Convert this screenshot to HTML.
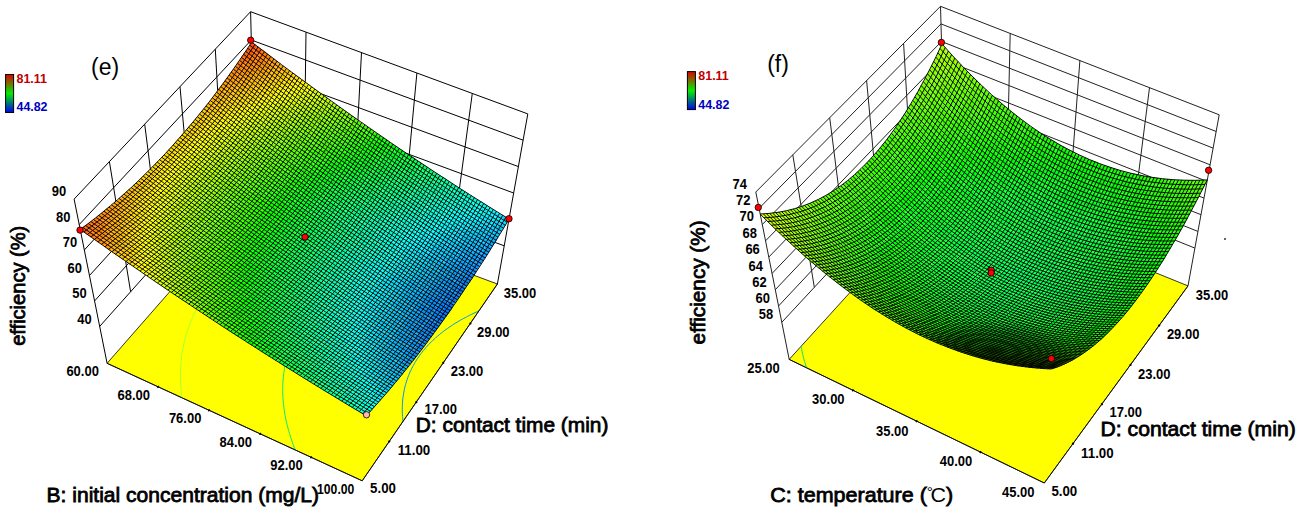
<!DOCTYPE html>
<html><head><meta charset="utf-8"><style>
html,body{margin:0;padding:0;background:#fff;}
body{width:1302px;height:518px;overflow:hidden;position:relative;font-family:"Liberation Sans",sans-serif;}
svg{position:absolute;left:0;top:0;}
</style></head><body>
<svg width="1302" height="518" viewBox="0 0 1302 518">
<defs><radialGradient id="dk"><stop offset="0" stop-color="#000" stop-opacity="0.45"/><stop offset="0.6" stop-color="#000" stop-opacity="0.315"/><stop offset="1" stop-color="#000" stop-opacity="0"/></radialGradient><linearGradient id="lg" x1="0" y1="0" x2="0" y2="1"><stop offset="0" stop-color="#e00000"/><stop offset="0.5" stop-color="#00f000"/><stop offset="1" stop-color="#0000f0"/></linearGradient></defs>
<path d="M99.7 326.4L254.1 153.2M254.1 153.2L504.2 245.8M94.6 300.9L253.4 124.9M253.4 124.9L508.9 219.4M89.5 275.5L252.7 96.6M252.7 96.6L513.6 193M84.3 250L252 68.3M252 68.3L518.4 166.6M79.2 224.6L251.3 40M251.3 40L523.1 140.2M74.1 199.1L250.6 11.7M250.6 11.7L527.8 113.9M130.6 291.7L109.4 161.6M161.5 257.1L144.7 124.2M192.3 222.4L180 86.7M223.2 187.8L215.3 49.2M304.1 171.7L306 32.1M354.2 190.2L361.5 52.6M404.2 208.7L416.9 73M454.2 227.3L472.3 93.4M107.1 363.3L74.1 199.1M497.4 284L527.8 113.9M254.1 153.2L250.6 11.7" fill="none" stroke="#000" stroke-width="1"/>
<polygon points="107.1,363.3 362.2,480.8 497.4,284 255.1,194.2" fill="#ffff00" stroke="#000" stroke-width="0.8"/>
<path d="M181.8 395.9L181.7 395.5M182 397.9L181.8 395.9M181.7 395.5L181.4 393.1M181.4 392.8L181.2 390.7M181.4 393.1L181.4 392.8M181.1 389.7L181 388.3M181.2 390.7L181.1 389.7M180.8 386.5L180.8 386M181 388.3L180.8 386.5M180.8 386L180.7 383.7M180.6 383.2L180.6 381.4M180.7 383.7L180.6 383.2M180.5 379.9L180.5 379.1M180.6 381.4L180.5 379.9M180.5 379.1L180.5 376.8M180.5 376.5L180.5 374.6M180.5 376.8L180.5 376.5M180.5 373L180.5 372.4M180.5 374.6L180.5 373M180.5 372.4L180.5 370.2M180.6 369.4L180.6 368M180.5 370.2L180.6 369.4M180.6 368L180.8 365.8M180.8 365.7L180.9 363.7M180.8 365.8L180.8 365.7M181.1 361.9L181.1 361.6M180.9 363.7L181.1 361.9M181.1 361.6L181.3 359.5M181.5 358L181.5 357.4M181.3 359.5L181.5 358M181.5 357.4L181.8 355.3M182 354L182.1 353.2M181.8 355.3L182 354M182.1 353.2L182.4 351.2M182.7 349.7L182.8 349.2M182.4 351.2L182.7 349.7M182.8 349.2L183.2 347.2M183.5 345.3L183.6 345.2M183.2 347.2L183.5 345.3M183.6 345.2L184 343.2M184 343.2L184.5 341.3M184.6 340.6L184.9 339.3M184.5 341.3L184.6 340.6M184.9 339.3L185.5 337.4M186 335.6L186 335.5M185.5 337.4L186 335.6M186 335.5L186.6 333.6M186.6 333.6L187.1 331.7M187.6 330.3L187.8 329.8M187.1 331.7L187.6 330.3M187.8 329.8L188.4 328M188.4 328L189.1 326.2M189.7 324.4L189.7 324.3M189.1 326.2L189.7 324.4M189.7 324.3L190.5 322.5M190.5 322.5L191.2 320.7M191.2 320.7L191.9 319M192.5 317.7L192.7 317.2M191.9 319L192.5 317.7M192.7 317.2L193.5 315.5M193.5 315.5L194.4 313.7M194.4 313.7L195.2 312M195.2 312L196.1 310.3M196.4 309.8L197 308.6M196.1 310.3L196.4 309.8M197 308.6L197.9 306.9M197.9 306.9L198.8 305.3M198.8 305.3L199.8 303.6M199.8 303.6L200.8 302M200.8 302L201.8 300.3M201.8 300.3L202.8 298.7M202.8 298.7L203.9 297.1M202.8 298.7L202.8 298.7M203.9 297.1L204.9 295.5M204.9 295.5L206 293.9M206 293.9L207.1 292.4M207.1 292.4L208.3 290.8M208.3 290.8L209.4 289.3M209.4 289.3L210.6 287.8M210.6 287.8L211.8 286.2M211.8 286.2L213 284.7M213 284.7L214.3 283.2M214.3 283.2L215.5 281.8M215.5 281.8L216.8 280.3M216.8 280.3L218.1 278.8M218.1 278.8L219.4 277.4M219.4 277.4L220.8 276M220.8 276L222.1 274.5M222.1 274.5L223.5 273.1M223.5 273.1L224.9 271.7M224.9 271.7L226.3 270.3M226.3 270.3L226.6 270.1M227.8 269L226.6 270.1M227.8 269L229.2 267.6M229.2 267.6L230.7 266.2M230.7 266.2L232.2 264.9M232.2 264.9L233.7 263.6M233.7 263.6L235.3 262.3M235.3 262.3L236.8 260.9M236.8 260.9L236.9 260.9M238.4 259.6L236.9 260.9M238.4 259.6L240 258.4M240 258.4L241.6 257.1M241.6 257.1L243.2 255.8M243.2 255.8L244.6 254.8M244.9 254.6L244.6 254.8M244.9 254.6L246.6 253.3M246.6 253.3L248.3 252.1M248.3 252.1L250 250.9M250 250.9L251.2 250M251.7 249.6L251.2 250M251.7 249.6L253.5 248.4M253.5 248.4L255.2 247.2M255.2 247.2L257 246.1M257 246.1L257.1 246M258.8 244.9L257.1 246M258.8 244.9L260.7 243.7M260.7 243.7L262.5 242.6M262.5 242.6L262.6 242.5M264.4 241.4L262.6 242.5M264.4 241.4L266.3 240.3M266.3 240.3L267.8 239.4M268.2 239.2L267.8 239.4M268.2 239.2L270.1 238.1M270.1 238.1L272 237M272 237L272.7 236.6M274 235.9L272.7 236.6M274 235.9L276 234.8M276 234.8L277.5 234M278 233.8L277.5 234M278 233.8L280 232.7M280 232.7L282 231.7M282.1 231.7L282 231.7M282.1 231.7L284.1 230.6M284.1 230.6L286.2 229.6M286.2 229.6L286.4 229.5M288.3 228.6L286.4 229.5M288.3 228.6L290.4 227.6M290.4 227.6L290.7 227.4M292.6 226.6L290.7 227.4M292.6 226.6L294.7 225.6M294.7 225.6L294.9 225.5M296.9 224.6L294.9 225.5M296.9 224.6L298.9 223.7M299.1 223.6L298.9 223.7M299.1 223.6L301.4 222.7M301.4 222.7L302.9 222M303.6 221.7L302.9 222M303.6 221.7L305.9 220.8M305.9 220.8L306.8 220.4M308.1 219.9L306.8 220.4M308.1 219.9L310.4 219M310.4 219L310.7 218.9M312.8 218.1L310.7 218.9M312.8 218.1L314.4 217.4M315.1 217.2L314.4 217.4M315.1 217.2L317.5 216.3M317.5 216.3L318.2 216M319.9 215.4L318.2 216M319.9 215.4L321.8 214.7M322.3 214.5L321.8 214.7M322.3 214.5L324.7 213.7" fill="none" stroke="#a8ff30" stroke-width="1"/>
<path d="M294.4 447.9L294.2 447.2M295.3 450.1L294.4 447.9M293.4 445.2L293.1 444.4M294.2 447.2L293.4 445.2M292.5 442.6L292.1 441.6M293.1 444.4L292.5 442.6M291.6 439.9L291.2 438.9M292.1 441.6L291.6 439.9M290.7 437.2L290.3 436.1M291.2 438.9L290.7 437.2M289.8 434.4L289.5 433.5M290.3 436.1L289.8 434.4M289 431.6L288.7 430.8M289.5 433.5L289 431.6M288.2 428.8L288 428.2M288.7 430.8L288.2 428.8M287.4 425.9L287.3 425.6M288 428.2L287.4 425.9M287.3 425.6L286.7 423M286.7 422.9L286.1 420.5M286.7 423L286.7 422.9M286 420L285.6 417.9M286.1 420.5L286 420M285.4 416.9L285.1 415.4M285.6 417.9L285.4 416.9M284.9 413.8L284.7 413M285.1 415.4L284.9 413.8M284.3 410.7L284.3 410.5M284.7 413L284.3 410.7M284.3 410.5L284 408.1M283.9 407.5L283.7 405.7M284 408.1L283.9 407.5M283.5 404.2L283.4 403.4M283.7 405.7L283.5 404.2M283.4 403.4L283.2 401M283.2 400.8L283 398.7M283.2 401L283.2 400.8M282.9 397.4L282.9 396.4M283 398.7L282.9 397.4M282.9 396.4L282.8 394.1M282.8 393.8L282.7 391.9M282.8 394.1L282.8 393.8M282.7 390.1L282.7 389.7M282.7 391.9L282.7 390.1M282.7 389.7L282.7 387.5M282.8 386.3L282.8 385.3M282.7 387.5L282.8 386.3M282.8 385.3L282.9 383.1M282.9 382.4L283 381M282.9 383.1L282.9 382.4M283 381L283.2 378.8M283.2 378.3L283.4 376.7M283.2 378.8L283.2 378.3M283.4 376.7L283.6 374.7M283.7 373.9L283.9 372.6M283.6 374.7L283.7 373.9M283.9 372.6L284.2 370.5M284.4 369.4L284.5 368.5M284.2 370.5L284.4 369.4M284.5 368.5L284.9 366.5M284.9 366.5L285.3 364.5M285.3 364.5L285.7 362.6M285.3 364.5L285.3 364.5M285.7 362.6L286.2 360.6M286.5 359.2L286.7 358.7M286.2 360.6L286.5 359.2M286.7 358.7L287.2 356.8M287.2 356.8L287.8 354.9M288.2 353.3L288.4 353M287.8 354.9L288.2 353.3M288.4 353L289 351.1M289 351.1L289.6 349.3M289.6 349.3L290.3 347.5M290.6 346.6L291 345.6M290.3 347.5L290.6 346.6M291 345.6L291.7 343.8M291.7 343.8L292.5 342.1M292.5 342.1L293.3 340.3M293.3 340.3L294.1 338.6M294.3 338.2L295 336.8M294.1 338.6L294.3 338.2M295 336.8L295.9 335.1M295.9 335.1L296.8 333.4M296.8 333.4L297.7 331.7M297.7 331.7L298.7 330.1M298.7 330.1L299.6 328.4M299.6 328.4L300.7 326.8M300.7 326.8L301.7 325.1M302.3 324.3L302.8 323.5M301.7 325.1L302.3 324.3M302.8 323.5L303.9 321.9M303.9 321.9L305 320.4M305 320.4L306.1 318.8M306.1 318.8L307.3 317.2M307.3 317.2L308.5 315.7M308.5 315.7L309.7 314.2M309.7 314.2L311 312.7M311 312.7L312.3 311.2M312.3 311.2L313.1 310.2M313.6 309.7L313.1 310.2M313.6 309.7L314.9 308.2M314.9 308.2L316.2 306.8M316.2 306.8L317.6 305.3M317.6 305.3L319 303.9M319 303.9L320.4 302.5M320.4 302.5L321.9 301.1M321.9 301.1L323.4 299.7M323.4 299.7L324.9 298.3M324.9 298.3L325.2 298.1M326.4 297L325.2 298.1M326.4 297L327.9 295.6M327.9 295.6L329.5 294.3M329.5 294.3L331.1 293M331.1 293L332.7 291.7M332.7 291.7L332.9 291.6M334.4 290.4L332.9 291.6M334.4 290.4L336 289.1M336 289.1L337.7 287.8M337.7 287.8L339.3 286.7M339.5 286.6L339.3 286.7M339.5 286.6L341.2 285.3M341.2 285.3L343 284.1M343 284.1L344.8 282.9M344.8 282.9L345 282.7M346.6 281.7L345 282.7M346.6 281.7L348.4 280.5M348.4 280.5L350.3 279.3M350.3 279.3L350.3 279.3M352.2 278.1L350.3 279.3M352.2 278.1L354.1 277M354.1 277L355.3 276.3M356.1 275.9L355.3 276.3M356.1 275.9L358 274.7M358 274.7L360 273.6M360 273.6L360 273.6M362 272.5L360 273.6M362 272.5L364.1 271.4M364.1 271.4L364.6 271.2M366.1 270.3L364.6 271.2M366.1 270.3L368.2 269.3M368.2 269.3L368.9 268.9M370.3 268.2L368.9 268.9M370.3 268.2L372.5 267.2M372.5 267.2L373.2 266.8M374.6 266.1L373.2 266.8M374.6 266.1L376.8 265.1M376.8 265.1L377.3 264.9M379 264.1L377.3 264.9M379 264.1L381.3 263.1M381.3 263.1L381.3 263.1M383.6 262.1L381.3 263.1M383.6 262.1L385.2 261.4M385.8 261.2L385.2 261.4M385.8 261.2L388.2 260.2M388.2 260.2L389.1 259.9M390.5 259.3L389.1 259.9M390.5 259.3L392.9 258.4M392.9 258.4L392.9 258.4M392.9 258.4L395.3 257.4M395.3 257.4L396.6 257M397.7 256.5L396.6 257M397.7 256.5L400.1 255.6M400.1 255.6L400.2 255.6M402.6 254.8L400.2 255.6M402.6 254.8L403.8 254.4M405.1 253.9L403.8 254.4M405.1 253.9L407.4 253.1M407.7 253L407.4 253.1M407.7 253L410.2 252.2M410.2 252.2L410.9 252M412.8 251.4L410.9 252M412.8 251.4L414.3 250.9M415.4 250.6L414.3 250.9" fill="none" stroke="#00e878" stroke-width="1"/>
<path d="M403 421.3L403 421.1M403 421.1L402.7 418.8M402.6 417.7L402.5 416.5M402.7 418.8L402.6 417.7M402.5 416.5L402.4 414.2M402.4 413.8L402.3 411.9M402.4 414.2L402.4 413.8M402.3 409.8L402.3 409.7M402.3 411.9L402.3 409.8M402.3 409.7L402.3 407.5M402.4 405.6L402.4 405.4M402.3 407.5L402.4 405.6M402.4 405.4L402.5 403.2M402.6 401.1L402.6 401.1M402.5 403.2L402.6 401.1M402.6 401.1L402.8 399M402.8 399L403.1 396.9M403.2 396.2L403.4 394.9M403.1 396.9L403.2 396.2M403.4 394.9L403.7 392.9M404.1 390.9L404.1 390.9M403.7 392.9L404.1 390.9M404.1 390.9L404.5 388.9M404.5 388.9L404.9 386.9M404.9 386.9L405.4 385M405.5 384.7L406 383.1M405.4 385L405.5 384.7M406 383.1L406.6 381.2M406.6 381.2L407.2 379.3M407.2 379.3L407.8 377.5M407.9 377.2L408.5 375.6M407.8 377.5L407.9 377.2M408.5 375.6L409.3 373.8M409.3 373.8L410 372M410 372L410.9 370.3M410.9 370.3L411.7 368.5M411.7 368.5L412.6 366.8M413.1 365.8L413.5 365.1M412.6 366.8L413.1 365.8M413.5 365.1L414.5 363.4M414.5 363.4L415.5 361.7M415.5 361.7L416.5 360M416.5 360L417.6 358.4M417.6 358.4L418.7 356.8M418.7 356.8L419.8 355.2M419.8 355.2L421 353.6M421 353.6L422.2 352.1M422.2 352.1L423.4 350.5M423.4 350.5L424.7 349M424.7 349L425.8 347.7M426 347.5L425.8 347.7M426 347.5L427.3 346M427.3 346L428.7 344.5M428.7 344.5L430.1 343.1M430.1 343.1L431.6 341.6M431.6 341.6L433 340.2M433 340.2L434.6 338.8M434.6 338.8L435.3 338.2M436.1 337.4L435.3 338.2M436.1 337.4L437.7 336M437.7 336L439.3 334.7M439.3 334.7L440.9 333.3M440.9 333.3L441.9 332.6M442.6 332L441.9 332.6M442.6 332L444.3 330.7M444.3 330.7L446.1 329.4M446.1 329.4L447.7 328.3M447.9 328.2L447.7 328.3M447.9 328.2L449.7 326.9M449.7 326.9L451.5 325.7M451.5 325.7L452.8 324.8M453.4 324.4L452.8 324.8M453.4 324.4L455.3 323.2M455.3 323.2L457.2 322.1M457.2 322.1L457.7 321.8M459.2 320.9L457.7 321.8M459.2 320.9L461.2 319.7M461.2 319.7L462.2 319.2M463.3 318.6L462.2 319.2M463.3 318.6L465.4 317.5M465.4 317.5L466.6 316.8M467.5 316.4L466.6 316.8M467.5 316.4L469.6 315.3M469.6 315.3L470.8 314.7M471.8 314.2L470.8 314.7M471.8 314.2L474 313.1M474 313.1L474.9 312.7M476.3 312.1L474.9 312.7M476.3 312.1L478.6 311.1M478.6 311.1L478.8 311" fill="none" stroke="#0096e6" stroke-width="1"/>
<path d="M107.1 363.3L362.2 480.8L497.4 284" fill="none" stroke="#000" stroke-width="0.8"/>
<path d="M158.8 386.1l-1.5 1.5M209.8 409.6l-1.5 1.5M260.9 433.1l-1.5 1.5M311.9 456.6l-1.5 1.5M388.5 440.7l1.5 1.5M415.6 401.4l1.5 1.5M442.6 362l1.5 1.5M469.7 322.7l1.5 1.5" fill="none" stroke="#000" stroke-width="1.6"/>
<path d="M80 229 86 234 90 231 84 226" fill="#ff5c00"/>
<path d="M86 234 92 238 96 235 90 231M251 56 256 60 259 55 254 51" fill="#ff6d00"/>
<path d="M92 238 98 242 102 239 96 235" fill="#ff7e00"/>
<path d="M98 242 104 246 108 243 102 239" fill="#ff8f00"/>
<path d="M104 246 110 251 114 247 108 243" fill="#ffa000"/>
<path d="M110 251 116 255 120 252 114 247M115 211 121 216 124 212 119 208M228 88 234 92 237 88 231 84M264 73 269 77 272 72 267 68" fill="#ffb000"/>
<path d="M116 255 122 259 126 256 120 252M121 216 126 220 130 216 124 212" fill="#ffc100"/>
<path d="M122 259 128 263 132 260 126 256M134 194 140 199 144 195 138 191M143 176 149 180 153 177 147 173M212 110 217 114 221 110 215 105M227 101 233 105 236 101 230 97" fill="#ffd100"/>
<path d="M128 263 134 267 138 264 132 260M128 245 134 249 138 246 132 242M134 213 140 217 144 214 138 210" fill="#ffe100"/>
<path d="M134 267 140 271 144 268 138 264M134 249 140 253 144 250 138 246M151 188 157 192 160 189 155 184M207 126 213 131 216 126 211 122M253 100 259 104 262 99 257 95" fill="#fff100"/>
<path d="M140 271 146 275 150 272 144 268M176 162 182 166 185 162 180 158M180 158 185 162 189 159 183 155M183 155 189 159 192 155 187 151M247 109 252 113 256 108 250 104" fill="#feff00"/>
<path d="M146 275 152 279 156 276 150 272M153 214 159 219 163 215 157 211M175 174 180 178 184 174 178 170M196 151 201 155 205 151 199 147M299 92 305 96 308 91 303 87" fill="#eeff00"/>
<path d="M152 279 158 283 162 280 156 276M177 182 183 186 186 182 180 178M246 121 251 125 255 121 249 117" fill="#dfff00"/>
<path d="M158 283 164 288 168 284 162 280M278 111 284 115 287 111 281 107M290 106 295 110 299 105 293 101" fill="#cfff00"/>
<path d="M164 288 170 292 174 288 168 284M165 241 171 245 175 242 169 238" fill="#c0ff00"/>
<path d="M170 292 176 296 180 292 174 288M170 256 175 260 179 256 173 252M178 220 184 224 188 220 182 216M187 201 193 205 196 202 190 198M232 151 237 155 240 151 235 147M265 129 271 133 274 129 269 125" fill="#b1ff00"/>
<path d="M176 296 182 300 186 296 180 292M179 238 184 242 188 239 182 235" fill="#a2ff00"/>
<path d="M182 300 188 303 192 300 186 296" fill="#94ff00"/>
<path d="M188 303 194 307 198 304 192 300M192 235 198 239 201 236 195 232M216 190 221 194 225 191 219 187M219 187 225 191 228 187 223 183M223 183 228 187 232 183 226 179M226 179 232 183 235 179 229 175M255 154 260 158 263 154 258 150" fill="#85ff00"/>
<path d="M194 307 200 311 204 308 198 304M191 282 197 286 201 283 195 279M214 202 220 206 223 202 218 198M238 175 244 179 247 175 242 171M279 145 284 149 287 145 282 141" fill="#77ff00"/>
<path d="M200 311 206 315 210 312 204 308M217 210 222 214 226 210 220 206M311 135 316 138 319 134 314 130" fill="#69ff00"/>
<path d="M206 315 212 319 215 316 210 312M204 262 210 265 213 262 208 258M210 236 216 240 220 236 214 232" fill="#5bff00"/>
<path d="M212 319 218 323 221 320 215 316M208 276 214 280 218 277 212 273M211 255 217 258 220 255 215 251M345 131 350 135 353 130 348 127" fill="#4dff00"/>
<path d="M218 323 224 327 227 324 221 320M227 229 232 233 236 229 230 225M273 174 279 178 282 174 277 170" fill="#3fff00"/>
<path d="M224 327 229 331 233 327 227 324M224 251 230 255 233 252 228 248M282 174 288 178 291 173 285 170M312 156 318 159 321 155 315 151" fill="#32ff00"/>
<path d="M229 331 235 335 239 331 233 327M224 299 230 303 234 299 228 295M246 218 252 222 255 218 249 214M266 194 271 198 275 194 269 190" fill="#25ff00"/>
<path d="M235 335 241 338 245 335 239 331M230 303 236 306 240 303 234 299M275 194 280 198 284 194 278 190M296 177 302 181 305 177 300 173" fill="#17ff00"/>
<path d="M241 338 247 342 251 339 245 335M235 288 241 292 244 289 239 285M236 277 242 281 246 278 240 274M242 252 248 256 252 252 246 248M332 162 337 166 340 162 335 158" fill="#0aff00"/>
<path d="M247 342 253 346 257 343 251 339M245 335 251 339 254 336 249 332M253 241 258 245 262 241 256 237" fill="#00ff02"/>
<path d="M253 346 259 350 263 347 257 343M251 339 257 343 260 339 254 336M250 263 256 267 259 263 254 260M319 180 324 184 328 179 322 176" fill="#00ff0f"/>
<path d="M259 350 265 354 269 350 263 347M251 311 257 314 261 311 255 307M261 252 266 256 270 252 264 248M310 193 315 196 318 192 313 188M339 174 345 178 348 174 342 170" fill="#00ff1c"/>
<path d="M265 354 271 357 275 354 269 350M263 347 269 350 272 347 266 343M256 296 262 300 265 297 259 293M257 285 263 289 266 286 261 282M277 233 283 237 286 233 281 229M294 213 299 217 302 213 297 209M318 192 324 196 327 192 321 188M333 183 338 187 342 182 336 179M399 155 404 159 407 154 402 150" fill="#00ff28"/>
<path d="M271 357 277 361 280 358 275 354M269 350 275 354 278 351 272 347M266 343 272 347 276 343 270 340M276 245 282 248 285 245 280 241M306 209 311 213 314 209 309 205M353 177 359 181 362 176 356 173M365 172 370 176 373 171 368 167" fill="#00ff34"/>
<path d="M277 361 283 365 286 361 280 358M272 347 278 351 282 347 276 343M279 252 284 256 287 252 282 248M347 186 352 190 355 185 350 182" fill="#00ff40"/>
<path d="M283 365 289 369 292 365 286 361M278 351 284 354 287 351 282 347" fill="#00ff4c"/>
<path d="M289 369 295 372 298 369 292 365M282 347 287 351 291 347 285 344M277 304 282 308 286 304 280 300M278 293 283 297 287 293 281 289M331 208 337 211 340 207 335 203M361 189 366 193 369 188 364 185M384 178 389 182 392 177 387 174" fill="#00ff58"/>
<path d="M295 372 301 376 304 373 298 369M287 351 293 355 297 351 291 347M284 286 290 290 294 286 288 282M289 271 294 275 298 271 292 267M303 244 308 248 312 244 306 240M313 232 318 236 321 232 316 228M316 228 321 232 324 228 319 224M355 198 360 201 363 197 358 193" fill="#00ff64"/>
<path d="M301 376 307 380 310 376 304 373M291 347 297 351 300 348 294 344M287 322 293 326 296 322 291 319M302 256 308 259 311 256 305 252M328 224 333 227 336 223 331 220M426 173 431 176 434 172 429 168" fill="#00ff6f"/>
<path d="M307 380 313 383 316 380 310 376M297 351 303 355 306 351 300 348M297 282 302 286 306 282 300 278M304 263 310 267 313 263 308 259M336 223 342 227 345 223 339 219M369 201 374 204 377 200 372 196" fill="#00ff7b"/>
<path d="M313 383 319 387 322 384 316 380M297 312 303 315 306 312 301 308M298 301 304 304 307 301 302 297M307 271 312 274 316 271 310 267" fill="#00ff86"/>
<path d="M319 387 324 391 328 387 322 384M306 351 312 355 315 351 309 348M302 326 308 330 311 326 305 323M305 293 311 297 314 293 308 289M309 278 315 282 318 278 312 274M383 203 388 207 391 203 386 199M425 186 430 189 433 185 428 181" fill="#00ff91"/>
<path d="M324 391 330 394 334 391 328 387M325 259 331 263 334 259 328 255M338 243 343 247 346 242 341 239M362 222 367 225 370 221 365 217M376 212 382 216 385 211 380 208" fill="#00ff9c"/>
<path d="M330 394 336 398 340 394 334 391M313 304 319 308 322 304 316 301M370 221 376 224 379 220 373 217M396 206 402 210 405 205 399 202M408 201 413 204 416 200 411 196M447 187 452 190 455 185 450 182" fill="#00ffa6"/>
<path d="M336 398 342 401 346 398 340 394M317 330 323 333 326 330 320 326M361 234 367 237 370 233 364 229M424 199 430 202 433 197 427 194" fill="#00ffb1"/>
<path d="M342 401 348 405 352 402 346 398M370 233 375 237 378 232 373 229M410 209 416 212 419 208 413 204" fill="#00ffbb"/>
<path d="M348 405 354 409 358 405 352 402M328 348 333 352 337 348 331 344M326 330 332 333 335 330 329 326M328 308 333 311 336 308 331 304M332 293 337 296 340 293 335 289M345 266 351 269 354 265 348 262M354 254 360 257 363 253 357 250M378 232 384 236 387 232 381 228M393 223 398 226 401 222 396 219" fill="#00ffc5"/>
<path d="M354 409 360 412 364 409 358 405M387 232 392 235 395 231 390 227M413 217 418 220 421 216 416 212M444 204 449 208 452 203 447 200" fill="#00ffcf"/>
<path d="M360 412 366 416 370 412 364 409M337 348 343 352 346 348 340 344M344 289 349 292 352 288 347 285M378 244 383 248 386 244 381 240M468 200 474 204 477 199 471 196" fill="#00ffd9"/>
<path d="M84 226 90 231 95 227 89 223" fill="#ff6700"/>
<path d="M90 231 96 235 101 232 95 227M248 61 253 65 256 60 251 56" fill="#ff7800"/>
<path d="M96 235 102 239 107 236 101 232" fill="#ff8900"/>
<path d="M102 239 108 243 113 240 107 236" fill="#ff9a00"/>
<path d="M108 243 114 247 118 244 113 240" fill="#ffab00"/>
<path d="M114 247 120 252 124 248 118 244M249 83 254 87 257 82 252 78" fill="#ffbb00"/>
<path d="M120 252 126 256 130 253 124 248M196 118 202 122 205 118 200 114M266 81 272 85 275 81 269 77" fill="#ffcc00"/>
<path d="M126 256 132 260 136 257 130 253M161 158 167 162 171 158 165 154M165 154 171 158 174 154 168 150M168 150 174 154 178 150 172 146M172 146 178 150 181 147 175 142M236 101 241 105 245 100 239 96" fill="#ffdc00"/>
<path d="M132 260 138 264 142 261 136 257M134 231 140 235 144 232 138 228M147 192 153 196 157 192 151 188M163 166 169 170 173 166 167 162M185 143 190 147 194 143 188 139" fill="#ffec00"/>
<path d="M138 264 144 268 148 265 142 261M142 225 148 229 152 225 146 221M166 173 171 178 175 174 169 170M235 113 240 117 244 113 238 109" fill="#fffc00"/>
<path d="M144 268 150 272 154 269 148 265M168 181 173 185 177 182 171 178M203 143 208 147 212 143 206 139M225 126 230 130 234 126 228 122M267 103 273 107 276 103 271 99M279 98 285 102 288 97 282 93" fill="#f2ff00"/>
<path d="M150 272 156 276 160 273 154 269M150 254 156 258 160 255 154 251M155 222 161 226 165 223 159 219M161 207 167 212 170 208 165 204M296 97 302 101 305 96 299 92" fill="#e3ff00"/>
<path d="M156 276 162 280 166 277 160 273M156 258 162 262 166 259 160 255M161 226 167 230 171 227 165 223M175 193 181 197 185 194 179 189M239 130 245 134 248 130 243 126M255 121 260 125 263 121 258 117" fill="#d3ff00"/>
<path d="M162 280 168 284 172 281 166 277" fill="#c4ff00"/>
<path d="M168 284 174 288 178 285 172 281M280 120 286 124 289 119 284 115M292 114 298 118 301 114 295 110" fill="#b5ff00"/>
<path d="M174 288 180 292 184 289 178 285M180 227 186 231 190 228 184 224M274 129 280 132 283 128 277 124M309 113 315 117 318 112 312 108" fill="#a6ff00"/>
<path d="M180 292 186 296 190 293 184 289M191 217 197 221 200 217 195 213M207 190 212 194 216 190 210 186M224 171 229 175 233 171 227 167" fill="#97ff00"/>
<path d="M186 296 192 300 196 297 190 293M209 198 214 202 218 198 212 194M273 141 279 145 282 141 276 137M332 115 337 119 340 114 335 110" fill="#88ff00"/>
<path d="M192 300 198 304 201 301 196 297M191 264 197 268 200 265 194 261M192 254 198 258 202 254 196 250M305 131 311 135 314 130 308 126" fill="#7aff00"/>
<path d="M198 304 204 308 207 305 201 301M197 268 202 272 206 269 200 265M205 232 210 236 214 232 208 228" fill="#6bff00"/>
<path d="M204 308 210 312 213 309 207 305M339 127 345 131 348 127 342 123" fill="#5dff00"/>
<path d="M210 312 215 316 219 313 213 309M221 225 227 229 230 225 224 221M268 170 273 174 277 170 271 166" fill="#4fff00"/>
<path d="M215 316 221 320 225 316 219 313M213 291 218 295 222 291 216 287M218 247 224 251 228 248 222 244M330 141 335 145 338 141 333 137" fill="#41ff00"/>
<path d="M221 320 227 324 231 320 225 316M244 210 249 214 253 210 247 206M257 194 263 198 266 194 260 190" fill="#34ff00"/>
<path d="M227 324 233 327 237 324 231 320M291 173 296 177 300 173 294 169M306 164 311 168 314 164 309 160" fill="#26ff00"/>
<path d="M233 327 239 331 243 328 237 324M229 284 235 288 239 285 233 281M237 248 242 252 246 248 240 244M278 190 284 194 287 190 281 186M326 159 332 162 335 158 329 154M338 153 343 157 346 153 341 149" fill="#19ff00"/>
<path d="M239 331 245 335 249 332 243 328M238 267 243 270 247 267 241 263M250 233 256 237 259 233 254 229M305 177 310 180 314 176 308 172M355 152 360 155 363 151 358 147" fill="#0bff00"/>
<path d="M257 343 263 347 266 343 260 339M278 222 284 225 287 221 282 218M282 218 287 221 290 217 285 214" fill="#00ff1b"/>
<path d="M275 354 280 358 284 354 278 351M314 209 320 212 323 208 317 204M332 195 338 199 341 195 335 191M381 170 387 174 390 169 384 165M401 163 407 167 410 162 404 159" fill="#00ff41"/>
<path d="M280 358 286 361 290 358 284 354M272 318 278 322 281 319 276 315M276 275 282 278 286 275 280 271M323 208 328 212 331 208 326 204" fill="#00ff4d"/>
<path d="M286 361 292 365 296 362 290 358M284 354 290 358 293 355 287 351M287 263 292 267 295 263 290 260M372 184 378 187 381 183 375 179M404 172 409 175 412 170 407 167" fill="#00ff59"/>
<path d="M292 365 298 369 302 365 296 362M290 358 296 362 299 358 293 355M282 308 288 311 292 308 286 304M306 240 312 244 315 240 309 236M309 236 315 240 318 236 313 232" fill="#00ff65"/>
<path d="M298 369 304 373 308 369 302 365M296 362 302 365 305 362 299 358M293 355 299 358 303 355 297 351" fill="#00ff70"/>
<path d="M304 373 310 376 313 373 308 369M302 365 308 369 311 366 305 362M299 358 305 362 308 359 303 355M293 326 299 330 302 326 296 322M354 210 360 214 363 209 357 206M380 195 386 199 389 195 383 191M392 190 397 194 400 189 395 185" fill="#00ff7c"/>
<path d="M310 376 316 380 319 376 313 373M305 362 311 366 314 362 308 359M303 355 308 359 312 355 306 351M345 223 350 226 353 222 348 219M428 181 433 185 436 180 431 176" fill="#00ff87"/>
<path d="M316 380 322 384 325 380 319 376M308 359 314 362 318 359 312 355M353 222 359 226 362 222 356 218M394 198 399 202 402 197 397 194" fill="#00ff92"/>
<path d="M322 384 328 387 331 384 325 380M312 355 318 359 321 355 315 351M308 330 314 333 317 330 311 326M328 255 334 259 337 255 331 251M331 251 337 255 340 251 335 247M335 247 340 251 343 247 338 243" fill="#00ff9d"/>
<path d="M328 387 334 391 337 387 331 384M318 359 324 362 327 359 321 355M317 289 323 293 326 289 320 286M328 267 333 270 336 266 331 263M427 194 433 197 436 193 430 189" fill="#00ffa8"/>
<path d="M334 391 340 394 343 391 337 387M318 319 324 323 327 319 321 315M319 308 324 312 328 308 322 304M358 238 364 241 367 237 361 234M390 215 396 219 399 214 393 211M413 204 419 208 422 203 416 200M452 190 458 194 461 189 455 185" fill="#00ffb3"/>
<path d="M340 394 346 398 349 394 343 391M325 300 331 304 334 300 328 297M384 224 390 227 393 223 387 219M449 195 455 198 458 194 452 190" fill="#00ffbd"/>
<path d="M346 398 352 402 355 398 349 394M404 218 410 221 413 217 407 213M416 212 421 216 424 211 419 208" fill="#00ffc8"/>
<path d="M352 402 358 405 361 402 355 398M333 322 338 326 341 322 336 319M333 311 339 315 342 311 336 308M337 296 343 300 346 296 340 293M347 273 353 277 356 273 351 269M363 253 368 257 372 253 366 249" fill="#00ffd2"/>
<path d="M358 405 364 409 367 405 361 402M339 355 345 359 348 355 343 352M392 235 398 239 401 234 395 231M418 220 423 224 426 219 421 216M449 208 454 211 457 207 452 203" fill="#00ffdc"/>
<path d="M364 409 370 412 373 409 367 405M383 248 389 251 392 247 386 244M474 204 479 207 482 202 477 199" fill="#00ffe6"/>
<path d="M89 223 95 227 99 224 93 220" fill="#ff7200"/>
<path d="M95 227 101 232 105 229 99 224M233 70 238 74 241 70 236 66" fill="#ff8300"/>
<path d="M101 232 107 236 111 233 105 229" fill="#ff9400"/>
<path d="M107 236 113 240 117 237 111 233M219 88 225 92 228 88 223 84M267 68 272 72 276 67 270 63" fill="#ffa500"/>
<path d="M113 240 118 244 122 241 117 237" fill="#ffb600"/>
<path d="M118 244 124 248 128 245 122 241" fill="#ffc600"/>
<path d="M124 248 130 253 134 249 128 245M132 205 138 210 142 206 136 202M151 169 156 173 160 169 154 165M224 105 229 109 233 105 227 101" fill="#ffd700"/>
<path d="M130 253 136 257 140 253 134 249M245 100 250 104 253 100 248 96" fill="#ffe700"/>
<path d="M136 257 142 261 146 258 140 253M158 181 164 185 168 181 162 177" fill="#fff700"/>
<path d="M142 261 148 265 152 262 146 258M209 135 215 139 218 135 213 131M228 122 234 126 237 122 232 118M244 113 249 117 252 113 247 109" fill="#f7ff00"/>
<path d="M148 265 154 269 158 266 152 262M166 193 172 197 175 193 170 189" fill="#e7ff00"/>
<path d="M154 269 160 273 164 270 158 266M156 240 162 244 165 241 160 237M270 112 275 116 278 111 273 107" fill="#d8ff00"/>
<path d="M160 273 166 277 170 274 164 270M162 244 167 248 171 245 165 241M299 105 304 109 307 104 302 101" fill="#c8ff00"/>
<path d="M166 277 172 281 176 278 170 274M169 238 175 242 179 238 173 234M195 182 201 186 204 182 199 178M213 163 218 167 222 163 216 159" fill="#b9ff00"/>
<path d="M172 281 178 285 182 282 176 278M172 263 177 267 181 264 175 260M222 163 227 167 230 163 225 159M262 133 268 137 271 133 265 129" fill="#aaff00"/>
<path d="M178 285 184 289 188 286 182 282M177 267 183 271 187 268 181 264M188 220 193 224 197 221 191 217M200 198 205 202 209 198 203 194M294 123 300 127 303 122 298 118" fill="#9bff00"/>
<path d="M184 289 190 293 193 290 188 286M183 271 189 275 193 272 187 268M188 239 194 243 198 239 192 235M202 206 207 210 211 206 205 202M239 163 245 167 248 163 243 159" fill="#8cff00"/>
<path d="M190 293 196 297 199 294 193 290M267 150 272 154 275 149 270 146M282 141 287 145 290 140 285 136" fill="#7dff00"/>
<path d="M196 297 201 301 205 298 199 294M210 217 215 221 219 217 213 214" fill="#6fff00"/>
<path d="M201 301 207 305 211 301 205 298M207 240 213 244 216 240 210 236M262 166 268 170 271 166 266 162" fill="#60ff00"/>
<path d="M207 305 213 309 217 305 211 301M217 229 223 233 227 229 221 225M301 148 307 152 310 147 304 143M356 126 361 129 364 125 359 121" fill="#52ff00"/>
<path d="M213 309 219 313 223 309 217 305M238 206 244 210 247 206 242 202M252 191 257 194 260 190 255 187" fill="#44ff00"/>
<path d="M219 313 225 316 229 313 223 309M218 277 223 281 227 277 221 273M219 266 225 270 228 266 223 262M300 161 306 164 309 160 304 156" fill="#36ff00"/>
<path d="M225 316 231 320 235 317 229 313M231 244 237 248 240 244 234 240M332 150 338 153 341 149 335 145M364 138 369 141 372 137 367 133" fill="#28ff00"/>
<path d="M231 320 237 324 240 321 235 317M300 173 305 177 308 172 303 169" fill="#1bff00"/>
<path d="M237 324 243 328 246 325 240 321M247 237 253 241 256 237 250 233" fill="#0dff00"/>
<path d="M243 328 249 332 252 328 246 325M240 303 245 307 249 303 243 299M245 259 250 263 254 260 248 256" fill="#00ff00"/>
<path d="M249 332 254 336 258 332 252 328M255 248 261 252 264 248 258 245M304 189 310 193 313 188 307 185M334 171 339 174 342 170 337 166M357 160 362 164 365 159 360 155" fill="#00ff0d"/>
<path d="M254 336 260 339 264 336 258 332M250 292 256 296 259 293 254 289M251 282 257 285 261 282 255 278M275 225 281 229 284 225 278 222M285 214 290 217 294 213 288 210M374 158 379 162 382 157 377 153" fill="#00ff1a"/>
<path d="M260 339 266 343 270 340 264 336M263 260 269 263 272 260 266 256M274 237 280 241 283 237 277 233M297 209 302 213 306 209 300 205" fill="#00ff27"/>
<path d="M308 369 313 373 317 369 311 366M299 330 305 333 308 330 302 326M408 188 414 192 417 187 411 183" fill="#00ff88"/>
<path d="M313 373 319 376 323 373 317 369M311 366 317 369 320 366 314 362M303 315 309 319 312 315 306 312M304 304 310 308 313 304 307 301M368 213 373 217 376 212 371 209" fill="#00ff93"/>
<path d="M319 376 325 380 329 377 323 373M317 369 323 373 326 369 320 366M314 362 320 366 324 362 318 359M311 297 316 301 319 297 314 293M315 282 320 286 324 282 318 278M411 196 416 200 419 195 414 192" fill="#00ff9e"/>
<path d="M325 380 331 384 335 380 329 377M320 366 326 369 329 366 324 362M314 333 319 337 323 333 317 330M346 242 352 246 355 242 350 238" fill="#00ffa9"/>
<path d="M331 384 337 387 340 384 335 380M324 362 329 366 333 362 327 359M330 274 336 278 339 274 333 270M376 224 381 228 384 224 379 220M402 210 407 213 410 209 405 205" fill="#00ffb4"/>
<path d="M337 387 343 391 346 387 340 384M329 366 335 370 339 366 333 362M332 282 338 285 341 281 336 278" fill="#00ffbf"/>
<path d="M343 391 349 394 352 391 346 387M335 370 341 373 344 370 339 366M328 337 334 341 337 337 332 333M331 304 336 308 340 304 334 300M390 227 395 231 398 226 393 223M455 198 460 202 463 197 458 194" fill="#00ffca"/>
<path d="M349 394 355 398 358 395 352 391" fill="#00ffd4"/>
<path d="M355 398 361 402 364 398 358 395M342 362 348 366 351 362 345 359M339 315 345 319 348 315 342 311" fill="#00ffde"/>
<path d="M361 402 367 405 370 402 364 398M352 288 358 292 361 288 355 285M380 252 386 256 389 251 383 248M412 229 418 233 420 228 415 225M435 218 440 222 443 217 438 214" fill="#00ffe8"/>
<path d="M367 405 373 409 376 405 370 402M351 362 357 366 360 362 354 359M355 296 360 299 364 296 358 292M406 238 412 241 415 237 409 233M451 216 457 219 460 215 454 211M479 207 485 211 488 206 482 202" fill="#00fff2"/>
<path d="M93 220 99 224 103 221 97 217" fill="#ff7c00"/>
<path d="M99 224 105 229 109 225 103 221" fill="#ff8d00"/>
<path d="M105 229 111 233 115 230 109 225" fill="#ff9e00"/>
<path d="M111 233 117 237 121 234 115 230" fill="#ffaf00"/>
<path d="M117 237 122 241 126 238 121 234" fill="#ffc000"/>
<path d="M122 241 128 245 132 242 126 238M128 209 134 213 138 210 132 205M193 122 198 126 202 122 196 118M286 75 292 79 295 75 290 71" fill="#ffd000"/>
<path d="M140 253 146 258 150 254 144 250" fill="#fdff00"/>
<path d="M146 258 152 262 156 258 150 254M178 170 184 174 188 170 182 166M192 155 198 159 201 155 196 151M222 130 227 134 230 130 225 126" fill="#edff00"/>
<path d="M152 262 158 266 162 262 156 258M159 219 165 223 169 219 163 215M180 178 186 182 190 178 184 174" fill="#ddff00"/>
<path d="M158 266 164 270 168 266 162 262M170 208 176 212 180 208 174 204M183 186 188 190 192 186 186 182M251 125 257 129 260 125 255 121" fill="#cdff00"/>
<path d="M164 270 170 274 174 271 168 266M295 110 301 114 304 109 299 105" fill="#beff00"/>
<path d="M170 274 176 278 180 274 174 271M190 198 196 202 200 198 194 194M228 155 234 159 237 155 232 151" fill="#aeff00"/>
<path d="M176 278 182 282 185 278 180 274M256 142 261 146 264 142 259 138M271 133 276 137 280 132 274 129M318 112 323 116 326 111 321 108" fill="#9fff00"/>
<path d="M182 282 188 286 191 282 185 278M190 228 195 232 199 228 193 224" fill="#90ff00"/>
<path d="M188 286 193 290 197 286 191 282M189 257 194 261 198 258 192 254M251 159 257 162 260 158 255 154" fill="#81ff00"/>
<path d="M193 290 199 294 203 290 197 286M194 261 200 265 204 262 198 258M206 221 212 225 215 221 210 217M275 149 281 153 284 149 279 145M302 135 308 139 311 135 305 131M314 130 319 134 322 129 317 125M345 118 351 122 354 117 348 113" fill="#72ff00"/>
<path d="M199 294 205 298 209 294 203 290M199 276 205 280 208 276 202 272M227 198 233 202 236 198 230 195M230 195 236 198 239 195 234 191M234 191 239 195 243 191 237 187M237 187 243 191 246 187 240 183" fill="#64ff00"/>
<path d="M205 298 211 301 215 298 209 294M205 280 210 284 214 280 208 276M229 206 235 210 238 206 233 202" fill="#55ff00"/>
<path d="M211 301 217 305 221 302 215 298M210 284 216 287 220 284 214 280M215 251 220 255 224 251 218 247M220 236 225 240 229 237 223 233M231 214 237 218 240 214 235 210M258 183 264 186 267 182 261 178M280 166 285 170 289 165 283 161M353 130 358 134 361 129 356 126" fill="#47ff00"/>
<path d="M217 305 223 309 226 306 221 302M234 222 239 225 243 222 237 218M267 182 272 186 276 182 270 178M315 151 321 155 324 150 318 147" fill="#39ff00"/>
<path d="M223 309 229 313 232 310 226 306M294 169 300 173 303 169 297 165" fill="#2bff00"/>
<path d="M229 313 235 317 238 314 232 310M241 233 247 237 250 233 245 229" fill="#1dff00"/>
<path d="M235 317 240 321 244 317 238 314M308 172 314 176 317 172 311 168" fill="#10ff00"/>
<path d="M240 321 246 325 250 321 244 317M249 244 255 248 258 245 253 241M352 156 357 160 360 155 355 152" fill="#02ff00"/>
<path d="M246 325 252 328 256 325 250 321M269 222 275 225 278 222 273 218M276 214 282 218 285 214 279 210M279 210 285 214 288 210 283 206M368 154 374 158 377 153 371 150M388 148 394 151 397 147 391 143" fill="#00ff0b"/>
<path d="M252 328 258 332 262 329 256 325M253 271 258 274 262 271 256 267M257 256 263 260 266 256 261 252M268 233 274 237 277 233 272 229M291 206 297 209 300 205 295 201M313 188 318 192 321 188 316 184" fill="#00ff18"/>
<path d="M258 332 264 336 267 333 262 329M255 307 261 311 264 307 258 304M271 241 276 245 280 241 274 237M300 205 306 209 309 205 303 201M348 174 353 177 356 173 351 169M359 168 365 172 368 167 362 164" fill="#00ff25"/>
<path d="M264 336 270 340 273 336 267 333M261 311 266 315 270 311 264 307M309 205 314 209 317 204 312 201M327 192 332 195 335 191 330 187M342 182 347 186 350 182 345 178M376 166 381 170 384 165 379 162" fill="#00ff32"/>
<path d="M270 340 276 343 279 340 273 336M266 315 272 318 276 315 270 311M271 271 276 275 280 271 274 267" fill="#00ff3f"/>
<path d="M276 343 282 347 285 344 279 340M281 260 287 263 290 260 284 256M341 195 346 198 349 194 344 190M398 168 404 172 407 167 401 163" fill="#00ff4b"/>
<path d="M323 373 329 377 332 373 326 369M331 263 336 266 339 262 334 259M343 247 349 250 352 246 346 242M367 225 373 229 376 224 370 221M382 216 387 219 390 215 385 211" fill="#00ffaa"/>
<path d="M329 377 335 380 338 377 332 373M326 369 332 373 335 370 329 366M323 293 328 297 332 293 326 289M355 242 361 246 364 241 358 238M433 197 438 201 441 196 436 193" fill="#00ffb5"/>
<path d="M335 380 340 384 344 380 338 377M332 373 338 377 341 373 335 370M324 323 329 326 333 322 327 319M324 312 330 315 333 311 328 308M396 219 401 222 404 218 399 214M458 194 463 197 466 192 461 189" fill="#00ffc0"/>
<path d="M340 384 346 387 350 384 344 380M338 377 344 380 347 377 341 373M435 205 441 209 444 204 438 201" fill="#00ffcb"/>
<path d="M346 387 352 391 356 387 350 384M341 373 347 377 350 373 344 370M339 366 344 370 348 366 342 362M334 341 340 344 343 341 337 337M410 221 415 225 418 220 413 217M421 216 426 219 429 215 424 211" fill="#00ffd5"/>
<path d="M352 391 358 395 361 391 356 387M350 384 356 387 359 384 353 380M347 377 353 380 356 377 350 373M344 370 350 373 353 369 348 366M356 273 362 277 365 273 359 269M359 269 365 273 368 269 362 265M362 265 368 269 371 264 365 261M365 261 371 264 374 260 368 257M389 239 395 243 398 239 392 235M404 230 409 233 412 229 407 226M438 214 443 217 446 212 441 209M457 207 463 210 466 205 460 202" fill="#00ffe0"/>
<path d="M358 395 364 398 367 394 361 391M345 319 350 322 353 318 348 315M355 285 361 288 364 284 359 281M377 256 383 260 386 256 380 252" fill="#00ffea"/>
<path d="M364 398 370 402 373 398 367 394M353 369 359 373 363 369 357 366M349 344 355 348 358 344 352 341M351 311 357 315 360 311 354 307M358 292 364 296 367 292 361 288" fill="#00fff4"/>
<path d="M370 402 376 405 379 402 373 398M360 299 366 303 369 299 364 296M457 219 462 223 465 218 460 215M485 211 490 214 493 209 488 206" fill="#00fffe"/>
<path d="M97 217 103 221 107 218 101 214" fill="#ff8500"/>
<path d="M103 221 109 225 113 222 107 218M238 74 243 79 247 74 241 70" fill="#ff9600"/>
<path d="M109 225 115 230 119 226 113 222M111 215 117 219 121 216 115 211M231 84 237 88 240 83 235 79M255 73 261 77 264 73 258 69" fill="#ffa800"/>
<path d="M115 230 121 234 124 230 119 226M117 219 123 223 126 220 121 216M210 101 215 105 218 101 213 97" fill="#ffb900"/>
<path d="M121 234 126 238 130 235 124 230M124 212 130 216 134 213 128 209M136 183 142 187 145 184 139 180M278 76 283 80 286 75 281 71" fill="#ffc900"/>
<path d="M126 238 132 242 136 239 130 235M130 216 136 221 140 217 134 213M158 161 163 166 167 162 161 158M179 138 185 143 188 139 182 134" fill="#ffda00"/>
<path d="M132 242 138 246 142 243 136 239M136 221 142 225 146 221 140 217M160 169 166 173 169 170 163 166M188 139 194 143 197 139 191 135" fill="#ffeb00"/>
<path d="M138 246 144 250 148 247 142 243" fill="#fffb00"/>
<path d="M144 250 150 254 154 251 148 247M256 108 261 112 264 108 259 104" fill="#f3ff00"/>
<path d="M162 262 168 266 172 263 166 259" fill="#c3ff00"/>
<path d="M168 266 174 271 177 267 172 263M183 205 189 209 193 205 187 201M235 147 240 151 244 146 238 142M324 103 329 107 332 102 327 98" fill="#b4ff00"/>
<path d="M174 271 180 274 183 271 177 267M259 138 264 142 268 137 262 133M286 124 291 127 294 123 289 119M298 118 303 122 306 118 301 114M329 107 335 110 338 106 332 102" fill="#a4ff00"/>
<path d="M180 274 185 278 189 275 183 271M280 132 285 136 288 132 283 128M315 117 320 121 323 116 318 112" fill="#95ff00"/>
<path d="M185 278 191 282 195 279 189 275M212 194 218 198 221 194 216 190M229 175 235 179 238 175 233 171" fill="#86ff00"/>
<path d="M197 286 203 290 207 287 201 283M247 175 253 179 256 175 250 171M269 158 274 162 278 158 272 154" fill="#68ff00"/>
<path d="M203 290 209 294 213 291 207 287M256 175 261 178 265 174 259 170M328 133 333 137 336 132 331 128" fill="#5aff00"/>
<path d="M209 294 215 298 218 295 213 291M283 161 289 165 292 161 286 157" fill="#4bff00"/>
<path d="M215 298 221 302 224 299 218 295M216 269 221 273 225 270 219 266M350 135 355 139 358 134 353 130" fill="#3dff00"/>
<path d="M221 302 226 306 230 303 224 299M220 284 226 288 229 284 223 281M223 262 228 266 232 263 226 259M232 233 238 237 241 233 236 229M279 178 284 182 288 178 282 174" fill="#2fff00"/>
<path d="M226 306 232 310 236 306 230 303M226 288 231 292 235 288 229 284M329 154 335 158 338 153 332 150M341 149 346 153 349 148 344 144" fill="#21ff00"/>
<path d="M232 310 238 314 242 310 236 306M231 292 237 296 241 292 235 288M262 210 267 214 270 210 265 206" fill="#13ff00"/>
<path d="M238 314 244 317 248 314 242 310M237 296 243 299 247 296 241 292M241 263 247 267 250 263 245 259M246 248 252 252 255 248 249 244M261 222 266 226 269 222 264 218M274 206 279 210 283 206 277 202" fill="#05ff00"/>
<path d="M244 317 250 321 253 318 248 314M286 202 291 206 295 201 289 198" fill="#00ff08"/>
<path d="M250 321 256 325 259 322 253 318M265 237 271 241 274 237 268 233M295 201 300 205 303 201 298 197M354 165 359 168 362 164 357 160" fill="#00ff16"/>
<path d="M256 325 262 329 265 325 259 322M267 245 273 248 276 245 271 241M303 201 309 205 312 201 306 197M321 188 327 192 330 187 324 184M371 163 376 166 379 162 374 158" fill="#00ff23"/>
<path d="M262 329 267 333 271 329 265 325" fill="#00ff30"/>
<path d="M267 333 273 336 277 333 271 329M265 297 271 300 274 297 269 293M266 286 272 289 275 286 270 282M275 256 281 260 284 256 279 252M335 191 341 195 344 190 338 187M393 164 398 168 401 163 396 160" fill="#00ff3d"/>
<path d="M273 336 279 340 283 337 277 333M326 204 331 208 335 203 329 200M355 185 361 189 364 185 359 181M378 175 384 178 387 174 381 170" fill="#00ff49"/>
<path d="M279 340 285 344 288 340 283 337M279 282 284 286 288 282 282 278M283 267 289 271 292 267 287 263M297 240 303 244 306 240 301 237M301 237 306 240 309 236 304 233M304 233 309 236 313 232 307 229M307 229 313 232 316 228 310 225" fill="#00ff56"/>
<path d="M285 344 291 347 294 344 288 340M281 319 287 322 291 319 285 315M319 224 324 228 328 224 322 220M420 169 426 173 429 168 423 164" fill="#00ff62"/>
<path d="M344 380 350 384 353 380 347 377M336 308 342 311 345 307 340 304M340 293 346 296 349 292 344 289M381 240 386 244 389 239 384 236" fill="#00ffd6"/>
<path d="M356 387 361 391 365 387 359 384M353 380 359 384 362 380 356 377M350 373 356 377 359 373 353 369M344 330 350 333 353 330 347 326M348 304 354 307 357 303 352 300M359 281 364 284 367 280 362 277" fill="#00ffeb"/>
<path d="M361 391 367 394 370 391 365 387M356 377 362 380 365 377 359 373M386 256 391 259 394 255 389 251M418 233 423 236 426 232 420 228M440 222 446 225 448 220 443 217" fill="#00fff5"/>
<path d="M367 394 373 398 376 394 370 391M359 373 365 377 368 373 363 369M412 241 417 245 420 240 415 237" fill="#00ffff"/>
<path d="M373 398 379 402 382 398 376 394" fill="#00f5ff"/>
<path d="M101 214 107 218 111 215 105 210" fill="#ff8e00"/>
<path d="M107 218 113 222 117 219 111 215M109 207 115 211 119 208 113 204M235 79 240 83 243 79 238 74M247 74 252 78 255 73 250 69" fill="#ff9f00"/>
<path d="M113 222 119 226 123 223 117 219" fill="#ffb100"/>
<path d="M119 226 124 230 128 227 123 223M234 92 239 96 242 92 237 88M269 77 275 81 278 76 272 72" fill="#ffc200"/>
<path d="M124 230 130 235 134 231 128 227M189 126 195 131 198 126 193 122" fill="#ffd300"/>
<path d="M130 235 136 239 140 235 134 231M132 224 138 228 142 225 136 221M140 199 146 203 149 199 144 195M149 180 155 184 158 181 153 177M217 114 223 118 226 114 221 110M233 105 238 109 241 105 236 101" fill="#ffe300"/>
<path d="M136 239 142 243 146 240 140 235M138 228 144 232 148 229 142 225M146 203 151 207 155 203 149 199M155 184 160 189 164 185 158 181" fill="#fff400"/>
<path d="M142 243 148 247 152 244 146 240" fill="#faff00"/>
<path d="M148 247 154 251 158 248 152 244M152 225 158 229 161 226 155 222M237 122 243 126 246 121 240 117M288 97 293 101 296 97 291 93" fill="#eaff00"/>
<path d="M154 251 160 255 164 252 158 248M158 229 163 234 167 230 161 226M168 200 174 204 178 201 172 197M191 167 197 171 200 167 195 163M195 163 200 167 204 163 198 159M258 117 263 121 266 116 261 112" fill="#daff00"/>
<path d="M160 255 166 259 170 256 164 252M190 178 195 182 199 178 193 174M204 163 209 167 213 163 207 159M233 138 238 142 242 138 236 134" fill="#caff00"/>
<path d="M166 259 172 263 175 260 170 256M192 186 197 190 201 186 195 182M316 104 321 108 324 103 319 99" fill="#baff00"/>
<path d="M189 275 195 279 199 276 193 272M194 243 200 247 203 243 198 239M207 210 213 214 217 210 211 206" fill="#7cff00"/>
<path d="M195 279 201 283 205 280 199 276M254 167 259 170 262 166 257 162M287 145 293 148 296 144 290 140M334 124 339 127 342 123 337 119" fill="#6dff00"/>
<path d="M201 283 207 287 210 284 205 280M215 221 221 225 224 221 219 217" fill="#5fff00"/>
<path d="M207 287 213 291 216 287 210 284" fill="#50ff00"/>
<path d="M218 295 224 299 228 295 222 291M229 237 234 240 238 237 232 233M247 206 253 210 256 206 250 202M250 202 256 206 259 202 254 198M254 198 259 202 263 198 257 194M347 140 352 143 355 139 350 135M367 133 372 137 375 132 370 128" fill="#33ff00"/>
<path d="M236 306 242 310 245 307 240 303M284 194 289 198 292 194 287 190M343 157 348 161 352 156 346 153M374 145 380 149 383 144 377 140" fill="#09ff00"/>
<path d="M242 310 248 314 251 311 245 307M242 281 248 285 251 282 246 278M248 256 254 260 257 256 252 252M256 237 262 241 265 237 259 233M360 155 365 159 368 154 363 151" fill="#00ff05"/>
<path d="M248 314 253 318 257 314 251 311M247 296 252 300 256 296 250 292M249 274 255 278 258 274 253 271" fill="#00ff12"/>
<path d="M253 318 259 322 263 318 257 314M252 300 258 304 262 300 256 296M255 278 261 282 264 278 258 274M264 248 270 252 273 248 267 245M306 197 312 201 315 196 310 193" fill="#00ff20"/>
<path d="M259 322 265 325 269 322 263 318M258 304 264 307 267 304 262 300" fill="#00ff2d"/>
<path d="M265 325 271 329 274 326 269 322M267 275 273 278 276 275 271 271M321 200 326 204 329 200 324 196M350 182 355 185 359 181 353 177M373 171 378 175 381 170 376 166" fill="#00ff3a"/>
<path d="M271 329 277 333 280 329 274 326M292 237 297 240 301 237 295 233M301 225 307 229 310 225 305 221" fill="#00ff47"/>
<path d="M277 333 283 337 286 333 280 329M294 244 300 248 303 244 297 240M313 220 319 224 322 220 317 216M335 203 340 207 343 203 338 199" fill="#00ff54"/>
<path d="M283 337 288 340 292 337 286 333M286 275 291 278 294 275 289 271M369 188 375 192 378 187 372 184M381 183 386 186 389 182 384 178" fill="#00ff60"/>
<path d="M288 340 294 344 298 340 292 337M299 260 304 263 308 259 302 256M331 220 336 223 339 219 334 215M349 206 354 210 357 206 352 202" fill="#00ff6d"/>
<path d="M294 344 300 348 304 344 298 340M292 308 297 312 301 308 295 304M293 297 298 301 302 297 296 293M301 267 307 271 310 267 304 263" fill="#00ff79"/>
<path d="M300 348 306 351 309 348 304 344M363 209 368 213 371 209 366 205" fill="#00ff85"/>
<path d="M359 384 365 387 368 384 362 380M350 333 355 337 359 333 353 330M350 322 356 326 359 322 353 318M403 242 409 246 412 241 406 238M429 227 434 231 437 226 432 223M460 215 465 218 468 213 463 210" fill="#00fff6"/>
<path d="M365 387 370 391 374 387 368 384M362 380 368 384 371 380 365 377M355 348 361 351 364 348 358 344M357 315 362 318 365 314 360 311M394 255 400 258 403 254 397 251" fill="#00feff"/>
<path d="M370 391 376 394 380 391 374 387M368 384 374 387 377 384 371 380M365 377 371 380 374 376 368 373M403 254 408 258 411 253 406 250M462 223 468 226 471 221 465 218M490 214 495 217 498 213 493 209" fill="#00f4ff"/>
<path d="M376 394 382 398 385 394 380 391M371 380 377 384 380 380 374 376M364 337 370 340 373 336 367 333M369 310 374 314 377 310 372 307M487 219 492 222 495 217 490 214" fill="#00eaff"/>
<path d="M105 210 111 215 115 211 109 207" fill="#ff9700"/>
<path d="M123 223 128 227 132 224 126 220M230 97 236 101 239 96 234 92" fill="#ffca00"/>
<path d="M128 227 134 231 138 228 132 224M142 187 147 192 151 188 145 184M175 142 181 147 185 143 179 138M205 118 211 122 214 118 208 114M283 80 289 84 292 79 286 75" fill="#ffdb00"/>
<path d="M140 235 146 240 150 236 144 232M194 143 199 147 203 143 197 139" fill="#fffd00"/>
<path d="M146 240 152 244 156 240 150 236M148 229 154 233 158 229 152 225" fill="#f1ff00"/>
<path d="M152 244 158 248 162 244 156 240M154 233 160 237 163 234 158 229M173 185 179 189 183 186 177 182M285 102 290 106 293 101 288 97" fill="#e1ff00"/>
<path d="M158 248 164 252 167 248 162 244M160 237 165 241 169 238 163 234M217 147 223 151 226 147 221 143" fill="#d1ff00"/>
<path d="M164 252 170 256 173 252 167 248M172 216 178 220 182 216 176 212M307 104 312 108 316 104 310 100" fill="#c1ff00"/>
<path d="M175 260 181 264 185 260 179 256" fill="#a1ff00"/>
<path d="M181 264 187 268 191 264 185 260M184 242 190 246 194 243 188 239M246 155 251 159 255 154 249 150" fill="#92ff00"/>
<path d="M187 268 193 272 197 268 191 264M190 246 196 250 200 247 194 243M270 146 275 149 279 145 273 141M297 131 302 135 305 131 300 127M308 126 314 130 317 125 312 122M340 114 345 118 348 113 343 109" fill="#82ff00"/>
<path d="M193 272 199 276 202 272 197 268M196 250 202 254 205 251 200 247M290 140 296 144 299 140 294 136" fill="#73ff00"/>
<path d="M216 287 222 291 226 288 220 284M220 255 226 259 230 255 224 251M327 146 332 150 335 145 330 141" fill="#38ff00"/>
<path d="M222 291 228 295 231 292 226 288M344 144 349 148 352 143 347 140" fill="#2aff00"/>
<path d="M228 295 234 299 237 296 231 292M281 186 287 190 290 186 284 182M314 164 320 168 323 163 318 159" fill="#1cff00"/>
<path d="M234 299 240 303 243 299 237 296M366 146 371 150 374 145 369 141" fill="#0eff00"/>
<path d="M245 307 251 311 255 307 249 303M345 165 351 169 354 165 348 161" fill="#00ff0e"/>
<path d="M257 314 263 318 266 315 261 311M281 229 286 233 289 229 284 225M290 217 296 221 299 217 294 213M379 162 384 165 388 161 382 157" fill="#00ff29"/>
<path d="M263 318 269 322 272 318 266 315M263 289 269 293 272 289 266 286M280 241 285 245 288 241 283 237M302 213 308 217 311 213 306 209" fill="#00ff36"/>
<path d="M269 322 274 326 278 322 272 318M269 293 274 297 278 293 272 289M274 267 280 271 283 267 278 263M285 245 291 248 294 244 288 241" fill="#00ff44"/>
<path d="M274 326 280 329 284 326 278 322M273 308 279 311 282 308 277 304M275 286 281 289 284 286 279 282M320 212 325 216 328 212 323 208M338 199 343 203 346 198 341 195M407 167 412 170 415 166 410 162" fill="#00ff50"/>
<path d="M280 329 286 333 290 330 284 326M279 311 285 315 288 311 282 308M290 260 295 263 299 260 293 256" fill="#00ff5d"/>
<path d="M286 333 292 337 295 333 290 330M285 315 291 319 294 315 288 311M334 215 339 219 342 215 337 211" fill="#00ff6a"/>
<path d="M292 337 298 340 301 337 295 333M414 179 420 182 423 178 417 174" fill="#00ff76"/>
<path d="M298 340 304 344 307 341 301 337M303 275 309 278 312 274 307 271M377 200 383 203 386 199 380 195M420 182 425 186 428 181 423 178" fill="#00ff83"/>
<path d="M304 344 309 348 313 344 307 341M323 251 328 255 331 251 326 247M326 247 331 251 335 247 329 243M329 243 335 247 338 243 332 239" fill="#00ff8f"/>
<path d="M309 348 315 351 319 348 313 344M322 263 328 267 331 263 325 259M341 239 346 242 350 238 344 235" fill="#00ff9b"/>
<path d="M315 351 321 355 324 352 319 348M312 315 318 319 321 315 315 312M324 270 330 274 333 270 328 267M350 238 355 242 358 238 353 234" fill="#00ffa7"/>
<path d="M321 355 327 359 330 355 324 352M327 278 332 282 336 278 330 274" fill="#00ffb2"/>
<path d="M327 359 333 362 336 359 330 355M323 333 328 337 332 333 326 330M367 237 372 241 375 237 370 233M430 202 435 205 438 201 433 197" fill="#00ffbe"/>
<path d="M333 362 339 366 342 362 336 359M335 289 340 293 344 289 338 285M375 237 381 240 384 236 378 232" fill="#00ffc9"/>
<path d="M374 387 380 391 383 387 377 384M437 238 442 242 445 237 440 234M448 233 453 236 456 232 451 228" fill="#00e9ff"/>
<path d="M380 391 385 394 389 391 383 387M370 340 376 344 379 340 373 336M371 329 376 333 379 329 374 325M374 314 380 317 383 314 377 310M387 287 393 290 396 286 390 283M390 283 396 286 399 282 393 279M393 279 399 282 402 278 396 274M465 231 470 234 473 229 468 226" fill="#00dfff"/>
<path d="M126 220 132 224 136 221 130 216" fill="#ffd200"/>
<path d="M144 232 150 236 154 233 148 229M151 207 157 211 161 207 155 203M303 87 308 91 311 86 306 82" fill="#f9ff00"/>
<path d="M150 236 156 240 160 237 154 233M218 135 224 139 227 134 222 130M264 108 270 112 273 107 267 103M276 103 281 107 285 102 279 98" fill="#e9ff00"/>
<path d="M167 248 173 252 177 249 171 245M180 208 185 213 189 209 183 205M199 178 204 182 208 179 202 175M202 175 208 179 211 175 206 171M206 171 211 175 215 171 209 167M209 167 215 171 218 167 213 163M238 142 244 146 247 142 242 138" fill="#b8ff00"/>
<path d="M173 252 179 256 183 253 177 249M201 186 207 190 210 186 204 182M218 167 224 171 227 167 222 163" fill="#a8ff00"/>
<path d="M179 256 185 260 189 257 183 253M181 246 187 250 190 246 184 242M203 194 209 198 212 194 207 190M268 137 273 141 276 137 271 133M326 111 332 115 335 110 329 107" fill="#99ff00"/>
<path d="M185 260 191 264 194 261 189 257M187 250 192 254 196 250 190 246M236 167 242 171 245 167 239 163M258 150 263 154 267 150 261 146" fill="#89ff00"/>
<path d="M202 272 208 276 212 273 206 269M205 251 211 255 215 251 209 247M219 217 224 221 228 218 222 214M259 170 265 174 268 170 262 166M278 158 283 161 286 157 281 153M293 148 298 152 301 148 296 144" fill="#5cff00"/>
<path d="M214 280 220 284 223 281 218 277M217 258 223 262 226 259 220 255" fill="#3eff00"/>
<path d="M243 299 249 303 252 300 247 296M252 252 257 256 261 252 255 248M263 229 268 233 272 229 266 226M307 185 313 188 316 184 310 180" fill="#00ff09"/>
<path d="M249 303 255 307 258 304 252 300" fill="#00ff17"/>
<path d="M278 322 284 326 287 322 281 319M346 198 352 202 355 198 349 194" fill="#00ff5a"/>
<path d="M284 326 290 330 293 326 287 322M283 297 289 301 293 297 287 293M366 193 372 196 375 192 369 188M389 182 395 185 398 181 392 177" fill="#00ff66"/>
<path d="M290 330 295 333 299 330 293 326M289 301 295 304 298 301 293 297M312 244 317 248 320 244 315 240M315 240 320 244 324 240 318 236M318 236 324 240 327 236 321 232" fill="#00ff73"/>
<path d="M295 333 301 337 305 333 299 330M295 304 301 308 304 304 298 301M314 252 320 255 323 251 317 248M327 236 332 239 335 235 330 232M351 214 356 218 360 214 354 210M366 205 371 209 374 204 369 201" fill="#00ff80"/>
<path d="M301 337 307 341 310 337 305 333M300 319 305 323 309 319 303 315M302 297 307 301 311 297 305 293M339 231 344 235 347 231 342 227" fill="#00ff8c"/>
<path d="M307 341 313 344 316 341 310 337M365 217 370 221 373 217 368 213M391 203 396 206 399 202 394 198M402 197 408 201 411 196 405 193M442 183 447 187 450 182 445 178" fill="#00ff98"/>
<path d="M313 344 319 348 322 344 316 341M321 274 327 278 330 274 324 270" fill="#00ffa4"/>
<path d="M319 348 324 352 328 348 322 344M319 297 325 300 328 297 323 293M444 191 449 195 452 190 447 187" fill="#00ffb0"/>
<path d="M324 352 330 355 333 352 328 348M329 285 335 289 338 285 332 282" fill="#00ffbc"/>
<path d="M330 355 336 359 339 355 333 352" fill="#00ffc7"/>
<path d="M336 359 342 362 345 359 339 355M351 269 356 273 359 269 354 265M354 265 359 269 362 265 357 261M357 261 362 265 365 261 360 257M360 257 365 261 368 257 363 253M384 236 389 239 392 235 387 232M398 226 404 230 407 226 401 222M432 210 438 214 441 209 435 205M452 203 457 207 460 202 455 198" fill="#00ffd3"/>
<path d="M348 366 353 369 357 366 351 362M343 341 349 344 352 341 346 337M398 239 403 242 406 238 401 234M423 224 429 227 432 223 426 219M454 211 460 215 463 210 457 207" fill="#00ffe9"/>
<path d="M377 384 383 387 386 383 380 380M384 291 390 294 393 290 387 287M396 274 402 278 405 274 399 270" fill="#00e0ff"/>
<path d="M383 387 389 391 392 387 386 383M386 298 392 302 395 298 390 294M405 274 410 277 413 273 408 270M490 227 495 230 498 225 492 222" fill="#00d5ff"/>
<path d="M113 204 119 208 122 205 117 201" fill="#ffa600"/>
<path d="M119 208 124 212 128 209 122 205" fill="#ffb800"/>
<path d="M171 245 177 249 181 246 175 242M250 138 256 142 259 138 254 134M312 108 318 112 321 108 316 104" fill="#b0ff00"/>
<path d="M177 249 183 253 187 250 181 246M184 224 190 228 193 224 188 220M193 205 198 209 202 206 196 202M237 155 243 159 246 155 240 151" fill="#a0ff00"/>
<path d="M183 253 189 257 192 254 187 250" fill="#91ff00"/>
<path d="M200 265 206 269 210 265 204 262M202 254 208 258 211 255 205 251M266 162 271 166 274 162 269 158M296 144 301 148 304 143 299 140M331 128 336 132 339 127 334 124" fill="#63ff00"/>
<path d="M206 269 212 273 216 269 210 265M236 198 242 202 245 198 239 195M239 195 245 198 248 195 243 191M271 166 277 170 280 166 274 162M336 132 342 136 345 131 339 127" fill="#53ff00"/>
<path d="M212 273 218 277 221 273 216 269M213 262 219 266 223 262 217 258M235 210 240 214 244 210 238 206M255 187 260 190 264 186 258 183" fill="#45ff00"/>
<path d="M223 281 229 284 233 281 227 277M225 270 231 274 234 270 228 266M243 222 248 226 252 222 246 218M269 190 275 194 278 190 272 186" fill="#27ff00"/>
<path d="M241 292 247 296 250 292 244 289M243 270 249 274 253 271 247 267M292 194 298 197 301 193 295 189M310 180 316 184 319 180 314 176M325 171 331 175 334 171 328 167" fill="#00ff04"/>
<path d="M264 307 270 311 273 308 267 304M362 176 367 180 370 176 365 172" fill="#00ff3b"/>
<path d="M270 311 276 315 279 311 273 308M273 278 279 282 282 278 276 275M278 263 283 267 287 263 281 260M295 233 301 237 304 233 298 229M298 229 304 233 307 229 301 225" fill="#00ff48"/>
<path d="M276 315 281 319 285 315 279 311M310 225 316 228 319 224 313 220M349 194 355 198 358 193 352 190M395 173 401 176 404 172 398 168" fill="#00ff55"/>
<path d="M305 333 310 337 314 333 308 330M350 226 356 230 359 226 353 222M433 185 439 188 442 183 436 180" fill="#00ff95"/>
<path d="M310 337 316 341 319 337 314 333M318 278 324 282 327 278 321 274M373 217 379 220 382 216 376 212" fill="#00ffa1"/>
<path d="M316 341 322 344 325 341 319 337M315 312 321 315 324 312 319 308M364 229 370 233 373 229 367 225M393 211 399 214 402 210 396 206M405 205 410 209 413 204 408 201" fill="#00ffad"/>
<path d="M322 344 328 348 331 344 325 341M320 326 326 330 329 326 324 323M326 289 332 293 335 289 329 285M422 203 427 207 430 202 424 199M441 196 447 200 449 195 444 191" fill="#00ffb9"/>
<path d="M333 352 339 355 343 352 337 348M332 333 337 337 341 333 335 330" fill="#00ffd1"/>
<path d="M345 359 351 362 354 359 348 355M345 307 351 311 354 307 348 304" fill="#00ffe7"/>
<path d="M357 366 363 369 366 366 360 362M397 251 403 254 406 250 400 246" fill="#00fffd"/>
<path d="M363 369 368 373 372 369 366 366M359 333 364 337 367 333 362 329M431 235 437 238 440 234 434 231M443 230 448 233 451 228 446 225M482 215 487 219 490 214 485 211" fill="#00f6ff"/>
<path d="M368 373 374 376 377 373 372 369M365 325 371 329 374 325 368 322M381 283 387 287 390 283 384 279M384 279 390 283 393 279 388 275M388 275 393 279 396 274 391 271M411 253 417 257 420 253 414 249M425 244 431 247 434 243 428 239" fill="#00ebff"/>
<path d="M374 376 380 380 383 376 377 373M369 351 375 355 378 351 373 347M381 295 386 298 390 294 384 291M399 270 405 274 408 270 402 266M484 223 490 227 492 222 487 219" fill="#00e1ff"/>
<path d="M380 380 386 383 389 380 383 376M375 355 381 358 384 354 378 351M383 302 389 306 392 302 386 298M408 270 413 273 416 269 411 265M425 256 430 259 433 255 428 252" fill="#00d6ff"/>
<path d="M386 383 392 387 395 383 389 380M416 269 422 272 425 268 419 265M467 239 473 242 476 237 470 234M487 231 492 235 495 230 490 227" fill="#00ccff"/>
<path d="M117 201 122 205 126 201 121 197" fill="#ffad00"/>
<path d="M122 205 128 209 132 205 126 201M128 190 134 194 138 191 132 187" fill="#ffbf00"/>
<path d="M140 217 146 221 150 218 144 214M265 95 271 99 274 94 268 90" fill="#fff200"/>
<path d="M146 221 152 225 155 222 150 218M213 131 218 135 222 130 216 126M259 104 264 108 267 103 262 99M271 99 276 103 279 98 274 94" fill="#fbff00"/>
<path d="M163 234 169 238 173 234 167 230M174 204 180 208 183 205 178 201M193 174 199 178 202 175 197 171M197 171 202 175 206 171 200 167M200 167 206 171 209 167 204 163M263 121 269 125 272 120 266 116" fill="#c9ff00"/>
<path d="M175 242 181 246 184 242 179 238M197 190 203 194 207 190 201 186M321 108 326 111 329 107 324 103" fill="#a9ff00"/>
<path d="M198 258 204 262 208 258 202 254M250 171 256 175 259 170 254 167M299 140 304 143 308 139 302 135M322 129 328 133 331 128 325 125" fill="#6aff00"/>
<path d="M210 265 216 269 219 266 213 262M216 240 222 244 225 240 220 236M224 221 230 225 234 222 228 218M265 174 270 178 273 174 268 170M298 152 304 156 307 152 301 148" fill="#4cff00"/>
<path d="M221 273 227 277 231 274 225 270" fill="#2eff00"/>
<path d="M227 277 233 281 236 277 231 274M284 182 290 186 293 181 288 178" fill="#1fff00"/>
<path d="M233 281 239 285 242 281 236 277M234 270 240 274 243 270 238 267M244 241 249 244 253 241 247 237M335 158 340 162 343 157 338 153M346 153 352 156 355 152 349 148" fill="#11ff00"/>
<path d="M239 285 244 289 248 285 242 281M240 274 246 278 249 274 243 270M299 185 304 189 307 185 302 181M328 167 334 171 337 166 332 162" fill="#03ff00"/>
<path d="M244 289 250 292 254 289 248 285M246 278 251 282 255 278 249 274M273 218 278 222 282 218 276 214" fill="#00ff0c"/>
<path d="M262 300 267 304 271 300 265 297M264 278 270 282 273 278 267 275M269 263 274 267 278 263 272 260" fill="#00ff35"/>
<path d="M267 304 273 308 277 304 271 300M270 282 275 286 279 282 273 278M311 213 317 216 320 212 314 209" fill="#00ff43"/>
<path d="M291 319 296 322 300 319 294 315M294 286 299 290 302 286 297 282M357 206 363 209 366 205 360 201" fill="#00ff77"/>
<path d="M296 322 302 326 305 323 300 319M299 290 305 293 308 289 302 286M348 219 353 222 356 218 351 214M389 195 394 198 397 194 392 190" fill="#00ff84"/>
<path d="M319 337 325 341 328 337 323 333M333 270 339 274 342 270 336 266" fill="#00ffb6"/>
<path d="M325 341 331 344 334 341 328 337M328 297 334 300 337 296 332 293M438 201 444 204 447 200 441 196" fill="#00ffc2"/>
<path d="M331 344 337 348 340 344 334 341M401 222 407 226 410 221 404 218M463 197 468 200 471 196 466 192" fill="#00ffcd"/>
<path d="M343 352 348 355 352 351 346 348M341 322 347 326 350 322 345 319M349 292 355 296 358 292 352 288M401 234 406 238 409 233 404 230M446 212 451 216 454 211 449 208" fill="#00ffe5"/>
<path d="M348 355 354 359 357 355 352 351M346 337 352 341 355 337 350 333M392 247 397 251 400 246 395 243M471 209 476 212 479 207 474 204" fill="#00fff0"/>
<path d="M354 359 360 362 363 359 357 355M352 341 358 344 361 340 355 337M353 318 359 322 362 318 357 315M357 303 363 307 366 303 360 299" fill="#00fffb"/>
<path d="M360 362 366 366 369 362 363 359M373 284 378 287 381 283 376 280M376 280 381 283 384 279 379 276M382 272 388 275 391 271 385 267M454 224 459 227 462 223 457 219" fill="#00f8ff"/>
<path d="M366 366 372 369 375 366 369 362M375 291 381 295 384 291 378 287M394 267 399 270 402 266 397 263M479 220 484 223 487 219 482 215" fill="#00edff"/>
<path d="M372 369 377 373 380 369 375 366M371 318 377 321 380 317 374 314M378 299 383 302 386 298 381 295M420 253 425 256 428 252 422 248" fill="#00e2ff"/>
<path d="M377 373 383 376 386 373 380 369M462 235 467 239 470 234 465 231M481 228 487 231 490 227 484 223" fill="#00d8ff"/>
<path d="M383 376 389 380 392 376 386 373M386 310 392 313 395 309 389 306" fill="#00cdff"/>
<path d="M389 380 395 383 398 380 392 376M384 343 390 347 393 343 388 340M425 268 430 271 433 267 428 264" fill="#00c3ff"/>
<path d="M121 197 126 201 130 198 124 194" fill="#ffb400"/>
<path d="M126 201 132 205 136 202 130 198M132 187 138 191 142 187 136 183M218 101 224 105 227 101 222 97" fill="#ffc500"/>
<path d="M138 210 144 214 148 210 142 206M144 195 149 199 153 196 147 192M156 173 162 177 166 173 160 169M191 135 197 139 200 135 195 131M214 118 219 122 223 118 217 114M257 95 262 99 265 95 260 91M268 90 274 94 277 89 272 85" fill="#ffe800"/>
<path d="M144 214 150 218 153 214 148 210M149 199 155 203 159 200 153 196M250 104 256 108 259 104 253 100" fill="#fff900"/>
<path d="M150 218 155 222 159 219 153 214M155 203 161 207 165 204 159 200M206 139 212 143 215 139 209 135" fill="#f4ff00"/>
<path d="M167 230 173 234 177 231 171 227M181 197 187 201 190 198 185 194M226 147 232 151 235 147 229 143M245 134 250 138 254 134 248 130M260 125 265 129 269 125 263 121" fill="#c2ff00"/>
<path d="M173 234 179 238 182 235 177 231" fill="#b2ff00"/>
<path d="M208 258 213 262 217 258 211 255M233 202 238 206 242 202 236 198M243 191 248 195 252 191 246 187M246 187 252 191 255 187 249 183" fill="#54ff00"/>
<path d="M231 274 236 277 240 274 234 270M248 226 254 229 257 226 252 222M369 141 374 145 377 140 372 137" fill="#18ff00"/>
<path d="M248 285 254 289 257 285 251 282M298 197 303 201 306 197 301 193M331 175 336 179 339 174 334 171" fill="#00ff13"/>
<path d="M254 289 259 293 263 289 257 285" fill="#00ff21"/>
<path d="M259 293 265 297 269 293 263 289M261 282 266 286 270 282 264 278M312 201 317 204 321 200 315 196" fill="#00ff2f"/>
<path d="M271 300 277 304 280 300 274 297M272 289 278 293 281 289 275 286M367 180 372 184 375 179 370 176" fill="#00ff4a"/>
<path d="M288 311 294 315 297 312 292 308M294 275 300 278 303 275 298 271M308 248 314 252 317 248 312 244M321 232 327 236 330 232 324 228M346 211 351 214 354 210 349 206M360 201 366 205 369 201 363 197" fill="#00ff72"/>
<path d="M294 315 300 319 303 315 297 312M296 293 302 297 305 293 299 290M300 278 306 282 309 278 303 275M311 256 316 259 320 255 314 252M330 232 335 235 339 231 333 227M411 183 417 187 420 182 414 179" fill="#00ff7f"/>
<path d="M305 323 311 326 315 323 309 319M307 301 313 304 316 301 311 297M319 267 324 270 328 267 322 263" fill="#00ff99"/>
<path d="M311 326 317 330 320 326 315 323M353 234 358 238 361 234 356 230M385 211 390 215 393 211 388 207" fill="#00ffa5"/>
<path d="M340 344 346 348 349 344 343 341" fill="#00ffe1"/>
<path d="M346 348 352 351 355 348 349 344M365 273 370 276 373 272 368 269M368 269 373 272 376 268 371 264M371 264 376 268 380 264 374 260M395 243 400 246 403 242 398 239M409 233 415 237 418 233 412 229M443 217 448 220 451 216 446 212M463 210 468 213 471 209 466 205" fill="#00ffed"/>
<path d="M352 351 357 355 361 351 355 348M354 307 360 311 363 307 357 303M364 284 370 288 373 284 367 280" fill="#00fff8"/>
<path d="M357 355 363 359 366 355 361 351M367 292 372 295 375 291 370 288M409 246 414 249 417 245 412 241" fill="#00fbff"/>
<path d="M363 359 369 362 372 358 366 355M362 329 367 333 371 329 365 325M428 239 434 243 437 238 431 235M451 228 456 232 459 227 454 224M471 221 476 225 479 220 473 217" fill="#00f0ff"/>
<path d="M369 362 375 366 378 362 372 358M367 344 373 347 376 344 370 340M367 333 373 336 376 333 371 329M375 303 380 306 383 302 378 299M405 262 411 265 414 261 408 258" fill="#00e5ff"/>
<path d="M375 366 380 369 384 365 378 362M373 347 378 351 381 347 376 344M428 252 433 255 436 251 431 247" fill="#00daff"/>
<path d="M380 369 386 373 389 369 384 365M378 351 384 354 387 351 381 347M379 329 385 332 388 328 382 325M419 265 425 268 428 264 422 260M478 233 484 236 487 231 481 228" fill="#00cfff"/>
<path d="M386 373 392 376 395 372 389 369M453 249 459 252 461 248 456 244M464 243 470 246 473 242 467 239" fill="#00c5ff"/>
<path d="M392 376 398 380 401 376 395 372M404 297 409 301 412 296 407 293M407 293 412 296 415 292 410 289M410 289 415 292 418 288 413 285M413 285 418 288 421 284 416 281" fill="#00bbff"/>
<path d="M124 194 130 198 134 194 128 190M237 88 242 92 246 87 240 83M261 77 266 81 269 77 264 73" fill="#ffba00"/>
<path d="M130 198 136 202 140 199 134 194M215 105 221 110 224 105 218 101" fill="#ffcb00"/>
<path d="M136 202 142 206 146 203 140 199M221 110 226 114 229 109 224 105" fill="#ffdd00"/>
<path d="M142 206 148 210 151 207 146 203M167 162 173 166 176 162 171 158M171 158 176 162 180 158 174 154M178 150 183 155 187 151 181 147M181 147 187 151 190 147 185 143M241 105 247 109 250 104 245 100" fill="#ffee00"/>
<path d="M148 210 153 214 157 211 151 207M173 166 178 170 182 166 176 162M187 151 192 155 196 151 190 147M216 126 222 130 225 126 219 122M294 88 299 92 303 87 297 83" fill="#ffff00"/>
<path d="M165 223 171 227 174 223 169 219M210 155 216 159 219 155 214 151" fill="#ccff00"/>
<path d="M171 227 177 231 180 227 174 223M176 212 182 216 185 213 180 208M188 190 194 194 197 190 192 186M257 129 262 133 265 129 260 125" fill="#bcff00"/>
<path d="M177 231 182 235 186 231 180 227M182 216 188 220 191 217 185 213M225 159 230 163 234 159 228 155M289 119 294 123 298 118 292 114" fill="#acff00"/>
<path d="M182 235 188 239 192 235 186 231M283 128 288 132 291 127 286 124M306 118 312 122 315 117 309 113" fill="#9cff00"/>
<path d="M200 247 205 251 209 247 203 243M213 214 219 217 222 214 217 210M272 154 278 158 281 153 275 149" fill="#6cff00"/>
<path d="M228 266 234 270 238 267 232 263M238 237 244 241 247 237 241 233M303 169 308 172 311 168 306 164" fill="#20ff00"/>
<path d="M274 297 280 300 283 297 278 293M287 252 293 256 296 252 291 248M364 185 369 188 372 184 367 180M375 179 381 183 384 178 378 175" fill="#00ff51"/>
<path d="M280 300 286 304 289 301 283 297M293 256 299 260 302 256 296 252M343 203 349 206 352 202 346 198" fill="#00ff5f"/>
<path d="M286 304 292 308 295 304 289 301M287 293 293 297 296 293 290 290M363 197 369 201 372 196 366 193M398 181 403 184 406 180 401 176M417 174 423 178 426 173 420 169" fill="#00ff6c"/>
<path d="M309 319 315 323 318 319 312 315M310 308 315 312 319 308 313 304M359 226 364 229 367 225 362 222" fill="#00ffa0"/>
<path d="M315 323 320 326 324 323 318 319M436 193 441 196 444 191 439 188" fill="#00ffac"/>
<path d="M337 337 343 341 346 337 341 333M350 281 355 285 359 281 353 277M372 253 377 256 380 252 375 249" fill="#00ffdd"/>
<path d="M361 351 366 355 369 351 364 348M366 303 372 307 375 303 369 299M417 245 422 248 425 244 420 240" fill="#00f3ff"/>
<path d="M366 355 372 358 375 355 369 351M408 258 414 261 417 257 411 253M495 217 501 221 504 216 498 213" fill="#00e8ff"/>
<path d="M372 358 378 362 381 358 375 355M442 242 448 245 451 241 445 237M453 236 459 240 462 235 456 232" fill="#00ddff"/>
<path d="M378 362 384 365 387 362 381 358M422 260 428 264 430 259 425 256M436 251 442 254 445 250 439 246M498 225 503 229 506 224 501 221" fill="#00d2ff"/>
<path d="M384 365 389 369 392 365 387 362M395 298 401 301 404 297 398 294M476 237 481 241 484 236 478 233" fill="#00c8ff"/>
<path d="M389 369 395 372 398 369 392 365M398 305 403 309 406 305 401 301M416 281 421 284 424 280 419 276" fill="#00bdff"/>
<path d="M395 372 401 376 404 372 398 369M393 354 399 358 402 354 396 350M393 343 399 346 402 343 396 339M400 313 406 316 409 312 403 309M456 257 461 260 464 255 459 252M467 251 472 254 475 250 470 246" fill="#00b3ff"/>
<path d="M157 211 163 215 167 212 161 207M308 91 313 95 316 90 311 86" fill="#e8ff00"/>
<path d="M163 215 169 219 172 216 167 212M224 139 229 143 233 138 227 134M281 107 287 111 290 106 285 102" fill="#d7ff00"/>
<path d="M169 219 174 223 178 220 172 216M248 130 254 134 257 129 251 125" fill="#c7ff00"/>
<path d="M174 223 180 227 184 224 178 220M254 134 259 138 262 133 257 129" fill="#b6ff00"/>
<path d="M186 231 192 235 195 232 190 228M210 186 216 190 219 187 214 183M214 183 219 187 223 183 217 179M217 179 223 183 226 179 220 175M220 175 226 179 229 175 224 171M249 150 255 154 258 150 253 146" fill="#96ff00"/>
<path d="M198 239 203 243 207 240 201 236M203 224 208 228 212 225 206 221M218 198 223 202 227 198 221 194" fill="#76ff00"/>
<path d="M203 243 209 247 213 244 207 240M208 228 214 232 217 229 212 225M244 179 249 183 253 179 247 175" fill="#66ff00"/>
<path d="M209 247 215 251 218 247 213 244M249 183 255 187 258 183 253 179M290 153 295 157 298 152 293 148" fill="#56ff00"/>
<path d="M226 259 232 263 235 259 230 255M239 225 245 229 248 226 243 222M272 186 278 190 281 186 276 182M321 155 326 159 329 154 324 150" fill="#29ff00"/>
<path d="M232 263 238 267 241 263 235 259M245 229 250 233 254 229 248 226M349 148 355 152 358 147 352 143" fill="#1aff00"/>
<path d="M301 308 306 312 310 308 304 304M306 282 311 286 315 282 309 278M316 259 322 263 325 259 320 255M335 235 341 239 344 235 339 231M417 187 422 190 425 186 420 182" fill="#00ff8d"/>
<path d="M306 312 312 315 315 312 310 308M311 286 317 289 320 286 315 282M344 235 350 238 353 234 347 231M422 190 427 194 430 189 425 186" fill="#00ff9a"/>
<path d="M329 326 335 330 338 326 333 322M330 315 336 319 339 315 333 311M338 285 344 289 347 285 341 281M372 241 378 244 381 240 375 237" fill="#00ffcc"/>
<path d="M335 330 341 333 344 330 338 326M336 319 341 322 345 319 339 315M395 231 401 234 404 230 398 226M441 209 446 212 449 208 444 204" fill="#00ffd8"/>
<path d="M341 333 346 337 350 333 344 330" fill="#00ffe4"/>
<path d="M358 344 364 348 367 344 361 340M359 322 365 325 368 322 362 318M363 307 369 310 372 307 366 303M379 276 384 279 388 275 382 272M406 250 411 253 414 249 409 246M420 240 425 244 428 239 423 236" fill="#00f7ff"/>
<path d="M364 348 369 351 373 347 367 344M378 287 384 291 387 287 381 283M391 271 396 274 399 270 394 267M459 227 465 231 468 226 462 223" fill="#00ecff"/>
<path d="M381 358 387 362 390 358 384 354M382 325 388 328 391 324 385 321M389 306 395 309 398 305 392 302M445 250 450 253 453 249 448 245M456 244 461 248 464 243 459 240" fill="#00cbff"/>
<path d="M387 362 392 365 396 361 390 358M388 328 394 332 397 328 391 324M422 272 427 276 430 271 425 268M473 242 478 245 481 241 476 237M492 235 498 238 500 233 495 230" fill="#00c0ff"/>
<path d="M392 365 398 369 401 365 396 361M397 317 403 320 406 316 400 313M444 262 450 265 453 261 447 258" fill="#00b6ff"/>
<path d="M398 369 404 372 407 368 401 365M436 275 441 278 444 274 438 271" fill="#00abff"/>
<path d="M138 191 144 195 147 192 142 187M186 130 191 135 195 131 189 126M208 114 214 118 217 114 212 110M251 91 257 95 260 91 254 87M263 86 268 90 272 85 266 81" fill="#ffd600"/>
<path d="M167 212 172 216 176 212 170 208M302 101 307 104 310 100 305 96" fill="#d2ff00"/>
<path d="M195 232 201 236 205 232 199 228" fill="#80ff00"/>
<path d="M201 236 207 240 210 236 205 232M257 162 262 166 266 162 260 158" fill="#70ff00"/>
<path d="M213 244 218 247 222 244 216 240M286 157 292 161 295 157 290 153M313 143 318 147 322 142 316 138M325 138 330 141 333 137 328 133" fill="#51ff00"/>
<path d="M230 255 235 259 239 255 233 252M253 210 258 214 262 210 256 206M256 206 262 210 265 206 259 202M259 202 265 206 268 202 263 198M352 143 358 147 361 142 355 139M372 137 377 140 381 136 375 132" fill="#23ff00"/>
<path d="M235 259 241 263 245 259 239 255M258 214 264 218 267 214 262 210M265 206 270 210 274 206 268 202M268 202 274 206 277 202 271 198M358 147 363 151 366 146 361 142M377 140 383 144 386 139 381 136" fill="#14ff00"/>
<path d="M247 267 253 271 256 267 250 263M266 226 272 229 275 225 269 222M283 206 288 210 291 206 286 202M322 176 328 179 331 175 325 171" fill="#00ff0a"/>
<path d="M258 274 264 278 267 275 262 271" fill="#00ff26"/>
<path d="M281 289 287 293 290 290 284 286M325 216 331 220 334 215 328 212M358 193 363 197 366 193 361 189M392 177 398 181 401 176 395 173M412 170 417 174 420 169 415 166" fill="#00ff5e"/>
<path d="M321 315 327 319 330 315 324 312M399 214 404 218 407 213 402 210" fill="#00ffba"/>
<path d="M327 319 333 322 336 319 330 315M348 262 354 265 357 261 351 258M351 258 357 261 360 257 354 254M427 207 432 210 435 205 430 202M447 200 452 203 455 198 449 195" fill="#00ffc6"/>
<path d="M338 326 344 330 347 326 341 322M343 300 348 304 352 300 346 296M353 277 359 281 362 277 356 273M368 257 374 260 377 256 372 253" fill="#00ffdf"/>
<path d="M355 337 361 340 364 337 359 333M356 326 362 329 365 325 359 322M391 259 397 263 400 258 394 255M434 231 440 234 443 230 437 226M465 218 471 221 473 217 468 213" fill="#00fcff"/>
<path d="M361 340 367 344 370 340 364 337M369 299 375 303 378 299 372 295M400 258 405 262 408 258 403 254" fill="#00f1ff"/>
<path d="M384 354 390 358 393 354 387 351M385 332 391 336 394 332 388 328M389 317 394 321 397 317 392 313M484 236 489 239 492 235 487 231" fill="#00c4ff"/>
<path d="M390 358 396 361 399 358 393 354M391 336 396 339 399 335 394 332M394 321 400 324 403 320 397 317M459 252 464 255 467 251 461 248M470 246 475 250 478 245 473 242" fill="#00b9ff"/>
<path d="M396 361 401 365 404 361 399 358M409 301 415 304 418 300 412 296M412 296 418 300 421 296 415 292M415 292 421 296 424 292 418 288" fill="#00afff"/>
<path d="M401 365 407 368 410 364 404 361M412 308 417 311 420 307 415 304M427 288 432 291 435 287 430 283" fill="#00a5ff"/>
<path d="M153 196 159 200 162 196 157 192M169 170 175 174 178 170 173 166M190 147 196 151 199 147 194 143" fill="#fffe00"/>
<path d="M159 200 165 204 168 200 162 196M199 147 205 151 208 147 203 143" fill="#efff00"/>
<path d="M165 204 170 208 174 204 168 200M205 151 210 155 214 151 208 147" fill="#deff00"/>
<path d="M193 224 199 228 203 224 197 221M288 132 294 136 297 131 291 127M312 122 317 125 320 121 315 117" fill="#8bff00"/>
<path d="M199 228 205 232 208 228 203 224M245 167 250 171 254 167 248 163M294 136 299 140 302 135 297 131M317 125 322 129 325 125 320 121" fill="#7bff00"/>
<path d="M222 244 228 248 231 244 225 240M230 225 236 229 239 225 234 222M270 178 276 182 279 178 273 174M304 156 309 160 312 156 307 152" fill="#3cff00"/>
<path d="M228 248 233 252 237 248 231 244M355 139 361 142 364 138 358 134" fill="#2dff00"/>
<path d="M233 252 239 255 242 252 237 248M361 142 366 146 369 141 364 138" fill="#1eff00"/>
<path d="M239 255 245 259 248 256 242 252M290 186 295 189 299 185 293 181" fill="#0fff00"/>
<path d="M256 267 262 271 265 267 259 263M324 184 330 187 333 183 328 179" fill="#00ff1e"/>
<path d="M262 271 267 275 271 271 265 267M356 173 362 176 365 172 359 168M368 167 373 171 376 166 371 163" fill="#00ff2c"/>
<path d="M290 290 296 293 299 290 294 286M305 252 311 256 314 252 308 248M324 228 330 232 333 227 328 224M406 180 411 183 414 179 409 175" fill="#00ff71"/>
<path d="M347 326 353 330 356 326 350 322" fill="#00fff1"/>
<path d="M353 330 359 333 362 329 356 326M426 232 431 235 434 231 429 227M437 226 443 230 446 225 440 222M476 212 482 215 485 211 479 207" fill="#00fffc"/>
<path d="M376 344 381 347 384 343 379 340M376 333 382 336 385 332 379 329M390 294 395 298 398 294 393 290" fill="#00d4ff"/>
<path d="M381 347 387 351 390 347 384 343M382 336 388 340 391 336 385 332M392 302 398 305 401 301 395 298M410 277 416 281 419 276 413 273M495 230 500 233 503 229 498 225" fill="#00c9ff"/>
<path d="M387 351 393 354 396 350 390 347M388 340 393 343 396 339 391 336M419 276 424 280 427 276 422 272M436 263 441 266 444 262 439 259" fill="#00beff"/>
<path d="M399 358 404 361 407 357 402 354M399 346 405 350 408 346 402 343M406 316 411 320 414 316 409 312M461 260 467 263 469 259 464 255" fill="#00a8ff"/>
<path d="M404 361 410 364 413 361 407 357M455 269 461 272 464 268 458 264" fill="#009eff"/>
<path d="M139 180 145 184 149 180 143 176M242 92 248 96 251 91 246 87M254 87 260 91 263 86 257 82" fill="#ffcd00"/>
<path d="M145 184 151 188 155 184 149 180M202 122 207 126 211 122 205 118M248 96 253 100 257 95 251 91" fill="#ffdf00"/>
<path d="M157 192 162 196 166 193 160 189M232 118 237 122 240 117 235 113M282 93 288 97 291 93 285 89" fill="#fcff00"/>
<path d="M162 196 168 200 172 197 166 193" fill="#ebff00"/>
<path d="M185 213 191 217 195 213 189 209M204 182 210 186 214 183 208 179M208 179 214 183 217 179 211 175M211 175 217 179 220 175 215 171M215 171 220 175 224 171 218 167M244 146 249 150 253 146 247 142" fill="#a7ff00"/>
<path d="M197 221 203 224 206 221 200 217M233 171 238 175 242 171 236 167" fill="#87ff00"/>
<path d="M214 232 220 236 223 233 217 229M226 210 231 214 235 210 229 206M253 179 258 183 261 178 256 175M274 162 280 166 283 161 278 158M348 127 353 130 356 126 351 122" fill="#57ff00"/>
<path d="M225 240 231 244 234 240 229 237M237 218 243 222 246 218 240 214M264 186 269 190 272 186 267 182M285 170 291 173 294 169 289 165M358 134 364 138 367 133 361 129" fill="#37ff00"/>
<path d="M254 260 259 263 263 260 257 256M262 241 267 245 271 241 265 237M316 184 321 188 324 184 319 180M365 159 371 163 374 158 368 154" fill="#00ff14"/>
<path d="M259 263 265 267 269 263 263 260M336 179 342 182 345 178 339 174" fill="#00ff22"/>
<path d="M265 267 271 271 274 267 269 263M273 248 279 252 282 248 276 245" fill="#00ff31"/>
<path d="M282 278 288 282 291 278 286 275M328 212 334 215 337 211 331 208" fill="#00ff5b"/>
<path d="M288 282 294 286 297 282 291 278M352 202 357 206 360 201 355 198" fill="#00ff69"/>
<path d="M316 301 322 304 325 300 319 297M320 286 326 289 329 285 324 282M334 259 339 262 343 258 337 255M337 255 343 258 346 254 340 251M340 251 346 254 349 250 343 247M416 200 422 203 424 199 419 195" fill="#00ffab"/>
<path d="M322 304 328 308 331 304 325 300M339 262 345 266 348 262 343 258M343 258 348 262 351 258 346 254M346 254 351 258 354 254 349 250M349 250 354 254 357 250 352 246M373 229 378 232 381 228 376 224M387 219 393 223 396 219 390 215" fill="#00ffb8"/>
<path d="M373 336 379 340 382 336 376 333M380 306 386 310 389 306 383 302M411 265 416 269 419 265 414 261" fill="#00d9ff"/>
<path d="M379 340 384 343 388 340 382 336M433 255 439 259 442 254 436 251" fill="#00ceff"/>
<path d="M390 347 396 350 399 346 393 343M489 239 495 243 498 238 492 235" fill="#00b8ff"/>
<path d="M396 350 402 354 405 350 399 346M400 324 405 327 408 323 403 320M464 255 469 259 472 254 467 251" fill="#00adff"/>
<path d="M402 354 407 357 410 353 405 350M402 343 408 346 411 342 405 339M418 300 423 303 426 299 421 296M444 274 449 277 452 273 447 270M458 264 464 268 467 263 461 260" fill="#00a3ff"/>
<path d="M407 357 413 361 416 357 410 353M408 346 413 349 416 346 411 342M423 303 429 307 432 303 426 299M426 299 432 303 435 298 429 295" fill="#0098ff"/>
<path d="M160 189 166 193 170 189 164 185" fill="#f8ff00"/>
<path d="M172 197 178 201 181 197 175 193M313 95 319 99 322 94 316 90" fill="#d6ff00"/>
<path d="M178 201 183 205 187 201 181 197M319 99 324 103 327 98 322 94" fill="#c5ff00"/>
<path d="M189 209 195 213 198 209 193 205M240 151 246 155 249 150 244 146" fill="#a3ff00"/>
<path d="M195 213 200 217 204 213 198 209M264 142 270 146 273 141 268 137M291 127 297 131 300 127 294 123M303 122 308 126 312 122 306 118M335 110 340 114 343 109 338 106" fill="#93ff00"/>
<path d="M200 217 206 221 210 217 204 213" fill="#83ff00"/>
<path d="M212 225 217 229 221 225 215 221M351 122 356 126 359 121 354 117" fill="#62ff00"/>
<path d="M223 233 229 237 232 233 227 229M242 202 247 206 250 202 245 198M245 198 250 202 254 198 248 195M248 195 254 198 257 194 252 191M277 170 282 174 285 170 280 166M342 136 347 140 350 135 345 131" fill="#43ff00"/>
<path d="M234 240 240 244 244 241 238 237M249 214 255 218 258 214 253 210M263 198 268 202 271 198 266 194" fill="#24ff00"/>
<path d="M240 244 246 248 249 244 244 241M255 218 261 222 264 218 258 214M271 198 277 202 280 198 275 194" fill="#15ff00"/>
<path d="M280 271 286 275 289 271 283 267M317 216 322 220 325 216 320 212" fill="#00ff52"/>
<path d="M291 278 297 282 300 278 294 275M375 192 380 195 383 191 378 187M386 186 392 190 395 185 389 182" fill="#00ff6e"/>
<path d="M302 286 308 289 311 286 306 282M310 267 316 271 319 267 313 263M342 227 347 231 350 226 345 223M374 204 380 208 383 203 377 200" fill="#00ff89"/>
<path d="M308 289 314 293 317 289 311 286M414 192 419 195 422 190 417 187" fill="#00ff96"/>
<path d="M314 293 319 297 323 293 317 289M356 230 361 234 364 229 359 226M419 195 424 199 427 194 422 190" fill="#00ffa3"/>
<path d="M342 311 348 315 351 311 345 307M386 244 392 247 395 243 389 239M466 205 471 209 474 204 468 200" fill="#00ffe3"/>
<path d="M348 315 353 318 357 315 351 311M352 300 357 303 360 299 355 296M420 228 426 232 429 227 423 224M432 223 437 226 440 222 435 218" fill="#00ffef"/>
<path d="M405 350 410 353 413 349 408 346M411 320 417 323 420 319 414 316M438 283 444 286 447 282 441 278" fill="#009dff"/>
<path d="M410 353 416 357 419 353 413 349M461 272 466 275 469 271 464 268" fill="#0093ff"/>
<path d="M147 173 153 177 156 173 151 169M275 81 280 85 283 80 278 76" fill="#ffd400"/>
<path d="M153 177 158 181 162 177 156 173M195 131 200 135 204 131 198 126M280 85 285 89 289 84 283 80" fill="#ffe600"/>
<path d="M164 185 170 189 173 185 168 181M291 93 296 97 299 92 294 88" fill="#f5ff00"/>
<path d="M170 189 175 193 179 189 173 185" fill="#e4ff00"/>
<path d="M198 209 204 213 207 210 202 206M243 159 248 163 251 159 246 155" fill="#8fff00"/>
<path d="M204 213 210 217 213 214 207 210" fill="#7fff00"/>
<path d="M266 256 272 260 275 256 270 252M315 196 321 200 324 196 318 192M345 178 350 182 353 177 348 174" fill="#00ff2b"/>
<path d="M272 260 278 263 281 260 275 256M289 229 295 233 298 229 293 225M293 225 298 229 301 225 296 221" fill="#00ff39"/>
<path d="M334 300 340 304 343 300 337 296M341 281 347 285 350 281 344 277M369 245 375 249 378 244 372 241M424 211 429 215 432 210 427 207" fill="#00ffce"/>
<path d="M340 304 345 307 348 304 343 300M347 285 352 288 355 285 350 281M375 249 380 252 383 248 378 244M407 226 412 229 415 225 410 221M429 215 435 218 438 214 432 210" fill="#00ffdb"/>
<path d="M362 318 368 322 371 318 365 314" fill="#00f2ff"/>
<path d="M368 322 374 325 377 321 371 318M422 248 428 252 431 247 425 244" fill="#00e6ff"/>
<path d="M374 325 379 329 382 325 377 321M377 310 383 314 386 310 380 306M414 261 419 265 422 260 417 257M473 229 478 233 481 228 476 225" fill="#00dbff"/>
<path d="M396 339 402 343 405 339 399 335M438 271 444 274 447 270 441 266M453 261 458 264 461 260 456 257M475 250 481 253 484 249 478 245" fill="#00aeff"/>
<path d="M413 349 419 353 422 349 416 346M423 315 429 318 432 314 426 311M438 294 443 298 446 293 441 290" fill="#008eff"/>
<path d="M162 177 168 181 171 178 166 173M197 139 203 143 206 139 200 135M219 122 225 126 228 122 223 118M262 99 267 103 271 99 265 95M274 94 279 98 282 93 277 89" fill="#fffa00"/>
<path d="M179 189 185 194 188 190 183 186M266 116 272 120 275 116 270 112" fill="#d0ff00"/>
<path d="M185 194 190 198 194 194 188 190M223 151 228 155 232 151 226 147M272 120 277 124 280 120 275 116" fill="#bfff00"/>
<path d="M196 202 202 206 205 202 200 198M234 159 239 163 243 159 237 155" fill="#9dff00"/>
<path d="M236 229 241 233 245 229 239 225M276 182 281 186 284 182 279 178M309 160 314 164 318 159 312 156" fill="#2cff00"/>
<path d="M258 245 264 248 267 245 262 241" fill="#00ff11"/>
<path d="M270 252 275 256 279 252 273 248M330 187 335 191 338 187 333 183M388 161 393 164 396 160 391 156" fill="#00ff2e"/>
<path d="M292 267 298 271 301 267 295 263M337 211 342 215 346 211 340 207M378 187 383 191 386 186 381 183" fill="#00ff67"/>
<path d="M298 271 303 275 307 271 301 267M342 215 348 219 351 214 346 211M372 196 377 200 380 195 375 192M383 191 389 195 392 190 386 186" fill="#00ff75"/>
<path d="M360 311 365 314 369 310 363 307M388 263 394 267 397 263 391 259" fill="#00faff"/>
<path d="M365 314 371 318 374 314 369 310" fill="#00eeff"/>
<path d="M377 321 382 325 385 321 380 317M439 246 445 250 448 245 442 242M451 241 456 244 459 240 453 236" fill="#00d7ff"/>
<path d="M394 332 399 335 402 331 397 328M427 276 433 279 436 275 430 271" fill="#00b4ff"/>
<path d="M399 335 405 339 408 335 402 331M433 279 438 283 441 278 436 275M484 249 489 252 492 247 486 244" fill="#00a9ff"/>
<path d="M405 339 411 342 414 338 408 335M408 323 414 327 417 323 411 320" fill="#009fff"/>
<path d="M411 342 416 346 419 342 414 338M414 327 420 330 423 326 417 323M447 282 452 285 455 281 449 277" fill="#0094ff"/>
<path d="M416 346 422 349 425 345 419 342M420 330 425 334 428 330 423 326M452 285 458 288 460 284 455 281" fill="#0089ff"/>
<path d="M154 165 160 169 163 166 158 161" fill="#ffd900"/>
<path d="M171 178 177 182 180 178 175 174M240 117 246 121 249 117 244 113" fill="#f0ff00"/>
<path d="M194 194 200 198 203 194 197 190M247 142 253 146 256 142 250 138" fill="#abff00"/>
<path d="M205 202 211 206 214 202 209 198M300 127 305 131 308 126 303 122" fill="#8aff00"/>
<path d="M211 206 217 210 220 206 214 202M242 171 247 175 250 171 245 167" fill="#79ff00"/>
<path d="M222 214 228 218 231 214 226 210M304 143 310 147 313 143 308 139M316 138 322 142 325 138 319 134" fill="#59ff00"/>
<path d="M228 218 234 222 237 218 231 214M261 178 267 182 270 178 265 174M310 147 315 151 318 147 313 143" fill="#49ff00"/>
<path d="M284 256 290 260 293 256 287 252" fill="#00ff4e"/>
<path d="M295 263 301 267 304 263 299 260" fill="#00ff6b"/>
<path d="M312 274 318 278 321 274 316 271" fill="#00ff94"/>
<path d="M324 282 329 285 332 282 327 278M379 220 384 224 387 219 382 216" fill="#00ffaf"/>
<path d="M346 296 352 300 355 296 349 292M415 225 420 228 423 224 418 220M426 219 432 223 435 218 429 215" fill="#00ffe2"/>
<path d="M380 317 385 321 389 317 383 314M393 290 398 294 401 290 396 286M396 286 401 290 404 285 399 282M399 282 404 285 407 281 402 278M402 278 407 281 410 277 405 274M470 234 476 237 478 233 473 229" fill="#00d3ff"/>
<path d="M385 321 391 324 394 321 389 317M398 294 404 297 407 293 401 290M401 290 407 293 410 289 404 285M404 285 410 289 413 285 407 281M407 281 413 285 416 281 410 277" fill="#00c7ff"/>
<path d="M391 324 397 328 400 324 394 321M401 301 406 305 409 301 404 297M481 241 486 244 489 239 484 236" fill="#00bcff"/>
<path d="M397 328 402 331 405 327 400 324M421 284 427 288 430 283 424 280" fill="#00b1ff"/>
<path d="M402 331 408 335 411 331 405 327M409 312 414 316 417 311 412 308M447 270 452 273 455 269 450 265" fill="#00a6ff"/>
<path d="M408 335 414 338 417 334 411 331M414 316 420 319 423 315 417 311M435 287 441 290 444 286 438 283M452 273 458 276 461 272 455 269" fill="#009bff"/>
<path d="M414 338 419 342 422 338 417 334M420 319 426 322 429 318 423 315M441 290 446 293 449 289 444 286" fill="#0090ff"/>
<path d="M419 342 425 345 428 341 422 338M426 322 431 326 434 322 429 318M446 293 452 297 455 293 449 289" fill="#0085ff"/>
<path d="M186 182 192 186 195 182 190 178M207 159 213 163 216 159 210 155M310 100 316 104 319 99 313 95" fill="#cbff00"/>
<path d="M220 206 226 210 229 206 223 202M284 149 290 153 293 148 287 145M342 123 348 127 351 122 345 118" fill="#67ff00"/>
<path d="M254 229 259 233 263 229 257 226" fill="#08ff00"/>
<path d="M259 233 265 237 268 233 263 229" fill="#00ff07"/>
<path d="M282 248 287 252 291 248 285 245M359 181 364 185 367 180 362 176M370 176 375 179 378 175 373 171" fill="#00ff42"/>
<path d="M316 271 321 274 324 270 319 267M347 231 353 234 356 230 350 226M380 208 385 211 388 207 383 203" fill="#00ff97"/>
<path d="M372 307 377 310 380 306 375 303M468 226 473 229 476 225 471 221" fill="#00e7ff"/>
<path d="M383 314 389 317 392 313 386 310" fill="#00d0ff"/>
<path d="M405 327 411 331 414 327 408 323M469 259 475 262 478 258 472 254M481 253 486 256 489 252 484 249" fill="#00a2ff"/>
<path d="M411 331 417 334 420 330 414 327M449 277 455 281 458 276 452 273M464 268 469 271 472 267 467 263" fill="#0097ff"/>
<path d="M417 334 422 338 425 334 420 330M455 281 460 284 463 280 458 276M469 271 475 274 477 270 472 267" fill="#008cff"/>
<path d="M422 338 428 341 431 337 425 334M432 314 437 318 440 314 435 310M435 310 440 314 443 309 437 306M437 306 443 309 446 305 440 302M440 302 446 305 449 301 443 298" fill="#0082ff"/>
<path d="M184 174 190 178 193 174 188 170M188 170 193 174 197 171 191 167M198 159 204 163 207 159 201 155M227 134 233 138 236 134 230 130" fill="#dbff00"/>
<path d="M223 202 229 206 233 202 227 198M240 183 246 187 249 183 244 179" fill="#65ff00"/>
<path d="M240 214 246 218 249 214 244 210M260 190 266 194 269 190 264 186" fill="#35ff00"/>
<path d="M252 222 257 226 261 222 255 218M311 168 317 172 320 168 314 164" fill="#16ff00"/>
<path d="M257 226 263 229 266 226 261 222M277 202 283 206 286 202 280 198M317 172 322 176 325 171 320 168" fill="#06ff00"/>
<path d="M291 248 296 252 300 248 294 244M415 166 420 169 423 164 418 161" fill="#00ff53"/>
<path d="M296 252 302 256 305 252 300 248M322 220 328 224 331 220 325 216" fill="#00ff61"/>
<path d="M308 259 313 263 316 259 311 256M333 227 339 231 342 227 336 223M431 176 436 180 439 175 434 172" fill="#00ff7d"/>
<path d="M313 263 319 267 322 263 316 259M386 199 391 203 394 198 389 195M436 180 442 183 445 178 439 175" fill="#00ff8b"/>
<path d="M336 278 341 281 344 277 339 274M364 241 369 245 372 241 367 237M381 228 387 232 390 227 384 224M407 213 413 217 416 212 410 209M419 208 424 211 427 207 422 203" fill="#00ffc1"/>
<path d="M364 296 369 299 372 295 367 292M423 236 428 239 431 235 426 232M446 225 451 228 454 224 448 220" fill="#00fdff"/>
<path d="M392 313 397 317 400 313 395 309" fill="#00c1ff"/>
<path d="M403 320 408 323 411 320 406 316M450 265 455 269 458 264 453 261" fill="#00aaff"/>
<path d="M425 334 431 337 434 333 428 330" fill="#007fff"/>
<path d="M182 166 188 170 191 167 185 162M185 162 191 167 195 163 189 159M189 159 195 163 198 159 192 155M252 113 258 117 261 112 256 108" fill="#ecff00"/>
<path d="M221 194 227 198 230 195 225 191M235 179 240 183 244 179 238 175" fill="#75ff00"/>
<path d="M272 229 277 233 281 229 275 225M288 210 294 213 297 209 291 206M328 179 333 183 336 179 331 175M394 151 399 155 402 150 397 147" fill="#00ff19"/>
<path d="M283 237 288 241 292 237 286 233M299 217 305 221 308 217 302 213M324 196 329 200 332 195 327 192M338 187 344 190 347 186 342 182M404 159 410 162 413 157 407 154" fill="#00ff37"/>
<path d="M288 241 294 244 297 240 292 237M305 221 310 225 313 220 308 217M329 200 335 203 338 199 332 195M344 190 349 194 352 190 347 186M390 169 395 173 398 168 393 164" fill="#00ff46"/>
<path d="M300 248 305 252 308 248 303 244M340 207 346 211 349 206 343 203M401 176 406 180 409 175 404 172" fill="#00ff63"/>
<path d="M339 274 344 277 347 273 342 270M361 246 366 249 369 245 364 241" fill="#00ffc3"/>
<path d="M344 277 350 281 353 277 347 273M366 249 372 253 375 249 369 245" fill="#00ffd0"/>
<path d="M361 288 367 292 370 288 364 284M383 260 388 263 391 259 386 256" fill="#00fff7"/>
<path d="M372 295 378 299 381 295 375 291M397 263 402 266 405 262 400 258M414 249 420 253 422 248 417 245M440 234 445 237 448 233 443 230" fill="#00efff"/>
<path d="M395 309 400 313 403 309 398 305M450 253 456 257 459 252 453 249M461 248 467 251 470 246 464 243" fill="#00bfff"/>
<path d="M417 323 423 326 426 322 420 319M444 286 449 289 452 285 447 282" fill="#0092ff"/>
<path d="M423 326 428 330 431 326 426 322M449 289 455 293 458 288 452 285" fill="#0087ff"/>
<path d="M428 330 434 333 437 329 431 326" fill="#007cff"/>
<path d="M174 154 180 158 183 155 178 150" fill="#ffef00"/>
<path d="M225 191 230 195 234 191 228 187M228 187 234 191 237 187 232 183M232 183 237 187 240 183 235 179M260 158 266 162 269 158 263 154M325 125 331 128 334 124 329 120" fill="#74ff00"/>
<path d="M264 218 269 222 273 218 267 214M267 214 273 218 276 214 270 210M270 210 276 214 279 210 274 206M363 151 368 154 371 150 366 146M383 144 388 148 391 143 386 139" fill="#04ff00"/>
<path d="M286 233 292 237 295 233 289 229M296 221 301 225 305 221 299 217M384 165 390 169 393 164 388 161" fill="#00ff38"/>
<path d="M320 255 325 259 328 255 323 251M332 239 338 243 341 239 335 235M356 218 362 222 365 217 360 214M371 209 376 212 380 208 374 204" fill="#00ff8e"/>
<path d="M336 266 342 270 345 266 339 262M352 246 357 250 361 246 355 242" fill="#00ffb7"/>
<path d="M342 270 347 273 351 269 345 266M357 250 363 253 366 249 361 246" fill="#00ffc4"/>
<path d="M370 288 375 291 378 287 373 284M385 267 391 271 394 267 388 263M473 217 479 220 482 215 476 212" fill="#00f9ff"/>
<path d="M403 309 409 312 412 308 406 305M424 280 430 283 433 279 427 276M441 266 447 270 450 265 444 262" fill="#00b2ff"/>
<path d="M431 326 437 329 440 325 434 322M452 297 457 300 460 296 455 293" fill="#007aff"/>
<path d="M284 225 289 229 293 225 287 221M287 221 293 225 296 221 290 217" fill="#00ff2a"/>
<path d="M317 248 323 251 326 247 320 244M320 244 326 247 329 243 324 240M324 240 329 243 332 239 327 236" fill="#00ff81"/>
<path d="M362 277 367 280 370 276 365 273M374 260 380 264 383 260 377 256" fill="#00ffec"/>
<path d="M367 280 373 284 376 280 370 276M376 268 382 272 385 267 380 264M380 264 385 267 388 263 383 260M468 213 473 217 476 212 471 209" fill="#00fff9"/>
<path d="M406 305 412 308 415 304 409 301M418 288 424 292 427 288 421 284M486 244 492 247 495 243 489 239" fill="#00b0ff"/>
<path d="M417 311 423 315 426 311 420 307M420 307 426 311 429 307 423 303M429 295 435 298 438 294 432 291" fill="#0099ff"/>
<path d="M429 318 434 322 437 318 432 314M443 298 449 301 452 297 446 293" fill="#0083ff"/>
<path d="M434 322 440 325 443 321 437 318" fill="#0079ff"/>
<path d="M370 276 376 280 379 276 373 272M373 272 379 276 382 272 376 268M400 246 406 250 409 246 403 242M415 237 420 240 423 236 418 233M448 220 454 224 457 219 451 216" fill="#00fffa"/>
<path d="M415 304 420 307 423 303 418 300M421 296 426 299 429 295 424 292M424 292 429 295 432 291 427 288" fill="#00a4ff"/>
<path d="M426 311 432 314 435 310 429 307M429 307 435 310 437 306 432 303M432 303 437 306 440 302 435 298M435 298 440 302 443 298 438 294" fill="#008dff"/>
<path d="M437 318 443 321 446 317 440 314M440 314 446 317 449 313 443 309M443 309 449 313 452 309 446 305M446 305 452 309 454 304 449 301" fill="#0077ff"/>
<path d="M201 155 207 159 210 155 205 151M305 96 310 100 313 95 308 91" fill="#dcff00"/>
<path d="M182 134 188 139 191 135 186 130" fill="#ffd800"/>
<path d="M216 159 222 163 225 159 219 155" fill="#bbff00"/>
<path d="M227 167 233 171 236 167 230 163" fill="#98ff00"/>
<path d="M208 147 214 151 217 147 212 143M230 130 236 134 239 130 234 126M273 107 278 111 281 107 276 103" fill="#e0ff00"/>
<path d="M214 151 219 155 223 151 217 147M236 134 242 138 245 134 239 130" fill="#ceff00"/>
<path d="M219 155 225 159 228 155 223 151M242 138 247 142 250 138 245 134M284 115 289 119 292 114 287 111" fill="#bdff00"/>
<path d="M230 163 236 167 239 163 234 159M253 146 258 150 261 146 256 142" fill="#9aff00"/>
<path d="M280 198 286 202 289 198 284 194M302 181 307 185 310 180 305 177" fill="#07ff00"/>
<path d="M308 217 313 220 317 216 311 213M410 162 415 166 418 161 413 157" fill="#00ff45"/>
<path d="M200 135 206 139 209 135 204 131M285 89 291 93 294 88 289 84" fill="#fff800"/>
<path d="M212 143 217 147 221 143 215 139M261 112 266 116 270 112 264 108" fill="#e2ff00"/>
<path d="M289 198 295 201 298 197 292 194M337 166 342 170 345 165 340 162M348 161 354 165 357 160 352 156M380 149 385 152 388 148 383 144" fill="#00ff06"/>
<path d="M432 291 438 294 441 290 435 287" fill="#009aff"/>
<path d="M449 301 454 304 457 300 452 297" fill="#0078ff"/>
<path d="M198 126 204 131 207 126 202 122M292 79 297 83 300 78 295 75" fill="#ffe200"/>
<path d="M204 131 209 135 213 131 207 126M223 118 228 122 232 118 226 114M238 109 244 113 247 109 241 105" fill="#fff500"/>
<path d="M215 139 221 143 224 139 218 135" fill="#e6ff00"/>
<path d="M221 143 226 147 229 143 224 139" fill="#d4ff00"/>
<path d="M248 163 254 167 257 162 251 159M329 120 334 124 337 119 332 115" fill="#7eff00"/>
<path d="M287 190 292 194 295 189 290 186M320 168 325 171 328 167 323 163" fill="#0cff00"/>
<path d="M402 266 408 270 411 265 405 262M445 237 451 241 453 236 448 233" fill="#00e3ff"/>
<path d="M413 273 419 276 422 272 416 269M430 259 436 263 439 259 433 255" fill="#00caff"/>
<path d="M430 283 435 287 438 283 433 279M472 254 478 258 481 253 475 250" fill="#00a7ff"/>
<path d="M229 143 235 147 238 142 233 138M275 116 280 120 284 115 278 111M287 111 292 114 295 110 290 106" fill="#c6ff00"/>
<path d="M295 189 301 193 304 189 299 185M371 150 377 153 380 149 374 145" fill="#00ff01"/>
<path d="M301 193 306 197 310 193 304 189M377 153 382 157 385 152 380 149" fill="#00ff10"/>
<path d="M317 204 323 208 326 204 321 200" fill="#00ff3e"/>
<path d="M339 219 345 223 348 219 342 215" fill="#00ff78"/>
<path d="M389 251 394 255 397 251 392 247" fill="#00fff3"/>
<path d="M455 293 460 296 463 292 458 288" fill="#007bff"/>
<path d="M200 114 205 118 208 114 203 110" fill="#ffc800"/>
<path d="M211 122 216 126 219 122 214 118M289 84 294 88 297 83 292 79" fill="#ffed00"/>
<path d="M288 178 293 181 296 177 291 173M318 159 323 163 326 159 321 155" fill="#22ff00"/>
<path d="M293 181 299 185 302 181 296 177M323 163 328 167 332 162 326 159" fill="#12ff00"/>
<path d="M430 271 436 275 438 271 433 267" fill="#00b7ff"/>
<path d="M441 278 447 282 449 277 444 274" fill="#00a0ff"/>
<path d="M458 288 463 292 466 287 460 284" fill="#007eff"/>
<path d="M203 110 208 114 212 110 206 106" fill="#ffc300"/>
<path d="M263 154 269 158 272 154 267 150M337 119 342 123 345 118 340 114" fill="#78ff00"/>
<path d="M417 257 422 260 425 256 420 253M431 247 436 251 439 246 434 243M492 222 498 225 501 221 495 217" fill="#00deff"/>
<path d="M428 264 433 267 436 263 430 259M442 254 447 258 450 253 445 250" fill="#00c6ff"/>
<path d="M433 267 438 271 441 266 436 263M447 258 453 261 456 257 450 253" fill="#00baff"/>
<path d="M460 284 466 287 469 283 463 280" fill="#0081ff"/>
<path d="M206 106 212 110 215 105 210 101M222 97 227 101 230 97 225 92M281 71 286 75 290 71 284 67" fill="#ffbe00"/>
<path d="M234 126 239 130 243 126 237 122M249 117 255 121 258 117 252 113" fill="#e5ff00"/>
<path d="M261 146 267 150 270 146 264 142M276 137 282 141 285 136 280 132M323 116 329 120 332 115 326 111" fill="#8eff00"/>
<path d="M289 165 294 169 297 165 292 161" fill="#3bff00"/>
<path d="M360 214 365 217 368 213 363 209M397 194 402 197 405 193 400 189" fill="#00ff8a"/>
<path d="M458 276 463 280 466 275 461 272" fill="#008fff"/>
<path d="M463 280 469 283 472 279 466 275" fill="#0084ff"/>
<path d="M226 114 232 118 235 113 229 109M277 89 282 93 285 89 280 85" fill="#fff000"/>
<path d="M243 126 248 130 251 125 246 121M293 101 299 105 302 101 296 97" fill="#d9ff00"/>
<path d="M281 153 286 157 290 153 284 149M308 139 313 143 316 138 311 135M319 134 325 138 328 133 322 129" fill="#61ff00"/>
<path d="M292 161 297 165 300 161 295 157M318 147 324 150 327 146 322 142" fill="#40ff00"/>
<path d="M297 165 303 169 306 164 300 161M324 150 329 154 332 150 327 146" fill="#30ff00"/>
<path d="M314 176 319 180 322 176 317 172M340 162 345 165 348 161 343 157" fill="#01ff00"/>
<path d="M439 259 444 262 447 258 442 254" fill="#00c2ff"/>
<path d="M466 275 472 279 475 274 469 271" fill="#0088ff"/>
<path d="M213 97 218 101 222 97 216 93M240 83 246 87 249 83 243 79M252 78 257 82 261 77 255 73" fill="#ffb200"/>
<path d="M229 109 235 113 238 109 233 105" fill="#ffea00"/>
<path d="M295 157 300 161 304 156 298 152" fill="#46ff00"/>
<path d="M216 93 222 97 225 92 219 88M276 67 281 71 284 67 279 63" fill="#ffac00"/>
<path d="M352 190 358 193 361 189 355 185M387 174 392 177 395 173 390 169" fill="#00ff4f"/>
<path d="M434 243 439 246 442 242 437 238M456 232 462 235 465 231 459 227M476 225 481 228 484 223 479 220" fill="#00e4ff"/>
<path d="M467 263 472 267 475 262 469 259M478 258 483 261 486 256 481 253" fill="#009cff"/>
<path d="M472 267 477 270 480 265 475 262" fill="#0091ff"/>
<path d="M225 92 230 97 234 92 228 88M272 72 278 76 281 71 276 67" fill="#ffb700"/>
<path d="M269 125 274 129 277 124 272 120M304 109 309 113 312 108 307 104" fill="#b7ff00"/>
<path d="M285 136 290 140 294 136 288 132M320 121 325 125 329 120 323 116" fill="#84ff00"/>
<path d="M307 152 312 156 315 151 310 147M361 129 367 133 370 128 364 125" fill="#42ff00"/>
<path d="M388 207 393 211 396 206 391 203M399 202 405 205 408 201 402 197M430 189 436 193 439 188 433 185" fill="#00ff9f"/>
<path d="M448 245 453 249 456 244 451 241M459 240 464 243 467 239 462 235" fill="#00d1ff"/>
<path d="M475 262 480 265 483 261 478 258" fill="#0096ff"/>
<path d="M223 84 228 88 231 84 226 79M258 69 264 73 267 68 262 64" fill="#ff9d00"/>
<path d="M239 96 245 100 248 96 242 92" fill="#ffd500"/>
<path d="M277 124 283 128 286 124 280 120M301 114 306 118 309 113 304 109" fill="#adff00"/>
<path d="M342 170 348 174 351 169 345 165M385 152 391 156 394 151 388 148" fill="#00ff15"/>
<path d="M226 79 231 84 235 79 229 75M250 69 255 73 258 69 253 65" fill="#ff9500"/>
<path d="M351 169 356 173 359 168 354 165M362 164 368 167 371 163 365 159" fill="#00ff1d"/>
<path d="M229 75 235 79 238 74 233 70M241 70 247 74 250 69 244 65" fill="#ff8c00"/>
<path d="M246 87 251 91 254 87 249 83M257 82 263 86 266 81 261 77" fill="#ffc400"/>
<path d="M322 142 327 146 330 141 325 138" fill="#48ff00"/>
<path d="M478 245 484 249 486 244 481 241" fill="#00b5ff"/>
<path d="M243 79 249 83 252 78 247 74" fill="#ffa900"/>
<path d="M260 91 265 95 268 90 263 86" fill="#ffe000"/>
<path d="M335 145 341 149 344 144 338 141" fill="#31ff00"/>
<path d="M395 185 400 189 403 184 398 181" fill="#00ff74"/>
<path d="M400 189 405 193 408 188 403 184" fill="#00ff82"/>
<path d="M405 193 411 196 414 192 408 188" fill="#00ff90"/>
<path d="M236 66 241 70 244 65 239 61" fill="#ff7a00"/>
<path d="M333 137 338 141 342 136 336 132" fill="#4aff00"/>
<path d="M338 141 344 144 347 140 342 136" fill="#3aff00"/>
<path d="M403 184 408 188 411 183 406 180M423 178 428 181 431 176 426 173" fill="#00ff7a"/>
<path d="M239 61 244 65 248 61 242 56" fill="#ff6f00"/>
<path d="M244 65 250 69 253 65 248 61" fill="#ff8200"/>
<path d="M272 85 277 89 280 85 275 81" fill="#ffde00"/>
<path d="M242 56 248 61 251 56 245 52" fill="#ff6500"/>
<path d="M253 65 258 69 262 64 256 60" fill="#ff8b00"/>
<path d="M382 157 388 161 391 156 385 152" fill="#00ff1f"/>
<path d="M409 175 414 179 417 174 412 170" fill="#00ff68"/>
<path d="M245 52 251 56 254 51 249 47" fill="#ff5a00"/>
<path d="M256 60 262 64 265 59 259 55" fill="#ff8000"/>
<path d="M262 64 267 68 270 63 265 59" fill="#ff9200"/>
<path d="M391 156 396 160 399 155 394 151" fill="#00ff24"/>
<path d="M396 160 401 163 404 159 399 155" fill="#00ff33"/>
<path d="M439 188 444 191 447 187 442 183" fill="#00ffa2"/>
<path d="M460 202 466 205 468 200 463 197" fill="#00ffd7"/>
<path d="M249 47 254 51 257 46 252 42" fill="#ff4e00"/>
<path d="M254 51 259 55 263 50 257 46" fill="#ff6100"/>
<path d="M259 55 265 59 268 54 263 50" fill="#ff7400"/>
<path d="M265 59 270 63 273 58 268 54" fill="#ff8700"/>
<path d="M270 63 276 67 279 63 273 58" fill="#ff9900"/>
<path d="M297 83 303 87 306 82 300 78" fill="#fff300"/>
<path d="M501 221 506 224 509 219 504 216" fill="#00dcff"/>
<path d="M80.3 229.5 88 223.7 95.5 217.9 103 211.9 110.3 205.9 117.5 199.7 124.7 193.4 131.7 187.1 138.6 180.6 145.4 173.9 152.2 167.2 158.9 160.3 165.5 153.4 172 146.3 178.4 139.1 184.8 131.7 191.2 124.2 197.4 116.6 203.7 108.9 209.8 101.1 215.9 93.1 222 84.9 228 76.6 234 68.2 239.9 59.7 245.9 51 251.7 42.1M83.8 232 91.5 226.2 99 220.4 106.4 214.4 113.8 208.4 121 202.2 128.1 195.9 135.1 189.5 142 183 148.8 176.4 155.5 169.6 162.2 162.8 168.8 155.8 175.3 148.7 181.7 141.5 188.1 134.1 194.4 126.7 200.7 119.1 206.9 111.3 213 103.5 219.1 95.5 225.2 87.3 231.2 79.1 237.2 70.6 243.1 62.1 249 53.4 254.9 44.5M87.3 234.4 95 228.7 102.5 222.8 109.9 216.9 117.2 210.8 124.4 204.6 131.5 198.3 138.5 191.9 145.4 185.4 152.2 178.8 158.9 172.1 165.5 165.2 172.1 158.2 178.6 151.1 185 143.9 191.4 136.5 197.7 129.1 203.9 121.5 210.1 113.7 216.3 105.9 222.4 97.9 228.4 89.7 234.4 81.5 240.4 73 246.3 64.5 252.2 55.8 258.1 46.9M90.9 236.9 98.5 231.2 106 225.3 113.4 219.3 120.6 213.3 127.8 207.1 134.9 200.8 141.8 194.4 148.7 187.9 155.5 181.2 162.2 174.5 168.9 167.6 175.4 160.6 181.9 153.5 188.3 146.3 194.7 138.9 200.9 131.5 207.2 123.9 213.4 116.1 219.5 108.3 225.6 100.3 231.6 92.1 237.6 83.9 243.6 75.4 249.5 66.9 255.4 58.2 261.2 49.3M94.4 239.4 102 233.6 109.5 227.8 116.8 221.8 124.1 215.7 131.2 209.5 138.3 203.2 145.2 196.8 152.1 190.3 158.9 183.6 165.6 176.9 172.2 170 178.7 163 185.2 155.9 191.6 148.7 197.9 141.3 204.2 133.9 210.4 126.2 216.6 118.5 222.7 110.6 228.8 102.7 234.8 94.5 240.8 86.2 246.8 77.8 252.7 69.3 258.5 60.6 264.4 51.7M97.9 241.9 105.5 236.1 112.9 230.2 120.3 224.2 127.5 218.2 134.6 212 141.7 205.6 148.6 199.2 155.5 192.7 162.2 186 168.9 179.3 175.5 172.4 182 165.4 188.5 158.3 194.9 151.1 201.2 143.7 207.5 136.2 213.7 128.6 219.8 120.9 225.9 113 232 105 238 96.9 244 88.6 249.9 80.2 255.8 71.7 261.7 63 267.6 54.1M101.4 244.4 109 238.6 116.4 232.7 123.7 226.7 131 220.6 138.1 214.4 145.1 208.1 152 201.6 158.8 195.1 165.6 188.5 172.2 181.7 178.8 174.8 185.3 167.8 191.8 160.7 198.1 153.5 204.5 146.1 210.7 138.6 216.9 131 223.1 123.3 229.2 115.4 235.2 107.4 241.2 99.3 247.2 91 253.1 82.6 259 74 264.9 65.3 270.7 56.5M104.9 246.8 112.5 241 119.9 235.1 127.2 229.1 134.4 223 141.5 216.8 148.5 210.5 155.4 204 162.2 197.5 168.9 190.8 175.6 184.1 182.1 177.2 188.6 170.2 195.1 163.1 201.4 155.8 207.7 148.5 214 141 220.1 133.4 226.3 125.6 232.4 117.8 238.4 109.8 244.4 101.6 250.4 93.4 256.3 85 262.2 76.4 268 67.7 273.9 58.9M108.5 249.3 116 243.5 123.4 237.6 130.6 231.6 137.8 225.4 144.9 219.2 151.9 212.9 158.8 206.4 165.5 199.9 172.3 193.2 178.9 186.5 185.4 179.6 191.9 172.6 198.3 165.4 204.7 158.2 211 150.8 217.2 143.4 223.4 135.7 229.5 128 235.6 120.1 241.6 112.1 247.6 104 253.6 95.7 259.5 87.3 265.4 78.8 271.2 70.1 277 61.2M112 251.7 119.5 245.9 126.8 240 134.1 234 141.2 227.9 148.3 221.6 155.3 215.3 162.1 208.8 168.9 202.3 175.6 195.6 182.2 188.8 188.8 181.9 195.2 174.9 201.6 167.8 208 160.6 214.2 153.2 220.5 145.7 226.6 138.1 232.7 130.4 238.8 122.5 244.8 114.5 250.8 106.4 256.7 98.1 262.7 89.7 268.5 81.1 274.4 72.4 280.2 63.6M115.5 254.2 122.9 248.3 130.3 242.4 137.5 236.4 144.7 230.3 151.7 224 158.7 217.7 165.5 211.2 172.3 204.7 178.9 198 185.5 191.2 192.1 184.3 198.5 177.3 204.9 170.2 211.2 162.9 217.5 155.6 223.7 148.1 229.9 140.4 236 132.7 242 124.8 248 116.8 254 108.7 259.9 100.4 265.8 92 271.7 83.5 277.5 74.8 283.3 65.9M119 256.6 126.4 250.8 133.8 244.8 141 238.8 148.1 232.7 155.1 226.4 162 220.1 168.9 213.6 175.6 207 182.3 200.4 188.9 193.6 195.4 186.7 201.8 179.7 208.2 172.5 214.5 165.3 220.8 157.9 226.9 150.4 233.1 142.8 239.2 135 245.2 127.2 251.2 119.2 257.2 111 263.1 102.8 269 94.4 274.9 85.8 280.7 77.1 286.5 68.3M122.5 259 129.9 253.2 137.2 247.2 144.4 241.2 151.5 235.1 158.5 228.8 165.4 222.4 172.2 216 179 209.4 185.6 202.7 192.2 195.9 198.7 189 205.1 182 211.5 174.9 217.8 167.6 224 160.2 230.2 152.7 236.3 145.1 242.4 137.4 248.4 129.5 254.4 121.5 260.4 113.4 266.3 105.1 272.2 96.7 278 88.1 283.8 79.5 289.6 70.6M126 261.5 133.4 255.6 140.7 249.7 147.9 243.6 154.9 237.4 161.9 231.2 168.8 224.8 175.6 218.3 182.3 211.8 189 205.1 195.5 198.3 202 191.4 208.4 184.3 214.7 177.2 221 170 227.3 162.6 233.4 155.1 239.5 147.5 245.6 139.7 251.6 131.8 257.6 123.8 263.6 115.7 269.5 107.4 275.3 99 281.2 90.5 287 81.8 292.8 73M129.5 263.9 136.9 258 144.1 252.1 151.3 246 158.4 239.8 165.3 233.6 172.2 227.2 179 220.7 185.7 214.1 192.3 207.4 198.8 200.6 205.3 193.7 211.7 186.7 218 179.5 224.3 172.3 230.5 164.9 236.7 157.4 242.8 149.8 248.8 142 254.9 134.2 260.8 126.2 266.8 118 272.7 109.8 278.5 101.3 284.3 92.8 290.1 84.1 295.9 75.3M133 266.3 140.4 260.4 147.6 254.4 154.7 248.4 161.8 242.2 168.7 235.9 175.6 229.6 182.3 223.1 189 216.5 195.6 209.8 202.1 203 208.6 196.1 215 189 221.3 181.9 227.6 174.6 233.8 167.2 239.9 159.7 246 152.1 252.1 144.3 258.1 136.5 264 128.5 269.9 120.3 275.8 112.1 281.7 103.7 287.5 95.1 293.3 86.4 299.1 77.6M136.5 268.7 143.8 262.8 151.1 256.8 158.2 250.8 165.2 244.6 172.1 238.3 179 231.9 185.7 225.4 192.4 218.8 199 212.1 205.5 205.3 211.9 198.4 218.3 191.3 224.6 184.2 230.8 176.9 237 169.5 243.1 162 249.2 154.4 255.3 146.7 261.3 138.8 267.2 130.8 273.1 122.6 279 114.4 284.8 106 290.7 97.4 296.5 88.7 302.2 79.9M140 271.1 147.3 265.2 154.5 259.2 161.6 253.1 168.6 246.9 175.5 240.6 182.3 234.3 189.1 227.8 195.7 221.2 202.3 214.4 208.8 207.6 215.2 200.7 221.6 193.7 227.8 186.5 234.1 179.2 240.3 171.8 246.4 164.3 252.5 156.7 258.5 149 264.5 141.1 270.4 133.1 276.3 124.9 282.2 116.7 288 108.3 293.8 99.7 299.6 91 305.4 82.2M143.5 273.5 150.8 267.6 158 261.6 165.1 255.5 172 249.3 178.9 243 185.7 236.6 192.4 230.1 199.1 223.5 205.6 216.8 212.1 210 218.5 203 224.8 196 231.1 188.8 237.3 181.5 243.5 174.1 249.6 166.6 255.7 159 261.7 151.3 267.7 143.4 273.6 135.4 279.5 127.2 285.3 119 291.2 110.6 297 102 302.7 93.3 308.5 84.5M147 275.9 154.2 270 161.4 264 168.5 257.9 175.4 251.6 182.3 245.3 189.1 238.9 195.8 232.4 202.4 225.8 208.9 219.1 215.4 212.3 221.8 205.3 228.1 198.3 234.4 191.1 240.6 183.8 246.7 176.4 252.8 168.9 258.9 161.3 264.9 153.5 270.9 145.7 276.8 137.7 282.7 129.5 288.5 121.3 294.3 112.8 300.1 104.3 305.9 95.6 311.6 86.8M150.5 278.3 157.7 272.3 164.9 266.3 171.9 260.2 178.9 254 185.7 247.7 192.5 241.3 199.2 234.8 205.7 228.1 212.3 221.4 218.7 214.6 225.1 207.6 231.4 200.6 237.7 193.4 243.9 186.1 250 178.7 256.1 171.2 262.1 163.6 268.1 155.8 274.1 147.9 280 139.9 285.8 131.8 291.7 123.5 297.5 115.1 303.3 106.6 309 97.9 314.8 89.1M154 280.6 161.2 274.7 168.3 268.7 175.3 262.6 182.3 256.3 189.1 250 195.8 243.6 202.5 237.1 209.1 230.4 215.6 223.7 222 216.9 228.4 209.9 234.7 202.9 240.9 195.7 247.1 188.4 253.2 181 259.3 173.5 265.3 165.9 271.3 158.1 277.3 150.2 283.2 142.2 289 134.1 294.9 125.8 300.7 117.4 306.4 108.9 312.2 100.2 317.9 91.4M157.4 283 164.7 277.1 171.8 271 178.8 264.9 185.7 258.7 192.5 252.3 199.2 245.9 205.9 239.4 212.4 232.8 218.9 226 225.3 219.2 231.7 212.2 238 205.2 244.2 198 250.4 190.7 256.5 183.3 262.5 175.8 268.6 168.1 274.5 160.4 280.5 152.5 286.3 144.5 292.2 136.3 298 128.1 303.8 119.7 309.6 111.1 315.3 102.5 321.1 93.6M160.9 285.4 168.1 279.4 175.2 273.4 182.2 267.2 189.1 261 195.9 254.7 202.6 248.2 209.2 241.7 215.8 235.1 222.2 228.3 228.6 221.5 235 214.5 241.2 207.4 247.5 200.3 253.6 193 259.7 185.6 265.8 178 271.8 170.4 277.7 162.6 283.7 154.8 289.5 146.7 295.4 138.6 301.2 130.3 307 121.9 312.7 113.4 318.5 104.7 324.2 95.9M164.4 287.7 171.6 281.8 178.7 275.7 185.6 269.6 192.5 263.3 199.3 257 206 250.5 212.6 244 219.1 237.4 225.6 230.6 231.9 223.7 238.3 216.8 244.5 209.7 250.7 202.5 256.9 195.2 263 187.8 269 180.3 275 172.7 280.9 164.9 286.8 157 292.7 149 298.6 140.9 304.4 132.6 310.1 124.2 315.9 115.7 321.6 107 327.3 98.2M167.9 290.1 175.1 284.1 182.1 278 189 271.9 195.9 265.6 202.7 259.3 209.3 252.8 215.9 246.3 222.4 239.6 228.9 232.9 235.3 226 241.6 219.1 247.8 212 254 204.8 260.1 197.5 266.2 190.1 272.2 182.6 278.2 174.9 284.1 167.2 290 159.3 295.9 151.3 301.7 143.1 307.5 134.8 313.3 126.4 319 117.9 324.8 109.2 330.5 100.4M171.4 292.4 178.5 286.4 185.5 280.4 192.5 274.2 199.3 268 206 261.6 212.7 255.1 219.3 248.6 225.8 241.9 232.2 235.2 238.6 228.3 244.8 221.3 251.1 214.2 257.2 207.1 263.4 199.8 269.4 192.3 275.4 184.8 281.4 177.2 287.3 169.4 293.2 161.5 299.1 153.5 304.9 145.4 310.7 137.1 316.5 128.7 322.2 120.1 327.9 111.5 333.6 102.7M174.9 294.8 182 288.8 189 282.7 195.9 276.5 202.7 270.3 209.4 263.9 216.1 257.4 222.6 250.9 229.1 244.2 235.5 237.4 241.9 230.6 248.1 223.6 254.4 216.5 260.5 209.3 266.6 202 272.7 194.6 278.7 187.1 284.6 179.4 290.5 171.6 296.4 163.7 302.3 155.7 308.1 147.6 313.9 139.3 319.6 130.9 325.3 122.4 331 113.7 336.7 104.9M178.4 297.1 185.4 291.1 192.4 285 199.3 278.8 206.1 272.6 212.8 266.2 219.4 259.7 226 253.1 232.4 246.5 238.8 239.7 245.2 232.8 251.4 225.8 257.6 218.8 263.8 211.6 269.9 204.3 275.9 196.8 281.9 189.3 287.8 181.6 293.7 173.9 299.6 166 305.4 158 311.2 149.8 317 141.6 322.8 133.2 328.5 124.6 334.2 115.9 339.9 107.1M181.8 299.4 188.9 293.4 195.9 287.3 202.7 281.1 209.5 274.8 216.2 268.5 222.8 262 229.3 255.4 235.8 248.7 242.2 242 248.5 235.1 254.7 228.1 260.9 221 267 213.8 273.1 206.5 279.1 199.1 285.1 191.5 291.1 183.9 296.9 176.1 302.8 168.2 308.6 160.2 314.4 152 320.2 143.8 325.9 135.4 331.6 126.8 337.3 118.2 343 109.4M185.3 301.7 192.4 295.7 199.3 289.6 206.2 283.4 212.9 277.1 219.6 270.8 226.2 264.3 232.7 257.7 239.1 251 245.5 244.2 251.8 237.3 258 230.3 264.2 223.2 270.3 216 276.4 208.7 282.4 201.3 288.3 193.8 294.3 186.1 300.1 178.3 306 170.4 311.8 162.4 317.6 154.3 323.3 146 329.1 137.6 334.8 129.1 340.5 120.4 346.1 111.6M188.8 304.1 195.8 298 202.7 291.9 209.6 285.7 216.3 279.4 223 273 229.5 266.5 236 259.9 242.4 253.3 248.8 246.5 255.1 239.6 261.3 232.6 267.4 225.5 273.5 218.3 279.6 211 285.6 203.5 291.6 196 297.5 188.3 303.3 180.5 309.2 172.6 315 164.6 320.8 156.5 326.5 148.2 332.2 139.8 337.9 131.3 343.6 122.6 349.2 113.8M192.3 306.4 199.3 300.3 206.2 294.2 213 288 219.7 281.7 226.3 275.3 232.9 268.8 239.4 262.2 245.8 255.5 252.1 248.7 258.4 241.8 264.6 234.8 270.7 227.7 276.8 220.5 282.8 213.2 288.8 205.7 294.8 198.2 300.7 190.5 306.5 182.8 312.4 174.9 318.2 166.8 323.9 158.7 329.7 150.4 335.4 142 341.1 133.5 346.7 124.8 352.4 116M195.7 308.7 202.7 302.6 209.6 296.5 216.4 290.3 223.1 284 229.7 277.6 236.3 271.1 242.7 264.5 249.1 257.8 255.4 250.9 261.7 244 267.9 237 274 229.9 280.1 222.7 286.1 215.4 292.1 208 298 200.4 303.9 192.7 309.7 185 315.6 177.1 321.3 169 327.1 160.9 332.8 152.6 338.5 144.2 344.2 135.7 349.9 127 355.5 118.2M199.2 311 206.2 304.9 213 298.8 219.8 292.6 226.5 286.2 233.1 279.8 239.6 273.3 246.1 266.7 252.4 260 258.7 253.2 265 246.3 271.1 239.3 277.3 232.1 283.3 224.9 289.3 217.6 295.3 210.2 301.2 202.6 307.1 194.9 312.9 187.2 318.7 179.3 324.5 171.2 330.3 163.1 336 154.8 341.7 146.4 347.3 137.9 353 129.2 358.6 120.4M202.7 313.3 209.6 307.2 216.5 301.1 223.2 294.8 229.9 288.5 236.5 282.1 243 275.6 249.4 268.9 255.8 262.2 262 255.4 268.3 248.5 274.4 241.5 280.5 234.4 286.6 227.1 292.6 219.8 298.5 212.4 304.4 204.8 310.3 197.1 316.1 189.3 321.9 181.4 327.7 173.4 333.4 165.3 339.1 157 344.8 148.6 350.5 140.1 356.1 131.4 361.8 122.6M206.2 315.6 213.1 309.5 219.9 303.3 226.7 297.1 233.3 290.8 239.9 284.3 246.3 277.8 252.7 271.2 259.1 264.4 265.3 257.6 271.6 250.7 277.7 243.7 283.8 236.6 289.8 229.3 295.8 222 301.8 214.6 307.7 207 313.5 199.3 319.3 191.5 325.1 183.6 330.9 175.6 336.6 167.5 342.3 159.2 348 150.8 353.6 142.2 359.3 133.6 364.9 124.8M209.6 317.9 216.5 311.8 223.4 305.6 230.1 299.4 236.7 293 243.2 286.6 249.7 280 256.1 273.4 262.4 266.7 268.7 259.8 274.8 252.9 281 245.9 287.1 238.8 293.1 231.5 299.1 224.2 305 216.7 310.9 209.2 316.7 201.5 322.5 193.7 328.3 185.8 334 177.8 339.8 169.6 345.5 161.4 351.1 153 356.8 144.4 362.4 135.8 368 127M213.1 320.1 220 314.1 226.8 307.9 233.5 301.6 240.1 295.2 246.6 288.8 253.1 282.3 259.4 275.6 265.7 268.9 272 262.1 278.1 255.1 284.3 248.1 290.3 241 296.3 233.7 302.3 226.4 308.2 218.9 314.1 211.4 319.9 203.7 325.7 195.9 331.5 188 337.2 180 342.9 171.8 348.6 163.5 354.3 155.1 359.9 146.6 365.5 137.9 371.1 129.1M216.6 322.4 223.5 316.3 230.2 310.1 236.9 303.9 243.5 297.5 250 291 256.4 284.5 262.8 277.8 269.1 271.1 275.3 264.3 281.4 257.3 287.5 250.3 293.6 243.2 299.6 235.9 305.5 228.6 311.4 221.1 317.3 213.5 323.1 205.9 328.9 198.1 334.7 190.1 340.4 182.1 346.1 174 351.8 165.7 357.4 157.3 363.1 148.8 368.7 140.1 374.3 131.3M220.1 324.7 226.9 318.6 233.7 312.4 240.3 306.1 246.9 299.7 253.4 293.3 259.8 286.7 266.1 280 272.4 273.3 278.6 266.5 284.7 259.5 290.8 252.5 296.9 245.3 302.8 238.1 308.8 230.7 314.7 223.3 320.5 215.7 326.3 208 332.1 200.2 337.9 192.3 343.6 184.3 349.3 176.1 354.9 167.8 360.6 159.4 366.2 150.9 371.8 142.2 377.4 133.5M223.5 327 230.4 320.8 237.1 314.6 243.7 308.3 250.3 302 256.7 295.5 263.1 288.9 269.5 282.3 275.7 275.5 281.9 268.7 288 261.7 294.1 254.7 300.1 247.5 306.1 240.3 312 232.9 317.9 225.4 323.7 217.9 329.5 210.2 335.3 202.4 341 194.5 346.7 186.4 352.4 178.3 358.1 170 363.7 161.6 369.3 153.1 374.9 144.4 380.5 135.6M227 329.2 233.8 323.1 240.5 316.9 247.1 310.6 253.7 304.2 260.1 297.7 266.5 291.1 272.8 284.5 279 277.7 285.2 270.8 291.3 263.9 297.4 256.8 303.4 249.7 309.3 242.4 315.3 235.1 321.1 227.6 327 220 332.7 212.3 338.5 204.5 344.2 196.6 349.9 188.6 355.6 180.4 361.2 172.1 366.9 163.7 372.5 155.2 378.1 146.5 383.6 137.8M230.5 331.5 237.3 325.3 243.9 319.1 250.5 312.8 257.1 306.4 263.5 299.9 269.8 293.3 276.1 286.7 282.4 279.9 288.5 273 294.6 266.1 300.7 259 306.7 251.9 312.6 244.6 318.5 237.2 324.4 229.8 330.2 222.2 336 214.5 341.7 206.7 347.4 198.8 353.1 190.7 358.8 182.6 364.4 174.3 370 165.9 375.6 157.4 381.2 148.7 386.8 139.9M234 333.7 240.7 327.6 247.4 321.3 254 315 260.4 308.6 266.9 302.1 273.2 295.5 279.5 288.8 285.7 282.1 291.8 275.2 297.9 268.2 303.9 261.2 309.9 254 315.9 246.8 321.7 239.4 327.6 231.9 333.4 224.3 339.2 216.6 344.9 208.8 350.6 200.9 356.3 192.9 361.9 184.7 367.6 176.4 373.2 168 378.8 159.5 384.3 150.8 389.9 142M237.4 336 244.2 329.8 250.8 323.6 257.4 317.2 263.8 310.8 270.2 304.3 276.6 297.7 282.8 291 289 284.3 295.1 277.4 301.2 270.4 307.2 263.3 313.2 256.2 319.1 248.9 325 241.5 330.8 234.1 336.6 226.5 342.4 218.8 348.1 211 353.8 203 359.4 195 365.1 186.8 370.7 178.6 376.3 170.2 381.9 161.6 387.5 153 393 144.2M240.9 338.2 247.6 332 254.2 325.8 260.8 319.4 267.2 313 273.6 306.5 279.9 299.9 286.2 293.2 292.3 286.4 298.4 279.5 304.5 272.6 310.5 265.5 316.5 258.3 322.4 251.1 328.2 243.7 334 236.2 339.8 228.6 345.6 220.9 351.3 213.1 357 205.2 362.6 197.1 368.3 189 373.9 180.7 379.5 172.3 385 163.7 390.6 155.1 396.1 146.3M244.4 340.4 251.1 334.3 257.7 328 264.2 321.6 270.6 315.2 277 308.7 283.3 302.1 289.5 295.4 295.7 288.6 301.8 281.7 307.8 274.7 313.8 267.7 319.7 260.5 325.6 253.2 331.5 245.8 337.3 238.3 343 230.7 348.8 223 354.5 215.2 360.1 207.3 365.8 199.2 371.4 191.1 377 182.8 382.6 174.4 388.2 165.9 393.7 157.2 399.3 148.4M247.8 342.7 254.5 336.5 261.1 330.2 267.6 323.9 274 317.4 280.4 310.9 286.6 304.3 292.8 297.6 299 290.8 305.1 283.9 311.1 276.9 317.1 269.8 323 262.6 328.9 255.3 334.7 247.9 340.5 240.5 346.3 232.9 352 225.2 357.7 217.3 363.3 209.4 369 201.4 374.6 193.2 380.2 184.9 385.8 176.5 391.3 168 396.9 159.3 402.4 150.5M251.3 344.9 258 338.7 264.5 332.4 271 326 277.4 319.6 283.7 313.1 290 306.4 296.2 299.7 302.3 292.9 308.4 286 314.4 279 320.3 271.9 326.3 264.8 332.1 257.5 337.9 250.1 343.7 242.6 349.5 235 355.2 227.3 360.9 219.5 366.5 211.5 372.1 203.5 377.7 195.3 383.3 187 388.9 178.6 394.5 170.1 400 161.4 405.5 152.6M254.8 347.1 261.4 340.9 268 334.6 274.4 328.2 280.8 321.8 287.1 315.2 293.4 308.6 299.5 301.9 305.6 295.1 311.7 288.2 317.7 281.2 323.6 274.1 329.5 266.9 335.4 259.6 341.2 252.2 347 244.7 352.7 237.1 358.4 229.4 364.1 221.6 369.7 213.6 375.3 205.6 380.9 197.4 386.5 189.1 392 180.7 397.6 172.2 403.1 163.5 408.6 154.7M258.3 349.3 264.9 343.1 271.4 336.8 277.8 330.4 284.2 324 290.5 317.4 296.7 310.8 302.9 304 309 297.2 315 290.3 321 283.3 326.9 276.2 332.8 269 338.6 261.7 344.4 254.3 350.2 246.8 355.9 239.2 361.6 231.5 367.3 223.7 372.9 215.7 378.5 207.7 384.1 199.5 389.6 191.2 395.2 182.8 400.7 174.3 406.3 165.6 411.8 156.8M261.7 351.5 268.3 345.3 274.8 339 281.2 332.6 287.6 326.1 293.9 319.6 300.1 312.9 306.2 306.2 312.3 299.4 318.3 292.4 324.3 285.4 330.2 278.3 336.1 271.1 341.9 263.8 347.7 256.4 353.4 248.9 359.1 241.3 364.8 233.6 370.4 225.8 376.1 217.8 381.7 209.8 387.2 201.6 392.8 193.3 398.3 184.9 403.9 176.4 409.4 167.7 414.9 158.9M265.2 353.7 271.8 347.5 278.3 341.2 284.7 334.8 291 328.3 297.2 321.7 303.4 315.1 309.5 308.3 315.6 301.5 321.6 294.6 327.6 287.6 333.5 280.5 339.3 273.2 345.1 265.9 350.9 258.5 356.6 251 362.3 243.4 368 235.7 373.6 227.9 379.3 219.9 384.8 211.9 390.4 203.7 396 195.4 401.5 187 407 178.5 412.5 169.8 418 161M268.7 355.9 275.2 349.7 281.7 343.4 288.1 337 294.4 330.5 300.6 323.9 306.8 317.2 312.9 310.5 318.9 303.6 324.9 296.7 330.9 289.7 336.7 282.6 342.6 275.4 348.4 268 354.1 260.6 359.9 253.1 365.6 245.5 371.2 237.8 376.8 229.9 382.4 222 388 213.9 393.6 205.8 399.1 197.5 404.6 189.1 410.2 180.5 415.7 171.9 421.2 163.1M272.2 358.1 278.7 351.9 285.1 345.5 291.5 339.1 297.8 332.6 304 326 310.1 319.4 316.2 312.6 322.3 305.8 328.2 298.8 334.2 291.8 340 284.7 345.9 277.5 351.6 270.1 357.4 262.7 363.1 255.2 368.8 247.6 374.4 239.9 380 232 385.6 224.1 391.2 216 396.7 207.8 402.3 199.6 407.8 191.1 413.3 182.6 418.8 173.9 424.3 165.1M275.6 360.3 282.1 354.1 288.6 347.7 294.9 341.3 301.2 334.8 307.4 328.2 313.5 321.5 319.6 314.7 325.6 307.9 331.5 300.9 337.5 293.9 343.3 286.8 349.1 279.6 354.9 272.2 360.6 264.8 366.3 257.3 372 249.7 377.6 241.9 383.2 234.1 388.8 226.2 394.4 218.1 399.9 209.9 405.4 201.6 410.9 193.2 416.4 184.7 421.9 176 427.4 167.2M279.1 362.5 285.6 356.2 292 349.9 298.3 343.4 304.6 336.9 310.7 330.3 316.9 323.6 322.9 316.9 328.9 310 334.9 303.1 340.7 296 346.6 288.9 352.4 281.7 358.2 274.3 363.9 266.9 369.6 259.4 375.2 251.8 380.8 244 386.4 236.2 392 228.2 397.5 220.2 403.1 212 408.6 203.7 414.1 195.3 419.6 186.7 425.1 178.1 430.5 169.3M282.6 364.7 289 358.4 295.4 352 301.7 345.6 308 339.1 314.1 332.5 320.2 325.8 326.3 319 332.2 312.1 338.2 305.2 344 298.1 349.9 291 355.7 283.7 361.4 276.4 367.1 269 372.8 261.5 378.4 253.8 384 246.1 389.6 238.2 395.2 230.3 400.7 222.2 406.2 214 411.8 205.7 417.2 197.3 422.7 188.8 428.2 180.1 433.7 171.3M286.1 366.9 292.5 360.6 298.9 354.2 305.1 347.7 311.4 341.2 317.5 334.6 323.6 327.9 329.6 321.1 335.6 314.2 341.5 307.3 347.3 300.2 353.2 293.1 358.9 285.8 364.7 278.5 370.4 271.1 376 263.5 381.6 255.9 387.2 248.2 392.8 240.3 398.4 232.4 403.9 224.3 409.4 216.1 414.9 207.8 420.4 199.4 425.9 190.8 431.3 182.2 436.8 173.4M289.5 369.1 296 362.7 302.3 356.4 308.6 349.9 314.8 343.3 320.9 336.7 326.9 330 333 323.2 338.9 316.3 344.8 309.4 350.6 302.3 356.4 295.2 362.2 287.9 367.9 280.6 373.6 273.1 379.3 265.6 384.9 258 390.5 250.2 396 242.4 401.6 234.4 407.1 226.3 412.6 218.2 418.1 209.9 423.6 201.4 429 192.9 434.5 184.2 439.9 175.4M293 371.2 299.4 364.9 305.7 358.5 312 352 318.2 345.5 324.3 338.8 330.3 332.1 336.3 325.3 342.2 318.4 348.1 311.5 353.9 304.4 359.7 297.2 365.5 290 371.2 282.6 376.8 275.2 382.5 267.7 388.1 260 393.7 252.3 399.2 244.4 404.8 236.5 410.3 228.4 415.8 220.2 421.2 211.9 426.7 203.5 432.2 194.9 437.6 186.3 443.1 177.5M296.5 373.4 302.9 367.1 309.2 360.7 315.4 354.2 321.6 347.6 327.6 341 333.7 334.2 339.6 327.4 345.6 320.5 351.4 313.6 357.2 306.5 363 299.3 368.7 292.1 374.4 284.7 380.1 277.3 385.7 269.7 391.3 262.1 396.9 254.3 402.4 246.5 407.9 238.5 413.4 230.4 418.9 222.2 424.4 213.9 429.9 205.5 435.3 197 440.7 188.3 446.2 179.5M300 375.6 306.3 369.2 312.6 362.8 318.8 356.3 324.9 349.7 331 343.1 337 336.3 343 329.5 348.9 322.6 354.7 315.6 360.5 308.6 366.3 301.4 372 294.1 377.7 286.8 383.3 279.3 389 271.8 394.5 264.1 400.1 256.4 405.6 248.5 411.1 240.5 416.6 232.5 422.1 224.3 427.6 216 433 207.5 438.5 199 443.9 190.3 449.3 181.5M303.4 377.7 309.8 371.4 316 364.9 322.2 358.4 328.3 351.8 334.4 345.2 340.4 338.4 346.3 331.6 352.2 324.7 358.1 317.7 363.8 310.6 369.6 303.5 375.3 296.2 381 288.8 386.6 281.4 392.2 273.8 397.8 266.2 403.3 258.4 408.8 250.5 414.3 242.6 419.8 234.5 425.3 226.3 430.7 218 436.2 209.6 441.6 201 447 192.4 452.5 183.6M306.9 379.9 313.2 373.5 319.5 367.1 325.6 360.5 331.8 354 337.8 347.3 343.8 340.5 349.7 333.7 355.6 326.8 361.4 319.8 367.1 312.7 372.9 305.5 378.6 298.2 384.2 290.9 389.8 283.4 395.4 275.9 401 268.2 406.5 260.4 412 252.6 417.5 244.6 423 236.5 428.4 228.3 433.9 220 439.3 211.6 444.7 203 450.2 194.4 455.6 185.6M310.4 382 316.7 375.6 322.9 369.2 329.1 362.7 335.2 356.1 341.2 349.4 347.1 342.6 353 335.8 358.9 328.9 364.7 321.9 370.4 314.8 376.2 307.6 381.8 300.3 387.5 292.9 393.1 285.5 398.7 277.9 404.2 270.2 409.7 262.5 415.2 254.6 420.7 246.6 426.2 238.5 431.6 230.3 437.1 222 442.5 213.6 447.9 205.1 453.3 196.4 458.7 187.6M313.9 384.1 320.2 377.8 326.4 371.3 332.5 364.8 338.6 358.2 344.6 351.5 350.5 344.7 356.4 337.9 362.2 330.9 368 323.9 373.8 316.8 379.5 309.6 385.1 302.4 390.7 295 396.3 287.5 401.9 279.9 407.4 272.3 412.9 264.5 418.4 256.6 423.9 248.7 429.4 240.6 434.8 232.4 440.2 224.1 445.6 215.6 451 207.1 456.5 198.4 461.9 189.6M317.4 386.3 323.6 379.9 329.8 373.4 335.9 366.9 342 360.3 347.9 353.6 353.9 346.8 359.7 339.9 365.6 333 371.3 326 377.1 318.9 382.7 311.7 388.4 304.4 394 297 399.6 289.5 405.1 282 410.7 274.3 416.2 266.5 421.6 258.6 427.1 250.7 432.5 242.6 438 234.4 443.4 226.1 448.8 217.6 454.2 209.1 459.6 200.4 465 191.6M320.9 388.4 327.1 382 333.2 375.5 339.3 369 345.4 362.4 351.3 355.7 357.2 348.9 363.1 342 368.9 335.1 374.7 328 380.4 320.9 386 313.7 391.7 306.4 397.3 299 402.8 291.6 408.4 284 413.9 276.3 419.4 268.5 424.8 260.7 430.3 252.7 435.7 244.6 441.1 236.4 446.6 228.1 452 219.6 457.4 211.1 462.7 202.4 468.1 193.6M324.3 390.6 330.6 384.1 336.7 377.6 342.8 371.1 348.8 364.5 354.7 357.7 360.6 351 366.4 344.1 372.2 337.1 378 330.1 383.7 323 389.3 315.8 394.9 308.5 400.5 301.1 406.1 293.6 411.6 286 417.1 278.3 422.6 270.6 428.1 262.7 433.5 254.7 438.9 246.6 444.3 238.4 449.7 230.1 455.1 221.6 460.5 213.1 465.9 204.4 471.3 195.6M327.8 392.7 334 386.3 340.1 379.8 346.2 373.2 352.2 366.5 358.1 359.8 364 353 369.8 346.1 375.6 339.2 381.3 332.1 387 325 392.6 317.8 398.2 310.5 403.8 303.1 409.3 295.6 414.9 288 420.3 280.3 425.8 272.6 431.3 264.7 436.7 256.7 442.1 248.6 447.5 240.4 452.9 232.1 458.3 223.6 463.7 215.1 469 206.4 474.4 197.6M331.3 394.8 337.5 388.4 343.6 381.9 349.6 375.3 355.6 368.6 361.5 361.9 367.4 355.1 373.2 348.2 378.9 341.2 384.6 334.2 390.3 327.1 395.9 319.8 401.5 312.5 407.1 305.1 412.6 297.6 418.1 290 423.6 282.3 429 274.6 434.5 266.7 439.9 258.7 445.3 250.6 450.7 242.4 456.1 234 461.4 225.6 466.8 217.1 472.2 208.4 477.5 199.6M334.8 396.9 341 390.5 347 384 353 377.4 359 370.7 364.9 364 370.7 357.1 376.5 350.3 382.3 343.3 387.9 336.2 393.6 329.1 399.2 321.9 404.8 314.5 410.3 307.1 415.9 299.6 421.3 292 426.8 284.3 432.3 276.6 437.7 268.7 443.1 260.7 448.5 252.6 453.9 244.4 459.2 236 464.6 227.6 470 219 475.3 210.4 480.7 201.6M338.3 399 344.4 392.6 350.5 386 356.5 379.4 362.4 372.8 368.3 366 374.1 359.2 379.9 352.3 385.6 345.3 391.3 338.3 396.9 331.1 402.5 323.9 408.1 316.6 413.6 309.1 419.1 301.6 424.6 294 430 286.3 435.5 278.6 440.9 270.7 446.3 262.7 451.7 254.5 457 246.3 462.4 238 467.8 229.6 473.1 221 478.5 212.3 483.8 203.5M341.8 401.1 347.9 394.7 353.9 388.1 359.9 381.5 365.8 374.8 371.7 368.1 377.5 361.3 383.2 354.3 388.9 347.4 394.6 340.3 400.2 333.1 405.8 325.9 411.4 318.6 416.9 311.2 422.4 303.6 427.8 296 433.3 288.3 438.7 280.5 444.1 272.6 449.5 264.6 454.9 256.5 460.2 248.3 465.6 240 470.9 231.5 476.3 223 481.6 214.3 487 205.5M345.3 403.2 351.4 396.8 357.4 390.2 363.3 383.6 369.2 376.9 375.1 370.1 380.9 363.3 386.6 356.4 392.3 349.4 397.9 342.3 403.5 335.2 409.1 327.9 414.6 320.6 420.2 313.2 425.6 305.6 431.1 298 436.5 290.3 441.9 282.5 447.3 274.6 452.7 266.6 458.1 258.5 463.4 250.3 468.8 241.9 474.1 233.5 479.4 224.9 484.8 216.3 490.1 207.5M348.8 405.3 354.8 398.9 360.8 392.3 366.8 385.7 372.7 379 378.5 372.2 384.2 365.3 390 358.4 395.6 351.4 401.3 344.3 406.9 337.2 412.4 329.9 417.9 322.6 423.4 315.2 428.9 307.6 434.3 300 439.8 292.3 445.2 284.5 450.5 276.6 455.9 268.6 461.3 260.5 466.6 252.2 471.9 243.9 477.3 235.5 482.6 226.9 487.9 218.2 493.3 209.4M352.3 407.4 358.3 400.9 364.3 394.4 370.2 387.7 376.1 381 381.9 374.2 387.6 367.4 393.3 360.5 399 353.4 404.6 346.4 410.2 339.2 415.7 331.9 421.2 324.6 426.7 317.1 432.2 309.6 437.6 302 443 294.3 448.4 286.5 453.8 278.6 459.1 270.6 464.5 262.4 469.8 254.2 475.1 245.9 480.4 237.4 485.8 228.9 491.1 220.2 496.4 211.4M355.8 409.5 361.8 403 367.8 396.4 373.6 389.8 379.5 383.1 385.3 376.3 391 369.4 396.7 362.5 402.3 355.5 407.9 348.4 413.5 341.2 419 333.9 424.5 326.6 430 319.1 435.4 311.6 440.8 304 446.2 296.3 451.6 288.4 457 280.5 462.3 272.5 467.7 264.4 473 256.2 478.3 247.8 483.6 239.4 488.9 230.8 494.3 222.1 499.6 213.3M359.3 411.6 365.3 405.1 371.2 398.5 377.1 391.9 382.9 385.1 388.7 378.3 394.4 371.5 400.1 364.5 405.7 357.5 411.3 350.4 416.8 343.2 422.3 335.9 427.8 328.6 433.3 321.1 438.7 313.6 444.1 306 449.5 298.2 454.8 290.4 460.2 282.5 465.5 274.5 470.9 266.4 476.2 258.1 481.5 249.8 486.8 241.3 492.1 232.8 497.4 224.1 502.7 215.3M362.8 413.7 368.8 407.2 374.7 400.6 380.5 393.9 386.3 387.2 392.1 380.4 397.8 373.5 403.4 366.5 409 359.5 414.6 352.4 420.1 345.2 425.6 337.9 431.1 330.5 436.5 323.1 442 315.6 447.3 307.9 452.7 300.2 458.1 292.4 463.4 284.5 468.7 276.4 474.1 268.3 479.4 260.1 484.7 251.7 490 243.3 495.3 234.7 500.6 226 505.9 217.2M366.3 415.8 372.2 409.2 378.1 402.6 384 396 389.8 389.2 395.5 382.4 401.2 375.5 406.8 368.5 412.4 361.5 417.9 354.4 423.5 347.2 428.9 339.9 434.4 332.5 439.8 325.1 445.2 317.5 450.6 309.9 456 302.2 461.3 294.3 466.6 286.4 472 278.4 477.3 270.2 482.6 262 487.9 253.7 493.1 245.2 498.4 236.6 503.7 228 509 219.1M80.3 229.5 91.4 237.3 102.5 245.1 113.6 252.9 124.6 260.5 135.7 268.1 146.7 275.7 157.7 283.2 168.7 290.6 179.7 298 190.7 305.3 201.6 312.6 212.6 319.8 223.5 327 234.5 334.1 245.4 341.1 256.4 348.1 267.3 355.1 278.3 362 289.3 368.9 300.2 375.7 311.2 382.5 322.2 389.2 333.2 395.9 344.2 402.6 355.2 409.2 366.3 415.8M83 227.5 94.1 235.3 105.1 243.1 116.2 250.8 127.2 258.5 138.2 266.1 149.2 273.6 160.2 281.1 171.2 288.6 182.2 295.9 193.1 303.2 204 310.5 215 317.7 225.9 324.8 236.8 331.9 247.8 339 258.7 346 269.6 352.9 280.6 359.9 291.5 366.7 302.4 373.5 313.4 380.3 324.4 387 335.3 393.7 346.3 400.4 357.3 407 368.3 413.5M85.6 225.5 96.7 233.3 107.8 241.1 118.8 248.8 129.8 256.5 140.8 264.1 151.8 271.6 162.7 279.1 173.7 286.5 184.6 293.8 195.5 301.1 206.5 308.4 217.4 315.6 228.3 322.7 239.2 329.8 250.1 336.8 261 343.8 271.9 350.8 282.8 357.7 293.7 364.5 304.6 371.3 315.6 378.1 326.5 384.8 337.5 391.5 348.4 398.1 359.4 404.7 370.4 411.3M88.3 223.5 99.3 231.3 110.4 239.1 121.4 246.8 132.3 254.4 143.3 262 154.3 269.5 165.2 277 176.1 284.4 187.1 291.7 198 299 208.9 306.3 219.7 313.5 230.6 320.6 241.5 327.7 252.4 334.7 263.3 341.7 274.2 348.6 285 355.5 295.9 362.3 306.8 369.1 317.7 375.9 328.7 382.6 339.6 389.2 350.5 395.9 361.5 402.4 372.5 409M90.9 221.5 101.9 229.3 112.9 237.1 123.9 244.8 134.9 252.4 145.8 260 156.8 267.5 167.7 274.9 178.6 282.3 189.5 289.6 200.4 296.9 211.2 304.2 222.1 311.3 233 318.4 243.8 325.5 254.7 332.5 265.6 339.5 276.4 346.4 287.3 353.3 298.1 360.1 309 366.9 319.9 373.6 330.8 380.3 341.7 387 352.6 393.6 363.6 400.2 374.5 406.7M93.5 219.5 104.5 227.3 115.5 235 126.5 242.7 137.4 250.3 148.3 257.9 159.3 265.4 170.1 272.8 181 280.2 191.9 287.5 202.8 294.8 213.6 302 224.5 309.2 235.3 316.3 246.1 323.3 257 330.4 267.8 337.3 278.7 344.2 289.5 351.1 300.3 357.9 311.2 364.7 322.1 371.4 332.9 378.1 343.8 384.7 354.7 391.3 365.6 397.9 376.6 404.4M96.1 217.4 107.1 225.2 118.1 233 129 240.6 139.9 248.2 150.8 255.8 161.7 263.3 172.6 270.7 183.5 278.1 194.3 285.4 205.1 292.7 216 299.9 226.8 307 237.6 314.1 248.4 321.2 259.3 328.2 270.1 335.1 280.9 342 291.7 348.9 302.5 355.7 313.4 362.4 324.2 369.2 335.1 375.8 345.9 382.5 356.8 389 367.7 395.6 378.6 402.1M98.7 215.4 109.7 223.2 120.6 230.9 131.5 238.6 142.4 246.2 153.3 253.7 164.2 261.2 175 268.6 185.9 276 196.7 283.3 207.5 290.5 218.3 297.7 229.1 304.9 239.9 312 250.7 319 261.5 326 272.3 332.9 283.1 339.8 293.9 346.6 304.7 353.4 315.5 360.2 326.3 366.9 337.2 373.6 348 380.2 358.9 386.8 369.7 393.3 380.6 399.8M101.3 213.3 112.2 221.1 123.2 228.8 134 236.5 144.9 244.1 155.8 251.6 166.6 259.1 177.5 266.5 188.3 273.8 199.1 281.1 209.9 288.4 220.7 295.6 231.4 302.7 242.2 309.8 253 316.8 263.8 323.8 274.5 330.7 285.3 337.6 296.1 344.4 306.9 351.2 317.7 357.9 328.5 364.6 339.3 371.3 350.1 377.9 360.9 384.5 371.8 391 382.7 397.5M103.9 211.2 114.8 219 125.7 226.7 136.5 234.4 147.4 241.9 158.2 249.5 169.1 256.9 179.9 264.3 190.7 271.7 201.4 279 212.2 286.2 223 293.4 233.8 300.5 244.5 307.6 255.3 314.6 266 321.6 276.8 328.5 287.5 335.3 298.3 342.2 309 348.9 319.8 355.7 330.6 362.4 341.4 369 352.2 375.6 363 382.2 373.8 388.7 384.7 395.2M106.4 209.1 117.3 216.9 128.2 224.6 139 232.2 149.9 239.8 160.7 247.3 171.5 254.8 182.3 262.2 193 269.5 203.8 276.8 214.6 284 225.3 291.2 236 298.3 246.8 305.4 257.5 312.4 268.2 319.3 279 326.2 289.7 333.1 300.5 339.9 311.2 346.7 321.9 353.4 332.7 360.1 343.5 366.7 354.3 373.3 365 379.8 375.9 386.4 386.7 392.8M108.9 207 119.8 214.8 130.7 222.5 141.5 230.1 152.3 237.7 163.1 245.2 173.9 252.6 184.7 260 195.4 267.3 206.2 274.6 216.9 281.8 227.6 289 238.3 296.1 249.1 303.1 259.8 310.1 270.5 317.1 281.2 324 291.9 330.9 302.6 337.7 313.3 344.4 324.1 351.1 334.8 357.8 345.6 364.4 356.3 371 367.1 377.5 377.9 384 388.7 390.5M111.5 204.9 122.3 212.7 133.2 220.4 144 228 154.8 235.5 165.5 243 176.3 250.5 187 257.8 197.8 265.2 208.5 272.4 219.2 279.6 229.9 286.8 240.6 293.9 251.3 300.9 262 307.9 272.7 314.9 283.4 321.7 294.1 328.6 304.8 335.4 315.5 342.1 326.2 348.8 336.9 355.5 347.6 362.1 358.4 368.7 369.1 375.2 379.9 381.7 390.7 388.1M114 202.8 124.8 210.5 135.6 218.2 146.4 225.8 157.2 233.4 167.9 240.9 178.7 248.3 189.4 255.7 200.1 263 210.8 270.2 221.5 277.4 232.2 284.6 242.9 291.6 253.6 298.7 264.2 305.7 274.9 312.6 285.6 319.5 296.2 326.3 306.9 333.1 317.6 339.8 328.3 346.5 339 353.2 349.7 359.8 360.4 366.3 371.2 372.9 381.9 379.3 392.7 385.8M116.5 200.6 127.3 208.4 138.1 216 148.9 223.7 159.6 231.2 170.3 238.7 181.1 246.1 191.8 253.5 202.5 260.8 213.1 268 223.8 275.2 234.5 282.3 245.1 289.4 255.8 296.4 266.4 303.4 277.1 310.3 287.8 317.2 298.4 324 309.1 330.8 319.7 337.5 330.4 344.2 341.1 350.9 351.8 357.4 362.5 364 373.2 370.5 383.9 377 394.6 383.4M119 198.5 129.8 206.2 140.5 213.9 151.3 221.5 162 229 172.7 236.5 183.4 243.9 194.1 251.2 204.8 258.5 215.4 265.8 226.1 273 236.7 280.1 247.4 287.2 258 294.2 268.7 301.1 279.3 308.1 289.9 314.9 300.6 321.7 311.2 328.5 321.8 335.2 332.5 341.9 343.1 348.5 353.8 355.1 364.5 361.7 375.2 368.2 385.9 374.6 396.6 381M121.4 196.3 132.2 204 143 211.7 153.7 219.3 164.4 226.8 175.1 234.3 185.8 241.7 196.4 249 207.1 256.3 217.7 263.5 228.4 270.7 239 277.8 249.6 284.9 260.2 291.9 270.9 298.9 281.5 305.8 292.1 312.6 302.7 319.4 313.3 326.2 323.9 332.9 334.6 339.6 345.2 346.2 355.9 352.8 366.5 359.3 377.2 365.8 387.9 372.2 398.6 378.6M123.9 194.1 134.6 201.8 145.4 209.5 156.1 217.1 166.8 224.6 177.5 232.1 188.1 239.4 198.8 246.8 209.4 254.1 220 261.3 230.6 268.5 241.3 275.6 251.9 282.6 262.5 289.6 273 296.6 283.6 303.5 294.2 310.3 304.8 317.1 315.4 323.9 326 330.6 336.7 337.2 347.3 343.8 357.9 350.4 368.5 356.9 379.2 363.4 389.9 369.8 400.6 376.2M126.3 191.9 137.1 199.6 147.8 207.3 158.5 214.9 169.2 222.4 179.8 229.8 190.5 237.2 201.1 244.5 211.7 251.8 222.3 259 232.9 266.2 243.5 273.3 254.1 280.3 264.7 287.3 275.2 294.3 285.8 301.2 296.4 308 307 314.8 317.5 321.5 328.1 328.2 338.7 334.9 349.3 341.5 359.9 348 370.6 354.6 381.2 361 391.9 367.5 402.5 373.8M128.8 189.7 139.5 197.4 150.2 205 160.9 212.6 171.5 220.1 182.2 227.6 192.8 235 203.4 242.3 214 249.5 224.6 256.7 235.2 263.9 245.7 271 256.3 278 266.8 285 277.4 292 288 298.8 298.5 305.7 309.1 312.5 319.6 319.2 330.2 325.9 340.8 332.5 351.4 339.1 362 345.7 372.6 352.2 383.2 358.6 393.8 365.1 404.5 371.4M131.2 187.5 141.9 195.2 152.6 202.8 163.2 210.4 173.9 217.9 184.5 225.3 195.1 232.7 205.7 240 216.3 247.3 226.8 254.5 237.4 261.6 247.9 268.7 258.5 275.7 269 282.7 279.6 289.6 290.1 296.5 300.7 303.3 311.2 310.1 321.7 316.8 332.3 323.5 342.9 330.1 353.4 336.7 364 343.3 374.6 349.8 385.2 356.2 395.8 362.6 406.4 369M133.6 185.3 144.3 192.9 155 200.6 165.6 208.1 176.2 215.6 186.8 223 197.4 230.4 208 237.7 218.5 245 229.1 252.2 239.6 259.3 250.2 266.4 260.7 273.4 271.2 280.4 281.7 287.3 292.3 294.2 302.8 301 313.3 307.7 323.8 314.5 334.4 321.1 344.9 327.8 355.5 334.3 366 340.9 376.6 347.4 387.2 353.8 397.8 360.2 408.4 366.6M136 183 146.7 190.7 157.3 198.3 167.9 205.8 178.5 213.3 189.1 220.8 199.7 228.1 210.2 235.4 220.8 242.7 231.3 249.9 241.8 257 252.4 264.1 262.9 271.1 273.4 278 283.9 284.9 294.4 291.8 304.9 298.6 315.4 305.4 325.9 312.1 336.4 318.8 346.9 325.4 357.5 331.9 368 338.5 378.6 345 389.1 351.4 399.7 357.8 410.3 364.1M138.4 180.7 149.1 188.4 159.7 196 170.3 203.6 180.9 211 191.4 218.5 202 225.8 212.5 233.1 223 240.3 233.6 247.5 244.1 254.6 254.6 261.7 265.1 268.7 275.5 275.7 286 282.6 296.5 289.4 307 296.2 317.5 303 328 309.7 338.5 316.4 349 323 359.5 329.5 370 336.1 380.6 342.5 391.1 349 401.7 355.3 412.2 361.7M140.8 178.5 151.4 186.1 162 193.7 172.6 201.3 183.2 208.7 193.7 216.1 204.2 223.5 214.8 230.8 225.3 238 235.8 245.2 246.3 252.3 256.7 259.4 267.2 266.4 277.7 273.3 288.2 280.2 298.6 287.1 309.1 293.9 319.6 300.6 330.1 307.3 340.5 314 351 320.6 361.5 327.1 372 333.6 382.5 340.1 393.1 346.5 403.6 352.9 414.2 359.2M143.2 176.2 153.8 183.8 164.4 191.4 174.9 198.9 185.5 206.4 196 213.8 206.5 221.2 217 228.5 227.5 235.7 238 242.8 248.5 250 258.9 257 269.4 264 279.8 270.9 290.3 277.8 300.7 284.7 311.2 291.5 321.7 298.2 332.1 304.9 342.6 311.5 353.1 318.1 363.5 324.7 374 331.2 384.5 337.6 395 344.1 405.6 350.4 416.1 356.8M145.5 173.8 156.1 181.5 166.7 189.1 177.2 196.6 187.8 204.1 198.3 211.5 208.8 218.8 219.3 226.1 229.7 233.3 240.2 240.5 250.7 247.6 261.1 254.6 271.5 261.6 282 268.6 292.4 275.4 302.9 282.3 313.3 289.1 323.7 295.8 334.2 302.5 344.6 309.1 355.1 315.7 365.5 322.2 376 328.7 386.5 335.2 397 341.6 407.5 348 418 354.3M147.9 171.5 158.5 179.2 169 186.8 179.5 194.3 190 201.7 200.5 209.1 211 216.5 221.5 223.7 231.9 231 242.4 238.1 252.8 245.2 263.3 252.2 273.7 259.2 284.1 266.2 294.5 273 305 279.9 315.4 286.6 325.8 293.4 336.2 300 346.7 306.7 357.1 313.3 367.5 319.8 378 326.3 388.5 332.7 398.9 339.1 409.4 345.5 419.9 351.8M150.2 169.2 160.8 176.8 171.3 184.4 181.8 191.9 192.3 199.4 202.8 206.8 213.3 214.1 223.7 221.4 234.2 228.6 244.6 235.7 255 242.8 265.4 249.9 275.8 256.8 286.2 263.8 296.6 270.6 307 277.4 317.4 284.2 327.9 290.9 338.3 297.6 348.7 304.2 359.1 310.8 369.5 317.3 380 323.8 390.4 330.3 400.9 336.6 411.4 343 421.8 349.3M152.6 166.8 163.1 174.5 173.6 182.1 184.1 189.6 194.6 197 205 204.4 215.5 211.7 225.9 219 236.4 226.2 246.8 233.3 257.2 240.4 267.6 247.4 278 254.4 288.4 261.3 298.7 268.2 309.1 275 319.5 281.8 329.9 288.5 340.3 295.2 350.7 301.8 361.1 308.3 371.5 314.9 381.9 321.3 392.4 327.8 402.8 334.2 413.3 340.5 423.8 346.8M154.9 164.5 165.4 172.1 175.9 179.7 186.4 187.2 196.8 194.6 207.3 202 217.7 209.3 228.1 216.6 238.5 223.8 248.9 230.9 259.3 238 269.7 245 280.1 252 290.5 258.9 300.8 265.8 311.2 272.6 321.6 279.3 332 286 342.3 292.7 352.7 299.3 363.1 305.9 373.5 312.4 383.9 318.8 394.3 325.3 404.8 331.6 415.2 338 425.7 344.3M157.2 162.1 167.7 169.7 178.2 177.3 188.6 184.8 199.1 192.2 209.5 199.6 219.9 206.9 230.3 214.2 240.7 221.4 251.1 228.5 261.5 235.6 271.9 242.6 282.2 249.5 292.6 256.5 302.9 263.3 313.3 270.1 323.6 276.9 334 283.6 344.4 290.2 354.7 296.8 365.1 303.4 375.5 309.9 385.9 316.3 396.3 322.8 406.7 329.1 417.1 335.5 427.6 341.8M159.5 159.7 170 167.3 180.4 174.9 190.9 182.4 201.3 189.8 211.7 197.2 222.1 204.5 232.5 211.7 242.9 218.9 253.3 226.1 263.6 233.1 274 240.1 284.3 247.1 294.7 254 305 260.8 315.3 267.6 325.7 274.4 336 281.1 346.4 287.7 356.7 294.3 367.1 300.9 377.5 307.4 387.8 313.8 398.2 320.2 408.6 326.6 419 332.9 429.5 339.2M161.8 157.3 172.3 164.9 182.7 172.5 193.1 180 203.6 187.4 214 194.8 224.3 202.1 234.7 209.3 245.1 216.5 255.4 223.6 265.8 230.7 276.1 237.7 286.4 244.6 296.8 251.5 307.1 258.4 317.4 265.2 327.7 271.9 338.1 278.6 348.4 285.2 358.7 291.8 369.1 298.4 379.4 304.9 389.8 311.3 400.2 317.7 410.5 324.1 420.9 330.4 431.3 336.7M164.1 154.9 174.5 162.5 185 170 195.4 177.5 205.8 185 216.2 192.3 226.5 199.6 236.9 206.9 247.2 214 257.6 221.1 267.9 228.2 278.2 235.2 288.5 242.2 298.8 249 309.2 255.9 319.5 262.7 329.8 269.4 340.1 276.1 350.4 282.7 360.7 289.3 371.1 295.8 381.4 302.3 391.7 308.8 402.1 315.2 412.5 321.5 422.8 327.8 433.2 334.1M166.3 152.4 176.8 160.1 187.2 167.6 197.6 175.1 208 182.5 218.4 189.9 228.7 197.2 239.1 204.4 249.4 211.6 259.7 218.7 270 225.7 280.3 232.7 290.6 239.7 300.9 246.6 311.2 253.4 321.5 260.2 331.8 266.9 342.1 273.6 352.4 280.2 362.7 286.8 373 293.3 383.3 299.8 393.7 306.2 404 312.6 414.4 319 424.7 325.3 435.1 331.5M168.6 150 179 157.6 189.4 165.1 199.8 172.6 210.2 180 220.5 187.4 230.9 194.7 241.2 201.9 251.5 209.1 261.8 216.2 272.1 223.2 282.4 230.2 292.7 237.2 303 244 313.3 250.9 323.6 257.7 333.8 264.4 344.1 271 354.4 277.7 364.7 284.2 375 290.8 385.3 297.2 395.6 303.7 405.9 310.1 416.3 316.4 426.6 322.7 437 329M170.9 147.5 181.3 155.1 191.7 162.7 202 170.1 212.4 177.6 222.7 184.9 233.1 192.2 243.4 199.4 253.7 206.6 264 213.7 274.2 220.7 284.5 227.7 294.8 234.6 305.1 241.5 315.3 248.4 325.6 255.1 335.9 261.8 346.1 268.5 356.4 275.1 366.7 281.7 377 288.2 387.3 294.7 397.6 301.1 407.9 307.5 418.2 313.8 428.5 320.1 438.9 326.4M173.1 145 183.5 152.6 193.9 160.2 204.2 167.7 214.6 175.1 224.9 182.4 235.2 189.7 245.5 196.9 255.8 204.1 266.1 211.2 276.4 218.2 286.6 225.2 296.9 232.1 307.1 239 317.4 245.8 327.6 252.6 337.9 259.3 348.1 266 358.4 272.6 368.7 279.1 378.9 285.6 389.2 292.1 399.5 298.5 409.8 304.9 420.1 311.2 430.4 317.5 440.8 323.8M175.4 142.5 185.7 150.1 196.1 157.7 206.4 165.1 216.8 172.6 227.1 179.9 237.4 187.2 247.7 194.4 257.9 201.5 268.2 208.6 278.4 215.7 288.7 222.7 298.9 229.6 309.2 236.5 319.4 243.3 329.7 250 339.9 256.7 350.1 263.4 360.4 270 370.6 276.6 380.9 283.1 391.1 289.5 401.4 295.9 411.7 302.3 422 308.6 432.3 314.9 442.6 321.2M177.6 140 188 147.6 198.3 155.2 208.6 162.6 218.9 170 229.2 177.4 239.5 184.6 249.8 191.9 260.1 199 270.3 206.1 280.5 213.1 290.8 220.1 301 227 311.2 233.9 321.5 240.7 331.7 247.5 341.9 254.2 352.1 260.8 362.4 267.4 372.6 274 382.8 280.5 393.1 286.9 403.3 293.3 413.6 299.7 423.9 306 434.2 312.3 444.5 318.5M179.8 137.5 190.2 145.1 200.5 152.6 210.8 160.1 221.1 167.5 231.4 174.8 241.7 182.1 251.9 189.3 262.2 196.5 272.4 203.5 282.6 210.6 292.8 217.5 303.1 224.5 313.3 231.3 323.5 238.1 333.7 244.9 343.9 251.6 354.1 258.2 364.3 264.8 374.6 271.4 384.8 277.9 395 284.3 405.3 290.7 415.5 297.1 425.8 303.4 436.1 309.7 446.4 315.9M182 135 192.4 142.6 202.7 150.1 213 157.5 223.3 164.9 233.5 172.3 243.8 179.5 254 186.7 264.3 193.9 274.5 201 284.7 208 294.9 215 305.1 221.9 315.3 228.7 325.5 235.5 335.7 242.3 345.9 249 356.1 255.6 366.3 262.2 376.5 268.8 386.7 275.3 397 281.7 407.2 288.1 417.4 294.5 427.7 300.8 438 307 448.2 313.3M184.2 132.4 194.6 140 204.9 147.5 215.2 155 225.4 162.4 235.7 169.7 245.9 177 256.2 184.2 266.4 191.3 276.6 198.4 286.8 205.4 297 212.4 307.2 219.3 317.4 226.1 327.5 232.9 337.7 239.7 347.9 246.4 358.1 253 368.3 259.6 378.5 266.1 388.7 272.6 398.9 279.1 409.1 285.5 419.3 291.8 429.6 298.1 439.8 304.4 450.1 310.6M186.4 129.8 196.8 137.4 207 144.9 217.3 152.4 227.6 159.8 237.8 167.1 248 174.4 258.3 181.6 268.5 188.7 278.7 195.8 288.9 202.8 299 209.8 309.2 216.7 319.4 223.5 329.6 230.3 339.7 237.1 349.9 243.8 360.1 250.4 370.2 257 380.4 263.5 390.6 270 400.8 276.4 411 282.8 421.2 289.2 431.5 295.5 441.7 301.7 452 307.9M188.6 127.3 198.9 134.8 209.2 142.4 219.5 149.8 229.7 157.2 239.9 164.5 250.2 171.8 260.4 179 270.6 186.1 280.7 193.2 290.9 200.2 301.1 207.2 311.2 214.1 321.4 220.9 331.6 227.7 341.7 234.4 351.9 241.1 362 247.8 372.2 254.3 382.4 260.9 392.6 267.4 402.7 273.8 412.9 280.2 423.1 286.5 433.3 292.8 443.6 299.1 453.8 305.3M190.8 124.6 201.1 132.2 211.4 139.8 221.6 147.2 231.9 154.6 242.1 161.9 252.3 169.2 262.5 176.4 272.6 183.5 282.8 190.6 293 197.6 303.1 204.5 313.3 211.4 323.4 218.3 333.6 225.1 343.7 231.8 353.9 238.5 364 245.1 374.2 251.7 384.3 258.2 394.5 264.7 404.7 271.1 414.8 277.5 425 283.8 435.2 290.1 445.4 296.4 455.7 302.6M193 122 203.3 129.6 213.5 137.1 223.8 144.6 234 152 244.2 159.3 254.4 166.5 264.6 173.7 274.7 180.9 284.9 187.9 295 194.9 305.2 201.9 315.3 208.8 325.4 215.6 335.6 222.4 345.7 229.1 355.8 235.8 366 242.4 376.1 249 386.3 255.5 396.4 262 406.6 268.4 416.7 274.8 426.9 281.2 437.1 287.4 447.3 293.7 457.5 299.9M195.2 119.4 205.4 127 215.7 134.5 225.9 141.9 236.1 149.3 246.3 156.6 256.5 163.9 266.6 171.1 276.8 178.2 286.9 185.3 297.1 192.3 307.2 199.2 317.3 206.1 327.5 213 337.6 219.7 347.7 226.5 357.8 233.1 367.9 239.8 378.1 246.3 388.2 252.9 398.3 259.3 408.5 265.8 418.6 272.1 428.8 278.5 439 284.7 449.2 291 459.4 297.2M197.4 116.8 207.6 124.3 217.8 131.8 228 139.3 238.2 146.7 248.4 154 258.6 161.2 268.7 168.4 278.9 175.5 289 182.6 299.1 189.6 309.2 196.6 319.4 203.5 329.5 210.3 339.6 217.1 349.7 223.8 359.8 230.5 369.9 237.1 380 243.6 390.1 250.2 400.3 256.6 410.4 263 420.5 269.4 430.7 275.7 440.9 282 451 288.2 461.2 294.4M199.5 114.1 209.7 121.7 220 129.2 230.2 136.6 240.3 144 250.5 151.3 260.7 158.6 270.8 165.7 280.9 172.9 291 179.9 301.2 186.9 311.3 193.9 321.4 200.8 331.5 207.6 341.6 214.4 351.7 221.1 361.8 227.8 371.9 234.4 382 240.9 392.1 247.5 402.2 253.9 412.3 260.3 422.4 266.7 432.6 273 442.7 279.3 452.9 285.5 463.1 291.7M201.7 111.4 211.9 119 222.1 126.5 232.3 133.9 242.4 141.3 252.6 148.6 262.7 155.9 272.9 163 283 170.2 293.1 177.2 303.2 184.2 313.3 191.2 323.4 198.1 333.5 204.9 343.6 211.7 353.6 218.4 363.7 225 373.8 231.7 383.9 238.2 394 244.7 404.1 251.2 414.2 257.6 424.3 264 434.5 270.3 444.6 276.6 454.8 282.8 464.9 289M203.8 108.7 214 116.3 224.2 123.8 234.4 131.2 244.5 138.6 254.7 145.9 264.8 153.2 274.9 160.3 285 167.5 295.1 174.5 305.2 181.5 315.3 188.5 325.4 195.3 335.5 202.2 345.5 208.9 355.6 215.7 365.7 222.3 375.8 228.9 385.8 235.5 395.9 242 406 248.5 416.1 254.9 426.2 261.2 436.3 267.5 446.5 273.8 456.6 280 466.8 286.2M206 106 216.2 113.6 226.3 121.1 236.5 128.5 246.6 135.9 256.8 143.2 266.9 150.4 277 157.6 287.1 164.7 297.2 171.8 307.2 178.8 317.3 185.7 327.4 192.6 337.5 199.4 347.5 206.2 357.6 212.9 367.6 219.6 377.7 226.2 387.8 232.7 397.8 239.3 407.9 245.7 418 252.1 428.1 258.5 438.2 264.8 448.3 271 458.5 277.3 468.6 283.4M208.1 103.3 218.3 110.8 228.4 118.4 238.6 125.8 248.7 133.2 258.8 140.5 269 147.7 279 154.9 289.1 162 299.2 169.1 309.3 176.1 319.3 183 329.4 189.9 339.4 196.7 349.5 203.5 359.5 210.2 369.6 216.8 379.6 223.4 389.7 230 399.8 236.5 409.8 242.9 419.9 249.3 430 255.7 440.1 262 450.2 268.3 460.3 274.5 470.5 280.6M210.2 100.5 220.4 108.1 230.6 115.6 240.7 123 250.8 130.4 260.9 137.7 271 145 281.1 152.1 291.2 159.3 301.2 166.3 311.3 173.3 321.3 180.2 331.4 187.1 341.4 193.9 351.5 200.7 361.5 207.4 371.5 214.1 381.6 220.7 391.6 227.2 401.7 233.7 411.7 240.2 421.8 246.6 431.9 252.9 442 259.2 452.1 265.5 462.2 271.7 472.3 277.8M212.3 97.8 222.5 105.3 232.7 112.8 242.8 120.3 252.9 127.7 263 135 273.1 142.2 283.1 149.4 293.2 156.5 303.3 163.5 313.3 170.5 323.3 177.5 333.4 184.3 343.4 191.2 353.4 197.9 363.5 204.6 373.5 211.3 383.5 217.9 393.6 224.4 403.6 230.9 413.6 237.4 423.7 243.8 433.8 250.1 443.8 256.4 453.9 262.7 464 268.9 474.1 275M214.5 95 224.6 102.6 234.7 110.1 244.9 117.5 255 124.9 265 132.2 275.1 139.4 285.2 146.6 295.2 153.7 305.3 160.8 315.3 167.7 325.3 174.7 335.4 181.6 345.4 188.4 355.4 195.1 365.4 201.8 375.4 208.5 385.5 215.1 395.5 221.6 405.5 228.1 415.6 234.6 425.6 241 435.7 247.3 445.7 253.6 455.8 259.9 465.9 266.1 476 272.2M216.6 92.2 226.7 99.8 236.8 107.3 246.9 114.7 257 122.1 267.1 129.4 277.2 136.6 287.2 143.8 297.3 150.9 307.3 158 317.3 164.9 327.3 171.9 337.3 178.8 347.4 185.6 357.4 192.3 367.4 199 377.4 205.7 387.4 212.3 397.4 218.8 407.4 225.3 417.5 231.8 427.5 238.1 437.5 244.5 447.6 250.8 457.7 257 467.7 263.2 477.8 269.4M218.7 89.4 228.8 97 238.9 104.5 249 111.9 259.1 119.3 269.2 126.6 279.2 133.8 289.3 141 299.3 148.1 309.3 155.1 319.3 162.1 329.3 169.1 339.3 175.9 349.3 182.8 359.3 189.5 369.3 196.2 379.3 202.9 389.3 209.5 399.3 216 409.3 222.5 419.4 228.9 429.4 235.3 439.4 241.6 449.5 247.9 459.5 254.2 469.6 260.4 479.7 266.5M220.8 86.6 230.9 94.1 241 101.6 251.1 109.1 261.2 116.4 271.2 123.7 281.3 131 291.3 138.2 301.3 145.3 311.3 152.3 321.3 159.3 331.3 166.2 341.3 173.1 351.3 179.9 361.3 186.7 371.3 193.4 381.3 200 391.2 206.6 401.2 213.2 411.2 219.6 421.3 226.1 431.3 232.5 441.3 238.8 451.3 245.1 461.4 251.3 471.4 257.5 481.5 263.7M222.9 83.7 233 91.3 243.1 98.8 253.2 106.2 263.2 113.6 273.3 120.9 283.3 128.1 293.3 135.3 303.3 142.4 313.3 149.5 323.3 156.5 333.3 163.4 343.3 170.3 353.3 177.1 363.2 183.8 373.2 190.5 383.2 197.2 393.2 203.8 403.2 210.3 413.1 216.8 423.1 223.2 433.1 229.6 443.2 235.9 453.2 242.2 463.2 248.5 473.3 254.7 483.3 260.8M225 80.9 235.1 88.4 245.1 95.9 255.2 103.4 265.3 110.7 275.3 118 285.3 125.3 295.3 132.5 305.3 139.6 315.3 146.6 325.3 153.6 335.3 160.5 345.3 167.4 355.2 174.2 365.2 181 375.2 187.7 385.1 194.3 395.1 200.9 405.1 207.4 415.1 213.9 425 220.3 435 226.7 445 233.1 455.1 239.3 465.1 245.6 475.1 251.8 485.2 257.9M227.1 78 237.1 85.6 247.2 93.1 257.3 100.5 267.3 107.9 277.3 115.2 287.3 122.4 297.3 129.6 307.3 136.7 317.3 143.7 327.3 150.7 337.3 157.7 347.2 164.5 357.2 171.3 367.1 178.1 377.1 184.8 387.1 191.4 397 198 407 204.5 417 211 426.9 217.5 436.9 223.8 446.9 230.2 456.9 236.5 466.9 242.7 477 248.9 487 255M229.1 75.1 239.2 82.7 249.3 90.2 259.3 97.6 269.3 105 279.4 112.3 289.4 119.5 299.4 126.7 309.3 133.8 319.3 140.9 329.3 147.8 339.2 154.8 349.2 161.6 359.1 168.4 369.1 175.2 379 181.9 389 188.5 398.9 195.1 408.9 201.7 418.9 208.1 428.8 214.6 438.8 220.9 448.8 227.3 458.8 233.5 468.8 239.8 478.8 246 488.8 252.1M231.2 72.2 241.3 79.8 251.3 87.3 261.4 94.7 271.4 102.1 281.4 109.4 291.4 116.6 301.4 123.8 311.3 130.9 321.3 137.9 331.3 144.9 341.2 151.9 351.1 158.7 361.1 165.5 371 172.3 381 179 390.9 185.6 400.9 192.2 410.8 198.7 420.8 205.2 430.7 211.6 440.7 218 450.7 224.3 460.6 230.6 470.6 236.9 480.7 243 490.7 249.2M233.3 69.2 243.3 76.8 253.4 84.3 263.4 91.8 273.4 99.1 283.4 106.5 293.4 113.7 303.4 120.9 313.3 128 323.3 135 333.2 142 343.2 148.9 353.1 155.8 363 162.6 373 169.4 382.9 176.1 392.8 182.7 402.8 189.3 412.7 195.8 422.7 202.3 432.6 208.7 442.6 215.1 452.5 221.4 462.5 227.7 472.5 233.9 482.5 240.1 492.5 246.2M235.4 66.3 245.4 73.9 255.4 81.4 265.5 88.8 275.5 96.2 285.4 103.5 295.4 110.8 305.4 117.9 315.3 125 325.3 132.1 335.2 139.1 345.1 146 355.1 152.9 365 159.7 374.9 166.4 384.8 173.1 394.8 179.8 404.7 186.3 414.6 192.9 424.5 199.3 434.5 205.8 444.4 212.1 454.4 218.5 464.4 224.7 474.3 231 484.3 237.1 494.3 243.3M237.4 63.3 247.5 70.9 257.5 78.4 267.5 85.9 277.5 93.2 287.5 100.6 297.4 107.8 307.4 115 317.3 122.1 327.3 129.1 337.2 136.1 347.1 143 357 149.9 366.9 156.7 376.9 163.5 386.8 170.2 396.7 176.8 406.6 183.4 416.5 189.9 426.4 196.4 436.4 202.8 446.3 209.2 456.3 215.5 466.2 221.8 476.2 228 486.2 234.2 496.2 240.3M239.5 60.4 249.5 67.9 259.5 75.5 269.5 82.9 279.5 90.3 289.5 97.6 299.4 104.8 309.4 112 319.3 119.1 329.2 126.2 339.2 133.2 349.1 140.1 359 146.9 368.9 153.8 378.8 160.5 388.7 167.2 398.6 173.8 408.5 180.4 418.4 186.9 428.3 193.4 438.3 199.8 448.2 206.2 458.1 212.5 468.1 218.8 478 225 488 231.2 498 237.3M241.5 57.4 251.6 64.9 261.6 72.5 271.5 79.9 281.5 87.3 291.5 94.6 301.4 101.8 311.4 109 321.3 116.1 331.2 123.2 341.1 130.2 351 137.1 360.9 144 370.8 150.8 380.7 157.5 390.6 164.2 400.5 170.9 410.4 177.4 420.3 184 430.2 190.4 440.1 196.9 450.1 203.2 460 209.5 469.9 215.8 479.9 222 489.9 228.2 499.9 234.3M243.6 54.3 253.6 61.9 263.6 69.4 273.6 76.9 283.5 84.3 293.5 91.6 303.4 98.8 313.4 106 323.3 113.1 333.2 120.2 343.1 127.2 353 134.1 362.9 141 372.8 147.8 382.7 154.5 392.5 161.2 402.4 167.9 412.3 174.4 422.2 181 432.1 187.4 442 193.9 451.9 200.2 461.9 206.5 471.8 212.8 481.8 219 491.7 225.2 501.7 231.3M245.6 51.3 255.6 58.9 265.6 66.4 275.6 73.9 285.5 81.2 295.5 88.6 305.4 95.8 315.3 103 325.3 110.1 335.2 117.2 345.1 124.1 354.9 131.1 364.8 137.9 374.7 144.8 384.6 151.5 394.5 158.2 404.3 164.8 414.2 171.4 424.1 177.9 434 184.4 443.9 190.8 453.8 197.2 463.7 203.5 473.7 209.8 483.6 216 493.6 222.2 503.5 228.3M247.7 48.3 257.7 55.8 267.6 63.4 277.6 70.8 287.6 78.2 297.5 85.5 307.4 92.8 317.3 99.9 327.2 107.1 337.1 114.1 347 121.1 356.9 128 366.8 134.9 376.6 141.7 386.5 148.5 396.4 155.2 406.3 161.8 416.1 168.4 426 174.9 435.9 181.4 445.8 187.8 455.7 194.2 465.6 200.5 475.5 206.8 485.5 213 495.4 219.1 505.4 225.3M249.7 45.2 259.7 52.8 269.7 60.3 279.6 67.8 289.6 75.1 299.5 82.5 309.4 89.7 319.3 96.9 329.2 104 339.1 111.1 349 118.1 358.8 125 368.7 131.9 378.6 138.7 388.4 145.4 398.3 152.1 408.2 158.8 418 165.3 427.9 171.9 437.8 178.3 447.7 184.8 457.6 191.1 467.5 197.4 477.4 203.7 487.3 209.9 497.2 216.1 507.2 222.2M251.7 42.1 261.7 49.7 271.7 57.2 281.6 64.7 291.6 72.1 301.5 79.4 311.4 86.6 321.3 93.8 331.2 100.9 341.1 108 350.9 115 360.8 121.9 370.7 128.8 380.5 135.6 390.4 142.4 400.2 149.1 410.1 155.7 420 162.3 429.8 168.8 439.7 175.3 449.6 181.7 459.4 188.1 469.3 194.4 479.2 200.6 489.2 206.9 499.1 213 509 219.1" fill="none" stroke="#000" stroke-width="0.95"/>
<circle cx="250.7" cy="40.2" r="3.2" fill="#ff0000" stroke="#000" stroke-width="0.8"/>
<circle cx="80" cy="230.1" r="3.2" fill="#ff0000" stroke="#000" stroke-width="0.8"/>
<circle cx="509" cy="218.7" r="3.2" fill="#ff0000" stroke="#000" stroke-width="0.8"/>
<circle cx="305" cy="237" r="3.2" fill="#ff0000" stroke="#000" stroke-width="0.8"/>
<circle cx="366.5" cy="414.8" r="3.2" fill="#ffb8b8" stroke="#000" stroke-width="0.8"/>
<path d="M781.8 322.3L944.4 147.4M944.4 147.4L1194.9 248.1M778.5 306L943.9 129.7M943.9 129.7L1197.9 231.4M775.3 289.7L943.4 112.1M943.4 112.1L1201 214.7M772.1 273.4L942.9 94.5M942.9 94.5L1204 198.1M768.8 257.1L942.4 76.8M942.4 76.8L1207 181.4M765.6 240.8L942 59.2M942 59.2L1210.1 164.8M762.3 224.5L941.5 41.5M941.5 41.5L1213.1 148.1M759.1 208.3L941 23.9M941 23.9L1216.2 131.5M755.8 192L940.5 6.3M940.5 6.3L1219.2 114.8M814.3 287.3L792.8 154.8M846.8 252.3L829.7 117.7M879.3 217.3L866.6 80.5M911.8 182.3L903.6 43.4M1007 172.5L1010.2 33.4M1069.6 197.7L1079.9 60.5M1132.3 222.9L1149.5 87.7M789.2 359.4L755.8 192M1188 285.9L1219.2 114.8M944.4 147.4L940.5 6.3" fill="none" stroke="#222" stroke-width="1"/>
<polygon points="789.2,359.4 1044.3,483 1188,285.9 945.4,187.5" fill="#ffff00" stroke="#000" stroke-width="0.8"/>
<path d="M806 366.1L805.6 364.9M806.6 367.7L806 366.1M805.3 363.7L804.8 362.2M805.6 364.9L805.3 363.7M804.5 361.3L804 359.5M804.8 362.2L804.5 361.3M803.8 358.8L803.3 356.9M804 359.5L803.8 358.8M803.2 356.3L802.7 354.3M803.3 356.9L803.2 356.3M802.6 353.8L802.1 351.8M802.7 354.3L802.6 353.8M802 351.2L801.7 349.2M802.1 351.8L802 351.2M801.5 348.5L801.2 346.8M801.7 349.2L801.5 348.5M801.2 346.8L801.1 345.9" fill="none" stroke="#00e070" stroke-width="1"/>
<path d="M789.2 359.4L1044.3 483L1188 285.9" fill="none" stroke="#000" stroke-width="0.8"/>
<path d="M853.7 389.6l-1.5 1.5M917.4 420.5l-1.5 1.5M981.2 451.4l-1.5 1.5M1072.3 442.9l1.5 1.5M1101.1 403.5l1.5 1.5M1129.8 364.1l1.5 1.5M1158.5 324.7l1.5 1.5" fill="none" stroke="#000" stroke-width="1.6"/>
<path d="M760 214 767 220 771 220 765 214" fill="#d4ff00"/>
<path d="M767 220 773 227 778 226 771 220M765 214 771 220 776 220 770 213" fill="#c9ff00"/>
<path d="M773 227 779 233 784 232 778 226M771 220 778 226 783 226 776 220M770 213 776 220 781 219 775 213" fill="#beff00"/>
<path d="M779 233 786 239 790 238 784 232" fill="#b4ff00"/>
<path d="M786 239 792 245 797 244 790 238" fill="#aaff00"/>
<path d="M792 245 798 250 803 250 797 244M936 58 941 64 944 57 939 51" fill="#a1ff00"/>
<path d="M798 250 804 256 809 255 803 250M932 64 938 70 941 64 936 58" fill="#98ff00"/>
<path d="M804 256 810 261 815 261 809 255M929 71 935 77 938 70 932 64" fill="#8fff00"/>
<path d="M810 261 817 266 821 266 815 261M1038 368 1045 369 1048 368 1042 367M926 77 931 83 935 77 929 71" fill="#87ff00"/>
<path d="M817 266 823 271 827 271 821 266M804 236 810 242 815 241 809 235M803 230 809 235 813 234 807 228M923 83 928 89 931 83 926 77" fill="#7fff00"/>
<path d="M823 271 829 276 833 276 827 271M1026 367 1032 368 1036 367 1029 366M1052 366 1058 367 1062 365 1055 365M805 221 811 227 816 226 810 220M919 89 925 95 928 89 923 83" fill="#78ff00"/>
<path d="M829 276 835 281 839 280 833 276M1019 366 1026 367 1029 366 1023 365M820 260 826 265 830 264 824 259M916 95 921 101 925 95 919 89M937 89 942 95 945 89 940 83" fill="#71ff00"/>
<path d="M835 281 841 286 845 285 839 280M1013 365 1019 366 1023 365 1017 364M812 211 818 217 822 215 816 209" fill="#6bff00"/>
<path d="M841 286 847 290 851 289 845 285M1007 364 1013 365 1017 364 1011 363M1049 365 1055 365 1059 364 1052 363M816 226 822 232 826 230 820 224M921 101 927 107 930 101 925 95" fill="#65ff00"/>
<path d="M847 290 853 294 857 294 851 289M1001 363 1007 364 1011 363 1004 362M839 280 845 285 850 284 844 280M1017 364 1023 365 1026 364 1020 363M906 112 912 118 915 112 909 106M918 107 924 113 927 107 921 101" fill="#5fff00"/>
<path d="M853 294 859 299 863 298 857 294M995 362 1001 363 1004 362 998 361M1026 364 1033 365 1036 363 1030 363M827 252 833 257 837 256 831 251M825 245 831 251 835 249 830 244M824 239 830 244 834 243 828 237M927 107 932 113 936 107 930 101M965 99 970 104 973 97 968 92M973 97 979 102 982 96 977 91" fill="#5aff00"/>
<path d="M859 299 865 303 869 302 863 298M989 360 995 362 998 361 992 359M899 122 905 128 908 123 903 117" fill="#55ff00"/>
<path d="M865 303 870 307 875 306 869 302M983 359 989 360 992 359 986 358M1056 362 1062 362 1065 360 1059 360M831 251 837 256 841 255 835 249M830 244 835 249 840 248 834 243M896 127 902 133 905 128 899 122M961 105 967 110 970 104 965 99M970 104 975 109 979 102 973 97" fill="#51ff00"/>
<path d="M870 307 876 311 881 310 875 306M976 357 983 359 986 358 980 356M840 268 846 273 851 272 845 267M831 211 837 217 841 215 835 209M833 201 839 207 843 204 837 199M893 132 898 138 902 133 896 127M941 112 946 118 950 112 944 106" fill="#4dff00"/>
<path d="M876 311 882 314 886 313 881 310M970 355 976 357 980 356 974 354M863 298 869 302 873 301 867 297M992 359 998 361 1002 359 996 358M1024 362 1030 363 1033 361 1027 360M1049 361 1056 362 1059 360 1053 359M837 256 843 261 847 260 841 255M834 243 840 248 844 246 838 241M832 219 838 225 842 223 837 217M837 199 843 204 846 202 841 196M842 185 848 191 852 188 846 182M905 128 910 134 914 129 908 123M929 118 934 124 938 118 932 113M958 111 964 116 967 110 961 105M975 109 981 114 984 107 979 102" fill="#49ff00"/>
<path d="M882 314 888 318 892 317 886 313M965 353 970 355 974 354 968 352M846 273 852 278 856 277 851 272M846 182 852 188 856 185 850 179M938 118 943 124 946 118 941 112M1188 194 1194 194 1197 187 1191 187" fill="#46ff00"/>
<path d="M888 318 894 321 898 320 892 317M959 351 965 353 968 352 962 350M861 293 867 297 871 296 866 292M1002 359 1008 361 1012 359 1006 358M854 283 860 288 864 287 858 282M1018 361 1024 362 1027 360 1021 359M845 267 851 272 855 271 849 266M836 234 842 239 846 238 840 232M837 217 842 223 846 221 841 215M839 207 844 213 848 210 843 204M879 149 884 155 888 151 882 145M914 129 919 134 922 129 917 123M926 124 931 129 934 124 929 118M946 118 952 123 955 117 950 112" fill="#43ff00"/>
<path d="M894 321 900 325 904 324 898 320M953 349 959 351 962 350 956 348M875 306 881 310 885 309 879 305M980 356 986 358 990 356 984 355M843 261 849 266 853 264 847 260M838 241 844 246 848 245 842 239M844 193 850 199 854 196 848 191M857 172 863 178 867 175 861 169M875 154 881 160 884 155 879 149M955 117 960 122 964 116 958 111M981 114 986 118 989 112 984 107M1179 187 1185 187 1189 180 1182 180" fill="#41ff00"/>
<path d="M900 325 906 328 910 327 904 324M947 347 953 349 956 348 951 346M852 278 858 282 862 281 856 277M1027 360 1033 361 1037 359 1031 359M1062 358 1069 358 1072 356 1066 356M838 225 844 230 848 228 842 223M910 134 916 139 919 134 914 129M934 124 940 129 943 124 938 118M1182 194 1188 194 1191 187 1185 187" fill="#3fff00"/>
<path d="M906 328 911 331 916 330 910 327M941 344 947 347 951 346 945 344M881 310 886 313 891 313 885 309M974 354 980 356 984 355 978 353M867 297 873 301 877 300 871 296M996 358 1002 359 1006 358 1000 357M860 288 866 292 870 291 864 287M1072 356 1078 357 1081 355 1075 354M843 204 848 210 852 208 846 202M848 191 854 196 858 194 852 188M895 142 900 148 904 143 898 138M922 129 928 135 931 129 926 124M1003 114 1008 119 1012 112 1006 107" fill="#3eff00"/>
<path d="M911 331 917 334 921 333 916 330M935 342 941 344 945 344 939 341M1012 359 1018 361 1021 359 1015 358M841 215 846 221 850 218 844 213M1187 207 1193 207 1197 200 1191 201M1184 201 1191 201 1194 194 1188 194" fill="#3dff00"/>
<path d="M917 334 923 337 927 336 921 333M923 337 929 339 933 338 927 336M929 339 935 342 939 341 933 338M851 272 856 277 861 275 855 271M840 232 846 238 850 236 844 230M891 147 897 153 900 148 895 142M943 124 949 129 952 123 946 118" fill="#3cff00"/>
<path d="M1032 368 1038 368 1042 367 1036 367M806 243 812 248 816 248 810 242M801 223 807 228 811 227 805 221M952 76 957 81 960 74 955 69M960 74 966 80 969 73 964 68" fill="#80ff00"/>
<path d="M1045 369 1051 369 1055 368 1048 368" fill="#90ff00"/>
<path d="M778 226 784 232 789 232 783 226M776 220 783 226 787 225 781 219M775 213 781 219 786 218 779 212" fill="#b3ff00"/>
<path d="M784 232 790 238 795 238 789 232M779 212 786 218 790 217 784 211" fill="#a9ff00"/>
<path d="M790 238 797 244 801 244 795 238M784 211 790 217 795 216 789 210" fill="#9fff00"/>
<path d="M797 244 803 250 807 249 801 244M950 63 955 69 958 62 953 56" fill="#95ff00"/>
<path d="M803 250 809 255 814 255 807 249" fill="#8cff00"/>
<path d="M809 255 815 261 820 260 814 255M1048 368 1055 368 1058 367 1052 366M935 77 940 83 943 76 938 70" fill="#84ff00"/>
<path d="M815 261 821 266 826 265 820 260M1042 367 1048 368 1052 366 1045 366M931 83 937 89 940 83 935 77" fill="#7cff00"/>
<path d="M821 266 827 271 832 270 826 265M1036 367 1042 367 1045 366 1039 365M928 89 933 95 937 89 931 83" fill="#74ff00"/>
<path d="M827 271 833 276 838 275 832 270M1029 366 1036 367 1039 365 1033 365M816 248 823 253 827 252 821 247M811 227 818 233 822 232 816 226M954 88 959 93 963 87 957 81M963 87 968 92 971 85 966 80M971 85 977 91 980 84 974 78" fill="#6dff00"/>
<path d="M833 276 839 280 844 280 838 275M1023 365 1029 366 1033 365 1026 364M824 259 830 264 834 263 829 258M942 95 948 100 951 94 945 89" fill="#66ff00"/>
<path d="M845 285 851 289 855 289 850 284M1011 363 1017 364 1020 363 1014 362M1062 362 1068 362 1072 361 1065 360M822 215 828 221 832 219 827 213M827 195 833 201 837 199 831 192M903 117 908 123 912 118 906 112M915 112 920 118 924 113 918 107" fill="#59ff00"/>
<path d="M851 289 857 294 861 293 855 289M844 280 850 284 854 283 848 279M1020 363 1026 364 1030 363 1024 362M834 263 840 268 845 267 839 262M831 192 837 199 841 196 835 190M924 113 929 118 932 113 927 107M944 106 950 112 953 106 948 100" fill="#54ff00"/>
<path d="M857 294 863 298 867 297 861 293M998 361 1004 362 1008 361 1002 359M850 284 855 289 860 288 854 283M1014 362 1020 363 1024 362 1018 361M908 123 914 129 917 123 912 118M920 118 926 124 929 118 924 113M1194 194 1200 194 1204 187 1197 187" fill="#4eff00"/>
<path d="M869 302 875 306 879 305 873 301M986 358 992 359 996 358 990 356M1033 361 1040 362 1043 360 1037 359M834 227 840 232 844 230 838 225M841 196 846 202 850 199 844 193M902 133 907 139 910 134 905 128M1191 201 1197 200 1200 194 1194 194M998 110 1003 114 1006 107 1001 103" fill="#45ff00"/>
<path d="M886 313 892 317 896 316 891 313M968 352 974 354 978 353 972 351M873 301 879 305 883 304 877 300M990 356 996 358 1000 357 994 355M849 266 855 271 859 269 853 264M842 239 848 245 852 243 846 238M846 202 852 208 856 205 850 199M907 139 913 144 916 139 910 134M952 123 957 128 960 122 955 117" fill="#3aff00"/>
<path d="M892 317 898 320 902 319 896 316M962 350 968 352 972 351 966 349M1006 358 1012 359 1015 358 1009 357M847 260 853 264 857 263 851 258M845 253 851 258 855 257 850 252M844 246 850 252 854 250 848 245M844 213 850 218 854 216 848 210M960 122 966 127 969 121 964 116M969 121 974 126 977 120 972 115M977 120 983 125 986 118 981 114M1176 194 1182 194 1185 187 1179 187" fill="#38ff00"/>
<path d="M898 320 904 324 908 323 902 319M956 348 962 350 966 349 960 347M1031 359 1037 359 1040 358 1034 357M844 230 850 236 854 234 848 228M867 175 872 180 876 177 870 171M877 164 883 169 887 165 881 160M1184 214 1190 213 1193 207 1187 207M1181 207 1187 207 1191 201 1184 201" fill="#35ff00"/>
<path d="M904 324 910 327 914 326 908 323M951 346 956 348 960 347 954 345M1000 357 1006 358 1009 357 1003 355M1015 358 1021 359 1025 358 1019 356M855 271 861 275 865 274 859 269M846 238 852 243 856 241 850 236M846 221 852 226 856 224 850 218M854 196 860 202 863 199 858 194M900 148 906 154 909 149 904 143M949 129 954 134 957 128 952 123" fill="#33ff00"/>
<path d="M910 327 916 330 920 329 914 326M945 344 951 346 954 345 949 342M885 309 891 313 895 311 889 308M978 353 984 355 988 354 982 352M1040 358 1046 359 1050 357 1044 356M991 123 997 127 1000 121 995 116" fill="#32ff00"/>
<path d="M916 330 921 333 925 332 920 329M939 341 945 344 949 342 943 340M853 264 859 269 863 268 857 263M848 245 854 250 858 248 852 243M897 153 902 158 906 154 900 148M957 128 962 133 966 127 960 122M1170 194 1176 194 1179 187 1173 187M1014 123 1019 127 1022 120 1017 116" fill="#31ff00"/>
<path d="M921 333 927 336 931 335 925 332M927 336 933 338 937 337 931 335M933 338 939 341 943 340 937 337M862 281 868 285 872 284 866 280M1050 357 1056 357 1059 356 1053 355M851 258 857 263 861 261 855 257M850 252 855 257 859 255 854 250M852 208 858 213 862 211 856 205M858 194 863 199 867 196 861 190M913 144 918 150 921 145 916 139M937 135 942 140 945 134 940 129M966 127 971 132 974 126 969 121M974 126 980 131 983 125 977 120M983 125 988 129 991 123 986 118" fill="#30ff00"/>
<path d="M1004 362 1011 363 1014 362 1008 361M1046 363 1052 363 1056 362 1049 361M826 230 832 236 836 234 830 228M827 213 832 219 837 217 831 211M912 118 917 123 920 118 915 112M987 100 992 105 996 98 990 94" fill="#53ff00"/>
<path d="M783 226 789 232 794 231 787 225M781 219 787 225 792 225 786 218" fill="#a8ff00"/>
<path d="M789 232 795 238 800 237 794 231M786 218 792 225 797 224 790 217" fill="#9eff00"/>
<path d="M795 238 801 244 806 243 800 237M790 217 797 224 801 223 795 216" fill="#94ff00"/>
<path d="M801 244 807 249 812 248 806 243M797 224 803 230 807 228 801 223M955 69 960 74 964 68 958 62" fill="#8aff00"/>
<path d="M807 249 814 255 818 254 812 248" fill="#81ff00"/>
<path d="M814 255 820 260 824 259 818 254M940 83 945 89 949 82 943 76" fill="#79ff00"/>
<path d="M826 265 832 270 836 269 830 264M1039 365 1045 366 1049 365 1042 364M815 201 821 207 825 205 819 199M933 95 939 101 942 95 937 89" fill="#69ff00"/>
<path d="M832 270 838 275 842 274 836 269" fill="#62ff00"/>
<path d="M838 275 844 280 848 279 842 274M1052 363 1059 364 1062 362 1056 362M822 232 828 237 832 236 826 230M956 100 961 105 965 99 959 93" fill="#5bff00"/>
<path d="M855 289 861 293 866 292 860 288M1008 361 1014 362 1018 361 1012 359M1059 360 1065 360 1069 358 1062 358M835 249 841 255 845 253 840 248M835 209 841 215 844 213 839 207M917 123 922 129 926 124 920 118M967 110 972 115 975 109 970 104M1185 187 1191 187 1195 180 1189 180" fill="#48ff00"/>
<path d="M879 305 885 309 889 308 883 304M984 355 990 356 994 355 988 354M856 277 862 281 866 280 861 275M1066 356 1072 356 1075 354 1069 354M1075 354 1081 355 1085 352 1078 352M850 199 856 205 860 202 854 196M863 178 869 184 872 180 867 175M881 160 887 165 890 161 884 155M940 129 945 134 949 129 943 124M1178 201 1184 201 1188 194 1182 194" fill="#36ff00"/>
<path d="M891 313 896 316 900 315 895 311M972 351 978 353 982 352 976 350M877 300 883 304 887 303 881 299M994 355 1000 357 1003 355 997 354M1025 358 1031 359 1034 357 1028 356M848 228 854 234 858 231 852 226M925 140 930 145 933 140 928 135M1172 200 1178 201 1182 194 1176 194M1161 186 1167 186 1170 179 1165 179" fill="#2fff00"/>
<path d="M896 316 902 319 906 318 900 315M1180 220 1187 220 1190 213 1184 214M1178 214 1184 214 1187 207 1181 207M1175 207 1181 207 1184 201 1178 201" fill="#2dff00"/>
<path d="M902 319 908 323 912 322 906 318M960 347 966 349 970 348 964 346M876 295 881 299 885 298 880 294M868 285 874 290 878 288 872 284M859 269 865 274 869 272 863 268M852 243 858 248 862 246 856 241M852 226 858 231 862 229 856 224M854 216 860 221 864 219 858 213M872 180 878 186 882 183 876 177M876 177 882 183 885 179 880 173M880 173 885 179 889 175 883 169M883 169 889 175 892 171 887 165M921 145 927 150 930 145 925 140M933 140 939 145 942 140 937 135M954 134 959 139 962 133 957 128" fill="#2aff00"/>
<path d="M908 323 914 326 918 325 912 322M954 345 960 347 964 346 958 344M889 308 895 311 899 310 893 307M855 257 861 261 865 260 859 255M962 133 968 138 971 132 966 127M971 132 976 137 980 131 974 126M980 131 985 135 988 129 983 125M1166 200 1172 200 1176 194 1170 194M1010 129 1016 133 1019 127 1014 123" fill="#28ff00"/>
<path d="M914 326 920 329 923 328 918 325M949 342 954 345 958 344 952 341M982 352 988 354 991 352 985 350M1053 355 1059 356 1063 353 1056 353M1082 350 1088 350 1091 348 1085 347M1024 131 1029 134 1033 128 1027 124" fill="#27ff00"/>
<path d="M920 329 925 332 929 331 923 328M943 340 949 342 952 341 947 339M866 280 872 284 876 283 870 278M1063 353 1069 354 1072 352 1066 351M1072 352 1078 352 1082 350 1075 349M854 234 860 239 864 237 858 231M858 213 864 219 867 216 862 211M863 199 869 205 873 202 867 196M902 158 908 164 911 159 906 154M918 150 923 155 927 150 921 145M942 140 947 145 951 140 945 134M1177 226 1183 226 1187 220 1180 220M1169 207 1175 207 1178 201 1172 200" fill="#26ff00"/>
<path d="M925 332 931 335 935 334 929 331M931 335 937 337 941 336 935 334M937 337 943 340 947 339 941 336M895 311 900 315 904 314 899 310M881 299 887 303 891 302 885 298M997 354 1003 355 1007 354 1001 352M874 290 880 294 884 292 878 288M1028 356 1034 357 1038 355 1032 354M856 224 862 229 866 227 860 221M930 145 935 150 939 145 933 140M1174 220 1180 220 1184 214 1178 214M1172 213 1178 214 1181 207 1175 207M1002 132 1007 136 1010 129 1005 125M1158 193 1164 193 1167 186 1161 186" fill="#25ff00"/>
<path d="M966 349 972 351 976 350 970 348M861 275 866 280 870 278 865 274M850 236 856 241 860 239 854 234M856 205 862 211 865 208 860 202M865 187 871 193 874 190 869 184M890 161 896 167 899 163 893 157M909 149 915 155 918 150 913 144M945 134 951 140 954 134 949 129M1019 127 1024 131 1027 124 1022 120" fill="#2cff00"/>
<path d="M1033 365 1039 365 1042 364 1036 363M930 101 936 107 939 101 933 95" fill="#61ff00"/>
<path d="M1045 366 1052 366 1055 365 1049 365" fill="#70ff00"/>
<path d="M787 225 794 231 798 231 792 225" fill="#9dff00"/>
<path d="M794 231 800 237 804 236 798 231M792 225 798 231 803 230 797 224" fill="#93ff00"/>
<path d="M800 237 806 243 810 242 804 236M798 231 804 236 809 235 803 230" fill="#89ff00"/>
<path d="M812 248 818 254 823 253 816 248M949 82 954 88 957 81 952 76" fill="#77ff00"/>
<path d="M818 254 824 259 829 258 823 253M1055 365 1062 365 1065 364 1059 364M945 89 951 94 954 88 949 82" fill="#6eff00"/>
<path d="M830 264 836 269 840 268 834 263M1042 364 1049 365 1052 363 1046 363M821 207 827 213 831 211 825 205M823 197 829 203 833 201 827 195M939 101 944 106 948 100 942 95" fill="#5eff00"/>
<path d="M836 269 842 274 846 273 840 268M936 107 941 112 944 106 939 101" fill="#57ff00"/>
<path d="M842 274 848 279 852 278 846 273M1030 363 1036 363 1040 362 1033 361M1065 360 1072 361 1075 359 1069 358M835 190 841 196 844 193 839 187M932 113 938 118 941 112 936 107M1191 187 1197 187 1201 180 1195 180" fill="#50ff00"/>
<path d="M848 279 854 283 858 282 852 278M839 262 845 267 849 266 843 261M832 236 838 241 842 239 836 234M889 136 895 142 898 138 893 132M950 112 955 117 958 111 953 106M984 107 989 112 992 105 987 100" fill="#4aff00"/>
<path d="M866 292 871 296 876 295 870 291M858 282 864 287 868 285 862 281M1021 359 1027 360 1031 359 1025 358M1046 359 1053 359 1056 357 1050 357M842 223 848 228 852 226 846 221M856 185 861 190 865 187 859 181M888 151 893 157 897 153 891 147M919 134 925 140 928 135 922 129M931 129 937 135 940 129 934 124M986 118 991 123 995 116 989 112" fill="#39ff00"/>
<path d="M871 296 877 300 881 299 876 295M864 287 870 291 874 290 868 285M848 210 854 216 858 213 852 208M870 171 876 177 880 173 874 167M874 167 880 173 883 169 877 164M916 139 921 145 925 140 919 134M928 135 933 140 937 135 931 129M1000 121 1005 125 1008 119 1003 114M1167 186 1173 187 1176 180 1170 179" fill="#34ff00"/>
<path d="M883 304 889 308 893 307 887 303M988 354 994 355 997 354 991 352M1034 357 1040 358 1044 356 1038 355M869 184 874 190 878 186 872 180M887 165 892 171 896 167 890 161M997 127 1002 132 1005 125 1000 121M1164 193 1170 194 1173 187 1167 186" fill="#2bff00"/>
<path d="M900 315 906 318 910 317 904 314M970 348 976 350 979 349 974 347M1038 355 1044 356 1047 354 1041 353M863 268 869 272 873 271 867 266M858 248 863 253 867 251 862 246M862 211 867 216 871 213 865 208M871 193 876 198 880 195 874 190M896 167 901 172 905 168 899 163M915 155 920 160 923 155 918 150M959 139 965 144 968 138 962 133M993 134 999 138 1002 132 997 127M1160 200 1166 200 1170 194 1164 193M1016 133 1021 137 1024 131 1019 127M1029 134 1035 138 1038 131 1033 128" fill="#22ff00"/>
<path d="M906 318 912 322 916 320 910 317M880 294 885 298 889 296 884 292M1022 355 1028 356 1032 354 1026 353M1047 354 1053 355 1056 353 1050 352M860 221 866 227 869 224 864 219M874 190 880 195 884 192 878 186M878 186 884 192 887 188 882 183M889 175 894 181 898 177 892 171M927 150 932 156 935 150 930 145M968 138 973 143 976 137 971 132M976 137 982 141 985 135 980 131M1163 207 1169 207 1172 200 1166 200M1152 192 1158 193 1161 186 1155 185M1144 183 1149 184 1153 177 1147 177" fill="#20ff00"/>
<path d="M912 322 918 325 922 324 916 320M958 344 964 346 968 345 962 342M893 307 899 310 903 309 897 305M860 239 865 244 869 242 864 237M947 145 953 150 956 145 951 140M1171 226 1177 226 1180 220 1174 220M1168 220 1174 220 1178 214 1172 213M1165 213 1172 213 1175 207 1169 207M1035 138 1040 141 1043 135 1038 131" fill="#1eff00"/>
<path d="M918 325 923 328 927 327 922 324M952 341 958 344 962 342 956 340M1032 354 1038 355 1041 353 1035 352M862 229 867 234 871 232 866 227M864 219 869 224 873 221 867 216M869 205 875 210 878 207 873 202M908 164 913 169 917 165 911 159M923 155 929 160 932 156 927 150M935 150 941 156 944 150 939 145M999 138 1004 142 1007 136 1002 132M1154 199 1160 200 1164 193 1158 193M1138 182 1144 183 1147 177 1141 175" fill="#1cff00"/>
<path d="M923 328 929 331 933 330 927 327M947 339 952 341 956 340 950 338M885 298 891 302 895 300 889 296M1001 352 1007 354 1010 352 1004 351M878 288 884 292 888 291 882 287M1016 353 1022 355 1026 353 1020 352M869 272 874 277 878 275 873 271M862 246 867 251 871 249 865 244M956 145 961 149 965 144 959 139M1146 191 1152 192 1155 185 1149 184" fill="#1bff00"/>
<path d="M929 331 935 334 939 332 933 330M935 334 941 336 945 335 939 332M941 336 947 339 950 338 945 335M899 310 904 314 908 313 903 309M979 349 985 350 989 349 983 347M1041 353 1047 354 1050 352 1044 351M867 266 873 271 877 269 871 264M865 260 871 264 875 262 869 258M863 253 869 258 873 256 867 251M1088 345 1094 345 1097 342 1091 342M873 202 878 207 882 204 876 198M905 168 910 174 913 169 908 164M965 144 970 148 973 143 968 138M990 140 995 144 999 138 993 134M1157 206 1163 207 1166 200 1160 200M1040 141 1045 145 1048 138 1043 135" fill="#1aff00"/>
<path d="M964 346 970 348 974 347 968 345M1007 354 1013 355 1016 353 1010 352M1056 353 1063 353 1066 351 1060 351M1066 351 1072 352 1075 349 1069 349M1075 349 1082 350 1085 347 1079 347M865 208 871 213 875 210 869 205M882 183 887 188 891 184 885 179M885 179 891 184 894 181 889 175M911 159 917 165 920 160 915 155M1174 232 1180 232 1183 226 1177 226M1007 136 1012 140 1016 133 1010 129" fill="#1fff00"/>
<path d="M976 350 982 352 985 350 979 349M1013 355 1019 356 1022 355 1016 353M865 274 870 278 874 277 869 272M856 241 862 246 865 244 860 239M867 196 873 202 876 198 871 193M899 163 905 168 908 164 902 158M951 140 956 145 959 139 954 134M1149 184 1155 185 1159 178 1153 177" fill="#24ff00"/>
<path d="M1036 363 1042 364 1046 363 1040 362M824 223 830 228 834 227 828 221" fill="#56ff00"/>
<path d="M810 242 816 248 821 247 815 241M807 228 813 234 818 233 811 227M806 205 812 211 816 209 810 203M957 81 963 87 966 80 960 74M966 80 971 85 974 78 969 73" fill="#76ff00"/>
<path d="M823 253 829 258 833 257 827 252M818 233 824 239 828 237 822 232M816 209 822 215 827 213 821 207M909 106 915 112 918 107 913 101M951 94 956 100 959 93 954 88M977 91 982 96 985 89 980 84" fill="#64ff00"/>
<path d="M829 258 834 263 839 262 833 257M948 100 953 106 956 100 951 94M982 96 987 100 990 94 985 89" fill="#5cff00"/>
<path d="M870 291 876 295 880 294 874 290M1009 357 1015 358 1019 356 1013 355M1059 356 1066 356 1069 354 1063 353M1069 354 1075 354 1078 352 1072 352M1078 352 1085 352 1088 350 1082 350M850 218 856 224 860 221 854 216M861 190 867 196 871 193 865 187M893 157 899 163 902 158 897 153M1005 125 1010 129 1014 123 1008 119" fill="#2eff00"/>
<path d="M887 303 893 307 897 305 891 302M991 352 997 354 1001 352 995 351M872 284 878 288 882 287 876 283M861 261 867 266 871 264 865 260M859 255 865 260 869 258 863 253M1085 347 1091 348 1094 345 1088 345M858 231 864 237 867 234 862 229M892 171 898 177 901 172 896 167M939 145 944 150 947 145 942 140M985 135 990 140 993 134 988 129" fill="#21ff00"/>
<path d="M904 314 910 317 914 316 908 313M876 283 882 287 886 285 880 281M1050 352 1056 353 1060 351 1054 350M1069 349 1075 349 1079 347 1072 347M1079 347 1085 347 1088 345 1082 345M864 237 869 242 873 239 867 234M867 216 873 221 877 218 871 213M876 198 882 204 886 201 880 195M901 172 907 178 910 174 905 168M944 150 949 155 953 150 947 145M1168 232 1174 232 1177 226 1171 226M1159 213 1165 213 1169 207 1163 207M1132 181 1138 182 1141 175 1136 174" fill="#18ff00"/>
<path d="M910 317 916 320 920 319 914 316M968 345 974 347 977 345 971 343M874 277 880 281 884 279 878 275M865 244 871 249 875 247 869 242M1091 342 1097 342 1101 340 1094 339M871 213 877 218 880 215 875 210M887 188 893 193 896 190 891 184M891 184 896 190 900 186 894 181M917 165 922 170 926 165 920 160M953 150 958 155 961 149 956 145M1127 180 1132 181 1136 174 1130 173" fill="#15ff00"/>
<path d="M916 320 922 324 925 322 920 319M962 342 968 345 971 343 966 341M989 349 995 351 998 349 993 347M882 287 888 291 892 289 886 285M873 271 878 275 882 273 877 269M871 264 877 269 880 267 875 262M869 258 875 262 879 260 873 256M867 234 873 239 877 237 871 232M869 224 875 229 879 226 873 221M913 169 919 174 922 170 917 165M929 160 934 166 938 161 932 156M941 156 946 161 949 155 944 150M961 149 967 154 970 148 965 144M1051 148 1056 151 1059 144 1054 141" fill="#13ff00"/>
<path d="M922 324 927 327 931 325 925 322M956 340 962 342 966 341 960 339M889 296 895 300 899 299 893 295M1020 352 1026 353 1029 351 1023 350M1044 351 1050 352 1054 350 1048 349M1082 345 1088 345 1091 342 1085 342M875 210 880 215 884 212 878 207M970 148 975 153 978 147 973 143M978 147 984 152 987 146 982 141M987 146 992 150 995 144 990 140M1154 212 1159 213 1163 207 1157 206M1143 198 1149 198 1152 192 1146 191M1135 189 1140 190 1144 183 1138 182M1121 178 1127 180 1130 173 1124 172" fill="#12ff00"/>
<path d="M927 327 933 330 937 328 931 325M950 338 956 340 960 339 954 336M903 309 908 313 912 311 907 308M1004 351 1010 352 1014 350 1008 349M1054 350 1060 351 1063 348 1057 348M1072 347 1079 347 1082 345 1076 344M1164 238 1170 238 1174 232 1168 232M1056 151 1061 154 1064 147 1059 144" fill="#11ff00"/>
<path d="M933 330 939 332 943 331 937 328M939 332 945 335 948 334 943 331M945 335 950 338 954 336 948 334M983 347 989 349 993 347 987 345M1063 348 1069 349 1072 347 1066 346M869 242 875 247 879 244 873 239M878 207 884 212 888 209 882 204M910 174 915 179 919 174 913 169M949 155 955 160 958 155 953 150M1162 232 1168 232 1171 226 1165 226M1159 225 1165 226 1168 220 1162 219M1156 219 1162 219 1165 213 1159 213M1009 146 1014 150 1018 144 1012 140M1037 148 1042 151 1045 145 1040 141M1115 177 1121 178 1124 172 1119 170" fill="#10ff00"/>
<path d="M974 347 979 349 983 347 977 345M891 302 897 305 901 304 895 300M995 351 1001 352 1004 351 998 349M1026 353 1032 354 1035 352 1029 351M1060 351 1066 351 1069 349 1063 348M866 227 871 232 875 229 869 224M898 177 903 182 907 178 901 172M932 156 938 161 941 156 935 150M1165 226 1171 226 1174 220 1168 220M1162 219 1168 220 1172 213 1165 213M1149 198 1154 199 1158 193 1152 192M1140 190 1146 191 1149 184 1144 183M1045 145 1051 148 1054 141 1048 138" fill="#17ff00"/>
<path d="M985 350 991 352 995 351 989 349M870 278 876 283 880 281 874 277M1021 137 1026 141 1029 134 1024 131" fill="#1dff00"/>
<path d="M1003 355 1009 357 1013 355 1007 354M1019 356 1025 358 1028 356 1022 355M1044 356 1050 357 1053 355 1047 354M857 263 863 268 867 266 861 261M854 250 859 255 863 253 858 248M860 202 865 208 869 205 863 199M906 154 911 159 915 155 909 149M988 129 993 134 997 127 991 123M1155 185 1161 186 1165 179 1159 178" fill="#29ff00"/>
<path d="M1040 362 1046 363 1049 361 1043 360M830 228 836 234 840 232 834 227M839 187 844 193 848 191 842 185M992 105 998 110 1001 103 996 98" fill="#4cff00"/>
<path d="M1059 364 1065 364 1068 362 1062 362M821 247 827 252 831 251 825 245M819 240 825 245 830 244 824 239M819 199 825 205 829 203 823 197M959 93 965 99 968 92 963 87M968 92 973 97 977 91 971 85" fill="#63ff00"/>
<path d="M809 235 815 241 819 240 813 234" fill="#75ff00"/>
<path d="M815 241 821 247 825 245 819 240M813 234 819 240 824 239 818 233M925 95 930 101 933 95 928 89" fill="#6cff00"/>
<path d="M833 257 839 262 843 261 837 256M828 237 834 243 838 241 832 236M829 203 835 209 839 207 833 201M953 106 958 111 961 105 956 100M979 102 984 107 987 100 982 96" fill="#52ff00"/>
<path d="M897 305 903 309 907 308 901 304M1035 352 1041 353 1044 351 1038 350M867 251 873 256 877 254 871 249M1167 243 1173 243 1177 238 1170 238M995 144 1001 148 1004 142 999 138M1151 206 1157 206 1160 200 1154 199M1018 144 1023 147 1026 141 1021 137M1031 145 1037 148 1040 141 1035 138" fill="#14ff00"/>
<path d="M908 313 914 316 918 314 912 311M977 345 983 347 987 345 981 344M895 300 901 304 905 302 899 299M888 291 893 295 897 293 892 289M1029 351 1035 352 1038 350 1032 349M871 249 877 254 881 251 875 247M871 232 877 237 881 234 875 229M882 204 888 209 891 206 886 201M907 178 912 183 915 179 910 174M938 161 943 166 946 161 941 156M1164 249 1170 249 1173 243 1167 243M1001 148 1006 152 1009 146 1004 142M1145 205 1151 206 1154 199 1149 198M1137 197 1143 198 1146 191 1140 190M1110 175 1115 177 1119 170 1113 168" fill="#0eff00"/>
<path d="M914 316 920 319 924 318 918 314M1038 350 1044 351 1048 349 1042 348M877 269 882 273 886 271 880 267M875 262 880 267 884 265 879 260M873 256 879 260 883 258 877 254M1085 342 1091 342 1094 339 1088 339M877 218 882 224 886 221 880 215M889 197 895 202 898 199 893 193M893 193 898 199 902 195 896 190M896 190 902 195 905 191 900 186M900 186 905 191 909 187 903 182M922 170 928 175 931 170 926 165M1161 243 1167 243 1170 238 1164 238M967 154 972 159 975 153 970 148M992 150 997 154 1001 148 995 144M1148 212 1154 212 1157 206 1151 206M1072 160 1077 162 1080 156 1075 153M1104 173 1110 175 1113 168 1108 166" fill="#0cff00"/>
<path d="M920 319 925 322 929 321 924 318M901 304 907 308 910 306 905 302M993 347 998 349 1002 347 996 346M886 285 892 289 895 288 890 284M1048 349 1054 350 1057 348 1051 347M1066 346 1072 347 1076 344 1070 343M1097 337 1104 337 1107 334 1101 334M875 229 881 234 884 231 879 226M934 166 940 170 943 166 938 161M1158 237 1164 238 1168 232 1162 232M1150 219 1156 219 1159 213 1154 212M1047 155 1053 158 1056 151 1051 148M1083 165 1088 167 1091 160 1086 158M1088 167 1093 169 1097 162 1091 160M1093 169 1099 171 1102 165 1097 162" fill="#0aff00"/>
<path d="M925 322 931 325 935 324 929 321M960 339 966 341 969 339 964 337M1008 349 1014 350 1017 348 1011 347M884 279 890 284 894 282 888 278M875 247 881 251 884 249 879 244M955 160 960 165 963 160 958 155M1006 152 1011 156 1014 150 1009 146" fill="#08ff00"/>
<path d="M931 325 937 328 941 327 935 324M954 336 960 339 964 337 958 335M907 308 912 311 916 310 910 306M987 345 993 347 996 346 990 344M1088 339 1094 339 1097 337 1091 336M879 226 884 231 888 229 882 224M884 212 890 217 893 214 888 209M915 179 921 184 924 179 919 174M931 170 936 175 940 170 934 166M1020 154 1025 157 1028 151 1023 147M1033 155 1039 158 1042 151 1037 148M1053 158 1058 161 1061 154 1056 151" fill="#07ff00"/>
<path d="M937 328 943 331 946 329 941 327M943 331 948 334 952 332 946 329M948 334 954 336 958 335 952 332M1032 349 1038 350 1042 348 1036 347M882 273 888 278 892 276 886 271M877 254 883 258 886 256 881 251M877 237 883 242 886 239 881 234M1101 334 1107 334 1110 331 1104 330M943 166 948 170 952 165 946 161M1158 249 1164 249 1167 243 1161 243M963 160 969 164 972 159 967 154M997 154 1003 158 1006 152 1001 148M1142 211 1148 212 1151 206 1145 205M1126 194 1131 195 1135 189 1129 188M1112 183 1118 185 1121 178 1115 177" fill="#06ff00"/>
<path d="M966 341 971 343 975 341 969 339M893 295 899 299 903 297 897 293M1023 350 1029 351 1032 349 1026 348M1057 348 1063 348 1066 346 1060 345M880 215 886 221 890 217 884 212M919 174 924 179 928 175 922 170M1161 254 1167 254 1170 249 1164 249M1156 231 1162 232 1165 226 1159 225M1153 225 1159 225 1162 219 1156 219M1139 204 1145 205 1149 198 1143 198M1131 195 1137 197 1140 190 1135 189M1118 185 1123 186 1127 180 1121 178" fill="#09ff00"/>
<path d="M971 343 977 345 981 344 975 341M1076 344 1082 345 1085 342 1079 341M873 239 879 244 883 242 877 237M946 161 952 165 955 160 949 155M975 153 980 157 984 152 978 147M984 152 989 156 992 150 987 146M1014 150 1020 154 1023 147 1018 144M1028 151 1033 155 1037 148 1031 145M1123 186 1129 188 1132 181 1127 180M1077 162 1083 165 1086 158 1080 156M1099 171 1104 173 1108 166 1102 165" fill="#0bff00"/>
<path d="M1037 359 1043 360 1046 359 1040 358M852 188 858 194 861 190 856 185M995 116 1000 121 1003 114 998 110M1173 187 1179 187 1182 180 1176 180" fill="#3bff00"/>
<path d="M1043 360 1049 361 1053 359 1046 359M854 175 859 181 863 178 857 172M898 138 904 143 907 139 902 133M989 112 995 116 998 110 992 105" fill="#42ff00"/>
<path d="M789 210 795 216 799 215 793 209M941 64 946 70 950 63 944 57" fill="#96ff00"/>
<path d="M795 216 801 223 805 221 799 215M946 70 952 76 955 69 950 63" fill="#8bff00"/>
<path d="M884 292 889 296 893 295 888 291M1010 352 1016 353 1020 352 1014 350M880 195 886 201 889 197 884 192M884 192 889 197 893 193 887 188M894 181 900 186 903 182 898 177M1004 142 1009 146 1012 140 1007 136" fill="#16ff00"/>
<path d="M912 311 918 314 922 313 916 310M899 299 905 302 909 301 903 297M892 289 897 293 901 292 895 288M880 267 886 271 890 269 884 265M879 260 884 265 888 263 883 258M1079 341 1085 342 1088 339 1082 339M888 209 893 214 897 211 891 206M912 183 918 188 921 184 915 179M1157 260 1164 260 1167 254 1161 254M989 156 994 160 997 154 992 150M1134 203 1139 204 1143 198 1137 197M1058 161 1063 164 1066 157 1061 154" fill="#05ff00"/>
<path d="M918 314 924 318 927 316 922 313M975 341 981 344 984 342 979 340M905 302 910 306 914 304 909 301M890 284 895 288 899 286 894 282M1091 336 1097 337 1101 334 1094 333M881 234 886 239 890 236 884 231M1104 330 1110 331 1113 327 1107 327M898 199 904 204 907 200 902 195M902 195 907 200 911 196 905 191M940 170 945 175 948 170 943 166M1155 254 1161 254 1164 249 1158 249M1150 231 1156 231 1159 225 1153 225M1025 157 1030 161 1033 155 1028 151M1120 193 1126 194 1129 188 1123 186M1069 166 1074 169 1077 162 1072 160M1096 178 1101 180 1104 173 1099 171" fill="#02ff00"/>
<path d="M924 318 929 321 933 319 927 316M969 339 975 341 979 340 973 338M1011 347 1017 348 1021 346 1015 345M888 278 894 282 897 280 892 276M960 165 965 169 969 164 963 160M1003 158 1008 162 1011 156 1006 152M1114 191 1120 193 1123 186 1118 185M1085 174 1090 176 1093 169 1088 167" fill="#00ff00"/>
<path d="M929 321 935 324 939 322 933 319M964 337 969 339 973 338 967 335M1036 347 1042 348 1045 346 1039 345M886 271 892 276 896 274 890 269M884 265 890 269 894 267 888 263M883 258 888 263 892 260 886 256M1082 339 1088 339 1091 336 1085 336M1152 249 1158 249 1161 243 1155 243M994 160 1000 164 1003 158 997 154M1139 217 1144 218 1148 212 1142 211M1030 161 1036 164 1039 158 1033 155" fill="#00ff01"/>
<path d="M935 324 941 327 944 325 939 322M958 335 964 337 967 335 961 333M910 306 916 310 920 308 914 304M990 344 996 346 1000 344 994 342M1073 341 1079 341 1082 339 1076 338M883 242 888 246 892 244 886 239M1094 333 1101 334 1104 330 1098 330M884 231 890 236 894 233 888 229M1107 327 1113 327 1116 324 1110 324M890 217 895 222 899 219 893 214M921 184 926 189 930 184 924 179M936 175 942 180 945 175 940 170M1151 270 1157 270 1160 265 1154 265M948 170 954 175 957 170 952 165M969 164 974 168 977 163 972 159M977 163 983 167 986 162 980 157M986 162 991 166 994 160 989 156M1016 160 1022 163 1025 157 1020 154M1049 164 1055 167 1058 161 1053 158" fill="#00ff02"/>
<path d="M941 327 946 329 950 328 944 325M946 329 952 332 956 330 950 328M952 332 958 335 961 333 956 330M903 297 909 301 912 299 907 295M895 288 901 292 905 290 899 286M1045 346 1051 347 1054 344 1048 343M1063 343 1070 343 1073 341 1067 340M1151 259 1157 260 1161 254 1155 254M1149 243 1155 243 1158 237 1152 237M1141 224 1147 225 1150 219 1144 218M1130 209 1136 210 1139 204 1134 203M1122 201 1128 202 1131 195 1126 194M1109 190 1114 191 1118 185 1112 183" fill="#00ff03"/>
<path d="M981 344 987 345 990 344 984 342M1002 347 1008 349 1011 347 1005 345M1017 348 1023 350 1026 348 1021 346M1042 348 1048 349 1051 347 1045 346M891 206 897 211 900 207 895 202M909 187 914 192 918 188 912 183M1155 243 1161 243 1164 238 1158 237M972 159 977 163 980 157 975 153M980 157 986 162 989 156 984 152M1144 218 1150 219 1154 212 1148 212M1039 158 1044 161 1047 155 1042 151M1107 182 1112 183 1115 177 1110 175" fill="#04ff00"/>
<path d="M998 349 1004 351 1008 349 1002 347M1014 350 1020 352 1023 350 1017 348M878 275 884 279 888 278 882 273M886 201 891 206 895 202 889 197M903 182 909 187 912 183 907 178M958 155 963 160 967 154 961 149M1042 151 1047 155 1051 148 1045 145M1066 157 1072 160 1075 153 1070 150" fill="#0dff00"/>
<path d="M1053 359 1059 360 1062 358 1056 357M841 255 847 260 851 258 845 253M840 248 845 253 850 252 844 246M861 169 867 175 870 171 865 165M865 165 870 171 874 167 868 161M868 161 874 167 877 164 872 158M872 158 877 164 881 160 875 154M964 116 969 121 972 115 967 110M972 115 977 120 981 114 975 109" fill="#40ff00"/>
<path d="M793 209 799 215 804 214 798 208" fill="#8eff00"/>
<path d="M799 215 805 221 810 220 804 214M943 76 949 82 952 76 946 70" fill="#82ff00"/>
<path d="M916 310 922 313 926 311 920 308M1005 345 1011 347 1015 345 1009 343M1021 346 1026 348 1030 346 1024 344M1054 344 1060 345 1063 343 1058 342M893 214 899 219 902 216 897 211M918 188 923 193 926 189 921 184M1146 237 1152 237 1156 231 1150 231M1144 230 1150 231 1153 225 1147 225M1055 167 1060 170 1063 164 1058 161" fill="#00ff04"/>
<path d="M922 313 927 316 931 314 926 311M979 340 984 342 988 340 982 338M909 301 914 304 918 303 912 299M901 292 907 295 911 293 905 290M1030 346 1036 347 1039 345 1033 343M892 276 897 280 901 278 896 274M888 263 894 267 897 265 892 260M1113 320 1119 321 1122 317 1116 317M1148 265 1154 265 1157 260 1151 259M965 169 971 174 974 168 969 164M1000 164 1005 168 1008 162 1003 158M1125 208 1130 209 1134 203 1128 202M1065 173 1071 175 1074 169 1069 166" fill="#00ff07"/>
<path d="M927 316 933 319 937 317 931 314M973 338 979 340 982 338 977 336M1039 345 1045 346 1048 343 1042 342M1067 340 1073 341 1076 338 1070 337M888 246 894 251 897 248 892 244M1116 317 1122 317 1126 313 1119 313M983 167 988 171 991 166 986 162M1013 166 1019 169 1022 163 1016 160M1111 198 1117 199 1120 193 1114 191M1076 178 1081 180 1085 174 1079 171M1081 180 1087 182 1090 176 1085 174" fill="#00ff09"/>
<path d="M933 319 939 322 942 320 937 317M967 335 973 338 977 336 971 334M914 304 920 308 924 306 918 303M899 286 905 290 909 288 903 284M1048 343 1054 344 1058 342 1052 341M1058 342 1063 343 1067 340 1061 339M1088 333 1094 333 1098 330 1092 330M890 236 895 241 899 238 894 233M1101 327 1107 327 1110 324 1104 324M895 222 901 227 904 224 899 219M926 189 932 194 935 189 930 184M1141 284 1148 284 1151 279 1145 279M942 180 947 185 950 180 945 175M1145 270 1151 270 1154 265 1148 265M954 175 959 180 962 175 957 170M1145 259 1151 259 1155 254 1148 254M1143 242 1149 243 1152 237 1146 237M1140 236 1146 237 1150 231 1144 230M1138 230 1144 230 1147 225 1141 224M1027 167 1032 170 1036 164 1030 161M1046 170 1051 173 1055 167 1049 164" fill="#00ff0a"/>
<path d="M939 322 944 325 948 323 942 320M961 333 967 335 971 334 965 331M994 342 1000 344 1003 342 997 340M907 295 912 299 916 297 911 293M1024 344 1030 346 1033 343 1027 342M1119 313 1126 313 1129 310 1123 309M1138 289 1144 289 1148 284 1141 284M1127 215 1133 216 1136 210 1130 209M1119 207 1125 208 1128 202 1122 201M1106 196 1111 198 1114 191 1109 190" fill="#00ff0b"/>
<path d="M944 325 950 328 954 326 948 323M950 328 956 330 959 329 954 326M956 330 961 333 965 331 959 329M1009 343 1015 345 1018 343 1012 341M897 280 903 284 907 282 901 278M890 254 896 258 899 255 894 251M899 219 904 224 908 221 902 216M1123 309 1129 310 1132 306 1126 305M1135 293 1141 293 1144 289 1138 289M923 193 928 198 932 194 926 189M962 175 968 179 971 174 965 169M1005 168 1010 172 1013 166 1008 162" fill="#00ff0c"/>
<path d="M984 342 990 344 994 342 988 340M894 282 899 286 903 284 897 280M884 249 890 254 894 251 888 246M1085 336 1091 336 1094 333 1088 333M888 229 894 233 897 230 892 226M1110 324 1116 324 1119 321 1113 320M897 211 902 216 906 212 900 207M914 192 920 197 923 193 918 188M933 180 938 185 942 180 936 175M1148 275 1154 275 1157 270 1151 270M957 170 962 175 965 169 960 165M1008 162 1013 166 1016 160 1011 156M1036 164 1041 167 1044 161 1039 158M1103 188 1109 190 1112 183 1107 182" fill="#00ff05"/>
<path d="M996 346 1002 347 1005 345 1000 344M897 293 903 297 907 295 901 292M1026 348 1032 349 1036 347 1030 346M881 251 886 256 890 254 884 249M886 221 892 226 895 222 890 217M924 179 930 184 933 180 928 175M1154 265 1160 265 1164 260 1157 260M1136 210 1142 211 1145 205 1139 204M1128 202 1134 203 1137 197 1131 195M1044 161 1049 164 1053 158 1047 155M1074 169 1079 171 1083 165 1077 162M1079 171 1085 174 1088 167 1083 165M1090 176 1096 178 1099 171 1093 169" fill="#01ff00"/>
<path d="M1056 357 1062 358 1066 356 1059 356M859 181 865 187 869 184 863 178M884 155 890 161 893 157 888 151M904 143 909 149 913 144 907 139M1008 119 1014 123 1017 116 1012 112" fill="#37ff00"/>
<path d="M1069 358 1075 359 1078 357 1072 356M886 141 891 147 895 142 889 136" fill="#47ff00"/>
<path d="M798 208 804 214 808 213 802 206" fill="#85ff00"/>
<path d="M804 214 810 220 814 219 808 213" fill="#7aff00"/>
<path d="M810 220 816 226 820 224 814 219M810 203 816 209 821 207 815 201" fill="#6fff00"/>
<path d="M880 281 886 285 890 284 884 279M1094 339 1101 340 1104 337 1097 337M873 221 879 226 882 224 877 218M926 165 931 170 934 166 929 160M1023 147 1028 151 1031 145 1026 141M1129 188 1135 189 1138 182 1132 181M1061 154 1066 157 1070 150 1064 147" fill="#0fff00"/>
<path d="M920 308 926 311 929 309 924 306M988 340 994 342 997 340 992 338M896 274 901 278 905 275 899 271M892 260 897 265 901 262 896 258M1079 335 1085 336 1088 333 1082 332M892 244 897 248 901 246 895 241M894 233 899 238 903 235 897 230M1104 324 1110 324 1113 320 1107 320M902 216 908 221 911 217 906 212M1126 305 1132 306 1135 302 1129 301M1129 301 1135 302 1138 297 1132 297M1132 297 1138 297 1141 293 1135 293M920 197 925 202 928 198 923 193M938 185 944 189 947 185 942 180M1142 274 1148 275 1151 270 1145 270M1143 254 1148 254 1152 249 1146 248M1130 222 1135 223 1139 217 1133 216M1032 170 1038 174 1041 167 1036 164M1051 173 1057 176 1060 170 1055 167M1100 194 1106 196 1109 190 1103 188" fill="#00ff0d"/>
<path d="M926 311 931 314 935 313 929 309M912 299 918 303 922 301 916 297M1042 342 1048 343 1052 341 1046 340M1070 337 1076 338 1079 335 1073 335M1107 320 1113 320 1116 317 1110 317M909 209 915 214 918 210 913 205M913 205 918 210 922 206 916 201M1140 248 1146 248 1149 243 1143 242M979 173 985 177 988 171 983 167M988 171 993 175 996 170 991 166M1132 229 1138 230 1141 224 1135 223M1121 214 1127 215 1130 209 1125 208M1095 193 1100 194 1103 188 1098 186" fill="#00ff0f"/>
<path d="M931 314 937 317 940 316 935 313M977 336 982 338 986 336 980 334M903 284 909 288 912 286 907 282M1082 332 1088 333 1092 330 1086 329M895 241 901 246 905 243 899 238M1095 327 1101 327 1104 324 1098 323M1110 317 1116 317 1119 313 1113 313M947 185 952 189 956 184 950 180M959 180 964 184 968 179 962 175M1139 259 1145 259 1148 254 1143 254M1010 172 1015 175 1019 169 1013 166M1024 173 1029 176 1032 170 1027 167M1108 204 1113 205 1117 199 1111 198M1067 182 1073 184 1076 178 1071 175M1073 184 1078 186 1081 180 1076 178M1078 186 1084 189 1087 182 1081 180M1084 189 1089 191 1092 184 1087 182" fill="#00ff11"/>
<path d="M937 317 942 320 946 319 940 316M918 303 924 306 927 304 922 301M911 293 916 297 920 295 914 291M1027 342 1033 343 1036 341 1031 340M896 258 901 262 905 260 899 255M901 227 906 232 910 229 904 224M932 194 937 198 940 194 935 189M1135 284 1141 284 1145 279 1139 279M1139 269 1145 270 1148 265 1142 264M1124 221 1130 222 1133 216 1127 215" fill="#00ff12"/>
<path d="M942 320 948 323 952 321 946 319M948 323 954 326 957 324 952 321M959 329 965 331 969 329 963 327M965 331 971 334 974 332 969 329M1012 341 1018 343 1021 341 1016 339M1036 341 1042 342 1046 340 1040 339M897 248 903 253 907 250 901 246M899 238 905 243 908 240 903 235M1098 323 1104 324 1107 320 1101 320M904 224 910 229 913 225 908 221M1116 309 1123 309 1126 305 1120 305M1129 293 1135 293 1138 289 1132 288M928 198 934 203 937 198 932 194M1137 253 1143 254 1146 248 1140 248M976 178 981 182 985 177 979 173M993 175 998 179 1002 174 996 170M1126 228 1132 229 1135 223 1130 222" fill="#00ff14"/>
<path d="M954 326 959 329 963 327 957 324M924 306 929 309 933 307 927 304M992 338 997 340 1001 338 995 336M909 288 914 291 918 289 912 286M1046 340 1052 341 1055 338 1049 337M1064 337 1070 337 1073 335 1067 334M1086 329 1092 330 1095 327 1089 326M908 221 913 225 917 222 911 217M1120 305 1126 305 1129 301 1123 301M1123 301 1129 301 1132 297 1126 297M1126 297 1132 297 1135 293 1129 293M925 202 930 207 934 203 928 198M944 189 949 194 952 189 947 185M1136 274 1142 274 1145 270 1139 269M956 184 961 189 964 184 959 180M1136 264 1142 264 1145 259 1139 259M1134 247 1140 248 1143 242 1137 242M985 177 990 181 993 175 988 171M1129 235 1135 236 1138 230 1132 229M1015 175 1021 179 1024 173 1019 169M1029 176 1034 180 1038 174 1032 170M1048 180 1054 182 1057 176 1051 173M1097 201 1102 202 1106 196 1100 194" fill="#00ff15"/>
<path d="M971 334 977 336 980 334 974 332M997 340 1003 342 1006 340 1001 338M901 278 907 282 911 279 905 275M899 271 905 275 909 273 903 269M897 265 903 269 907 267 901 262M1073 335 1079 335 1082 332 1076 332M1113 313 1119 313 1123 309 1116 309M1132 288 1138 289 1141 284 1135 284M968 179 973 183 976 178 971 174M1002 174 1007 177 1010 172 1005 168M1116 213 1121 214 1125 208 1119 207M1043 177 1048 180 1051 173 1046 170M1102 202 1108 204 1111 198 1106 196" fill="#00ff13"/>
<path d="M982 338 988 340 992 338 986 336M1003 342 1009 343 1012 341 1006 340M1018 343 1024 344 1027 342 1021 341M1052 341 1058 342 1061 339 1055 338M1061 339 1067 340 1070 337 1064 337M894 251 899 255 903 253 897 248M897 230 903 235 906 232 901 227M935 189 940 194 944 189 938 185M1139 279 1145 279 1148 275 1142 274M1137 242 1143 242 1146 237 1140 236M1135 236 1140 236 1144 230 1138 230M1038 174 1043 177 1046 170 1041 167M1062 179 1067 182 1071 175 1065 173M1089 191 1095 193 1098 186 1092 184" fill="#00ff10"/>
<path d="M1000 344 1005 345 1009 343 1003 342M1015 345 1021 346 1024 344 1018 343M890 269 896 274 899 271 894 267M1076 338 1082 339 1085 336 1079 335M892 226 897 230 901 227 895 222M930 184 935 189 938 185 933 180M1145 279 1151 279 1154 275 1148 275M1146 248 1152 249 1155 243 1149 243M974 168 979 173 983 167 977 163M991 166 996 170 1000 164 994 160M1135 223 1141 224 1144 218 1139 217M1041 167 1046 170 1049 164 1044 161M1071 175 1076 178 1079 171 1074 169M1087 182 1092 184 1096 178 1090 176M1092 184 1098 186 1101 180 1096 178" fill="#00ff08"/>
<path d="M802 206 808 213 812 211 806 205" fill="#7eff00"/>
<path d="M808 213 814 219 818 217 812 211" fill="#72ff00"/>
<path d="M814 219 820 224 824 223 818 217" fill="#68ff00"/>
<path d="M820 224 826 230 830 228 824 223" fill="#5dff00"/>
<path d="M929 309 935 313 939 311 933 307M1006 340 1012 341 1016 339 1010 337M1021 341 1027 342 1031 340 1025 338M907 282 912 286 916 283 911 279M899 255 905 260 908 257 903 253M903 235 908 240 912 237 906 232M1101 320 1107 320 1110 317 1104 316M915 214 920 218 924 215 918 210M918 210 924 215 927 211 922 206M940 194 946 198 949 194 944 189M1133 279 1139 279 1142 274 1136 274M964 184 970 188 973 183 968 179M1007 177 1012 181 1015 175 1010 172M1054 182 1059 185 1062 179 1057 176M1091 199 1097 201 1100 194 1095 193" fill="#00ff17"/>
<path d="M935 313 940 316 944 314 939 311M980 334 986 336 989 334 984 332M922 301 927 304 931 302 925 299M914 291 920 295 924 293 918 289M1031 340 1036 341 1040 339 1034 337M905 275 911 279 914 277 909 273M903 269 909 273 912 271 907 267M906 232 912 237 915 233 910 229M1104 316 1110 317 1113 313 1107 313M1129 284 1135 284 1139 279 1133 279M1133 269 1139 269 1142 264 1136 264M973 183 978 187 981 182 976 178M998 179 1004 183 1007 177 1002 174M1121 227 1126 228 1130 222 1124 221M1021 179 1026 182 1029 176 1024 173M1105 210 1110 212 1113 205 1108 204M1064 188 1070 190 1073 184 1067 182M1070 190 1075 193 1078 186 1073 184M1075 193 1080 195 1084 189 1078 186M1080 195 1086 197 1089 191 1084 189" fill="#00ff19"/>
<path d="M940 316 946 319 950 317 944 314M1001 338 1006 340 1010 337 1004 336M1067 334 1073 335 1076 332 1070 331M937 198 942 203 946 198 940 194M1131 253 1137 253 1140 248 1134 247M981 182 987 186 990 181 985 177M990 181 995 185 998 179 993 175M1123 234 1129 235 1132 229 1126 228M1112 219 1118 220 1121 214 1116 213M1040 183 1045 186 1048 180 1043 177" fill="#00ff1a"/>
<path d="M946 319 952 321 955 319 950 317M952 321 957 324 961 322 955 319M957 324 963 327 967 325 961 322M963 327 969 329 972 327 967 325M969 329 974 332 978 330 972 327M927 304 933 307 937 305 931 302M912 286 918 289 922 287 916 283M1080 328 1086 329 1089 326 1083 325M1110 309 1116 309 1120 305 1114 305M1114 305 1120 305 1123 301 1117 301M1120 297 1126 297 1129 293 1123 292M1123 292 1129 293 1132 288 1126 288M949 194 954 198 958 194 952 189M1130 274 1136 274 1139 269 1133 269M961 189 966 193 970 188 964 184M1130 263 1136 264 1139 259 1133 258M1012 181 1017 184 1021 179 1015 175M1026 182 1031 185 1034 180 1029 176" fill="#00ff1c"/>
<path d="M974 332 980 334 984 332 978 330M1016 339 1021 341 1025 338 1019 337M1040 339 1046 340 1049 337 1043 336M1049 337 1055 338 1058 336 1052 335M1058 336 1064 337 1067 334 1061 333M903 253 908 257 912 254 907 250M905 243 910 247 914 244 908 240M1092 323 1098 323 1101 320 1095 319M910 229 915 233 919 230 913 225M1107 313 1113 313 1116 309 1110 309M934 203 939 207 942 203 937 198M1126 288 1132 288 1135 284 1129 284M1128 247 1134 247 1137 242 1131 241M1126 240 1131 241 1135 236 1129 235M1099 208 1105 210 1108 204 1102 202" fill="#00ff1b"/>
<path d="M986 336 992 338 995 336 989 334M901 262 907 267 910 264 905 260M1076 332 1082 332 1086 329 1080 328M901 246 907 250 910 247 905 243M1089 326 1095 327 1098 323 1092 323M952 189 958 194 961 189 956 184M1133 258 1139 259 1143 254 1137 253M1034 180 1040 183 1043 177 1038 174M1059 185 1064 188 1067 182 1062 179M1086 197 1091 199 1095 193 1089 191" fill="#00ff18"/>
<path d="M818 217 824 223 828 221 822 215" fill="#60ff00"/>
<path d="M905 290 911 293 914 291 909 288M1033 343 1039 345 1042 342 1036 341M894 267 899 271 903 269 897 265M1092 330 1098 330 1101 327 1095 327M906 212 911 217 915 214 909 209M916 201 922 206 925 202 920 197M950 180 956 184 959 180 954 175M1142 264 1148 265 1151 259 1145 259M971 174 976 178 979 173 974 168M996 170 1002 174 1005 168 1000 164M1019 169 1024 173 1027 167 1022 163M1113 205 1119 207 1122 201 1117 199M1057 176 1062 179 1065 173 1060 170" fill="#00ff0e"/>
<path d="M916 297 922 301 925 299 920 295M1055 338 1061 339 1064 337 1058 336M911 217 917 222 920 218 915 214M922 206 927 211 930 207 925 202M1131 241 1137 242 1140 236 1135 236M1118 220 1124 221 1127 215 1121 214M1110 212 1116 213 1119 207 1113 205" fill="#00ff16"/>
<path d="M933 307 939 311 942 309 937 305M1010 337 1016 339 1019 337 1013 335M911 279 916 283 920 281 914 277M909 273 914 277 918 275 912 271M907 267 912 271 916 268 910 264M1070 331 1076 332 1080 328 1074 328M908 240 914 244 917 241 912 237M1095 319 1101 320 1104 316 1098 316M917 222 922 226 926 223 920 218M920 218 926 223 929 219 924 215M924 215 929 219 932 215 927 211M927 211 932 215 936 211 930 207M946 198 951 203 954 198 949 194M1127 279 1133 279 1136 274 1130 274M970 188 975 192 978 187 973 183M1128 258 1133 258 1137 253 1131 253M1004 183 1009 187 1012 181 1007 177M1050 188 1056 191 1059 185 1054 182" fill="#00ff1e"/>
<path d="M939 311 944 314 948 312 942 309M925 299 931 302 935 300 929 297M918 289 924 293 927 291 922 287M1043 336 1049 337 1052 335 1046 333M1052 335 1058 336 1061 333 1055 332M1061 333 1067 334 1070 331 1065 330M912 237 917 241 921 238 915 233M1098 316 1104 316 1107 313 1101 312M1123 283 1129 284 1133 279 1127 279M1125 252 1131 253 1134 247 1128 247M1122 246 1128 247 1131 241 1126 240M1120 239 1126 240 1129 235 1123 234M1109 225 1115 226 1118 220 1112 219M1101 216 1107 217 1110 212 1105 210M1056 191 1061 194 1064 188 1059 185M1083 203 1088 205 1091 199 1086 197" fill="#00ff20"/>
<path d="M944 314 950 317 953 315 948 312M978 330 984 332 987 330 981 327M916 283 922 287 925 285 920 281M1074 328 1080 328 1083 325 1077 325M910 247 916 251 919 248 914 244M1086 322 1092 323 1095 319 1089 319M915 233 921 238 924 234 919 230M1101 312 1107 313 1110 309 1104 308M939 207 945 211 948 207 942 203M1120 288 1126 288 1129 284 1123 283M954 198 960 203 963 198 958 194M1124 273 1130 274 1133 269 1127 268M966 193 972 197 975 192 970 188M1124 263 1130 263 1133 258 1128 258M1009 187 1014 190 1017 184 1012 181M1036 188 1042 191 1045 186 1040 183M1096 214 1101 216 1105 210 1099 208" fill="#00ff22"/>
<path d="M950 317 955 319 959 317 953 315M972 327 978 330 981 327 976 325M931 302 937 305 940 303 935 300M914 277 920 281 923 279 918 275M912 271 918 275 921 272 916 268M910 264 916 268 920 265 914 261M1104 308 1110 309 1114 305 1108 304M1117 292 1123 292 1126 288 1120 288M1112 232 1117 233 1121 227 1115 226M1023 188 1028 191 1031 185 1026 182" fill="#00ff23"/>
<path d="M955 319 961 322 965 320 959 317M961 322 967 325 970 323 965 320M967 325 972 327 976 325 970 323M998 334 1004 336 1008 333 1002 332M924 293 929 297 933 294 927 291M1028 336 1034 337 1037 335 1031 333M1065 330 1070 331 1074 328 1068 327M919 230 924 234 928 231 922 226M1108 304 1114 305 1117 301 1111 300M1111 300 1117 301 1120 297 1114 296M1114 296 1120 297 1123 292 1117 292M936 211 941 216 945 211 939 207M975 192 980 196 983 191 978 187M1122 257 1128 258 1131 253 1125 252M1000 188 1006 192 1009 187 1004 183M1104 223 1109 225 1112 219 1107 217M1042 191 1047 194 1050 188 1045 186M1090 213 1096 214 1099 208 1094 207" fill="#00ff24"/>
<path d="M984 332 989 334 993 332 987 330M1004 336 1010 337 1013 335 1008 333M1019 337 1025 338 1028 336 1022 334M908 257 914 261 918 259 912 254M942 203 948 207 951 203 946 198M1061 194 1066 196 1070 190 1064 188M1066 196 1072 199 1075 193 1070 190M1072 199 1077 201 1080 195 1075 193M1077 201 1083 203 1086 197 1080 195" fill="#00ff21"/>
<path d="M989 334 995 336 998 334 993 332M1034 337 1040 339 1043 336 1037 335M907 250 912 254 916 251 910 247M1083 325 1089 326 1092 323 1086 322M958 194 963 198 966 193 961 189M1127 268 1133 269 1136 264 1130 263M978 187 983 191 987 186 981 182M987 186 992 190 995 185 990 181M995 185 1000 188 1004 183 998 179M1117 233 1123 234 1126 228 1121 227M1017 184 1023 188 1026 182 1021 179M1031 185 1036 188 1040 183 1034 180M1088 205 1094 207 1097 201 1091 199" fill="#00ff1f"/>
<path d="M995 336 1001 338 1004 336 998 334M920 295 925 299 929 297 924 293M1025 338 1031 340 1034 337 1028 336M905 260 910 264 914 261 908 257M913 225 919 230 922 226 917 222M1117 301 1123 301 1126 297 1120 297M930 207 936 211 939 207 934 203M1115 226 1121 227 1124 221 1118 220M1107 217 1112 219 1116 213 1110 212M1045 186 1050 188 1054 182 1048 180M1094 207 1099 208 1102 202 1097 201" fill="#00ff1d"/>
<path d="M828 221 834 227 838 225 832 219" fill="#4fff00"/>
<path d="M937 305 942 309 946 306 940 303M1013 335 1019 337 1022 334 1017 333M1037 335 1043 336 1046 333 1041 332M1055 332 1061 333 1065 330 1059 329M912 254 918 259 921 256 916 251M914 244 919 248 923 245 917 241M1089 319 1095 319 1098 316 1092 315M922 226 928 231 931 227 926 223M926 223 931 227 934 223 929 219M929 219 934 223 938 220 932 215M932 215 938 220 941 216 936 211M951 203 956 207 960 203 954 198M1121 278 1127 279 1130 274 1124 273M963 198 968 202 972 197 966 193M983 191 989 195 992 190 987 186M1119 251 1125 252 1128 247 1122 246M992 190 997 194 1000 188 995 185M1117 245 1122 246 1126 240 1120 239M1114 238 1120 239 1123 234 1117 233" fill="#00ff25"/>
<path d="M942 309 948 312 951 309 946 306M929 297 935 300 938 298 933 294M914 261 920 265 923 263 918 259M917 241 923 245 926 242 921 238M1092 315 1098 316 1101 312 1095 311M948 207 953 211 956 207 951 203M1117 283 1123 283 1127 279 1121 278M1106 230 1112 232 1115 226 1109 225M1098 222 1104 223 1107 217 1101 216M1052 197 1058 200 1061 194 1056 191M1079 209 1085 211 1088 205 1083 203" fill="#00ff27"/>
<path d="M948 312 953 315 957 312 951 309M981 327 987 330 991 327 985 325M1031 333 1037 335 1041 332 1035 331M1080 321 1086 322 1089 319 1083 318M921 238 926 242 930 239 924 234M945 211 950 216 953 211 948 207M1114 287 1120 288 1123 283 1117 283M960 203 965 207 968 202 963 198M1118 273 1124 273 1127 268 1121 268M980 196 985 200 989 195 983 191M997 194 1002 197 1006 192 1000 188M1108 237 1114 238 1117 233 1112 232M1019 193 1025 197 1028 191 1023 188M1093 220 1098 222 1101 216 1096 214" fill="#00ff29"/>
<path d="M953 315 959 317 963 315 957 312M976 325 981 327 985 325 979 323M935 300 940 303 944 301 938 298M927 291 933 294 936 292 931 288M1041 332 1046 333 1050 331 1044 329M1050 331 1055 332 1059 329 1053 328M1059 329 1065 330 1068 327 1062 326M924 234 930 239 933 235 928 231M1099 308 1104 308 1108 304 1102 304M1102 304 1108 304 1111 300 1105 300M1108 296 1114 296 1117 292 1111 291M1111 291 1117 292 1120 288 1114 287M1116 256 1122 257 1125 252 1119 251M989 195 994 199 997 194 992 190M1113 250 1119 251 1122 246 1117 245M1111 244 1117 245 1120 239 1114 238M1100 229 1106 230 1109 225 1104 223" fill="#00ff2a"/>
<path d="M959 317 965 320 968 318 963 315M965 320 970 323 974 320 968 318M970 323 976 325 979 323 974 320M1002 332 1008 333 1011 331 1005 329M1017 333 1022 334 1026 332 1020 330M918 259 923 263 927 260 921 256M919 248 925 253 928 249 923 245M1083 318 1089 319 1092 315 1086 314M928 231 933 235 936 231 931 227M1105 300 1111 300 1114 296 1108 296M938 220 943 224 947 220 941 216M941 216 947 220 950 216 945 211M956 207 962 211 965 207 960 203M1115 277 1121 278 1124 273 1118 273M968 202 974 206 977 201 972 197M1039 197 1044 200 1047 194 1042 191M1087 218 1093 220 1096 214 1090 213" fill="#00ff2b"/>
<path d="M987 330 993 332 996 330 991 327M1008 333 1013 335 1017 333 1011 331M1022 334 1028 336 1031 333 1026 332M920 281 925 285 929 282 923 279M918 275 923 279 927 276 921 272M916 268 921 272 925 269 920 265M1068 327 1074 328 1077 325 1071 324M916 251 921 256 925 253 919 248M1095 311 1101 312 1104 308 1099 308M972 197 977 201 980 196 975 192M1118 262 1124 263 1128 258 1122 257M1006 192 1011 196 1014 190 1009 187M1033 194 1039 197 1042 191 1036 188M1058 200 1063 202 1066 196 1061 194M1063 202 1069 204 1072 199 1066 196M1069 204 1074 207 1077 201 1072 199M1074 207 1079 209 1083 203 1077 201" fill="#00ff28"/>
<path d="M993 332 998 334 1002 332 996 330M922 287 927 291 931 288 925 285M1046 333 1052 335 1055 332 1050 331M1077 325 1083 325 1086 322 1080 321M1121 268 1127 268 1130 263 1124 263M1014 190 1019 193 1023 188 1017 184M1028 191 1033 194 1036 188 1031 185M1047 194 1052 197 1056 191 1050 188M1085 211 1090 213 1094 207 1088 205" fill="#00ff26"/>
<path d="M1051 347 1057 348 1060 345 1054 344M1060 345 1066 346 1070 343 1063 343M1070 343 1076 344 1079 341 1073 341M879 244 884 249 888 246 883 242M882 224 888 229 892 226 886 221M895 202 900 207 904 204 898 199M905 191 911 196 914 192 909 187M928 175 933 180 936 175 931 170M952 165 957 170 960 165 955 160M1152 237 1158 237 1162 232 1156 231M1147 225 1153 225 1156 219 1150 219M1011 156 1016 160 1020 154 1014 150M1063 164 1069 166 1072 160 1066 157M1101 180 1107 182 1110 175 1104 173" fill="#03ff00"/>
<path d="M940 303 946 306 949 304 944 301M925 285 931 288 934 286 929 282M920 265 925 269 929 267 923 263M1071 324 1077 325 1080 321 1074 320M931 227 936 231 940 228 934 223M934 223 940 228 943 224 938 220M1115 267 1121 268 1124 263 1118 262M1011 196 1016 199 1019 193 1014 190M1103 236 1108 237 1112 232 1106 230M1025 197 1030 200 1033 194 1028 191M1044 200 1049 203 1052 197 1047 194" fill="#00ff2c"/>
<path d="M946 306 951 309 955 307 949 304M1011 331 1017 333 1020 330 1014 328M1062 326 1068 327 1071 324 1065 323M921 256 927 260 930 257 925 253M953 211 959 216 962 211 956 207M965 207 970 211 974 206 968 202M985 200 991 204 994 199 989 195M994 199 999 203 1002 197 997 194M1105 243 1111 244 1114 238 1108 237M1049 203 1055 205 1058 200 1052 197M1076 215 1082 216 1085 211 1079 209" fill="#00ff2e"/>
<path d="M951 309 957 312 960 310 955 307M985 325 991 327 994 325 988 323M938 298 944 301 947 298 942 295M923 263 929 267 932 264 927 260M1093 307 1099 308 1102 304 1096 303M1105 291 1111 291 1114 287 1108 286M1097 234 1103 236 1106 230 1100 229" fill="#00ff30"/>
<path d="M957 312 963 315 966 313 960 310M963 315 968 318 972 315 966 313M974 320 979 323 983 320 977 318M979 323 985 325 988 323 983 320M1005 329 1011 331 1014 328 1009 327M1020 330 1026 332 1029 329 1023 328M929 282 934 286 938 283 932 280M927 276 932 280 936 277 931 273M925 269 931 273 934 270 929 267M1065 323 1071 324 1074 320 1068 319M925 253 930 257 934 254 928 249M1077 317 1083 318 1086 314 1080 313M930 239 935 243 938 239 933 235M1096 303 1102 304 1105 300 1099 299M1099 299 1105 300 1108 296 1102 295M1102 295 1108 296 1111 291 1105 291M947 220 952 224 955 220 950 216M962 211 967 215 970 211 965 207M1109 277 1115 277 1118 273 1112 272M974 206 979 210 982 205 977 201M1110 266 1115 267 1118 262 1113 261M1008 201 1013 204 1016 199 1011 196M1035 203 1041 206 1044 200 1039 197M1084 224 1089 226 1093 220 1087 218" fill="#00ff31"/>
<path d="M968 318 974 320 977 318 972 315M944 301 949 304 953 302 947 298M933 235 938 239 942 236 936 231M936 231 942 236 945 232 940 228M940 228 945 232 949 228 943 224M943 224 949 228 952 224 947 220M982 205 988 209 991 204 985 200M999 203 1005 206 1008 201 1002 197M1100 241 1105 243 1108 237 1103 236M1022 202 1027 205 1030 200 1025 197" fill="#00ff32"/>
<path d="M991 327 996 330 1000 327 994 325M931 288 936 292 940 289 934 286M1035 331 1041 332 1044 329 1038 328M1044 329 1050 331 1053 328 1047 326M1053 328 1059 329 1062 326 1056 325M1074 320 1080 321 1083 318 1077 317M926 242 932 246 935 243 930 239M1089 311 1095 311 1099 308 1093 307M950 216 955 220 959 216 953 211M1108 286 1114 287 1117 283 1112 282M1112 272 1118 273 1121 268 1115 267M1110 255 1116 256 1119 251 1113 250M1108 249 1113 250 1117 245 1111 244M1016 199 1022 202 1025 197 1019 193M1030 200 1035 203 1039 197 1033 194M1089 226 1095 227 1098 222 1093 220M1055 205 1060 208 1063 202 1058 200M1060 208 1065 210 1069 204 1063 202M1065 210 1071 212 1074 207 1069 204M1071 212 1076 215 1079 209 1074 207" fill="#00ff2f"/>
<path d="M996 330 1002 332 1005 329 1000 327M933 294 938 298 942 295 936 292M1026 332 1031 333 1035 331 1029 329M923 279 929 282 932 280 927 276M921 272 927 276 931 273 925 269M923 245 928 249 932 246 926 242M1086 314 1092 315 1095 311 1089 311M1112 282 1117 283 1121 278 1115 277M977 201 982 205 985 200 980 196M1113 261 1118 262 1122 257 1116 256M1002 197 1008 201 1011 196 1006 192M1095 227 1100 229 1104 223 1098 222M1082 216 1087 218 1090 213 1085 211" fill="#00ff2d"/>
<path d="M825 205 831 211 835 209 829 203M1197 187 1204 187 1207 180 1201 180" fill="#58ff00"/>
<path d="M949 304 955 307 958 305 953 302M1014 328 1020 330 1023 328 1018 326M934 286 940 289 943 287 938 283M1047 326 1053 328 1056 325 1050 323M1068 319 1074 320 1077 317 1071 316M970 211 976 215 979 210 974 206M1106 271 1112 272 1115 267 1110 266M1046 208 1051 211 1055 205 1049 203M1073 220 1078 222 1082 216 1076 215" fill="#00ff34"/>
<path d="M955 307 960 310 964 308 958 305M988 323 994 325 997 323 992 320M1009 327 1014 328 1018 326 1012 324M1023 328 1029 329 1032 326 1027 325M931 273 936 277 939 274 934 270M1059 321 1065 323 1068 319 1063 318M930 257 936 261 939 257 934 254M935 243 940 247 944 243 938 239M1087 306 1093 307 1096 303 1090 302M1099 290 1105 291 1108 286 1103 286M1103 276 1109 277 1112 272 1106 271M979 210 984 214 988 209 982 205M1104 265 1110 266 1113 261 1107 260M1005 206 1010 209 1013 204 1008 201" fill="#00ff36"/>
<path d="M960 310 966 313 970 310 964 308M966 313 972 315 975 313 970 310M983 320 988 323 992 320 986 318M1032 326 1038 328 1041 325 1036 324M1050 323 1056 325 1059 321 1054 320M1071 316 1077 317 1080 313 1075 312M938 239 944 243 947 240 942 236M1090 302 1096 303 1099 299 1093 298M1093 298 1099 299 1102 295 1096 294M949 228 954 232 957 228 952 224M1096 294 1102 295 1105 291 1099 290M952 224 957 228 961 224 955 220M967 215 972 219 976 215 970 211M988 209 993 212 996 208 991 204M1101 259 1107 260 1110 255 1104 254M996 208 1001 211 1005 206 999 203M1099 253 1104 254 1108 249 1102 248M1096 247 1102 248 1105 243 1100 241M1032 208 1037 211 1041 206 1035 203M1081 229 1086 231 1089 226 1084 224" fill="#00ff37"/>
<path d="M972 315 977 318 981 316 975 313M977 318 983 320 986 318 981 316M947 298 953 302 956 299 951 296M940 289 945 293 949 290 943 287M1041 325 1047 326 1050 323 1045 322M932 264 938 267 941 264 936 261M934 254 939 257 942 254 937 250M942 236 947 240 951 236 945 232M945 232 951 236 954 232 949 228M1018 207 1024 210 1027 205 1022 202M1088 238 1094 240 1097 234 1092 233" fill="#00ff38"/>
<path d="M994 325 1000 327 1003 325 997 323M942 295 947 298 951 296 945 293M932 280 938 283 941 281 936 277M929 267 934 270 938 267 932 264M932 246 937 250 940 247 935 243M1084 310 1089 311 1093 307 1087 306M955 220 961 224 964 220 959 216M1103 286 1108 286 1112 282 1106 281M1013 204 1018 207 1022 202 1016 199M1094 240 1100 241 1103 236 1097 234M1027 205 1032 208 1035 203 1030 200M1086 231 1092 233 1095 227 1089 226M1051 211 1057 213 1060 208 1055 205M1057 213 1062 216 1065 210 1060 208M1062 216 1067 218 1071 212 1065 210M1067 218 1073 220 1076 215 1071 212" fill="#00ff35"/>
<path d="M1000 327 1005 329 1009 327 1003 325M936 292 942 295 945 293 940 289M1029 329 1035 331 1038 328 1032 326M1038 328 1044 329 1047 326 1041 325M1056 325 1062 326 1065 323 1059 321M927 260 932 264 936 261 930 257M928 249 934 254 937 250 932 246M1080 313 1086 314 1089 311 1084 310M959 216 964 220 967 215 962 211M1106 281 1112 282 1115 277 1109 277M1107 260 1113 261 1116 256 1110 255M991 204 996 208 999 203 994 199M1104 254 1110 255 1113 250 1108 249M1102 248 1108 249 1111 244 1105 243M1092 233 1097 234 1100 229 1095 227M1041 206 1046 208 1049 203 1044 200M1078 222 1084 224 1087 218 1082 216" fill="#00ff33"/>
<path d="M886 256 892 260 896 258 890 254M886 239 892 244 895 241 890 236M1098 330 1104 330 1107 327 1101 327M900 207 906 212 909 209 904 204M904 204 909 209 913 205 907 200M907 200 913 205 916 201 911 196M911 196 916 201 920 197 914 192M945 175 950 180 954 175 948 170M1148 254 1155 254 1158 249 1152 249M1133 216 1139 217 1142 211 1136 210M1022 163 1027 167 1030 161 1025 157M1117 199 1122 201 1126 194 1120 193M1060 170 1065 173 1069 166 1063 164M1098 186 1103 188 1107 182 1101 180" fill="#00ff06"/>
<path d="M953 302 958 305 962 302 956 299M997 323 1003 325 1006 322 1001 320M936 277 941 281 945 278 939 274M937 250 942 254 946 251 940 247M1078 309 1084 310 1087 306 1081 305M1097 285 1103 286 1106 281 1100 280M984 214 990 217 993 212 988 209M1010 209 1015 213 1018 207 1013 204M1091 245 1096 247 1100 241 1094 240M1024 210 1029 213 1032 208 1027 205M1083 237 1088 238 1092 233 1086 231M1043 214 1048 216 1051 211 1046 208M1070 226 1075 228 1078 222 1073 220" fill="#00ff3a"/>
<path d="M958 305 964 308 967 305 962 302M945 293 951 296 954 293 949 290M1027 325 1032 326 1036 324 1030 322M1054 320 1059 321 1063 318 1057 317M936 261 941 264 944 261 939 257M1081 305 1087 306 1090 302 1084 301M1094 289 1099 290 1103 286 1097 285M961 224 966 228 969 223 964 220M1098 264 1104 265 1107 260 1101 259M993 212 998 216 1001 211 996 208M1096 258 1101 259 1104 254 1099 253M1001 211 1007 214 1010 209 1005 206M1093 252 1099 253 1102 248 1096 247M1048 216 1053 219 1057 213 1051 211M1053 219 1059 221 1062 216 1057 213M1059 221 1064 223 1067 218 1062 216M1064 223 1070 226 1073 220 1067 218" fill="#00ff3b"/>
<path d="M964 308 970 310 973 308 967 305M992 320 997 323 1001 320 995 318M1012 324 1018 326 1021 323 1015 321M943 287 949 290 952 287 947 284M1036 324 1041 325 1045 322 1039 320M1045 322 1050 323 1054 320 1048 319M1066 315 1071 316 1075 312 1069 311M940 247 946 251 949 247 944 243M1084 301 1090 302 1093 298 1087 297M1087 297 1093 298 1096 294 1090 293M1090 293 1096 294 1099 290 1094 289M957 228 963 232 966 228 961 224M972 219 978 223 981 218 976 215M1097 275 1103 276 1106 271 1101 270M1029 213 1034 216 1037 211 1032 208" fill="#00ff3c"/>
<path d="M970 310 975 313 979 310 973 308M975 313 981 316 984 313 979 310M981 316 986 318 990 315 984 313M986 318 992 320 995 318 990 315M951 296 956 299 960 296 954 293M941 281 947 284 950 281 945 278M939 274 945 278 948 275 943 271M938 267 943 271 946 268 941 264M939 257 944 261 948 258 942 254M944 243 949 247 953 244 947 240M947 240 953 244 956 240 951 236M951 236 956 240 959 236 954 232M954 232 959 236 963 232 957 228M1015 213 1020 216 1024 210 1018 207M1085 244 1091 245 1094 240 1088 238M1077 235 1083 237 1086 231 1081 229" fill="#00ff3d"/>
<path d="M1003 325 1009 327 1012 324 1006 322M1018 326 1023 328 1027 325 1021 323M938 283 943 287 947 284 941 281M934 270 939 274 943 271 938 267M1063 318 1068 319 1071 316 1066 315M1075 312 1080 313 1084 310 1078 309M964 220 969 223 972 219 967 215M1100 280 1106 281 1109 277 1103 276M976 215 981 218 984 214 979 210M1101 270 1106 271 1110 266 1104 265M1037 211 1043 214 1046 208 1041 206M1075 228 1081 229 1084 224 1078 222" fill="#00ff39"/>
<path d="M956 299 962 302 965 299 960 296M949 290 954 293 958 291 952 287M1030 322 1036 324 1039 320 1033 319M1048 319 1054 320 1057 317 1051 316M941 264 946 268 950 265 944 261M942 254 948 258 951 255 946 251M1072 308 1078 309 1081 305 1075 304M1091 284 1097 285 1100 280 1094 279M990 217 995 221 998 216 993 212M1092 263 1098 264 1101 259 1096 258M998 216 1003 219 1007 214 1001 211M1090 257 1096 258 1099 253 1093 252M1020 216 1026 219 1029 213 1024 210M1080 242 1085 244 1088 238 1083 237M1040 219 1045 222 1048 216 1043 214M1066 231 1072 233 1075 228 1070 226" fill="#00ff3f"/>
<path d="M962 302 967 305 971 302 965 299M1001 320 1006 322 1010 319 1004 317M1015 321 1021 323 1024 320 1019 318M1039 320 1045 322 1048 319 1042 317M1060 314 1066 315 1069 311 1063 310M1075 304 1081 305 1084 301 1078 300M1088 288 1094 289 1097 285 1091 284M966 228 971 231 975 227 969 223M978 223 983 226 986 222 981 218M1092 274 1097 275 1101 270 1095 269M1045 222 1050 224 1053 219 1048 216M1061 229 1066 231 1070 226 1064 223" fill="#00ff40"/>
<path d="M967 305 973 308 976 305 971 302M973 308 979 310 982 308 976 305M984 313 990 315 993 313 987 310M990 315 995 318 999 315 993 313M954 293 960 296 963 294 958 291M1024 320 1030 322 1033 319 1028 317M1051 316 1057 317 1060 314 1054 312M944 261 950 265 953 262 948 258M1063 310 1069 311 1072 308 1066 307M949 247 955 251 958 247 953 244M953 244 958 247 961 244 956 240M956 240 961 244 965 240 959 236M959 236 965 240 968 236 963 232M975 227 980 231 983 226 978 223M1089 278 1094 279 1097 275 1092 274M986 222 992 225 995 221 990 217M1089 268 1095 269 1098 264 1092 263M995 221 1000 224 1003 219 998 216M1003 219 1009 223 1012 218 1007 214M1084 255 1090 257 1093 252 1088 250" fill="#00ff42"/>
<path d="M979 310 984 313 987 310 982 308M1010 319 1015 321 1019 318 1013 316M952 287 958 291 961 288 956 284M1033 319 1039 320 1042 317 1036 316M1042 317 1048 319 1051 316 1045 314M1087 262 1092 263 1096 258 1090 257M1031 222 1036 224 1040 219 1034 216M1069 238 1074 240 1077 235 1072 233" fill="#00ff43"/>
<path d="M995 318 1001 320 1004 317 999 315M947 284 952 287 956 284 950 281M945 278 950 281 954 278 948 275M943 271 948 275 952 272 946 268M946 251 951 255 955 251 949 247M1078 300 1084 301 1087 297 1082 296M1082 296 1087 297 1090 293 1085 292M1085 292 1090 293 1094 289 1088 288M963 232 968 236 971 231 966 228M1012 218 1017 221 1020 216 1015 213M1082 249 1088 250 1091 245 1085 244M1026 219 1031 222 1034 216 1029 213M1074 240 1080 242 1083 237 1077 235M1050 224 1056 227 1059 221 1053 219M1056 227 1061 229 1064 223 1059 221" fill="#00ff41"/>
<path d="M1006 322 1012 324 1015 321 1010 319M1021 323 1027 325 1030 322 1024 320M1057 317 1063 318 1066 315 1060 314M1069 311 1075 312 1078 309 1072 308M969 223 975 227 978 223 972 219M1094 279 1100 280 1103 276 1097 275M981 218 986 222 990 217 984 214M1095 269 1101 270 1104 265 1098 264M1007 214 1012 218 1015 213 1010 209M1088 250 1093 252 1096 247 1091 245M1034 216 1040 219 1043 214 1037 211M1072 233 1077 235 1081 229 1075 228" fill="#00ff3e"/>
<path d="M960 296 965 299 969 297 963 294M1004 317 1010 319 1013 316 1007 314M950 281 956 284 959 282 954 278M948 275 954 278 957 275 952 272M946 268 952 272 955 268 950 265M948 258 953 262 957 258 951 255M1066 307 1072 308 1075 304 1070 303M971 231 977 235 980 231 975 227M1085 283 1091 284 1094 279 1089 278M983 226 988 230 992 225 986 222M1086 272 1092 274 1095 269 1089 268M1017 221 1023 224 1026 219 1020 216M1077 247 1082 249 1085 244 1080 242M1036 224 1042 227 1045 222 1040 219M1063 236 1069 238 1072 233 1066 231" fill="#00ff44"/>
<path d="M965 299 971 302 974 300 969 297M1019 318 1024 320 1028 317 1022 315M1054 312 1060 314 1063 310 1057 309M951 255 957 258 960 255 955 251M1070 303 1075 304 1078 300 1073 299M1082 287 1088 288 1091 284 1085 283M1009 223 1014 226 1017 221 1012 218M1079 254 1084 255 1088 250 1082 249M1042 227 1047 229 1050 224 1045 222M1047 229 1052 232 1056 227 1050 224M1058 234 1063 236 1066 231 1061 229" fill="#00ff45"/>
<path d="M971 302 976 305 980 302 974 300M999 315 1004 317 1007 314 1002 312M958 291 963 294 967 291 961 288M1028 317 1033 319 1036 316 1031 314M1036 316 1042 317 1045 314 1040 313M1045 314 1051 316 1054 312 1049 311M950 265 955 268 959 265 953 262M955 251 960 255 963 251 958 247M1073 299 1078 300 1082 296 1076 295M1076 295 1082 296 1085 292 1079 291M965 240 970 243 973 239 968 236M1079 291 1085 292 1088 288 1082 287M968 236 973 239 977 235 971 231M1083 277 1089 278 1092 274 1086 272M992 225 997 229 1000 224 995 221M1084 266 1089 268 1092 263 1087 262M1000 224 1005 227 1009 223 1003 219M1081 260 1087 262 1090 257 1084 255M1023 224 1028 227 1031 222 1026 219M1071 245 1077 247 1080 242 1074 240M1052 232 1058 234 1061 229 1056 227" fill="#00ff46"/>
<path d="M976 305 982 308 985 305 980 302M982 308 987 310 991 307 985 305M987 310 993 313 996 310 991 307M993 313 999 315 1002 312 996 310M1013 316 1019 318 1022 315 1016 313M956 284 961 288 965 285 959 282M952 272 957 275 961 272 955 268M1057 309 1063 310 1066 307 1061 305M958 247 963 251 967 247 961 244M961 244 967 247 970 243 965 240M980 231 985 234 988 230 983 226M1028 227 1033 229 1036 224 1031 222" fill="#00ff47"/>
<path d="M963 294 969 297 972 294 967 291M954 278 959 282 963 278 957 275M1049 311 1054 312 1057 309 1052 307M953 262 959 265 962 262 957 258M1061 305 1066 307 1070 303 1064 301M977 235 982 239 985 234 980 231M1080 281 1085 283 1089 278 1083 277M988 230 994 233 997 229 992 225M1080 271 1086 272 1089 268 1084 266M1014 226 1019 229 1023 224 1017 221M1073 252 1079 254 1082 249 1077 247M1066 243 1071 245 1074 240 1069 238" fill="#00ff48"/>
<path d="M969 297 974 300 978 297 972 294M1007 314 1013 316 1016 313 1011 311M1022 315 1028 317 1031 314 1025 312M1031 314 1036 316 1040 313 1034 311M1040 313 1045 314 1049 311 1043 309M957 258 962 262 965 258 960 255M1064 301 1070 303 1073 299 1067 298M1077 286 1082 287 1085 283 1080 281M997 229 1002 232 1005 227 1000 224M1078 265 1084 266 1087 262 1081 260M1005 227 1011 230 1014 226 1009 223M1076 259 1081 260 1084 255 1079 254M1033 229 1039 232 1042 227 1036 224M1060 241 1066 243 1069 238 1063 236" fill="#00ff49"/>
<path d="M974 300 980 302 983 299 978 297M980 302 985 305 989 302 983 299M996 310 1002 312 1005 309 1000 307M1016 313 1022 315 1025 312 1020 310M959 282 965 285 968 282 963 278M957 275 963 278 966 275 961 272M963 251 969 254 972 251 967 247M967 247 972 251 975 247 970 243M970 243 975 247 979 243 973 239M1075 269 1080 271 1084 266 1078 265M1011 230 1016 233 1019 229 1014 226M1070 257 1076 259 1079 254 1073 252M1025 231 1030 234 1033 229 1028 227" fill="#00ff4b"/>
<path d="M985 305 991 307 994 305 989 302M991 307 996 310 1000 307 994 305M967 291 972 294 976 291 970 288M1025 312 1031 314 1034 311 1028 309M1034 311 1040 313 1043 309 1037 308M1043 309 1049 311 1052 307 1046 306M959 265 964 269 967 265 962 262M1055 304 1061 305 1064 301 1058 300M982 239 987 242 990 238 985 234M1074 280 1080 281 1083 277 1077 275M994 233 999 237 1002 232 997 229M1002 232 1008 235 1011 230 1005 227M1072 263 1078 265 1081 260 1076 259M1062 248 1068 250 1071 245 1066 243" fill="#00ff4c"/>
<path d="M1002 312 1007 314 1011 311 1005 309M961 288 967 291 970 288 965 285M955 268 961 272 964 269 959 265M1052 307 1057 309 1061 305 1055 304M960 255 965 258 969 254 963 251M1067 298 1073 299 1076 295 1070 294M1070 294 1076 295 1079 291 1073 290M1073 290 1079 291 1082 287 1077 286M973 239 979 243 982 239 977 235M985 234 990 238 994 233 988 230M1077 275 1083 277 1086 272 1080 271M1019 229 1025 231 1028 227 1023 224M1068 250 1073 252 1077 247 1071 245M1039 232 1044 234 1047 229 1042 227M1044 234 1049 237 1052 232 1047 229M1049 237 1055 239 1058 234 1052 232M1055 239 1060 241 1063 236 1058 234" fill="#00ff4a"/>
<path d="M972 294 978 297 981 294 976 291M1011 311 1016 313 1020 310 1014 308M965 285 970 288 974 285 968 282M963 278 968 282 972 278 966 275M961 272 966 275 969 272 964 269M962 262 967 265 971 262 965 258M1058 300 1064 301 1067 298 1061 296M979 243 984 246 987 242 982 239M1071 284 1077 286 1080 281 1074 280M1016 233 1021 236 1025 231 1019 229M1065 255 1070 257 1073 252 1068 250M1030 234 1035 237 1039 232 1033 229M1057 246 1062 248 1066 243 1060 241" fill="#00ff4d"/>
<path d="M978 297 983 299 987 296 981 294M1005 309 1011 311 1014 308 1009 306M1020 310 1025 312 1028 309 1023 307M1046 306 1052 307 1055 304 1049 302M965 258 971 262 974 258 969 254M1061 296 1067 298 1070 294 1065 292M1065 292 1070 294 1073 290 1068 288M975 247 981 250 984 246 979 243M1068 288 1073 290 1077 286 1071 284M990 238 996 241 999 237 994 233M1072 274 1077 275 1080 271 1075 269M999 237 1004 240 1008 235 1002 232M1069 268 1075 269 1078 265 1072 263M1008 235 1013 238 1016 233 1011 230M1067 262 1072 263 1076 259 1070 257M1035 237 1041 239 1044 234 1039 232M1041 239 1046 242 1049 237 1044 234M1046 242 1051 244 1055 239 1049 237M1051 244 1057 246 1060 241 1055 239" fill="#00ff4e"/>
<path d="M983 299 989 302 992 299 987 296M989 302 994 305 998 301 992 299M994 305 1000 307 1003 304 998 301M1000 307 1005 309 1009 306 1003 304M970 288 976 291 979 288 974 285M1028 309 1034 311 1037 308 1032 306M1037 308 1043 309 1046 306 1041 304M964 269 969 272 973 268 967 265M1049 302 1055 304 1058 300 1053 299M969 254 974 258 977 254 972 251M972 251 977 254 981 250 975 247M1069 278 1074 280 1077 275 1072 274M1021 236 1027 239 1030 234 1025 231M1059 253 1065 255 1068 250 1062 248" fill="#00ff4f"/>
<path d="M976 291 981 294 984 290 979 288M1009 306 1014 308 1017 305 1012 303M1023 307 1028 309 1032 306 1026 304M1032 306 1037 308 1041 304 1035 302M1041 304 1046 306 1049 302 1044 301M971 262 976 265 979 261 974 258M1053 299 1058 300 1061 296 1056 295M1056 295 1061 296 1065 292 1059 291M1059 291 1065 292 1068 288 1062 287M1062 287 1068 288 1071 284 1065 283M984 246 989 249 993 245 987 242M996 241 1001 244 1004 240 999 237M1066 272 1072 274 1075 269 1069 268M1004 240 1010 243 1013 238 1008 235M1064 266 1069 268 1072 263 1067 262M1032 242 1038 244 1041 239 1035 237M1048 249 1054 251 1057 246 1051 244" fill="#00ff51"/>
<path d="M981 294 987 296 990 293 984 290M987 296 992 299 995 296 990 293M1003 304 1009 306 1012 303 1006 301M974 285 979 288 982 284 977 281M972 278 977 281 980 278 975 275M969 272 975 275 978 272 973 268M1044 301 1049 302 1053 299 1047 297M974 258 979 261 983 257 977 254M977 254 983 257 986 253 981 250M981 250 986 253 989 249 984 246M993 245 998 248 1001 244 996 241M1063 277 1069 278 1072 274 1066 272M1018 241 1024 244 1027 239 1021 236M1056 258 1061 260 1065 255 1059 253M1038 244 1043 247 1046 242 1041 239M1043 247 1048 249 1051 244 1046 242" fill="#00ff52"/>
<path d="M992 299 998 301 1001 298 995 296M998 301 1003 304 1006 301 1001 298M979 288 984 290 988 287 982 284M1017 305 1023 307 1026 304 1021 302M1035 302 1041 304 1044 301 1038 299M973 268 978 272 982 268 976 265M1060 281 1065 283 1069 278 1063 277M1001 244 1006 247 1010 243 1004 240M1061 271 1066 272 1069 268 1064 266M1010 243 1015 246 1018 241 1013 238M1058 264 1064 266 1067 262 1061 260M1024 244 1029 246 1032 242 1027 239M1051 256 1056 258 1059 253 1054 251" fill="#00ff53"/>
<path d="M1014 308 1020 310 1023 307 1017 305M968 282 974 285 977 281 972 278M966 275 972 278 975 275 969 272M967 265 973 268 976 265 971 262M1065 283 1071 284 1074 280 1069 278M987 242 993 245 996 241 990 238M1013 238 1018 241 1021 236 1016 233M1061 260 1067 262 1070 257 1065 255M1027 239 1032 242 1035 237 1030 234M1054 251 1059 253 1062 248 1057 246" fill="#00ff50"/>
<path d="M984 290 990 293 993 290 988 287M990 293 995 296 999 293 993 290M1006 301 1012 303 1015 300 1010 297M1021 302 1026 304 1029 300 1024 298M1038 299 1044 301 1047 297 1041 295M979 261 985 264 988 260 983 257M983 257 988 260 991 257 986 253M986 253 991 257 995 253 989 249M998 248 1003 251 1006 247 1001 244M1057 275 1063 277 1066 272 1061 271M1006 247 1012 250 1015 246 1010 243M1055 269 1061 271 1064 266 1058 264M1015 246 1020 248 1024 244 1018 241M1053 262 1058 264 1061 260 1056 258M1034 249 1040 251 1043 247 1038 244M1040 251 1045 254 1048 249 1043 247" fill="#00ff55"/>
<path d="M995 296 1001 298 1004 295 999 293M1001 298 1006 301 1010 297 1004 295M982 284 988 287 991 284 986 281M980 278 986 281 989 278 984 275M1029 300 1035 302 1038 299 1033 297M978 272 984 275 987 271 982 268M1041 295 1047 297 1050 293 1045 291M995 253 1000 256 1003 251 998 248M1054 279 1060 281 1063 277 1057 275M1020 248 1026 251 1029 246 1024 244M1047 260 1053 262 1056 258 1051 256" fill="#00ff56"/>
<path d="M1012 303 1017 305 1021 302 1015 300M977 281 982 284 986 281 980 278M1026 304 1032 306 1035 302 1029 300M975 275 980 278 984 275 978 272M976 265 982 268 985 264 979 261M1047 297 1053 299 1056 295 1050 293M1050 293 1056 295 1059 291 1053 289M1053 289 1059 291 1062 287 1057 285M1057 285 1062 287 1065 283 1060 281M989 249 995 253 998 248 993 245M1029 246 1034 249 1038 244 1032 242M1045 254 1051 256 1054 251 1048 249" fill="#00ff54"/>
<path d="M850 179 856 185 859 181 854 175M882 145 888 151 891 147 886 141" fill="#44ff00"/>
<path d="M988 287 993 290 997 287 991 284M1015 300 1021 302 1024 298 1018 296M1024 298 1029 300 1033 297 1027 295M1033 297 1038 299 1041 295 1036 293M982 268 987 271 990 267 985 264M985 264 990 267 993 264 988 260M1045 291 1050 293 1053 289 1048 287M988 260 993 264 997 260 991 257M1048 287 1053 289 1057 285 1051 283M991 257 997 260 1000 256 995 253M1051 283 1057 285 1060 281 1054 279M1003 251 1009 254 1012 250 1006 247M1052 273 1057 275 1061 271 1055 269M1012 250 1017 253 1020 248 1015 246M1050 267 1055 269 1058 264 1053 262M1026 251 1031 253 1034 249 1029 246M1031 253 1037 256 1040 251 1034 249M1037 256 1042 258 1045 254 1040 251M1042 258 1047 260 1051 256 1045 254" fill="#00ff57"/>
<path d="M993 290 999 293 1002 289 997 287M999 293 1004 295 1007 292 1002 289M1004 295 1010 297 1013 294 1007 292M1010 297 1015 300 1018 296 1013 294M986 281 991 284 994 280 989 278M984 275 989 278 992 274 987 271M1036 293 1041 295 1045 291 1039 289M1000 256 1005 258 1009 254 1003 251M1049 277 1054 279 1057 275 1052 273M1017 253 1023 255 1026 251 1020 248M1044 265 1050 267 1053 262 1047 260" fill="#00ff58"/>
<path d="M991 284 997 287 1000 283 994 280M1018 296 1024 298 1027 295 1022 293M989 278 994 280 998 277 992 274M1027 295 1033 297 1036 293 1030 291M987 271 992 274 996 270 990 267M990 267 996 270 999 266 993 264M1039 289 1045 291 1048 287 1042 286M993 264 999 266 1002 262 997 260M1042 286 1048 287 1051 283 1046 282M997 260 1002 262 1005 258 1000 256M1046 282 1051 283 1054 279 1049 277M1009 254 1014 257 1017 253 1012 250M1046 271 1052 273 1055 269 1050 267M1023 255 1028 258 1031 253 1026 251M1028 258 1033 260 1037 256 1031 253M1033 260 1039 263 1042 258 1037 256M1039 263 1044 265 1047 260 1042 258" fill="#00ff59"/>
<path d="M997 287 1002 289 1005 286 1000 283M1002 289 1007 292 1011 288 1005 286M1007 292 1013 294 1016 290 1011 288M1013 294 1018 296 1022 293 1016 290M1022 293 1027 295 1030 291 1025 289M992 274 998 277 1001 273 996 270M1030 291 1036 293 1039 289 1034 287M1040 280 1046 282 1049 277 1043 275M1005 258 1011 261 1014 257 1009 254M1043 275 1049 277 1052 273 1046 271M1014 257 1019 260 1023 255 1017 253M1041 269 1046 271 1050 267 1044 265" fill="#00ff5a"/>
<path d="M994 280 1000 283 1003 279 998 277M1000 283 1005 286 1009 282 1003 279M1016 290 1022 293 1025 289 1019 287M1025 289 1030 291 1034 287 1028 285M996 270 1001 273 1004 269 999 266M1034 287 1039 289 1042 286 1037 284M999 266 1004 269 1007 265 1002 262M1037 284 1042 286 1046 282 1040 280M1002 262 1007 265 1011 261 1005 258M1011 261 1016 264 1019 260 1014 257M1038 273 1043 275 1046 271 1041 269M1019 260 1025 262 1028 258 1023 255M1025 262 1030 265 1033 260 1028 258M1030 265 1036 267 1039 263 1033 260M1036 267 1041 269 1044 265 1039 263" fill="#00ff5b"/>
<path d="M1005 286 1011 288 1014 285 1009 282M1011 288 1016 290 1019 287 1014 285M998 277 1003 279 1006 276 1001 273M1003 279 1009 282 1012 278 1006 276M1019 287 1025 289 1028 285 1023 283M1001 273 1006 276 1010 272 1004 269M1028 285 1034 287 1037 284 1031 281M1004 269 1010 272 1013 268 1007 265M1031 281 1037 284 1040 280 1035 277M1007 265 1013 268 1016 264 1011 261M1035 277 1040 280 1043 275 1038 273M1016 264 1021 266 1025 262 1019 260M1021 266 1027 269 1030 265 1025 262M1027 269 1032 271 1036 267 1030 265M1032 271 1038 273 1041 269 1036 267" fill="#00ff5c"/>
<path d="M1009 282 1014 285 1017 281 1012 278M1014 285 1019 287 1023 283 1017 281M1006 276 1012 278 1015 274 1010 272M1012 278 1017 281 1020 277 1015 274M1017 281 1023 283 1026 279 1020 277M1023 283 1028 285 1031 281 1026 279M1010 272 1015 274 1018 271 1013 268M1015 274 1020 277 1024 273 1018 271M1020 277 1026 279 1029 275 1024 273M1026 279 1031 281 1035 277 1029 275M1013 268 1018 271 1021 266 1016 264M1018 271 1024 273 1027 269 1021 266M1024 273 1029 275 1032 271 1027 269M1029 275 1035 277 1038 273 1032 271" fill="#00ff5d"/>
<path d="M920 160 926 165 929 160 923 155M1170 238 1177 238 1180 232 1174 232M973 143 978 147 982 141 976 137M982 141 987 146 990 140 985 135M1012 140 1018 144 1021 137 1016 133M1026 141 1031 145 1035 138 1029 134" fill="#19ff00"/>
<path d="M913 101 918 107 921 101 916 95" fill="#6aff00"/>
<path d="M938 70 943 76 946 70 941 64" fill="#8dff00"/>
<path d="M939 51 944 57 947 50 942 44" fill="#abff00"/>
<path d="M944 57 950 63 953 56 947 50" fill="#a0ff00"/>
<path d="M760.1 214 769.2 213.4 778 212.3 786.5 210.7 794.8 208.6 802.9 206 810.7 202.9 818.4 199.4 825.9 195.4 833.2 190.9 840.4 186 847.4 180.7 854.3 174.9 861 168.6 867.7 161.9 874.2 154.8 880.7 147.2 887.1 139.1 893.4 130.5 899.6 121.5 905.8 112 911.9 101.9 918 91.4 924 80.3 930.1 68.7 936.1 56.6 942 43.9M763.9 217.8 772.9 217.2 781.7 216 790.2 214.4 798.4 212.2 806.5 209.6 814.3 206.5 821.9 203 829.4 199 836.6 194.5 843.8 189.6 850.8 184.2 857.6 178.4 864.4 172.2 871 165.5 877.5 158.3 884 150.7 890.3 142.6 896.6 134 902.8 125 909 115.5 915.1 105.5 921.2 95 927.2 83.9 933.3 72.3 939.3 60.2 945.2 47.5M767.7 221.5 776.7 220.9 785.4 219.7 793.8 218 802 215.8 810 213.2 817.8 210.1 825.4 206.5 832.8 202.5 840.1 198 847.2 193.1 854.1 187.7 861 181.9 867.7 175.6 874.3 168.9 880.8 161.8 887.3 154.1 893.6 146.1 899.9 137.5 906.1 128.5 912.2 119 918.3 109 924.4 98.5 930.4 87.4 936.5 75.9 942.4 63.8 948.4 51.1M771.4 225.2 780.4 224.5 789 223.3 797.4 221.6 805.6 219.4 813.6 216.7 821.3 213.6 828.9 210 836.3 206 843.5 201.5 850.6 196.5 857.5 191.2 864.3 185.3 871 179.1 877.6 172.4 884.1 165.2 890.5 157.6 896.8 149.5 903.1 140.9 909.3 131.9 915.4 122.4 921.5 112.4 927.6 101.9 933.6 90.9 939.6 79.4 945.6 67.3 951.6 54.6M775.2 228.8 784.1 228.1 792.7 226.8 801 225.1 809.2 222.9 817.1 220.2 824.8 217 832.3 213.4 839.7 209.4 846.9 204.9 853.9 199.9 860.9 194.5 867.7 188.7 874.3 182.4 880.9 175.7 887.4 168.5 893.8 160.9 900.1 152.8 906.3 144.3 912.5 135.3 918.6 125.8 924.7 115.8 930.8 105.3 936.8 94.3 942.8 82.8 948.8 70.7 954.8 58.1M778.9 232.4 787.7 231.6 796.3 230.3 804.6 228.6 812.7 226.3 820.6 223.6 828.3 220.4 835.8 216.8 843.1 212.7 850.3 208.2 857.3 203.3 864.2 197.9 871 192 877.6 185.8 884.2 179 890.6 171.9 897 164.2 903.3 156.2 909.5 147.6 915.7 138.6 921.8 129.1 927.9 119.1 934 108.7 940 97.7 946 86.2 952 74.1 957.9 61.5M782.6 235.9 791.4 235.1 799.9 233.8 808.2 232 816.3 229.7 824.1 227 831.7 223.8 839.2 220.1 846.5 216.1 853.7 211.5 860.7 206.6 867.5 201.2 874.3 195.3 880.9 189 887.4 182.3 893.9 175.1 900.2 167.5 906.5 159.4 912.8 150.9 918.9 141.9 925 132.4 931.1 122.4 937.1 111.9 943.1 101 949.1 89.5 955.1 77.4 961.1 64.8M786.3 239.4 795 238.5 803.5 237.2 811.8 235.4 819.8 233.1 827.6 230.3 835.2 227.1 842.6 223.4 849.9 219.3 857 214.8 864 209.8 870.8 204.4 877.6 198.5 884.2 192.2 890.7 185.5 897.1 178.3 903.5 170.7 909.7 162.6 916 154.1 922.1 145.1 928.2 135.6 934.3 125.6 940.3 115.2 946.3 104.2 952.3 92.7 958.3 80.7 964.2 68.1M790 242.8 798.7 241.9 807.1 240.5 815.3 238.7 823.3 236.3 831.1 233.6 838.6 230.3 846 226.7 853.3 222.5 860.4 218 867.3 213 874.2 207.6 880.9 201.7 887.5 195.4 894 188.7 900.4 181.5 906.7 173.8 912.9 165.8 919.1 157.2 925.3 148.2 931.4 138.8 937.4 128.8 943.5 118.4 949.5 107.4 955.4 95.9 961.4 83.9 967.4 71.4M793.6 246.1 802.3 245.2 810.7 243.8 818.8 241.9 826.8 239.6 834.5 236.8 842.1 233.5 849.4 229.8 856.7 225.7 863.7 221.1 870.6 216.1 877.4 210.7 884.1 204.8 890.7 198.5 897.2 191.8 903.6 184.6 909.9 177 916.1 168.9 922.3 160.3 928.5 151.4 934.5 141.9 940.6 131.9 946.6 121.5 952.6 110.6 958.6 99.1 964.5 87.1 970.5 74.6M797.3 249.4 805.9 248.5 814.2 247 822.4 245.1 830.3 242.8 838 239.9 845.5 236.7 852.8 233 860 228.8 867.1 224.2 874 219.2 880.7 213.8 887.4 207.9 894 201.6 900.4 194.8 906.8 187.6 913.1 180 919.3 171.9 925.5 163.4 931.6 154.4 937.7 144.9 943.7 135 949.7 124.6 955.7 113.6 961.7 102.2 967.7 90.2 973.6 77.7M800.9 252.7 809.5 251.7 817.8 250.2 825.9 248.3 833.7 245.9 841.4 243.1 848.9 239.8 856.2 236 863.4 231.9 870.4 227.3 877.3 222.2 884 216.8 890.7 210.9 897.2 204.6 903.6 197.8 910 190.6 916.3 183 922.5 174.9 928.7 166.4 934.8 157.4 940.8 148 946.9 138 952.9 127.6 958.9 116.7 964.8 105.2 970.8 93.3 976.8 80.8M804.5 255.8 813 254.8 821.3 253.4 829.4 251.4 837.2 249 844.8 246.1 852.3 242.8 859.6 239.1 866.7 234.9 873.7 230.3 880.6 225.2 887.3 219.8 893.9 213.9 900.4 207.5 906.9 200.8 913.2 193.6 919.5 186 925.7 177.9 931.8 169.4 937.9 160.4 944 150.9 950 141 956 130.6 962 119.7 968 108.2 973.9 96.3 979.9 83.8M808.1 259 816.6 258 824.8 256.4 832.8 254.5 840.6 252 848.3 249.1 855.7 245.8 862.9 242.1 870 237.9 877 233.2 883.8 228.2 890.5 222.7 897.1 216.8 903.7 210.5 910.1 203.7 916.4 196.5 922.7 188.9 928.8 180.8 935 172.3 941.1 163.3 947.1 153.8 953.1 143.9 959.1 133.5 965.1 122.6 971.1 111.2 977 99.2 983 86.8M811.7 262.1 820.1 261 828.3 259.5 836.3 257.5 844.1 255 851.7 252.1 859.1 248.8 866.3 245 873.4 240.8 880.3 236.1 887.1 231.1 893.8 225.6 900.4 219.7 906.9 213.3 913.3 206.6 919.6 199.4 925.8 191.7 932 183.7 938.1 175.1 944.2 166.2 950.3 156.7 956.3 146.8 962.3 136.4 968.2 125.5 974.2 114.1 980.1 102.2 986.1 89.7M815.3 265.1 823.7 264 831.8 262.5 839.8 260.4 847.5 258 855.1 255 862.4 251.7 869.6 247.9 876.7 243.6 883.6 239 890.4 233.9 897 228.4 903.6 222.5 910.1 216.2 916.5 209.4 922.8 202.2 929 194.5 935.2 186.5 941.3 177.9 947.4 169 953.4 159.5 959.4 149.6 965.4 139.2 971.3 128.3 977.3 116.9 983.3 105 989.2 92.6M818.8 268.1 827.2 267 835.3 265.4 843.2 263.3 850.9 260.8 858.4 257.9 865.8 254.5 873 250.7 880 246.5 886.9 241.8 893.6 236.7 900.3 231.2 906.8 225.3 913.3 218.9 919.6 212.2 925.9 204.9 932.2 197.3 938.3 189.2 944.4 180.7 950.5 171.7 956.5 162.3 962.5 152.4 968.5 142 974.4 131.1 980.4 119.7 986.4 107.8 992.3 95.4M822.4 271 830.7 269.9 838.8 268.3 846.7 266.2 854.3 263.7 861.8 260.7 869.1 257.3 876.3 253.5 883.3 249.2 890.1 244.6 896.9 239.5 903.5 234 910 228 916.5 221.7 922.8 214.9 929.1 207.7 935.3 200 941.5 191.9 947.5 183.4 953.6 174.4 959.6 165 965.6 155.1 971.6 144.7 977.5 133.9 983.5 122.5 989.5 110.6 995.4 98.1M825.9 273.9 834.2 272.8 842.3 271.1 850.1 269 857.7 266.5 865.2 263.5 872.5 260.1 879.6 256.2 886.6 252 893.4 247.3 900.1 242.2 906.7 236.7 913.3 230.7 919.7 224.3 926 217.6 932.3 210.3 938.5 202.7 944.6 194.6 950.7 186.1 956.7 177.1 962.7 167.7 968.7 157.8 974.7 147.4 980.6 136.5 986.6 125.2 992.6 113.3 998.5 100.9M829.5 276.8 837.7 275.6 845.7 273.9 853.5 271.8 861.1 269.2 868.6 266.2 875.8 262.8 882.9 258.9 889.9 254.7 896.7 250 903.4 244.8 910 239.3 916.5 233.3 922.9 227 929.2 220.2 935.4 213 941.6 205.3 947.7 197.2 953.8 188.7 959.8 179.7 965.8 170.3 971.8 160.4 977.8 150 983.7 139.2 989.7 127.8 995.6 115.9 1001.6 103.5M833 279.6 841.2 278.3 849.2 276.7 856.9 274.5 864.5 271.9 871.9 268.9 879.1 265.5 886.2 261.6 893.1 257.3 899.9 252.6 906.6 247.5 913.2 241.9 919.7 235.9 926 229.6 932.3 222.8 938.6 215.5 944.7 207.9 950.9 199.8 956.9 191.3 963 182.3 969 172.9 974.9 163 980.9 152.6 986.8 141.8 992.8 130.4 998.7 118.5 1004.7 106.1M836.5 282.3 844.7 281.1 852.6 279.4 860.4 277.2 867.9 274.6 875.3 271.6 882.5 268.1 889.5 264.2 896.4 259.9 903.2 255.2 909.8 250 916.4 244.5 922.8 238.5 929.2 232.1 935.5 225.3 941.7 218.1 947.9 210.4 954 202.3 960 193.8 966.1 184.8 972.1 175.4 978 165.5 984 155.2 989.9 144.3 995.9 133 1001.8 121.1 1007.8 108.7M840 285 848.2 283.7 856.1 282 863.8 279.8 871.3 277.2 878.6 274.1 885.8 270.7 892.8 266.8 899.7 262.4 906.4 257.7 913.1 252.5 919.6 247 926 241 932.4 234.6 938.7 227.8 944.9 220.6 951 212.9 957.1 204.8 963.2 196.3 969.2 187.3 975.2 177.9 981.1 168 987.1 157.7 993 146.8 999 135.5 1004.9 123.6 1010.9 111.2M843.5 287.7 851.6 286.4 859.5 284.6 867.2 282.4 874.6 279.8 881.9 276.7 889.1 273.2 896.1 269.3 902.9 264.9 909.7 260.2 916.3 255 922.8 249.5 929.2 243.5 935.5 237.1 941.8 230.3 948 223 954.1 215.4 960.2 207.3 966.3 198.7 972.3 189.8 978.3 180.4 984.2 170.5 990.2 160.1 996.1 149.3 1002 137.9 1008 126.1 1014 113.7M847 290.3 855.1 288.9 862.9 287.2 870.5 285 878 282.3 885.3 279.2 892.4 275.7 899.3 271.7 906.2 267.4 912.9 262.6 919.5 257.5 926 251.9 932.4 245.9 938.7 239.5 945 232.7 951.1 225.4 957.3 217.8 963.3 209.7 969.4 201.1 975.4 192.2 981.3 182.7 987.3 172.9 993.2 162.5 999.2 151.7 1005.1 140.3 1011.1 128.5 1017.1 116.1M850.5 292.8 858.5 291.5 866.3 289.7 873.9 287.4 881.3 284.8 888.6 281.7 895.7 278.1 902.6 274.2 909.4 269.8 916.1 265 922.7 259.9 929.2 254.3 935.6 248.3 941.9 241.9 948.1 235 954.3 227.8 960.4 220.1 966.5 212 972.5 203.5 978.5 194.5 984.4 185.1 990.4 175.2 996.3 164.9 1002.3 154 1008.2 142.7 1014.2 130.9 1020.1 118.5M854 295.3 862 294 869.7 292.2 877.3 289.9 884.7 287.2 891.9 284.1 899 280.5 905.9 276.6 912.7 272.2 919.3 267.4 925.9 262.2 932.4 256.6 938.7 250.6 945 244.2 951.3 237.3 957.4 230.1 963.5 222.4 969.6 214.3 975.6 205.8 981.6 196.8 987.5 187.4 993.5 177.5 999.4 167.2 1005.4 156.3 1011.3 145 1017.3 133.2 1023.2 120.8M857.4 297.8 865.4 296.4 873.1 294.6 880.7 292.3 888 289.6 895.2 286.4 902.3 282.9 909.2 278.9 915.9 274.5 922.6 269.7 929.1 264.5 935.6 258.9 941.9 252.9 948.2 246.5 954.4 239.6 960.5 232.4 966.6 224.7 972.7 216.6 978.7 208.1 984.7 199.1 990.6 189.7 996.6 179.8 1002.5 169.4 1008.4 158.6 1014.4 147.3 1020.3 135.5 1026.3 123.1M860.9 300.2 868.8 298.8 876.5 297 884 294.7 891.4 291.9 898.5 288.8 905.5 285.2 912.4 281.2 919.2 276.8 925.8 272 932.3 266.8 938.7 261.2 945.1 255.1 951.3 248.7 957.5 241.8 963.7 234.6 969.8 226.9 975.8 218.8 981.8 210.3 987.8 201.3 993.7 191.9 999.7 182 1005.6 171.7 1011.5 160.8 1017.5 149.5 1023.4 137.7 1029.4 125.3M864.4 302.6 872.3 301.2 879.9 299.3 887.4 297 894.7 294.2 901.8 291.1 908.8 287.5 915.7 283.5 922.4 279 929 274.2 935.5 269 941.9 263.4 948.2 257.3 954.5 250.9 960.7 244 966.8 236.8 972.9 229.1 978.9 221 984.9 212.4 990.9 203.5 996.8 194 1002.7 184.2 1008.7 173.8 1014.6 163 1020.6 151.7 1026.5 139.9 1032.5 127.5M867.8 304.9 875.7 303.5 883.3 301.6 890.8 299.3 898 296.5 905.1 293.3 912.1 289.7 918.9 285.7 925.6 281.2 932.2 276.4 938.7 271.2 945.1 265.5 951.4 259.5 957.6 253 963.8 246.2 969.9 238.9 976 231.2 982 223.1 988 214.6 994 205.6 999.9 196.2 1005.8 186.3 1011.8 176 1017.7 165.1 1023.6 153.8 1029.6 142 1035.6 129.7M871.3 307.2 879.1 305.8 886.7 303.8 894.1 301.5 901.4 298.7 908.4 295.5 915.4 291.9 922.2 287.8 928.9 283.4 935.4 278.6 941.9 273.3 948.3 267.7 954.6 261.6 960.8 255.2 966.9 248.3 973 241 979.1 233.3 985.1 225.2 991.1 216.7 997.1 207.7 1003 198.3 1008.9 188.4 1014.9 178 1020.8 167.2 1026.7 155.9 1032.7 144.1 1038.7 131.8M874.7 309.5 882.5 308 890.1 306.1 897.5 303.7 904.7 300.9 911.7 297.6 918.6 294 925.4 290 932.1 285.5 938.6 280.7 945.1 275.4 951.4 269.7 957.7 263.7 963.9 257.2 970.1 250.3 976.2 243.1 982.2 235.4 988.2 227.2 994.2 218.7 1000.2 209.7 1006.1 200.3 1012 190.4 1017.9 180.1 1023.9 169.3 1029.8 158 1035.8 146.1 1041.8 133.8M878.2 311.7 885.9 310.2 893.4 308.2 900.8 305.8 908 303 915 299.8 921.9 296.1 928.7 292.1 935.3 287.6 941.8 282.7 948.3 277.5 954.6 271.8 960.9 265.7 967.1 259.2 973.2 252.4 979.3 245.1 985.3 237.4 991.3 229.3 997.3 220.7 1003.2 211.7 1009.2 202.3 1015.1 192.4 1021 182.1 1027 171.3 1032.9 160 1038.9 148.1 1044.9 135.8M881.6 313.9 889.3 312.3 896.8 310.3 904.2 307.9 911.3 305.1 918.3 301.8 925.2 298.2 931.9 294.1 938.5 289.6 945.1 284.7 951.5 279.5 957.8 273.8 964 267.7 970.2 261.2 976.4 254.3 982.4 247.1 988.5 239.3 994.4 231.2 1000.4 222.7 1006.3 213.7 1012.3 204.2 1018.2 194.4 1024.1 184 1030.1 173.2 1036 161.9 1042 150.1 1048 137.8M885 316 892.7 314.4 900.2 312.4 907.5 310 914.6 307.1 921.6 303.9 928.5 300.2 935.2 296.1 941.8 291.6 948.3 286.7 954.7 281.4 961 275.7 967.2 269.7 973.4 263.2 979.5 256.3 985.6 249 991.6 241.3 997.6 233.1 1003.5 224.6 1009.4 215.6 1015.4 206.2 1021.3 196.3 1027.2 185.9 1033.1 175.1 1039.1 163.8 1045.1 152 1051.1 139.7M888.5 318 896.1 316.5 903.6 314.5 910.8 312 917.9 309.1 924.9 305.9 931.7 302.2 938.4 298.1 945 293.6 951.5 288.7 957.8 283.4 964.1 277.7 970.4 271.6 976.5 265.1 982.6 258.2 988.7 250.9 994.7 243.2 1000.7 235 1006.6 226.5 1012.5 217.5 1018.5 208 1024.4 198.1 1030.3 187.8 1036.2 177 1042.2 165.7 1048.2 153.9 1054.2 141.6M891.9 320.1 899.5 318.5 906.9 316.4 914.2 314 921.3 311.1 928.2 307.8 935 304.1 941.7 300 948.2 295.5 954.7 290.6 961 285.2 967.3 279.5 973.5 273.4 979.7 266.9 985.8 260 991.8 252.7 997.8 245 1003.8 236.9 1009.7 228.3 1015.7 219.3 1021.6 209.9 1027.5 200 1033.4 189.6 1039.3 178.8 1045.3 167.5 1051.3 155.7 1057.3 143.4M895.3 322.1 902.9 320.4 910.3 318.4 917.5 315.9 924.6 313 931.5 309.7 938.3 306 944.9 301.9 951.4 297.3 957.9 292.4 964.2 287.1 970.5 281.4 976.7 275.3 982.8 268.8 988.9 261.8 994.9 254.5 1000.9 246.8 1006.9 238.6 1012.8 230.1 1018.8 221.1 1024.7 211.6 1030.6 201.7 1036.5 191.4 1042.4 180.6 1048.4 169.3 1054.4 157.5 1060.4 145.2M898.8 324 906.3 322.4 913.7 320.3 920.9 317.8 927.9 314.9 934.8 311.6 941.5 307.8 948.1 303.7 954.7 299.2 961.1 294.2 967.4 288.9 973.7 283.2 979.9 277.1 986 270.5 992.1 263.6 998.1 256.3 1004.1 248.6 1010 240.4 1016 231.8 1021.9 222.8 1027.8 213.4 1033.7 203.5 1039.6 193.1 1045.6 182.3 1051.5 171 1057.5 159.2 1063.5 146.9M902.2 325.9 909.7 324.3 917 322.2 924.2 319.7 931.2 316.7 938.1 313.4 944.8 309.6 951.4 305.5 957.9 301 964.3 296 970.6 290.7 976.9 284.9 983 278.8 989.1 272.3 995.2 265.3 1001.2 258 1007.2 250.3 1013.1 242.1 1019.1 233.5 1025 224.5 1030.9 215.1 1036.8 205.2 1042.7 194.8 1048.7 184 1054.6 172.7 1060.6 160.9 1066.6 148.6M905.6 327.8 913.1 326.1 920.4 324 927.5 321.5 934.5 318.5 941.3 315.2 948.1 311.4 954.6 307.3 961.1 302.7 967.5 297.7 973.8 292.4 980 286.6 986.2 280.5 992.3 274 998.3 267 1004.3 259.7 1010.3 251.9 1016.3 243.8 1022.2 235.2 1028.1 226.2 1034 216.7 1039.9 206.8 1045.8 196.5 1051.8 185.7 1057.7 174.4 1063.7 162.5 1069.8 150.2M909 329.6 916.5 327.9 923.8 325.8 930.9 323.3 937.8 320.3 944.6 316.9 951.3 313.1 957.9 309 964.4 304.4 970.7 299.4 977 294.1 983.2 288.3 989.4 282.2 995.5 275.6 1001.5 268.7 1007.5 261.3 1013.5 253.6 1019.4 245.4 1025.3 236.8 1031.2 227.8 1037.1 218.4 1043 208.5 1049 198.1 1054.9 187.3 1060.9 176 1066.9 164.1 1072.9 151.8M912.5 331.4 919.9 329.7 927.1 327.5 934.2 325 941.1 322 947.9 318.6 954.6 314.8 961.1 310.7 967.6 306.1 973.9 301.1 980.2 295.7 986.4 290 992.5 283.8 998.6 277.3 1004.6 270.3 1010.6 262.9 1016.6 255.2 1022.5 247 1028.4 238.4 1034.3 229.4 1040.3 219.9 1046.2 210 1052.1 199.7 1058 188.8 1064 177.5 1070 165.7 1076 153.4M915.9 333.1 923.3 331.4 930.5 329.2 937.6 326.7 944.5 323.7 951.2 320.3 957.9 316.5 964.4 312.3 970.8 307.7 977.2 302.7 983.4 297.3 989.6 291.6 995.7 285.4 1001.8 278.8 1007.8 271.9 1013.8 264.5 1019.7 256.7 1025.7 248.6 1031.6 240 1037.5 230.9 1043.4 221.5 1049.3 211.6 1055.2 201.2 1061.2 190.3 1067.1 179 1073.1 167.2 1079.2 154.9M919.3 334.8 926.7 333.1 933.9 330.9 940.9 328.3 947.8 325.3 954.5 321.9 961.1 318.1 967.7 313.9 974.1 309.3 980.4 304.3 986.6 298.9 992.8 293.1 998.9 286.9 1005 280.4 1011 273.4 1016.9 266 1022.9 258.3 1028.8 250.1 1034.7 241.5 1040.6 232.4 1046.5 223 1052.4 213 1058.3 202.7 1064.3 191.8 1070.3 180.5 1076.3 168.7 1082.3 156.4M922.8 336.5 930.1 334.7 937.2 332.5 944.2 329.9 951.1 326.9 957.8 323.5 964.4 319.7 970.9 315.4 977.3 310.8 983.6 305.8 989.8 300.4 996 294.6 1002.1 288.4 1008.1 281.9 1014.1 274.9 1020.1 267.5 1026 259.7 1032 251.5 1037.9 242.9 1043.8 233.9 1049.7 224.4 1055.6 214.5 1061.5 204.1 1067.4 193.3 1073.4 181.9 1079.4 170.1 1085.5 157.8M926.2 338.1 933.5 336.3 940.6 334.1 947.6 331.5 954.4 328.5 961.1 325 967.7 321.2 974.2 317 980.5 312.3 986.8 307.3 993.1 301.9 999.2 296.1 1005.3 289.9 1011.3 283.3 1017.3 276.3 1023.3 269 1029.2 261.2 1035.1 253 1041 244.3 1046.9 235.3 1052.8 225.8 1058.7 215.9 1064.6 205.5 1070.6 194.7 1076.6 183.3 1082.6 171.5 1088.7 159.2M929.6 339.7 936.9 337.9 944 335.7 950.9 333 957.7 330 964.4 326.5 971 322.7 977.4 318.4 983.8 313.8 990.1 308.8 996.3 303.4 1002.4 297.5 1008.5 291.3 1014.5 284.7 1020.5 277.8 1026.4 270.4 1032.4 262.6 1038.3 254.4 1044.2 245.7 1050.1 236.7 1056 227.2 1061.9 217.2 1067.8 206.9 1073.7 196 1079.7 184.7 1085.8 172.8 1091.8 160.5M933.1 341.2 940.3 339.4 947.4 337.2 954.3 334.5 961.1 331.5 967.7 328 974.3 324.1 980.7 319.9 987.1 315.2 993.3 310.2 999.5 304.8 1005.6 298.9 1011.7 292.7 1017.7 286.1 1023.7 279.1 1029.6 271.7 1035.5 263.9 1041.4 255.7 1047.3 247.1 1053.2 238 1059.1 228.5 1065 218.6 1071 208.2 1076.9 197.3 1082.9 186 1088.9 174.1 1095 161.8M936.5 342.7 943.7 340.9 950.8 338.6 957.7 336 964.4 332.9 971.1 329.4 977.6 325.6 984 321.3 990.3 316.6 996.6 311.6 1002.7 306.1 1008.8 300.3 1014.9 294.1 1020.9 287.5 1026.9 280.5 1032.8 273 1038.7 265.2 1044.6 257 1050.5 248.4 1056.4 239.3 1062.3 229.8 1068.2 219.8 1074.1 209.5 1080.1 198.6 1086.1 187.2 1092.1 175.4 1098.2 163.1M939.9 344.1 947.1 342.3 954.2 340.1 961 337.4 967.8 334.3 974.4 330.8 980.9 326.9 987.3 322.6 993.6 318 999.8 312.9 1006 307.5 1012.1 301.6 1018.1 295.4 1024.1 288.8 1030 281.7 1036 274.3 1041.9 266.5 1047.8 258.3 1053.7 249.6 1059.6 240.5 1065.5 231 1071.4 221.1 1077.3 210.7 1083.3 199.8 1089.3 188.5 1095.3 176.6 1101.4 164.3M943.4 345.5 950.6 343.7 957.5 341.4 964.4 338.8 971.1 335.7 977.7 332.2 984.2 328.3 990.6 324 996.8 319.3 1003.1 314.2 1009.2 308.8 1015.3 302.9 1021.3 296.7 1027.3 290 1033.3 283 1039.2 275.6 1045.1 267.7 1051 259.5 1056.9 250.8 1062.7 241.8 1068.6 232.2 1074.5 222.3 1080.5 211.9 1086.5 201 1092.5 189.6 1098.5 177.8 1104.6 165.4M946.9 346.9 954 345.1 960.9 342.8 967.8 340.1 974.5 337 981 333.5 987.5 329.6 993.9 325.3 1000.1 320.6 1006.3 315.5 1012.5 310 1018.5 304.1 1024.5 297.9 1030.5 291.3 1036.5 284.2 1042.4 276.8 1048.3 268.9 1054.2 260.7 1060 252 1065.9 242.9 1071.8 233.4 1077.7 223.4 1083.7 213 1089.7 202.1 1095.7 190.8 1101.7 178.9 1107.8 166.5M950.3 348.2 957.4 346.4 964.4 344.1 971.1 341.4 977.8 338.3 984.4 334.7 990.8 330.8 997.1 326.5 1003.4 321.8 1009.6 316.7 1015.7 311.2 1021.8 305.3 1027.8 299.1 1033.7 292.4 1039.7 285.4 1045.6 277.9 1051.5 270.1 1057.4 261.8 1063.2 253.2 1069.1 244.1 1075 234.5 1080.9 224.6 1086.9 214.1 1092.9 203.2 1098.9 191.9 1104.9 180 1111.1 167.6M953.8 349.5 960.8 347.7 967.8 345.4 974.5 342.6 981.2 339.5 987.7 336 994.1 332 1000.5 327.7 1006.7 323 1012.9 317.9 1019 312.4 1025 306.5 1031 300.2 1037 293.6 1042.9 286.5 1048.8 279.1 1054.7 271.2 1060.6 262.9 1066.4 254.3 1072.3 245.2 1078.2 235.6 1084.1 225.6 1090.1 215.2 1096.1 204.3 1102.1 192.9 1108.2 181 1114.3 168.7M957.2 350.8 964.3 348.9 971.2 346.6 977.9 343.8 984.6 340.7 991.1 337.1 997.5 333.2 1003.8 328.9 1010 324.1 1016.1 319 1022.2 313.5 1028.3 307.6 1034.3 301.4 1040.2 294.7 1046.1 287.6 1052 280.2 1057.9 272.3 1063.8 264 1069.7 255.3 1075.5 246.2 1081.4 236.7 1087.4 226.7 1093.3 216.2 1099.3 205.3 1105.3 193.9 1111.4 182 1117.6 169.6M960.7 352 967.7 350.1 974.6 347.8 981.3 345 987.9 341.9 994.4 338.3 1000.8 334.3 1007.1 330 1013.3 325.3 1019.4 320.1 1025.5 314.6 1031.5 308.7 1037.5 302.4 1043.5 295.8 1049.4 288.7 1055.3 281.2 1061.1 273.3 1067 265 1072.9 256.3 1078.8 247.2 1084.7 237.7 1090.6 227.7 1096.5 217.2 1102.5 206.3 1108.6 194.9 1114.7 183 1120.8 170.6M964.2 353.2 971.2 351.2 978 348.9 984.7 346.1 991.3 343 997.8 339.4 1004.1 335.4 1010.4 331.1 1016.6 326.3 1022.7 321.2 1028.8 315.7 1034.8 309.8 1040.8 303.5 1046.7 296.8 1052.6 289.7 1058.5 282.2 1064.4 274.3 1070.3 266 1076.1 257.3 1082 248.2 1087.9 238.6 1093.8 228.6 1099.8 218.1 1105.8 207.2 1111.8 195.8 1117.9 183.9 1124.1 171.5M967.7 354.3 974.7 352.4 981.5 350 988.2 347.2 994.7 344.1 1001.2 340.5 1007.5 336.5 1013.8 332.1 1019.9 327.4 1026 322.2 1032.1 316.7 1038.1 310.8 1044.1 304.5 1050 297.8 1055.9 290.7 1061.8 283.2 1067.6 275.3 1073.5 267 1079.4 258.3 1085.3 249.1 1091.2 239.5 1097.1 229.5 1103 219 1109 208.1 1115.1 196.7 1121.2 184.8 1127.4 172.3M971.2 355.4 978.1 353.4 984.9 351.1 991.6 348.3 998.1 345.1 1004.5 341.5 1010.9 337.5 1017.1 333.1 1023.3 328.4 1029.4 323.2 1035.4 317.7 1041.4 311.7 1047.3 305.4 1053.3 298.7 1059.2 291.6 1065 284.1 1070.9 276.2 1076.8 267.9 1082.6 259.2 1088.5 250 1094.4 240.4 1100.3 230.4 1106.3 219.9 1112.3 209 1118.4 197.5 1124.5 185.6 1130.7 173.2M974.7 356.4 981.6 354.5 988.4 352.1 995 349.3 1001.5 346.1 1007.9 342.5 1014.2 338.5 1020.5 334.1 1026.6 329.3 1032.7 324.2 1038.7 318.6 1044.7 312.7 1050.6 306.3 1056.6 299.6 1062.4 292.5 1068.3 285 1074.2 277.1 1080 268.8 1085.9 260 1091.8 250.9 1097.7 241.3 1103.6 231.2 1109.6 220.7 1115.6 209.8 1121.7 198.3 1127.8 186.4 1134 173.9M978.2 357.4 985.1 355.5 991.9 353.1 998.5 350.3 1004.9 347.1 1011.3 343.5 1017.6 339.4 1023.8 335 1030 330.3 1036 325.1 1042 319.5 1048 313.6 1053.9 307.2 1059.8 300.5 1065.7 293.4 1071.6 285.8 1077.5 277.9 1083.3 269.6 1089.2 260.8 1095.1 251.7 1101 242.1 1106.9 232 1112.9 221.5 1118.9 210.5 1125 199.1 1131.1 187.1 1137.3 174.7M981.8 358.4 988.6 356.4 995.3 354 1001.9 351.2 1008.4 348 1014.7 344.4 1021 340.4 1027.2 335.9 1033.3 331.1 1039.4 326 1045.4 320.4 1051.3 314.4 1057.3 308.1 1063.2 301.3 1069 294.2 1074.9 286.7 1080.7 278.7 1086.6 270.4 1092.5 261.6 1098.4 252.4 1104.3 242.8 1110.2 232.7 1116.2 222.2 1122.2 211.2 1128.3 199.8 1134.4 187.8 1140.6 175.4M985.3 359.3 992.1 357.3 998.8 354.9 1005.4 352.1 1011.8 348.9 1018.2 345.2 1024.4 341.2 1030.6 336.8 1036.7 332 1042.7 326.8 1048.7 321.2 1054.7 315.2 1060.6 308.9 1066.5 302.1 1072.3 295 1078.2 287.4 1084.1 279.5 1089.9 271.1 1095.8 262.3 1101.7 253.2 1107.6 243.5 1113.5 233.4 1119.5 222.9 1125.5 211.9 1131.6 200.4 1137.8 188.5 1144 176M988.9 360.2 995.7 358.2 1002.3 355.8 1008.8 353 1015.3 349.7 1021.6 346.1 1027.8 342 1034 337.6 1040.1 332.8 1046.1 327.6 1052.1 322 1058 316 1063.9 309.6 1069.8 302.9 1075.7 295.7 1081.5 288.2 1087.4 280.2 1093.2 271.8 1099.1 263 1105 253.8 1110.9 244.2 1116.8 234.1 1122.8 223.6 1128.9 212.6 1135 201.1 1141.1 189.1 1147.4 176.6M992.4 361.1 999.2 359.1 1005.8 356.6 1012.3 353.8 1018.7 350.5 1025 346.9 1031.3 342.8 1037.4 338.4 1043.5 333.6 1049.5 328.3 1055.5 322.7 1061.4 316.7 1067.3 310.4 1073.2 303.6 1079 296.4 1084.9 288.8 1090.7 280.9 1096.6 272.5 1102.4 263.7 1108.3 254.5 1114.2 244.8 1120.2 234.7 1126.2 224.2 1132.2 213.2 1138.3 201.6 1144.5 189.7 1150.7 177.1M996 361.9 1002.7 359.9 1009.3 357.4 1015.8 354.6 1022.2 351.3 1028.5 347.6 1034.7 343.6 1040.8 339.1 1046.9 334.3 1052.9 329 1058.8 323.4 1064.8 317.4 1070.6 311 1076.5 304.3 1082.4 297.1 1088.2 289.5 1094 281.5 1099.9 273.1 1105.8 264.3 1111.7 255.1 1117.6 245.4 1123.5 235.3 1129.5 224.7 1135.6 213.7 1141.7 202.2 1147.9 190.2 1154.1 177.7M999.6 362.6 1006.3 360.6 1012.9 358.2 1019.3 355.3 1025.7 352 1032 348.4 1038.1 344.3 1044.3 339.8 1050.3 335 1056.3 329.7 1062.2 324.1 1068.1 318.1 1074 311.7 1079.9 304.9 1085.7 297.7 1091.6 290.1 1097.4 282.1 1103.3 273.7 1109.1 264.9 1115 255.6 1120.9 246 1126.9 235.8 1132.9 225.3 1139 214.2 1145.1 202.7 1151.3 190.7 1157.5 178.1M1003.2 363.4 1009.9 361.3 1016.4 358.9 1022.9 356 1029.2 352.7 1035.4 349 1041.6 344.9 1047.7 340.5 1053.7 335.6 1059.7 330.4 1065.6 324.7 1071.5 318.7 1077.4 312.3 1083.3 305.5 1089.1 298.3 1094.9 290.7 1100.8 282.7 1106.6 274.3 1112.5 265.4 1118.4 256.2 1124.3 246.5 1130.3 236.3 1136.3 225.7 1142.4 214.7 1148.5 203.1 1154.7 191.1 1161 178.5M1006.8 364 1013.4 362 1020 359.5 1026.4 356.6 1032.7 353.4 1038.9 349.7 1045.1 345.6 1051.2 341.1 1057.2 336.2 1063.1 331 1069.1 325.3 1075 319.3 1080.8 312.9 1086.7 306 1092.5 298.8 1098.3 291.2 1104.2 283.2 1110 274.8 1115.9 265.9 1121.8 256.6 1127.7 246.9 1133.7 236.8 1139.7 226.2 1145.8 215.1 1151.9 203.5 1158.1 191.5 1164.4 178.9M1010.4 364.7 1017 362.6 1023.5 360.2 1029.9 357.3 1036.2 354 1042.4 350.3 1048.6 346.2 1054.6 341.7 1060.6 336.8 1066.6 331.5 1072.5 325.9 1078.4 319.8 1084.2 313.4 1090.1 306.5 1095.9 299.3 1101.7 291.7 1107.6 283.7 1113.4 275.2 1119.3 266.4 1125.2 257.1 1131.1 247.4 1137.1 237.2 1143.1 226.6 1149.2 215.5 1155.3 203.9 1161.6 191.8 1167.9 179.2M1014 365.3 1020.6 363.2 1027.1 360.7 1033.5 357.8 1039.8 354.5 1046 350.8 1052.1 346.7 1058.1 342.2 1064.1 337.3 1070.1 332 1076 326.4 1081.8 320.3 1087.7 313.9 1093.5 307 1099.3 299.8 1105.2 292.1 1111 284.1 1116.8 275.7 1122.7 266.8 1128.6 257.5 1134.5 247.8 1140.5 237.6 1146.6 226.9 1152.6 215.8 1158.8 204.2 1165 192.1 1171.4 179.5M1017.7 365.8 1024.3 363.8 1030.7 361.3 1037.1 358.4 1043.3 355.1 1049.5 351.3 1055.6 347.2 1061.6 342.7 1067.6 337.8 1073.5 332.5 1079.4 326.8 1085.3 320.8 1091.1 314.3 1096.9 307.5 1102.8 300.2 1108.6 292.6 1114.4 284.5 1120.3 276 1126.1 267.2 1132 257.8 1138 248.1 1144 237.9 1150 227.2 1156.1 216.1 1162.3 204.5 1168.5 192.4 1174.9 179.8M1021.4 366.4 1027.9 364.3 1034.3 361.8 1040.7 358.9 1046.9 355.5 1053.1 351.8 1059.1 347.7 1065.2 343.2 1071.1 338.3 1077 332.9 1082.9 327.3 1088.8 321.2 1094.6 314.7 1100.4 307.8 1106.2 300.6 1112 292.9 1117.9 284.9 1123.7 276.4 1129.6 267.5 1135.5 258.2 1141.4 248.4 1147.4 238.2 1153.5 227.5 1159.6 216.4 1165.8 204.7 1172 192.6 1178.4 180M1025 366.8 1031.6 364.8 1038 362.2 1044.3 359.3 1050.5 356 1056.6 352.2 1062.7 348.1 1068.7 343.6 1074.6 338.7 1080.5 333.3 1086.4 327.6 1092.2 321.6 1098.1 315.1 1103.9 308.2 1109.7 300.9 1115.5 293.3 1121.3 285.2 1127.2 276.7 1133.1 267.8 1139 258.4 1144.9 248.6 1150.9 238.4 1157 227.7 1163.1 216.6 1169.3 204.9 1175.5 192.8 1181.9 180.1M1028.7 367.3 1035.2 365.2 1041.6 362.7 1047.9 359.7 1054.1 356.4 1060.2 352.6 1066.3 348.5 1072.2 344 1078.2 339 1084.1 333.7 1089.9 328 1095.8 321.9 1101.6 315.4 1107.4 308.5 1113.2 301.2 1119 293.5 1124.8 285.4 1130.7 276.9 1136.5 268 1142.5 258.7 1148.4 248.9 1154.4 238.6 1160.5 227.9 1166.6 216.7 1172.8 205.1 1179.1 192.9 1185.5 180.2M1032.5 367.7 1038.9 365.6 1045.3 363 1051.6 360.1 1057.7 356.8 1063.8 353 1069.8 348.8 1075.8 344.3 1081.7 339.4 1087.6 334 1093.5 328.3 1099.3 322.2 1105.1 315.7 1110.9 308.8 1116.7 301.5 1122.5 293.8 1128.3 285.7 1134.2 277.2 1140.1 268.2 1146 258.8 1151.9 249 1157.9 238.8 1164 228 1170.1 216.9 1176.4 205.2 1182.6 193 1189 180.3M1036.2 368 1042.6 365.9 1049 363.4 1055.2 360.4 1061.4 357.1 1067.4 353.3 1073.4 349.1 1079.4 344.6 1085.3 339.6 1091.2 334.3 1097 328.6 1102.8 322.4 1108.6 315.9 1114.4 309 1120.2 301.7 1126 294 1131.8 285.9 1137.7 277.3 1143.6 268.4 1149.5 259 1155.5 249.2 1161.5 238.9 1167.6 228.1 1173.7 216.9 1179.9 205.2 1186.2 193 1192.6 180.3M1039.9 368.3 1046.4 366.2 1052.7 363.7 1058.9 360.7 1065 357.4 1071.1 353.6 1077.1 349.4 1083 344.8 1088.9 339.9 1094.7 334.5 1100.6 328.8 1106.4 322.6 1112.2 316.1 1118 309.2 1123.8 301.9 1129.6 294.1 1135.4 286 1141.2 277.5 1147.1 268.5 1153 259.1 1159 249.2 1165 238.9 1171.1 228.2 1177.3 217 1183.5 205.2 1189.8 193 1196.2 180.3M1043.7 368.6 1050.1 366.5 1056.4 363.9 1062.6 361 1068.7 357.6 1074.7 353.8 1080.7 349.6 1086.6 345.1 1092.5 340.1 1098.3 334.7 1104.2 329 1110 322.8 1115.7 316.3 1121.5 309.3 1127.3 302 1133.1 294.3 1138.9 286.1 1144.8 277.6 1150.7 268.6 1156.6 259.1 1162.6 249.3 1168.6 239 1174.7 228.2 1180.9 216.9 1187.1 205.2 1193.5 193 1199.9 180.2M1047.5 368.8 1053.9 366.7 1060.1 364.1 1066.3 361.2 1072.4 357.8 1078.4 354 1084.4 349.8 1090.3 345.2 1096.1 340.2 1102 334.9 1107.8 329.1 1113.6 322.9 1119.3 316.4 1125.1 309.4 1130.9 302.1 1136.7 294.3 1142.5 286.2 1148.4 277.6 1154.3 268.6 1160.2 259.2 1166.2 249.3 1172.2 238.9 1178.3 228.2 1184.5 216.9 1190.8 205.1 1197.1 192.9 1203.6 180.1M1051.3 369 1057.7 366.9 1063.9 364.3 1070 361.3 1076.1 357.9 1082.1 354.1 1088 349.9 1093.9 345.4 1099.8 340.4 1105.6 335 1111.4 329.2 1117.2 323 1123 316.5 1128.7 309.5 1134.5 302.1 1140.3 294.4 1146.1 286.2 1152 277.6 1157.9 268.6 1163.8 259.1 1169.8 249.2 1175.8 238.9 1182 228.1 1188.1 216.8 1194.4 205 1200.8 192.7 1207.2 179.9M760.1 214 772 225.8 783.7 237 795.3 247.6 806.7 257.8 818 267.4 829.2 276.5 840.3 285.2 851.3 293.4 862.2 301.2 873.1 308.5 884 315.3 894.8 321.8 905.6 327.8 916.4 333.4 927.2 338.6 938.1 343.4 949 347.7 959.9 351.7 970.9 355.3 982 358.5 993.2 361.3 1004.6 363.6 1016 365.6 1027.6 367.1 1039.4 368.3 1051.3 369M763.3 213.9 775.1 225.6 786.8 236.8 798.3 247.4 809.7 257.5 820.9 267.1 832.1 276.2 843.1 284.8 854.1 293 865 300.7 875.9 308 886.7 314.8 897.5 321.3 908.2 327.2 919 332.8 929.8 338 940.6 342.8 951.5 347.1 962.4 351.1 973.4 354.7 984.4 357.8 995.6 360.6 1006.9 363 1018.3 364.9 1029.9 366.5 1041.6 367.6 1053.5 368.3M766.4 213.7 778.2 225.3 789.8 236.5 801.3 247.1 812.6 257.1 823.8 266.7 834.9 275.8 846 284.4 856.9 292.5 867.7 300.2 878.6 307.5 889.3 314.3 900.1 320.7 910.8 326.7 921.6 332.2 932.3 337.4 943.1 342.1 953.9 346.5 964.8 350.4 975.8 354 986.8 357.2 997.9 359.9 1009.2 362.3 1020.6 364.2 1032.1 365.7 1043.8 366.9 1055.7 367.6M769.6 213.4 781.3 225 792.9 236.1 804.3 246.7 815.6 256.7 826.7 266.2 837.8 275.3 848.7 283.9 859.6 292 870.5 299.7 881.2 306.9 892 313.7 902.7 320.1 913.4 326 924.1 331.6 934.8 336.7 945.6 341.5 956.4 345.8 967.2 349.7 978.1 353.3 989.2 356.4 1000.3 359.2 1011.5 361.5 1022.9 363.4 1034.4 365 1046 366.1 1057.9 366.8M772.6 213 784.3 224.6 795.8 235.7 807.2 246.2 818.4 256.2 829.6 265.7 840.6 274.8 851.5 283.3 862.4 291.4 873.1 299.1 883.9 306.3 894.6 313.1 905.3 319.4 915.9 325.3 926.6 330.9 937.3 336 948 340.7 958.8 345 969.6 349 980.5 352.5 991.5 355.6 1002.6 358.4 1013.8 360.7 1025.1 362.6 1036.6 364.1 1048.2 365.2 1060.1 365.9M775.7 212.6 787.3 224.2 798.8 235.2 810.1 245.7 821.3 255.7 832.4 265.2 843.3 274.2 854.2 282.7 865.1 290.8 875.8 298.4 886.5 305.6 897.2 312.4 907.8 318.7 918.5 324.6 929.1 330.1 939.8 335.2 950.5 339.9 961.2 344.2 972 348.2 982.9 351.7 993.8 354.8 1004.9 357.5 1016 359.8 1027.4 361.7 1038.8 363.3 1050.4 364.3 1062.2 365M778.7 212.2 790.3 223.7 801.7 234.7 813 245.2 824.1 255.1 835.2 264.6 846.1 273.5 856.9 282.1 867.7 290.1 878.4 297.7 889.1 304.9 899.7 311.6 910.4 317.9 921 323.8 931.6 329.3 942.2 334.4 952.9 339.1 963.6 343.4 974.4 347.3 985.2 350.8 996.1 353.9 1007.2 356.6 1018.3 358.9 1029.6 360.8 1041 362.3 1052.6 363.4 1064.4 364.1M781.7 211.7 793.2 223.2 804.6 234.1 815.8 244.6 826.9 254.5 837.9 263.9 848.8 272.9 859.6 281.3 870.4 289.4 881.1 296.9 891.7 304.1 902.3 310.8 912.9 317.1 923.5 323 934 328.5 944.6 333.5 955.3 338.2 966 342.5 976.7 346.4 987.5 349.9 998.4 353 1009.4 355.7 1020.5 358 1031.8 359.8 1043.2 361.3 1054.8 362.4 1066.5 363.1M784.6 211.1 796.1 222.6 807.4 233.5 818.6 243.9 829.7 253.8 840.7 263.2 851.5 272.1 862.3 280.6 873 288.6 883.6 296.1 894.3 303.2 904.8 309.9 915.4 316.2 925.9 322.1 936.5 327.6 947.1 332.6 957.7 337.3 968.3 341.5 979 345.4 989.8 348.9 1000.7 352 1011.7 354.6 1022.8 356.9 1034 358.8 1045.4 360.3 1056.9 361.4 1068.7 362M787.5 210.4 799 221.9 810.3 232.8 821.4 243.2 832.5 253 843.4 262.4 854.2 271.3 864.9 279.7 875.6 287.7 886.2 295.3 896.8 302.4 907.3 309 917.9 315.3 928.4 321.1 938.9 326.6 949.4 331.6 960 336.3 970.7 340.5 981.3 344.4 992.1 347.9 1003 350.9 1013.9 353.6 1025 355.9 1036.2 357.8 1047.5 359.2 1059.1 360.3 1070.8 360.9M790.4 209.7 801.8 221.2 813.1 232 824.2 242.4 835.2 252.2 846.1 261.6 856.8 270.4 867.5 278.9 878.2 286.8 888.8 294.3 899.3 301.4 909.8 308.1 920.3 314.3 930.8 320.2 941.3 325.6 951.8 330.6 962.4 335.2 973 339.5 983.6 343.3 994.4 346.8 1005.2 349.8 1016.1 352.5 1027.2 354.8 1038.4 356.6 1049.7 358.1 1061.2 359.2 1072.9 359.8M793.3 209 804.7 220.4 815.9 231.2 826.9 241.5 837.9 251.4 848.7 260.7 859.5 269.5 870.1 277.9 880.7 285.9 891.3 293.4 901.8 300.4 912.3 307.1 922.8 313.3 933.2 319.1 943.7 324.5 954.2 329.5 964.7 334.2 975.3 338.4 985.9 342.2 996.6 345.7 1007.4 348.7 1018.3 351.4 1029.4 353.6 1040.5 355.5 1051.8 356.9 1063.3 358 1075 358.6M796.1 208.2 807.4 219.5 818.6 230.3 829.6 240.6 840.6 250.4 851.4 259.7 862.1 268.6 872.7 276.9 883.3 284.9 893.8 292.3 904.3 299.4 914.7 306 925.2 312.2 935.6 318 946.1 323.4 956.5 328.4 967 333 977.6 337.2 988.2 341.1 998.9 344.5 1009.7 347.5 1020.5 350.2 1031.6 352.4 1042.7 354.3 1054 355.7 1065.4 356.7 1077.1 357.4M798.9 207.3 810.2 218.6 821.3 229.4 832.3 239.7 843.2 249.5 854 258.7 864.7 267.6 875.3 275.9 885.8 283.8 896.3 291.3 906.7 298.3 917.2 304.9 927.6 311.1 938 316.9 948.4 322.3 958.9 327.3 969.3 331.8 979.9 336 990.5 339.8 1001.1 343.3 1011.9 346.3 1022.7 348.9 1033.7 351.1 1044.8 353 1056.1 354.4 1067.5 355.5 1079.2 356.1M801.7 206.4 813 217.7 824 228.4 835 238.7 845.8 248.4 856.6 257.7 867.2 266.5 877.8 274.8 888.3 282.7 898.8 290.1 909.2 297.2 919.6 303.7 930 309.9 940.3 315.7 950.7 321.1 961.2 326 971.6 330.6 982.1 334.8 992.7 338.6 1003.3 342 1014.1 345 1024.9 347.6 1035.9 349.8 1047 351.7 1058.2 353.1 1069.6 354.1 1081.2 354.7M804.5 205.4 815.7 216.7 826.7 227.4 837.6 237.6 848.4 247.4 859.1 256.6 869.8 265.4 880.3 273.7 890.8 281.5 901.2 289 911.6 296 922 302.5 932.3 308.7 942.7 314.5 953.1 319.8 963.5 324.8 973.9 329.3 984.4 333.5 994.9 337.3 1005.5 340.7 1016.3 343.7 1027.1 346.3 1038 348.5 1049.1 350.3 1060.3 351.7 1071.7 352.7 1083.3 353.3M807.2 204.3 818.4 215.6 829.4 226.3 840.3 236.5 851 246.2 861.7 255.5 872.3 264.2 882.8 272.5 893.2 280.3 903.6 287.7 914 294.7 924.4 301.3 934.7 307.4 945 313.2 955.4 318.5 965.7 323.5 976.2 328 986.6 332.2 997.1 335.9 1007.7 339.3 1018.4 342.3 1029.2 344.9 1040.2 347.1 1051.2 348.9 1062.4 350.3 1073.8 351.3 1085.4 351.9M809.9 203.2 821 214.5 832 225.2 842.9 235.4 853.6 245 864.2 254.2 874.8 263 885.3 271.3 895.7 279.1 906.1 286.5 916.4 293.4 926.7 300 937 306.1 947.3 311.8 957.7 317.2 968 322.1 978.4 326.6 988.8 330.8 999.4 334.5 1009.9 337.9 1020.6 340.9 1031.4 343.5 1042.3 345.6 1053.3 347.4 1064.5 348.8 1075.9 349.8 1087.4 350.4M812.6 202.1 823.7 213.3 834.6 224 845.4 234.1 856.1 243.8 866.7 253 877.3 261.7 887.7 270 898.1 277.8 908.5 285.1 918.8 292.1 929.1 298.6 939.4 304.7 949.6 310.5 959.9 315.8 970.3 320.7 980.6 325.2 991.1 329.3 1001.5 333.1 1012.1 336.4 1022.8 339.4 1033.5 342 1044.4 344.2 1055.4 345.9 1066.6 347.3 1077.9 348.3 1089.5 348.9M815.3 200.9 826.3 212.1 837.2 222.7 848 232.9 858.7 242.5 869.2 251.7 879.7 260.4 890.2 268.6 900.5 276.4 910.8 283.8 921.1 290.7 931.4 297.2 941.7 303.3 951.9 309 962.2 314.3 972.5 319.2 982.9 323.7 993.3 327.9 1003.7 331.6 1014.3 334.9 1024.9 337.9 1035.7 340.4 1046.5 342.6 1057.5 344.4 1068.7 345.8 1080 346.7 1091.5 347.3M817.9 199.6 828.9 210.8 839.8 221.4 850.5 231.5 861.2 241.2 871.7 250.3 882.2 259 892.6 267.2 902.9 275 913.2 282.4 923.5 289.3 933.7 295.8 944 301.9 954.2 307.5 964.5 312.8 974.8 317.7 985.1 322.2 995.5 326.3 1005.9 330 1016.4 333.4 1027.1 336.3 1037.8 338.9 1048.6 341 1059.6 342.8 1070.7 344.2 1082.1 345.1 1093.5 345.7M820.5 198.3 831.5 209.4 842.3 220.1 853 230.2 863.7 239.8 874.2 248.9 884.6 257.6 895 265.8 905.3 273.6 915.6 280.9 925.8 287.8 936 294.3 946.2 300.3 956.5 306 966.7 311.3 977 316.2 987.3 320.7 997.6 324.7 1008.1 328.5 1018.6 331.8 1029.2 334.7 1039.9 337.2 1050.7 339.4 1061.7 341.1 1072.8 342.5 1084.1 343.5 1095.6 344M823.1 196.9 834.1 208.1 844.9 218.7 855.5 228.7 866.1 238.3 876.6 247.5 887 256.1 897.4 264.3 907.7 272 917.9 279.4 928.1 286.3 938.3 292.7 948.5 298.8 958.7 304.4 968.9 309.7 979.2 314.6 989.5 319 999.8 323.1 1010.2 326.8 1020.7 330.1 1031.3 333 1042 335.6 1052.8 337.7 1063.8 339.5 1074.9 340.8 1086.1 341.7 1097.6 342.3M825.7 195.5 836.6 206.6 847.4 217.2 858 227.3 868.6 236.8 879 245.9 889.4 254.6 899.7 262.8 910 270.5 920.2 277.8 930.4 284.7 940.6 291.1 950.8 297.2 961 302.8 971.2 308.1 981.4 312.9 991.7 317.4 1002 321.5 1012.4 325.1 1022.8 328.4 1033.4 331.3 1044.1 333.9 1054.9 336 1065.8 337.7 1076.9 339.1 1088.2 340 1099.6 340.5M828.3 194 839.1 205.1 849.9 215.7 860.5 225.7 871 235.3 881.4 244.4 891.8 253 902.1 261.2 912.3 268.9 922.5 276.2 932.7 283 942.9 289.5 953 295.5 963.2 301.2 973.4 306.4 983.6 311.2 993.8 315.7 1004.1 319.7 1014.5 323.4 1025 326.7 1035.5 329.6 1046.2 332.1 1057 334.2 1067.9 335.9 1079 337.3 1090.2 338.2 1101.6 338.7M830.8 192.5 841.6 203.5 852.3 214.1 862.9 224.1 873.4 233.7 883.8 242.8 894.2 251.4 904.4 259.5 914.7 267.2 924.8 274.5 935 281.4 945.1 287.8 955.3 293.8 965.4 299.4 975.6 304.7 985.7 309.5 996 313.9 1006.3 318 1016.6 321.6 1027.1 324.9 1037.6 327.8 1048.3 330.3 1059 332.4 1070 334.1 1081 335.4 1092.2 336.3 1103.7 336.8M833.3 190.9 844.1 201.9 854.8 212.5 865.4 222.5 875.8 232 886.2 241.1 896.5 249.7 906.8 257.8 917 265.5 927.1 272.8 937.2 279.6 947.4 286 957.5 292.1 967.6 297.7 977.7 302.9 987.9 307.7 998.1 312.1 1008.4 316.2 1018.8 319.8 1029.2 323.1 1039.7 325.9 1050.4 328.4 1061.1 330.5 1072 332.2 1083.1 333.5 1094.3 334.4 1105.7 334.9M835.8 189.2 846.6 200.3 857.2 210.8 867.8 220.8 878.2 230.3 888.6 239.4 898.8 248 909.1 256.1 919.2 263.8 929.4 271 939.5 277.8 949.6 284.3 959.7 290.3 969.8 295.9 979.9 301.1 990.1 305.9 1000.3 310.3 1010.5 314.3 1020.9 317.9 1031.3 321.2 1041.8 324.1 1052.4 326.5 1063.2 328.6 1074.1 330.3 1085.1 331.6 1096.3 332.5 1107.7 332.9M838.3 187.5 849 198.6 859.7 209.1 870.2 219.1 880.6 228.6 890.9 237.6 901.2 246.2 911.4 254.3 921.5 262 931.6 269.2 941.7 276 951.8 282.4 961.9 288.4 972 294 982.1 299.2 992.2 304 1002.4 308.4 1012.7 312.4 1023 316 1033.4 319.3 1043.9 322.1 1054.5 324.6 1065.2 326.7 1076.1 328.3 1087.1 329.6 1098.3 330.5 1109.7 330.9M840.7 185.8 851.5 196.8 862.1 207.3 872.5 217.3 882.9 226.8 893.2 235.8 903.5 244.4 913.7 252.5 923.8 260.1 933.9 267.3 944 274.2 954 280.5 964.1 286.5 974.1 292.1 984.2 297.3 994.4 302.1 1004.5 306.4 1014.8 310.5 1025.1 314.1 1035.5 317.3 1046 320.1 1056.6 322.6 1067.3 324.6 1078.1 326.3 1089.1 327.6 1100.3 328.4 1111.7 328.9M843.2 184 853.9 195 864.4 205.4 874.9 215.4 885.3 224.9 895.6 233.9 905.8 242.5 915.9 250.6 926 258.2 936.1 265.4 946.2 272.2 956.2 278.6 966.3 284.6 976.3 290.1 986.4 295.3 996.5 300.1 1006.7 304.5 1016.9 308.5 1027.2 312.1 1037.6 315.3 1048 318.1 1058.6 320.5 1069.3 322.6 1080.2 324.2 1091.2 325.5 1102.3 326.3 1113.7 326.8M845.6 182.1 856.3 193.1 866.8 203.6 877.3 213.5 887.6 223 897.9 232 908.1 240.5 918.2 248.6 928.3 256.3 938.3 263.5 948.4 270.3 958.4 276.6 968.4 282.6 978.5 288.1 988.5 293.3 998.6 298.1 1008.8 302.4 1019 306.4 1029.3 310 1039.6 313.2 1050.1 316 1060.7 318.5 1071.4 320.5 1082.2 322.1 1093.2 323.4 1104.4 324.2 1115.7 324.6M848 180.2 858.7 191.2 869.2 201.6 879.6 211.6 889.9 221 900.2 230 910.3 238.6 920.4 246.6 930.5 254.3 940.6 261.5 950.6 268.2 960.6 274.6 970.6 280.5 980.6 286.1 990.7 291.2 1000.8 296 1010.9 300.4 1021.1 304.3 1031.3 307.9 1041.7 311.1 1052.2 313.9 1062.7 316.3 1073.4 318.3 1084.2 320 1095.2 321.2 1106.4 322 1117.7 322.4M850.4 178.2 861 189.2 871.5 199.6 881.9 209.6 892.2 219 902.4 228 912.6 236.5 922.7 244.6 932.7 252.2 942.8 259.4 952.8 266.2 962.8 272.5 972.7 278.5 982.8 284 992.8 289.1 1002.9 293.9 1013 298.2 1023.2 302.2 1033.4 305.8 1043.8 308.9 1054.2 311.7 1064.8 314.1 1075.4 316.1 1086.3 317.8 1097.2 319 1108.4 319.8 1119.7 320.2M852.8 176.2 863.4 187.1 873.9 197.6 884.2 207.5 894.5 217 904.7 225.9 914.8 234.5 924.9 242.5 934.9 250.1 944.9 257.3 954.9 264.1 964.9 270.4 974.9 276.3 984.9 281.9 994.9 287 1005 291.7 1015.1 296.1 1025.3 300 1035.5 303.6 1045.8 306.7 1056.3 309.5 1066.8 311.9 1077.5 313.9 1088.3 315.5 1099.3 316.7 1110.4 317.5 1121.7 317.9M855.2 174.1 865.7 185 876.2 195.5 886.5 205.4 896.8 214.9 907 223.8 917.1 232.3 927.1 240.4 937.1 248 947.1 255.1 957.1 261.9 967.1 268.2 977 274.1 987 279.7 997 284.8 1007.1 289.5 1017.2 293.8 1027.3 297.8 1037.6 301.3 1047.9 304.5 1058.3 307.3 1068.8 309.6 1079.5 311.6 1090.3 313.2 1101.3 314.4 1112.4 315.2 1123.7 315.6M857.5 171.9 868.1 182.9 878.5 193.3 888.8 203.3 899 212.7 909.2 221.7 919.3 230.1 929.3 238.2 939.3 245.8 949.3 252.9 959.3 259.7 969.2 266 979.2 271.9 989.1 277.4 999.1 282.5 1009.2 287.2 1019.3 291.6 1029.4 295.5 1039.6 299 1049.9 302.2 1060.4 304.9 1070.9 307.3 1081.5 309.3 1092.3 310.9 1103.3 312 1114.4 312.8 1125.7 313.2M859.9 169.8 870.4 180.7 880.8 191.1 891.1 201.1 901.3 210.5 911.4 219.4 921.5 227.9 931.5 235.9 941.5 243.5 951.5 250.7 961.4 257.4 971.3 263.7 981.3 269.6 991.2 275.1 1001.2 280.2 1011.3 284.9 1021.3 289.2 1031.5 293.2 1041.7 296.7 1052 299.8 1062.4 302.6 1072.9 304.9 1083.6 306.9 1094.3 308.5 1105.3 309.6 1116.4 310.4 1127.7 310.7M862.2 167.5 872.7 178.5 883.1 188.9 893.3 198.8 903.5 208.2 913.7 217.2 923.7 225.6 933.7 233.7 943.7 241.2 953.6 248.4 963.6 255.1 973.5 261.4 983.4 267.3 993.3 272.8 1003.3 277.9 1013.3 282.6 1023.4 286.9 1033.5 290.8 1043.7 294.3 1054 297.4 1064.4 300.2 1074.9 302.5 1085.6 304.5 1096.4 306 1107.3 307.2 1118.4 307.9 1129.7 308.3M864.5 165.2 875 176.2 885.3 186.6 895.6 196.5 905.8 205.9 915.9 214.8 925.9 223.3 935.9 231.3 945.9 238.9 955.8 246 965.7 252.7 975.6 259 985.5 264.9 995.4 270.4 1005.4 275.5 1015.4 280.2 1025.5 284.5 1035.6 288.4 1045.8 291.9 1056.1 295 1066.5 297.7 1077 300.1 1087.6 302 1098.4 303.5 1109.3 304.7 1120.4 305.4 1131.7 305.7M866.8 162.9 877.2 173.8 887.6 184.2 897.8 194.1 908 203.5 918.1 212.4 928.1 220.9 938.1 228.9 948 236.5 957.9 243.6 967.8 250.3 977.7 256.6 987.6 262.5 997.5 268 1007.5 273.1 1017.5 277.7 1027.5 282 1037.6 285.9 1047.8 289.4 1058.1 292.5 1068.5 295.2 1079 297.5 1089.6 299.5 1100.4 301 1111.3 302.1 1122.4 302.8 1133.7 303.2M869.1 160.5 879.5 171.4 889.8 181.8 900.1 191.7 910.2 201.1 920.3 210 930.3 218.5 940.2 226.5 950.2 234.1 960.1 241.2 969.9 247.9 979.8 254.2 989.7 260 999.6 265.5 1009.6 270.6 1019.6 275.2 1029.6 279.5 1039.7 283.4 1049.9 286.9 1060.2 290 1070.5 292.7 1081 295 1091.7 296.9 1102.4 298.4 1113.3 299.5 1124.5 300.2 1135.7 300.5M871.4 158 881.8 168.9 892.1 179.3 902.3 189.2 912.4 198.6 922.4 207.5 932.4 216 942.4 224 952.3 231.6 962.2 238.7 972.1 245.4 981.9 251.7 991.8 257.5 1001.7 263 1011.6 268 1021.6 272.7 1031.7 277 1041.8 280.8 1051.9 284.3 1062.2 287.4 1072.6 290.1 1083.1 292.4 1093.7 294.3 1104.4 295.8 1115.4 296.9 1126.5 297.6 1137.8 297.8M873.6 155.5 884 166.4 894.3 176.8 904.5 186.7 914.6 196.1 924.6 205 934.6 213.5 944.5 221.5 954.4 229 964.3 236.1 974.2 242.8 984 249.1 993.9 254.9 1003.8 260.4 1013.7 265.4 1023.7 270.1 1033.7 274.4 1043.8 278.2 1054 281.7 1064.2 284.8 1074.6 287.4 1085.1 289.7 1095.7 291.6 1106.5 293.1 1117.4 294.2 1128.5 294.9 1139.8 295.1M875.9 152.9 886.2 163.8 896.5 174.2 906.7 184.1 916.8 193.5 926.8 202.4 936.7 210.9 946.7 218.9 956.6 226.4 966.4 233.5 976.3 240.2 986.1 246.5 996 252.3 1005.9 257.8 1015.8 262.8 1025.7 267.5 1035.8 271.7 1045.8 275.6 1056 279 1066.3 282.1 1076.6 284.7 1087.1 287 1097.7 288.9 1108.5 290.4 1119.4 291.4 1130.5 292.1 1141.8 292.3M878.1 150.3 888.5 161.2 898.7 171.6 908.9 181.5 918.9 190.9 928.9 199.8 938.9 208.2 948.8 216.2 958.7 223.8 968.5 230.9 978.4 237.6 988.2 243.8 998.1 249.7 1007.9 255.1 1017.8 260.1 1027.8 264.8 1037.8 269 1047.9 272.8 1058 276.3 1068.3 279.3 1078.7 282 1089.1 284.3 1099.7 286.1 1110.5 287.6 1121.4 288.7 1132.5 289.3 1143.8 289.5M880.3 147.6 890.7 158.5 900.9 168.9 911 178.8 921.1 188.2 931.1 197.1 941 205.5 950.9 213.5 960.8 221.1 970.6 228.2 980.5 234.8 990.3 241.1 1000.1 246.9 1010 252.4 1019.9 257.4 1029.9 262 1039.9 266.3 1049.9 270.1 1060.1 273.5 1070.3 276.6 1080.7 279.2 1091.2 281.5 1101.8 283.3 1112.5 284.8 1123.4 285.8 1134.5 286.4 1145.8 286.6M882.6 144.8 892.9 155.8 903.1 166.2 913.2 176 923.3 185.4 933.2 194.4 943.2 202.8 953 210.8 962.9 218.3 972.7 225.4 982.5 232.1 992.4 238.3 1002.2 244.2 1012.1 249.6 1022 254.6 1031.9 259.2 1041.9 263.5 1052 267.3 1062.1 270.7 1072.4 273.7 1082.7 276.4 1093.2 278.6 1103.8 280.5 1114.5 281.9 1125.5 282.9 1136.6 283.5 1147.8 283.7M884.8 142 895.1 153 905.3 163.4 915.4 173.3 925.4 182.6 935.4 191.6 945.3 200 955.2 208 965 215.5 974.8 222.6 984.6 229.3 994.4 235.5 1004.3 241.4 1014.1 246.8 1024 251.8 1034 256.4 1043.9 260.6 1054 264.4 1064.2 267.8 1074.4 270.9 1084.7 273.5 1095.2 275.7 1105.8 277.5 1116.6 279 1127.5 280 1138.6 280.6 1149.9 280.7M887 139.2 897.3 150.1 907.4 160.5 917.5 170.4 927.5 179.8 937.5 188.7 947.4 197.1 957.3 205.1 967.1 212.7 976.9 219.8 986.7 226.4 996.5 232.7 1006.3 238.5 1016.2 243.9 1026.1 248.9 1036 253.5 1046 257.7 1056.1 261.5 1066.2 264.9 1076.4 267.9 1086.8 270.5 1097.2 272.8 1107.9 274.6 1118.6 276 1129.5 277 1140.6 277.6 1151.9 277.7M889.2 136.3 899.4 147.2 909.6 157.6 919.7 167.5 929.7 176.9 939.6 185.8 949.5 194.2 959.4 202.2 969.2 209.8 979 216.8 988.8 223.5 998.6 229.7 1008.4 235.6 1018.2 241 1028.1 246 1038 250.6 1048 254.8 1058.1 258.6 1068.2 262 1078.5 265 1088.8 267.6 1099.3 269.8 1109.9 271.6 1120.6 273 1131.6 273.9 1142.6 274.5 1153.9 274.6M891.4 133.3 901.6 144.2 911.8 154.6 921.8 164.5 931.8 173.9 941.7 182.8 951.6 191.3 961.5 199.3 971.3 206.8 981.1 213.9 990.9 220.5 1000.7 226.8 1010.5 232.6 1020.3 238 1030.2 243 1040.1 247.6 1050.1 251.8 1060.1 255.6 1070.3 258.9 1080.5 261.9 1090.8 264.5 1101.3 266.7 1111.9 268.5 1122.7 269.9 1133.6 270.8 1144.7 271.4 1156 271.5M893.5 130.3 903.8 141.2 913.9 151.6 924 161.5 933.9 170.9 943.9 179.8 953.7 188.3 963.6 196.3 973.4 203.8 983.1 210.9 992.9 217.5 1002.7 223.8 1012.5 229.6 1022.3 235 1032.2 240 1042.1 244.5 1052.1 248.7 1062.2 252.5 1072.3 255.9 1082.5 258.9 1092.9 261.4 1103.4 263.6 1114 265.4 1124.7 266.7 1135.6 267.7 1146.7 268.2 1158 268.3M895.7 127.2 905.9 138.1 916 148.6 926.1 158.5 936.1 167.9 946 176.8 955.8 185.2 965.6 193.2 975.4 200.7 985.2 207.8 995 214.5 1004.8 220.7 1014.6 226.5 1024.4 231.9 1034.3 236.9 1044.2 241.4 1054.2 245.6 1064.2 249.4 1074.3 252.8 1084.6 255.7 1094.9 258.3 1105.4 260.5 1116 262.2 1126.8 263.6 1137.7 264.5 1148.8 265 1160.1 265.1M897.9 124.1 908.1 135 918.2 145.4 928.2 155.3 938.2 164.7 948.1 173.7 957.9 182.1 967.7 190.1 977.5 197.6 987.3 204.7 997.1 211.3 1006.8 217.6 1016.6 223.4 1026.4 228.8 1036.3 233.7 1046.2 238.3 1056.2 242.5 1066.2 246.2 1076.4 249.6 1086.6 252.5 1097 255.1 1107.4 257.3 1118 259 1128.8 260.3 1139.7 261.3 1150.8 261.7 1162.1 261.8M900 120.9 910.2 131.8 920.3 142.2 930.3 152.2 940.3 161.6 950.2 170.5 960 178.9 969.8 186.9 979.6 194.4 989.4 201.5 999.1 208.2 1008.9 214.4 1018.7 220.2 1028.5 225.6 1038.4 230.5 1048.3 235.1 1058.2 239.3 1068.3 243 1078.4 246.4 1088.7 249.3 1099 251.9 1109.5 254 1120.1 255.7 1130.8 257 1141.8 257.9 1152.9 258.4 1164.2 258.5M902.2 117.6 912.3 128.6 922.4 139 932.4 148.9 942.4 158.3 952.3 167.3 962.1 175.7 971.9 183.7 981.7 191.2 991.4 198.3 1001.2 204.9 1010.9 211.2 1020.7 217 1030.5 222.3 1040.4 227.3 1050.3 231.9 1060.3 236 1070.3 239.7 1080.5 243.1 1090.7 246 1101.1 248.6 1111.5 250.7 1122.1 252.4 1132.9 253.7 1143.8 254.6 1155 255.1 1166.3 255.1M904.3 114.3 914.5 125.3 924.5 135.7 934.5 145.6 944.5 155 954.3 164 964.2 172.4 974 180.4 983.7 187.9 993.5 195 1003.2 201.7 1013 207.9 1022.8 213.7 1032.6 219 1042.4 224 1052.4 228.6 1062.3 232.7 1072.4 236.4 1082.5 239.8 1092.7 242.7 1103.1 245.2 1113.6 247.3 1124.2 249 1135 250.3 1145.9 251.2 1157 251.6 1168.3 251.6M906.4 110.9 916.6 121.9 926.7 132.3 936.6 142.3 946.6 151.7 956.4 160.6 966.2 169.1 976 177.1 985.8 184.6 995.5 191.7 1005.3 198.3 1015 204.5 1024.8 210.3 1034.6 215.7 1044.5 220.7 1054.4 225.2 1064.4 229.3 1074.4 233.1 1084.6 236.4 1094.8 239.3 1105.2 241.8 1115.6 243.9 1126.3 245.6 1137 246.9 1148 247.7 1159.1 248.2 1170.4 248.2M908.6 107.5 918.7 118.5 928.8 128.9 938.7 138.9 948.7 148.3 958.5 157.2 968.3 165.7 978.1 173.7 987.9 181.2 997.6 188.3 1007.3 194.9 1017.1 201.2 1026.9 206.9 1036.7 212.3 1046.5 217.3 1056.4 221.8 1066.4 225.9 1076.5 229.6 1086.6 233 1096.9 235.9 1107.2 238.4 1117.7 240.4 1128.3 242.1 1139.1 243.4 1150 244.2 1161.2 244.6 1172.5 244.6M910.7 104 920.8 115 930.9 125.4 940.8 135.4 950.7 144.8 960.6 153.8 970.4 162.2 980.2 170.2 989.9 177.8 999.7 184.9 1009.4 191.5 1019.2 197.7 1028.9 203.5 1038.7 208.9 1048.6 213.8 1058.5 218.3 1068.5 222.5 1078.5 226.2 1088.7 229.5 1098.9 232.4 1109.3 234.8 1119.8 236.9 1130.4 238.6 1141.2 239.8 1152.1 240.6 1163.3 241 1174.6 241M912.8 100.4 922.9 111.4 933 121.9 942.9 131.9 952.8 141.3 962.7 150.3 972.5 158.7 982.2 166.7 992 174.3 1001.7 181.4 1011.5 188 1021.2 194.2 1031 200 1040.8 205.3 1050.6 210.3 1060.5 214.8 1070.5 218.9 1080.6 222.6 1090.7 225.9 1101 228.8 1111.3 231.3 1121.8 233.3 1132.5 235 1143.3 236.2 1154.2 237 1165.4 237.4 1176.7 237.3M914.9 96.8 925 107.8 935.1 118.3 945 128.3 954.9 137.7 964.7 146.7 974.5 155.2 984.3 163.2 994 170.7 1003.8 177.8 1013.5 184.4 1023.3 190.7 1033 196.4 1042.8 201.8 1052.7 206.7 1062.6 211.2 1072.6 215.4 1082.6 219 1092.8 222.3 1103 225.2 1113.4 227.7 1123.9 229.7 1134.5 231.3 1145.3 232.6 1156.3 233.3 1167.5 233.7 1178.8 233.6M917 93.1 927.1 104.2 937.1 114.7 947.1 124.6 957 134.1 966.8 143.1 976.6 151.5 986.4 159.5 996.1 167.1 1005.8 174.2 1015.6 180.8 1025.3 187 1035.1 192.8 1044.9 198.2 1054.7 203.1 1064.7 207.6 1074.6 211.7 1084.7 215.4 1094.8 218.7 1105.1 221.5 1115.5 224 1126 226 1136.6 227.6 1147.4 228.8 1158.4 229.6 1169.6 229.9 1181 229.8M919.1 89.4 929.2 100.4 939.2 110.9 949.2 120.9 959.1 130.4 968.9 139.4 978.7 147.9 988.4 155.9 998.2 163.4 1007.9 170.5 1017.6 177.2 1027.4 183.4 1037.1 189.1 1046.9 194.5 1056.8 199.4 1066.7 203.9 1076.7 208 1086.8 211.7 1096.9 215 1107.2 217.8 1117.6 220.3 1128.1 222.3 1138.7 223.9 1149.5 225.1 1160.5 225.8 1171.7 226.1 1183.1 226M921.2 85.6 931.3 96.6 941.3 107.2 951.3 117.2 961.1 126.6 970.9 135.6 980.7 144.1 990.5 152.1 1000.2 159.7 1009.9 166.8 1019.7 173.4 1029.4 179.6 1039.2 185.4 1049 190.8 1058.9 195.7 1068.8 200.2 1078.8 204.3 1088.8 208 1099 211.2 1109.3 214.1 1119.6 216.5 1130.2 218.5 1140.8 220.1 1151.7 221.2 1162.7 222 1173.8 222.3 1185.2 222.1M923.3 81.7 933.4 92.8 943.4 103.3 953.3 113.3 963.2 122.8 973 131.8 982.8 140.3 992.5 148.3 1002.3 155.9 1012 163 1021.7 169.6 1031.5 175.9 1041.3 181.6 1051.1 187 1060.9 191.9 1070.8 196.4 1080.8 200.5 1090.9 204.1 1101.1 207.4 1111.3 210.2 1121.7 212.6 1132.3 214.6 1142.9 216.2 1153.8 217.3 1164.8 218.1 1176 218.3 1187.4 218.2M925.4 77.8 935.5 88.9 945.5 99.4 955.4 109.4 965.3 118.9 975.1 127.9 984.9 136.4 994.6 144.5 1004.3 152 1014.1 159.2 1023.8 165.8 1033.5 172 1043.3 177.8 1053.1 183.1 1063 188.1 1072.9 192.6 1082.9 196.6 1093 200.3 1103.2 203.5 1113.4 206.3 1123.8 208.7 1134.4 210.7 1145.1 212.3 1155.9 213.4 1166.9 214.1 1178.1 214.3 1189.6 214.2M927.5 73.8 937.6 84.9 947.6 95.4 957.5 105.5 967.3 115 977.1 124 986.9 132.5 996.7 140.6 1006.4 148.1 1016.1 155.2 1025.9 161.9 1035.6 168.1 1045.4 173.9 1055.2 179.2 1065.1 184.1 1075 188.6 1085 192.7 1095.1 196.4 1105.2 199.6 1115.5 202.4 1125.9 204.8 1136.5 206.7 1147.2 208.3 1158 209.4 1169.1 210.1 1180.3 210.3 1191.7 210.1M929.6 69.7 939.6 80.8 949.6 91.4 959.5 101.5 969.4 111 979.2 120 989 128.5 998.7 136.6 1008.5 144.2 1018.2 151.3 1027.9 157.9 1037.7 164.2 1047.4 169.9 1057.3 175.3 1067.1 180.2 1077.1 184.7 1087.1 188.7 1097.2 192.4 1107.3 195.6 1117.6 198.4 1128.1 200.8 1138.6 202.7 1149.3 204.2 1160.2 205.3 1171.2 206 1182.5 206.2 1193.9 206M931.7 65.6 941.7 76.7 951.7 87.3 961.6 97.4 971.5 106.9 981.3 116 991 124.5 1000.8 132.6 1010.5 140.1 1020.2 147.3 1030 153.9 1039.7 160.1 1049.5 165.9 1059.3 171.3 1069.2 176.2 1079.1 180.6 1089.2 184.7 1099.3 188.3 1109.4 191.5 1119.7 194.3 1130.2 196.7 1140.7 198.6 1151.5 200.1 1162.3 201.2 1173.4 201.8 1184.6 202 1196.1 201.8M933.7 61.4 943.8 72.5 953.8 83.2 963.7 93.2 973.5 102.8 983.3 111.8 993.1 120.4 1002.8 128.5 1012.6 136 1022.3 143.2 1032 149.8 1041.8 156.1 1051.6 161.8 1061.4 167.2 1071.3 172.1 1081.2 176.6 1091.2 180.6 1101.4 184.2 1111.6 187.4 1121.9 190.2 1132.3 192.6 1142.9 194.5 1153.6 196 1164.5 197 1175.6 197.6 1186.8 197.8 1198.3 197.5M935.8 57.1 945.9 68.3 955.8 78.9 965.8 89 975.6 98.6 985.4 107.7 995.2 116.2 1004.9 124.3 1014.6 131.9 1024.4 139 1034.1 145.7 1043.9 151.9 1053.7 157.7 1063.5 163 1073.4 167.9 1083.3 172.4 1093.3 176.4 1103.5 180.1 1113.7 183.3 1124 186 1134.4 188.4 1145 190.3 1155.8 191.7 1166.7 192.8 1177.7 193.4 1189 193.5 1200.5 193.2M937.9 52.8 947.9 64 957.9 74.6 967.8 84.8 977.7 94.3 987.5 103.4 997.2 112 1007 120.1 1016.7 127.7 1026.4 134.8 1036.2 141.5 1045.9 147.7 1055.7 153.5 1065.6 158.8 1075.5 163.7 1085.4 168.2 1095.5 172.2 1105.6 175.8 1115.8 179 1126.1 181.8 1136.6 184.1 1147.2 186 1157.9 187.5 1168.8 188.5 1179.9 189 1191.2 189.2 1202.7 188.8M940 48.4 950 59.6 960 70.3 969.9 80.4 979.7 90 989.5 99.1 999.3 107.7 1009 115.8 1018.8 123.4 1028.5 130.5 1038.3 137.2 1048 143.4 1057.8 149.2 1067.7 154.6 1077.6 159.5 1087.5 163.9 1097.6 168 1107.7 171.6 1117.9 174.7 1128.3 177.5 1138.7 179.8 1149.3 181.7 1160.1 183.1 1171 184.1 1182.1 184.7 1193.5 184.8 1205 184.4M942 43.9 952.1 55.2 962.1 65.9 972 76 981.8 85.6 991.6 94.7 1001.4 103.3 1011.1 111.4 1020.9 119 1030.6 126.2 1040.3 132.9 1050.1 139.1 1059.9 144.9 1069.8 150.2 1079.7 155.1 1089.6 159.6 1099.7 163.6 1109.8 167.2 1120.1 170.4 1130.4 173.1 1140.9 175.4 1151.5 177.3 1162.3 178.7 1173.2 179.7 1184.4 180.2 1195.7 180.3 1207.2 179.9" fill="none" stroke="#000" stroke-width="0.95"/>
<clipPath id="cpf"><polygon points="760.1,214 767.9,221.7 775.5,229.2 783.1,236.4 790.7,243.4 798.2,250.2 805.6,256.8 812.9,263.1 820.3,269.3 827.5,275.2 834.8,280.9 841.9,286.5 849.1,291.8 856.2,297 863.3,301.9 870.4,306.7 877.5,311.3 884.5,315.7 891.6,319.9 898.6,323.9 905.6,327.8 912.6,331.5 919.7,335 926.7,338.3 933.7,341.5 940.8,344.5 947.9,347.3 955,350 962.1,352.5 969.3,354.8 976.5,356.9 983.7,358.9 991,360.7 998.3,362.4 1005.7,363.8 1013.1,365.1 1020.6,366.3 1028.2,367.2 1035.8,368 1043.5,368.6 1051.3,369 1051.3,369 1055.4,367.6 1059.5,366.1 1063.6,364.4 1067.6,362.6 1071.6,360.5 1075.5,358.3 1079.4,355.9 1083.3,353.3 1087.2,350.6 1091,347.7 1094.8,344.6 1098.6,341.4 1102.4,338 1106.2,334.4 1109.9,330.7 1113.7,326.8 1117.5,322.7 1121.2,318.5 1125,314.1 1128.7,309.5 1132.5,304.8 1136.2,299.9 1140,294.8 1143.8,289.5 1147.6,284.1 1151.4,278.5 1155.2,272.7 1159.1,266.7 1162.9,260.6 1166.8,254.2 1170.7,247.7 1174.6,241 1178.6,234.1 1182.6,227 1186.6,219.6 1190.6,212.1 1194.7,204.4 1198.9,196.4 1203,188.3 1207.2,179.9 1207.2,179.9 1199.7,180.2 1192.3,180.3 1184.9,180.2 1177.7,179.9 1170.5,179.5 1163.4,178.8 1156.3,178 1149.4,176.9 1142.5,175.7 1135.6,174.3 1128.9,172.7 1122.1,171 1115.4,169 1108.8,166.9 1102.2,164.6 1095.7,162.1 1089.1,159.4 1082.7,156.5 1076.2,153.5 1069.8,150.2 1063.4,146.8 1057,143.2 1050.6,139.4 1044.2,135.4 1037.9,131.3 1031.6,126.9 1025.2,122.3 1018.9,117.6 1012.6,112.6 1006.2,107.4 999.9,102.1 993.6,96.5 987.2,90.7 980.8,84.7 974.4,78.5 968,72 961.6,65.3 955.1,58.4 948.6,51.3 942,43.9 942,43.9 938.2,52.2 934.3,60.3 930.4,68.2 926.4,75.8 922.5,83.2 918.6,90.3 914.6,97.3 910.7,104 906.7,110.5 902.7,116.8 898.7,122.9 894.6,128.7 890.5,134.4 886.4,139.9 882.3,145.2 878.1,150.3 873.9,155.1 869.7,159.8 865.4,164.3 861,168.6 856.6,172.8 852.2,176.7 847.7,180.4 843.2,184 838.6,187.3 833.9,190.5 829.2,193.4 824.4,196.2 819.5,198.8 814.6,201.2 809.6,203.4 804.5,205.4 799.3,207.2 794,208.8 788.6,210.2 783.1,211.4 777.6,212.4 771.9,213.1 766.1,213.7 760.1,214"/></clipPath>
<ellipse cx="990" cy="352" rx="85" ry="32" fill="url(#dk)" clip-path="url(#cpf)"/>
<circle cx="941.4" cy="42.4" r="3.2" fill="#ff0000" stroke="#000" stroke-width="0.8"/>
<circle cx="758.3" cy="207.4" r="3.2" fill="#ff0000" stroke="#000" stroke-width="0.8"/>
<circle cx="1208.6" cy="170.3" r="3.2" fill="#ff0000" stroke="#000" stroke-width="0.8"/>
<circle cx="991.2" cy="270.2" r="3.2" fill="#ff0000" stroke="#000" stroke-width="0.8"/>
<circle cx="991.2" cy="273" r="3.2" fill="#ff0000" stroke="#000" stroke-width="0.8"/>
<circle cx="1051.4" cy="358.6" r="3.2" fill="#ff0000" stroke="#000" stroke-width="0.8"/>
<rect x="1224" y="238" width="2" height="2" fill="#666"/>
<rect x="5.6" y="74.5" width="8" height="38" fill="url(#lg)" stroke="#000" stroke-width="1"/>
<rect x="687.4" y="71.6" width="8" height="38" fill="url(#lg)" stroke="#000" stroke-width="1"/>
<g font-family="Liberation Sans, sans-serif"><text x="66.4" y="376.2" font-size="14" font-weight="bold" fill="#000" textLength="32.5" lengthAdjust="spacingAndGlyphs">60.00</text>
<text x="117.5" y="400.1" font-size="14" font-weight="bold" fill="#000" textLength="32.5" lengthAdjust="spacingAndGlyphs">68.00</text>
<text x="168.9" y="423" font-size="14" font-weight="bold" fill="#000" textLength="32.5" lengthAdjust="spacingAndGlyphs">76.00</text>
<text x="219.5" y="446.7" font-size="14" font-weight="bold" fill="#000" textLength="32.5" lengthAdjust="spacingAndGlyphs">84.00</text>
<text x="270.3" y="469.6" font-size="14" font-weight="bold" fill="#000" textLength="32.5" lengthAdjust="spacingAndGlyphs">92.00</text>
<text x="317.1" y="494" font-size="14" font-weight="bold" fill="#000" textLength="37.2" lengthAdjust="spacingAndGlyphs">100.00</text>
<text x="370.1" y="493.1" font-size="14" font-weight="bold" fill="#000" textLength="25.8" lengthAdjust="spacingAndGlyphs">5.00</text>
<text x="397.7" y="454.9" font-size="14" font-weight="bold" fill="#000" textLength="32.5" lengthAdjust="spacingAndGlyphs">11.00</text>
<text x="424.5" y="414.4" font-size="14" font-weight="bold" fill="#000" textLength="32.5" lengthAdjust="spacingAndGlyphs">17.00</text>
<text x="450.8" y="376" font-size="14" font-weight="bold" fill="#000" textLength="32.5" lengthAdjust="spacingAndGlyphs">23.00</text>
<text x="477.1" y="337.3" font-size="14" font-weight="bold" fill="#000" textLength="32.5" lengthAdjust="spacingAndGlyphs">29.00</text>
<text x="503.8" y="297.8" font-size="14" font-weight="bold" fill="#000" textLength="32.5" lengthAdjust="spacingAndGlyphs">35.00</text>
<text x="51.7" y="196" font-size="14" font-weight="bold" fill="#000" textLength="14.4" lengthAdjust="spacingAndGlyphs">90</text>
<text x="56" y="222" font-size="14" font-weight="bold" fill="#000" textLength="14.4" lengthAdjust="spacingAndGlyphs">80</text>
<text x="62.7" y="247.2" font-size="14" font-weight="bold" fill="#000" textLength="14.4" lengthAdjust="spacingAndGlyphs">70</text>
<text x="67.6" y="272.8" font-size="14" font-weight="bold" fill="#000" textLength="14.4" lengthAdjust="spacingAndGlyphs">60</text>
<text x="72.3" y="298.3" font-size="14" font-weight="bold" fill="#000" textLength="14.4" lengthAdjust="spacingAndGlyphs">50</text>
<text x="77.2" y="324.1" font-size="14" font-weight="bold" fill="#000" textLength="14.4" lengthAdjust="spacingAndGlyphs">40</text>
<text x="747.2" y="373.2" font-size="14" font-weight="bold" fill="#000" textLength="32.5" lengthAdjust="spacingAndGlyphs">25.00</text>
<text x="812.1" y="404" font-size="14" font-weight="bold" fill="#000" textLength="32.5" lengthAdjust="spacingAndGlyphs">30.00</text>
<text x="876" y="435.6" font-size="14" font-weight="bold" fill="#000" textLength="32.5" lengthAdjust="spacingAndGlyphs">35.00</text>
<text x="939.7" y="465.8" font-size="14" font-weight="bold" fill="#000" textLength="32.5" lengthAdjust="spacingAndGlyphs">40.00</text>
<text x="1002" y="497.3" font-size="14" font-weight="bold" fill="#000" textLength="32.5" lengthAdjust="spacingAndGlyphs">45.00</text>
<text x="1051.4" y="496.1" font-size="14" font-weight="bold" fill="#000" textLength="25.8" lengthAdjust="spacingAndGlyphs">5.00</text>
<text x="1081.1" y="457.5" font-size="14" font-weight="bold" fill="#000" textLength="32.5" lengthAdjust="spacingAndGlyphs">11.00</text>
<text x="1109.5" y="417.2" font-size="14" font-weight="bold" fill="#000" textLength="32.5" lengthAdjust="spacingAndGlyphs">17.00</text>
<text x="1138" y="378.5" font-size="14" font-weight="bold" fill="#000" textLength="32.5" lengthAdjust="spacingAndGlyphs">23.00</text>
<text x="1166.9" y="339.4" font-size="14" font-weight="bold" fill="#000" textLength="32.5" lengthAdjust="spacingAndGlyphs">29.00</text>
<text x="1195.8" y="300" font-size="14" font-weight="bold" fill="#000" textLength="32.5" lengthAdjust="spacingAndGlyphs">35.00</text>
<text x="732.6" y="188.9" font-size="14" font-weight="bold" fill="#000" textLength="14.4" lengthAdjust="spacingAndGlyphs">74</text>
<text x="736.1" y="204.9" font-size="14" font-weight="bold" fill="#000" textLength="14.4" lengthAdjust="spacingAndGlyphs">72</text>
<text x="739.6" y="221.4" font-size="14" font-weight="bold" fill="#000" textLength="14.4" lengthAdjust="spacingAndGlyphs">70</text>
<text x="742.5" y="237.9" font-size="14" font-weight="bold" fill="#000" textLength="14.4" lengthAdjust="spacingAndGlyphs">68</text>
<text x="745.4" y="254.1" font-size="14" font-weight="bold" fill="#000" textLength="14.4" lengthAdjust="spacingAndGlyphs">66</text>
<text x="748.6" y="270.7" font-size="14" font-weight="bold" fill="#000" textLength="14.4" lengthAdjust="spacingAndGlyphs">64</text>
<text x="752.3" y="286.9" font-size="14" font-weight="bold" fill="#000" textLength="14.4" lengthAdjust="spacingAndGlyphs">62</text>
<text x="755.5" y="303.4" font-size="14" font-weight="bold" fill="#000" textLength="14.4" lengthAdjust="spacingAndGlyphs">60</text>
<text x="758.7" y="319.3" font-size="14" font-weight="bold" fill="#000" textLength="14.4" lengthAdjust="spacingAndGlyphs">58</text>
<text x="46.6" y="502" font-size="21" fill="#000" textLength="272.4" lengthAdjust="spacingAndGlyphs" stroke="#000" stroke-width="0.8">B: initial concentration (mg/L)</text>
<text x="415.8" y="432" font-size="21" fill="#000" textLength="192.6" lengthAdjust="spacingAndGlyphs" stroke="#000" stroke-width="0.8">D: contact time (min)</text>
<text x="1100.5" y="436.4" font-size="21" fill="#000" textLength="195.3" lengthAdjust="spacingAndGlyphs" stroke="#000" stroke-width="0.8">D: contact time (min)</text>
<text x="770.3" y="502" font-size="21" fill="#000" textLength="182.8" lengthAdjust="spacingAndGlyphs" stroke="#000" stroke-width="0.8">C: temperature (<tspan stroke-width="0" font-size="15" dy="-5">°</tspan><tspan stroke-width="0" dx="-2.5" dy="5">C</tspan>)</text>
<text transform="translate(24.6 345.8) rotate(-90)" font-size="21" stroke="#000" stroke-width="0.8" textLength="120" lengthAdjust="spacingAndGlyphs">efficiency (%)</text>
<text transform="translate(705.2 344.4) rotate(-90)" font-size="21" stroke="#000" stroke-width="0.8" textLength="124" lengthAdjust="spacingAndGlyphs">efficiency (%)</text>
<text x="91" y="75" font-size="23" fill="#000">(e)</text>
<text x="767.2" y="72" font-size="23" fill="#000">(f)</text>
<text x="16.5" y="82.5" font-size="12" font-weight="bold" fill="#c00000" textLength="30.5" lengthAdjust="spacingAndGlyphs">81.11</text>
<text x="16.5" y="110.6" font-size="12" font-weight="bold" fill="#0000c0" textLength="31" lengthAdjust="spacingAndGlyphs">44.82</text>
<text x="698.3" y="80.4" font-size="12" font-weight="bold" fill="#c00000" textLength="30.5" lengthAdjust="spacingAndGlyphs">81.11</text>
<text x="698.3" y="109" font-size="12" font-weight="bold" fill="#0000c0" textLength="31" lengthAdjust="spacingAndGlyphs">44.82</text></g>
</svg>
</body></html>
